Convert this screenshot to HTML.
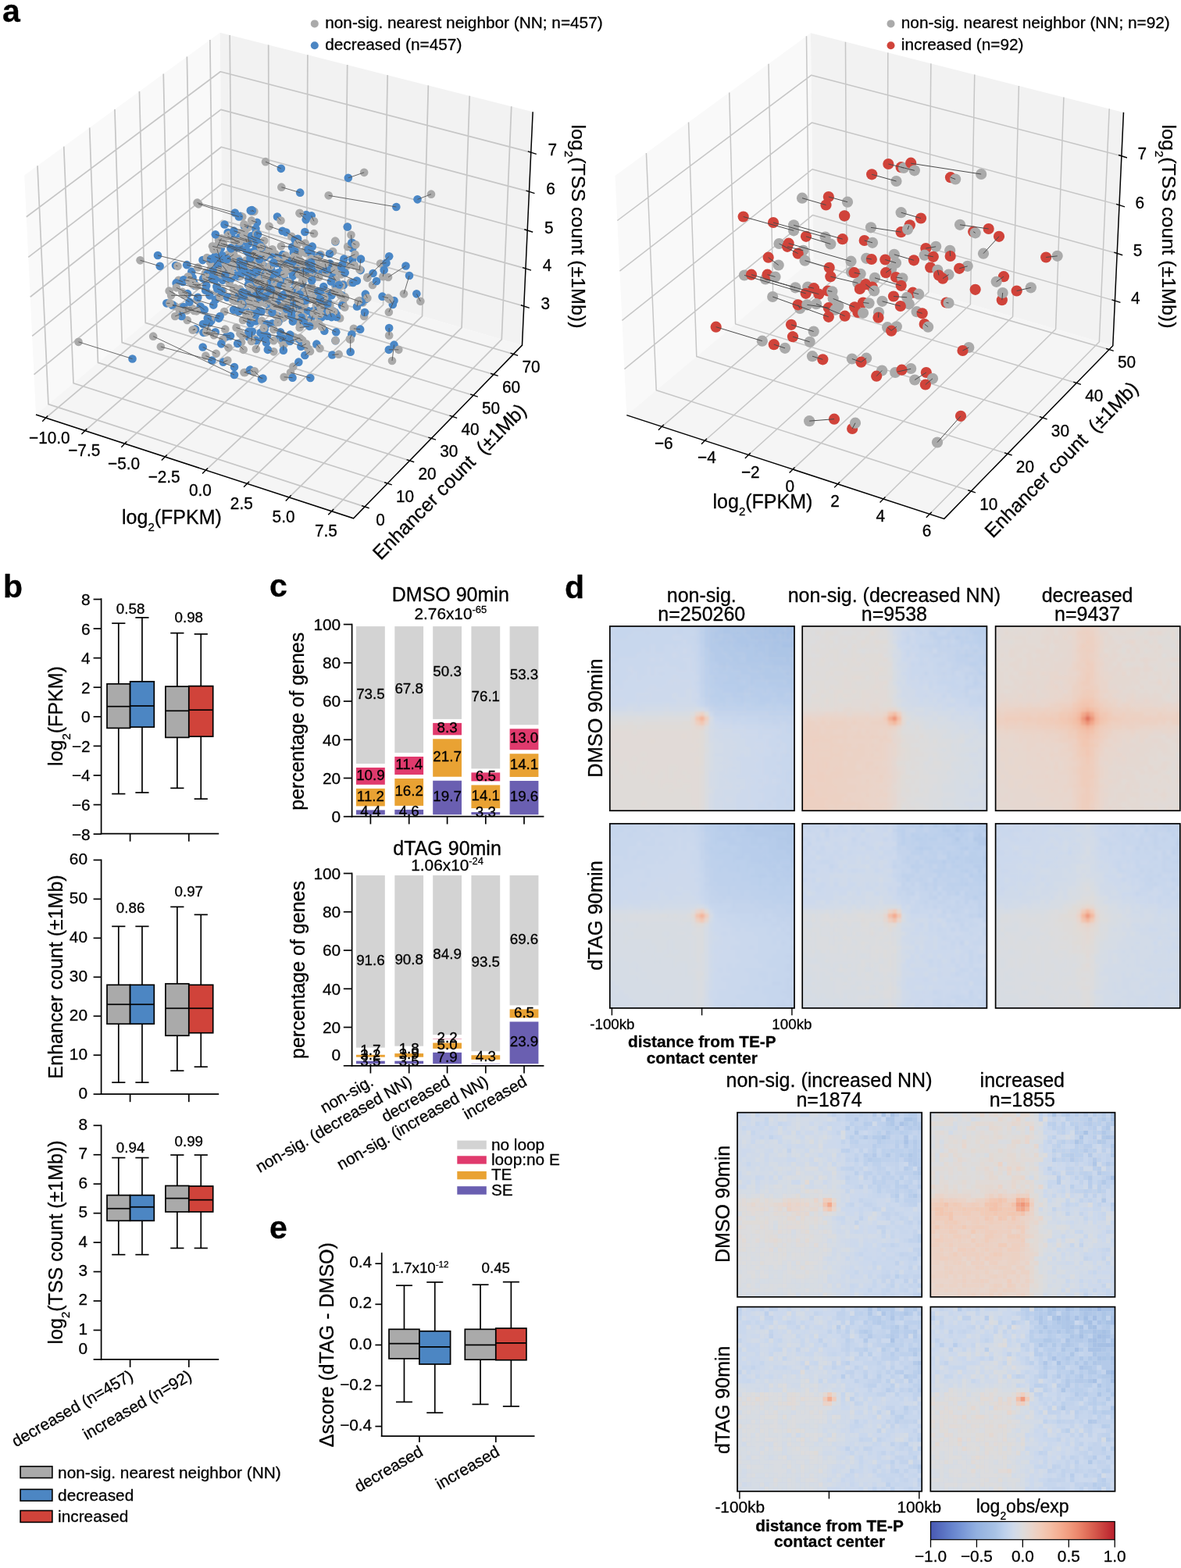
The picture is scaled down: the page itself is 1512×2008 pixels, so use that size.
<!DOCTYPE html>
<html lang="en"><head><meta charset="utf-8"><title>Figure</title><style>html,body{margin:0;padding:0;background:#fff;overflow:hidden}svg{display:block}</style></head><body>
<svg width="1512" height="2008" viewBox="0 0 1512 2008" font-family='"Liberation Sans", sans-serif' fill="#000"><style>text{stroke:#000;stroke-width:.3px;stroke-linejoin:round}</style><defs><clipPath id="hc1"><rect x="780.8" y="802" width="236.2" height="236.2"/></clipPath><filter id="hb16" x="-5%" y="-5%" width="110%" height="110%"><feGaussianBlur stdDeviation="0.28"/></filter><clipPath id="hc2"><rect x="1027.2" y="802" width="236.2" height="236.2"/></clipPath><filter id="hb15" x="-5%" y="-5%" width="110%" height="110%"><feGaussianBlur stdDeviation="0.26"/></filter><clipPath id="hc3"><rect x="1274.6" y="802" width="236.2" height="236.2"/></clipPath><clipPath id="hc4"><rect x="780.8" y="1054.8" width="236.2" height="236.2"/></clipPath><clipPath id="hc5"><rect x="1027.2" y="1054.8" width="236.2" height="236.2"/></clipPath><filter id="hb13" x="-5%" y="-5%" width="110%" height="110%"><feGaussianBlur stdDeviation="0.23"/></filter><clipPath id="hc6"><rect x="1274.6" y="1054.8" width="236.2" height="236.2"/></clipPath><filter id="hb14" x="-5%" y="-5%" width="110%" height="110%"><feGaussianBlur stdDeviation="0.24"/></filter><clipPath id="hc7"><rect x="944" y="1424.7" width="236.2" height="236.2"/></clipPath><filter id="hb5" x="-5%" y="-5%" width="110%" height="110%"><feGaussianBlur stdDeviation="0.09"/></filter><clipPath id="hc8"><rect x="1191.3" y="1424.7" width="236.2" height="236.2"/></clipPath><clipPath id="hc9"><rect x="944" y="1673.6" width="236.2" height="236.2"/></clipPath><clipPath id="hc10"><rect x="1191.3" y="1673.6" width="236.2" height="236.2"/></clipPath><linearGradient id="cb" x1="0" x2="1" y1="0" y2="0"><stop offset="0" stop-color="#4858b2"/><stop offset="0.05" stop-color="#556bbe"/><stop offset="0.1" stop-color="#627eca"/><stop offset="0.15" stop-color="#718fd3"/><stop offset="0.2" stop-color="#82a0da"/><stop offset="0.25" stop-color="#92b0e0"/><stop offset="0.3" stop-color="#9db9e2"/><stop offset="0.35" stop-color="#a8c2e5"/><stop offset="0.4" stop-color="#bcd0ec"/><stop offset="0.45" stop-color="#cfdaea"/><stop offset="0.5" stop-color="#dddcdc"/><stop offset="0.55" stop-color="#e9d5cb"/><stop offset="0.6" stop-color="#f1cbb8"/><stop offset="0.65" stop-color="#f4bea5"/><stop offset="0.7" stop-color="#f4ae92"/><stop offset="0.75" stop-color="#f19c7f"/><stop offset="0.8" stop-color="#eb876c"/><stop offset="0.85" stop-color="#e06e59"/><stop offset="0.9" stop-color="#d35449"/><stop offset="0.95" stop-color="#c6393a"/><stop offset="1" stop-color="#b81e2c"/></linearGradient></defs>
<rect x="0" y="0" width="1512" height="2008" fill="#fff"/>
<polygon points="45.98,531 284.97,330.67 281.65,41.76 31.22,224.51" fill="#f9f9f9"/>
<polygon points="284.97,330.67 668.48,442.14 682.16,143.28 281.65,41.76" fill="#f2f2f2"/>
<polygon points="45.98,531 452.51,663.78 668.48,442.14 284.97,330.67" fill="#f5f5f5"/>
<path d="M58.64 535.14L296.97 334.16L294.15 44.93M108.83 551.53L344.49 347.97L343.69 57.49M159.69 568.14L392.59 361.95L393.87 70.2M211.24 584.98L441.29 376.11L444.69 83.09M263.5 602.05L490.59 390.44L496.18 96.14M316.47 619.35L540.52 404.95L548.34 109.36M370.17 636.89L591.08 419.65L601.19 122.75M424.62 654.67L642.28 434.53L654.75 136.33M466.99 648.92L61.93 517.63L48 212.27M496.1 619.05L94.04 490.71L81.74 187.65M524.53 589.86L125.45 464.39L114.7 163.59M552.32 561.34L156.17 438.63L146.92 140.08M579.49 533.46L186.24 413.43L178.43 117.09M606.06 506.2L215.68 388.75L209.24 94.6M632.04 479.54L244.5 364.6L239.37 72.61M657.45 453.45L272.72 340.94L268.86 51.09M43.51 479.71L284.41 282.16L670.77 392.05M41.13 430.34L283.88 235.54L672.98 343.87M38.72 380.24L283.33 188.28L675.21 295M36.27 329.37L282.78 140.36L677.48 245.41M33.78 277.74L282.22 91.77L679.79 195.1" fill="none" stroke="#c6c6c6" stroke-width="1.7" stroke-linejoin="round"/>
<polygon points="802.28,531.6 1041.27,331.27 1037.95,42.36 787.52,225.11" fill="#f9f9f9"/>
<polygon points="1041.27,331.27 1424.78,442.74 1438.46,143.88 1037.95,42.36" fill="#f2f2f2"/>
<polygon points="802.28,531.6 1208.81,664.38 1424.78,442.74 1041.27,331.27" fill="#f5f5f5"/>
<path d="M847.35 546.33L1083.96 343.68L1082.45 53.64M902.42 564.31L1136.05 358.82L1136.78 67.41M958.29 582.56L1188.85 374.17L1191.87 81.37M1014.99 601.08L1242.36 389.72L1247.75 95.54M1072.54 619.87L1296.6 405.49L1304.41 109.9M1130.95 638.95L1351.59 421.47L1361.9 124.47M1190.24 658.31L1407.34 437.67L1420.21 139.25M1243.24 629.04L840.24 499.78L827.42 195.99M1289.94 581.12L891.81 456.56L881.56 156.49M1334.91 534.97L941.57 414.85L933.71 118.43M1378.25 490.48L989.61 374.58L983.98 81.75M1420.05 447.59L1036.03 335.67L1032.47 46.36M799.43 472.57L1040.63 275.45L1427.41 385.1M796.44 410.39L1039.95 216.75L1430.19 324.43M793.39 347.05L1039.27 157.04L1433.02 262.65M790.28 282.49L1038.57 96.28L1435.9 199.75" fill="none" stroke="#c6c6c6" stroke-width="1.5" stroke-linejoin="round"/>
<g fill="#4a87c6"><circle cx="339.19" cy="345.52" r="5.3"/></g><g fill="#aaaaaa"><circle cx="349.48" cy="349.12" r="5.3"/><circle cx="331.92" cy="368.88" r="5.3"/></g><g fill="#4a87c6"><circle cx="360.75" cy="379.65" r="5.3"/><circle cx="337.64" cy="340.57" r="5.3"/></g><g fill="#aaaaaa"><circle cx="304.84" cy="331.23" r="5.3"/></g><g fill="#4a87c6"><circle cx="316.97" cy="348.71" r="5.3"/></g><g fill="#aaaaaa"><circle cx="317.81" cy="349.09" r="5.3"/></g><g fill="#4a87c6"><circle cx="314.97" cy="344.61" r="5.3"/></g><g fill="#aaaaaa"><circle cx="316.35" cy="345.08" r="5.3"/></g><g fill="#4a87c6"><circle cx="375.92" cy="342.77" r="5.3"/></g><g fill="#aaaaaa"><circle cx="384.66" cy="343.34" r="5.3"/><circle cx="383.35" cy="411.53" r="5.3"/></g><g fill="#4a87c6"><circle cx="384.95" cy="415.29" r="5.3"/><circle cx="387.09" cy="362.68" r="5.3"/></g><g fill="#aaaaaa"><circle cx="398.69" cy="366.57" r="5.3"/><circle cx="295.28" cy="380.04" r="5.3"/></g><g fill="#4a87c6"><circle cx="307.39" cy="382.62" r="5.3"/><circle cx="451.18" cy="332.42" r="5.3"/></g><g fill="#aaaaaa"><circle cx="443.94" cy="340.42" r="5.3"/></g><g fill="#4a87c6"><circle cx="370.26" cy="346.42" r="5.3"/></g><g fill="#aaaaaa"><circle cx="386.78" cy="349.46" r="5.3"/><circle cx="403.04" cy="346.66" r="5.3"/></g><g fill="#4a87c6"><circle cx="386.98" cy="341.91" r="5.3"/><circle cx="430.43" cy="359.69" r="5.3"/></g><g fill="#aaaaaa"><circle cx="425.91" cy="353.27" r="5.3"/></g><g fill="#4a87c6"><circle cx="404.85" cy="341.55" r="5.3"/></g><g fill="#aaaaaa"><circle cx="416.29" cy="346.02" r="5.3"/><circle cx="325.74" cy="433.81" r="5.3"/></g><g fill="#4a87c6"><circle cx="340.96" cy="438.73" r="5.3"/><circle cx="382.18" cy="391.6" r="5.3"/></g><g fill="#aaaaaa"><circle cx="330.92" cy="375.23" r="5.3"/><circle cx="310.54" cy="316.21" r="5.3"/></g><g fill="#4a87c6"><circle cx="306.67" cy="316.62" r="5.3"/></g><g fill="#aaaaaa"><circle cx="431.34" cy="403.06" r="5.3"/></g><g fill="#4a87c6"><circle cx="430.29" cy="402.78" r="5.3"/><circle cx="388.71" cy="384.22" r="5.3"/></g><g fill="#aaaaaa"><circle cx="368.78" cy="378.04" r="5.3"/><circle cx="436.6" cy="351.42" r="5.3"/></g><g fill="#4a87c6"><circle cx="456.85" cy="359.62" r="5.3"/></g><g fill="#aaaaaa"><circle cx="327.91" cy="324.66" r="5.3"/></g><g fill="#4a87c6"><circle cx="322.45" cy="322.98" r="5.3"/><circle cx="332.51" cy="360.85" r="5.3"/></g><g fill="#aaaaaa"><circle cx="335.63" cy="362.32" r="5.3"/><circle cx="389.48" cy="383.29" r="5.3"/></g><g fill="#4a87c6"><circle cx="426.04" cy="398.31" r="5.3"/><circle cx="327.68" cy="297.45" r="5.3"/></g><g fill="#aaaaaa"><circle cx="391.11" cy="320.39" r="5.3"/><circle cx="337.95" cy="366" r="5.3"/></g><g fill="#4a87c6"><circle cx="325.5" cy="361.7" r="5.3"/><circle cx="275.8" cy="341.99" r="5.3"/></g><g fill="#aaaaaa"><circle cx="283.43" cy="344.43" r="5.3"/></g><g fill="#4a87c6"><circle cx="317.9" cy="364.53" r="5.3"/></g><g fill="#aaaaaa"><circle cx="334.46" cy="370.8" r="5.3"/></g><g fill="#4a87c6"><circle cx="315.19" cy="348.54" r="5.3"/></g><g fill="#aaaaaa"><circle cx="327.99" cy="353.21" r="5.3"/></g><g fill="#4a87c6"><circle cx="362.15" cy="342.89" r="5.3"/></g><g fill="#aaaaaa"><circle cx="326.42" cy="326.52" r="5.3"/></g><g fill="#4a87c6"><circle cx="424.24" cy="375.42" r="5.3"/></g><g fill="#aaaaaa"><circle cx="441.25" cy="380.02" r="5.3"/></g><g fill="#4a87c6"><circle cx="424.86" cy="350.02" r="5.3"/></g><g fill="#aaaaaa"><circle cx="392.59" cy="337.46" r="5.3"/><circle cx="283.38" cy="305.4" r="5.3"/></g><g fill="#4a87c6"><circle cx="277.7" cy="316.66" r="5.3"/></g><g fill="#aaaaaa"><circle cx="405.93" cy="352.58" r="5.3"/></g><g fill="#4a87c6"><circle cx="407.73" cy="353.21" r="5.3"/><circle cx="275.85" cy="383.66" r="5.3"/></g><g fill="#aaaaaa"><circle cx="308.03" cy="395.41" r="5.3"/><circle cx="316.18" cy="407.7" r="5.3"/></g><g fill="#4a87c6"><circle cx="327.55" cy="411.16" r="5.3"/></g><g fill="#aaaaaa"><circle cx="412.75" cy="401.95" r="5.3"/></g><g fill="#4a87c6"><circle cx="419.17" cy="404.64" r="5.3"/></g><g fill="#aaaaaa"><circle cx="358.95" cy="406.01" r="5.3"/></g><g fill="#4a87c6"><circle cx="355.48" cy="404.76" r="5.3"/><circle cx="418.51" cy="344.91" r="5.3"/></g><g fill="#aaaaaa"><circle cx="379.37" cy="328.8" r="5.3"/></g><g fill="#4a87c6"><circle cx="375.6" cy="339.63" r="5.3"/></g><g fill="#aaaaaa"><circle cx="358.53" cy="333.07" r="5.3"/></g><g fill="#4a87c6"><circle cx="270.35" cy="410.8" r="5.3"/></g><g fill="#aaaaaa"><circle cx="269.06" cy="409.22" r="5.3"/></g><g fill="#4a87c6"><circle cx="357.71" cy="432.96" r="5.3"/></g><g fill="#aaaaaa"><circle cx="394.18" cy="446.36" r="5.3"/><circle cx="335.72" cy="330.28" r="5.3"/></g><g fill="#4a87c6"><circle cx="282.75" cy="311.61" r="5.3"/><circle cx="366.37" cy="297.48" r="5.3"/></g><g fill="#aaaaaa"><circle cx="390.62" cy="311.47" r="5.3"/></g><g fill="#4a87c6"><circle cx="341.14" cy="388.69" r="5.3"/></g><g fill="#aaaaaa"><circle cx="340.43" cy="388.49" r="5.3"/><circle cx="349.48" cy="382.8" r="5.3"/></g><g fill="#4a87c6"><circle cx="350.52" cy="373.29" r="5.3"/><circle cx="421.78" cy="349.96" r="5.3"/></g><g fill="#aaaaaa"><circle cx="428.72" cy="345.53" r="5.3"/><circle cx="334.98" cy="367.54" r="5.3"/></g><g fill="#4a87c6"><circle cx="333.57" cy="368.48" r="5.3"/></g><g fill="#aaaaaa"><circle cx="322.41" cy="403.41" r="5.3"/></g><g fill="#4a87c6"><circle cx="321.68" cy="401.4" r="5.3"/><circle cx="422.28" cy="337.47" r="5.3"/></g><g fill="#aaaaaa"><circle cx="431.76" cy="340.94" r="5.3"/></g><g fill="#4a87c6"><circle cx="347.98" cy="326.14" r="5.3"/></g><g fill="#aaaaaa"><circle cx="332.35" cy="321.77" r="5.3"/></g><g fill="#4a87c6"><circle cx="451.3" cy="317.96" r="5.3"/></g><g fill="#aaaaaa"><circle cx="445.12" cy="315.92" r="5.3"/></g><g fill="#4a87c6"><circle cx="316.49" cy="374.83" r="5.3"/></g><g fill="#aaaaaa"><circle cx="332.12" cy="381.78" r="5.3"/><circle cx="420" cy="376.35" r="5.3"/></g><g fill="#4a87c6"><circle cx="424.5" cy="378.31" r="5.3"/></g><g fill="#aaaaaa"><circle cx="347.31" cy="366.51" r="5.3"/></g><g fill="#4a87c6"><circle cx="318.94" cy="355.72" r="5.3"/><circle cx="347.45" cy="359.09" r="5.3"/></g><g fill="#aaaaaa"><circle cx="345.26" cy="359.3" r="5.3"/></g><g fill="#4a87c6"><circle cx="382.28" cy="373.89" r="5.3"/></g><g fill="#aaaaaa"><circle cx="383.06" cy="374.12" r="5.3"/></g><g fill="#4a87c6"><circle cx="373.67" cy="371.8" r="5.3"/></g><g fill="#aaaaaa"><circle cx="379.14" cy="365.03" r="5.3"/><circle cx="401.23" cy="382.23" r="5.3"/></g><g fill="#4a87c6"><circle cx="406.16" cy="384.04" r="5.3"/></g><g fill="#aaaaaa"><circle cx="317.69" cy="304.26" r="5.3"/></g><g fill="#4a87c6"><circle cx="318.42" cy="309.11" r="5.3"/></g><g fill="#aaaaaa"><circle cx="357.51" cy="392.65" r="5.3"/></g><g fill="#4a87c6"><circle cx="371.97" cy="399.01" r="5.3"/></g><g fill="#aaaaaa"><circle cx="464.46" cy="387.52" r="5.3"/></g><g fill="#4a87c6"><circle cx="437.33" cy="378.06" r="5.3"/><circle cx="291.72" cy="297.87" r="5.3"/></g><g fill="#aaaaaa"><circle cx="292.79" cy="300.78" r="5.3"/><circle cx="365.3" cy="328.42" r="5.3"/></g><g fill="#4a87c6"><circle cx="351.89" cy="325.73" r="5.3"/><circle cx="348.59" cy="414.31" r="5.3"/></g><g fill="#aaaaaa"><circle cx="335.11" cy="410.76" r="5.3"/><circle cx="341.76" cy="364.54" r="5.3"/></g><g fill="#4a87c6"><circle cx="329.58" cy="374.98" r="5.3"/></g><g fill="#aaaaaa"><circle cx="279.07" cy="352.09" r="5.3"/></g><g fill="#4a87c6"><circle cx="268.95" cy="348.76" r="5.3"/></g><g fill="#aaaaaa"><circle cx="313.97" cy="345.15" r="5.3"/></g><g fill="#4a87c6"><circle cx="308.08" cy="341.83" r="5.3"/><circle cx="394.56" cy="410.29" r="5.3"/></g><g fill="#aaaaaa"><circle cx="382.54" cy="404.97" r="5.3"/></g><g fill="#4a87c6"><circle cx="401.25" cy="398" r="5.3"/></g><g fill="#aaaaaa"><circle cx="405.8" cy="395.68" r="5.3"/></g><g fill="#4a87c6"><circle cx="334.45" cy="337.57" r="5.3"/></g><g fill="#aaaaaa"><circle cx="335.45" cy="337.98" r="5.3"/><circle cx="282.41" cy="331.59" r="5.3"/></g><g fill="#4a87c6"><circle cx="275.26" cy="328.61" r="5.3"/><circle cx="346.43" cy="369.06" r="5.3"/></g><g fill="#aaaaaa"><circle cx="304.05" cy="352.72" r="5.3"/><circle cx="382.57" cy="325.42" r="5.3"/></g><g fill="#4a87c6"><circle cx="375.89" cy="323.43" r="5.3"/><circle cx="352.5" cy="366.4" r="5.3"/></g><g fill="#aaaaaa"><circle cx="409.3" cy="391.42" r="5.3"/><circle cx="319.82" cy="345.5" r="5.3"/></g><g fill="#4a87c6"><circle cx="324.4" cy="347.21" r="5.3"/></g><g fill="#aaaaaa"><circle cx="386.14" cy="400.66" r="5.3"/></g><g fill="#4a87c6"><circle cx="347.55" cy="390.05" r="5.3"/></g><g fill="#aaaaaa"><circle cx="324.92" cy="357.54" r="5.3"/></g><g fill="#4a87c6"><circle cx="338.19" cy="360.64" r="5.3"/></g><g fill="#aaaaaa"><circle cx="429.16" cy="365.73" r="5.3"/></g><g fill="#4a87c6"><circle cx="430.84" cy="366.54" r="5.3"/></g><g fill="#aaaaaa"><circle cx="326.41" cy="325" r="5.3"/></g><g fill="#4a87c6"><circle cx="323.9" cy="328.13" r="5.3"/><circle cx="289.69" cy="431.21" r="5.3"/></g><g fill="#aaaaaa"><circle cx="309.1" cy="438.29" r="5.3"/><circle cx="467.58" cy="382.57" r="5.3"/></g><g fill="#4a87c6"><circle cx="468.47" cy="382.9" r="5.3"/><circle cx="362.56" cy="406.66" r="5.3"/></g><g fill="#aaaaaa"><circle cx="352.75" cy="403.28" r="5.3"/></g><g fill="#4a87c6"><circle cx="327.54" cy="369.29" r="5.3"/></g><g fill="#aaaaaa"><circle cx="329.32" cy="378.44" r="5.3"/><circle cx="387.08" cy="411.87" r="5.3"/></g><g fill="#4a87c6"><circle cx="384.73" cy="410.89" r="5.3"/></g><g fill="#aaaaaa"><circle cx="262.53" cy="352.24" r="5.3"/></g><g fill="#4a87c6"><circle cx="245.31" cy="347.91" r="5.3"/><circle cx="330.3" cy="381.95" r="5.3"/></g><g fill="#aaaaaa"><circle cx="320.39" cy="378.27" r="5.3"/></g><g fill="#4a87c6"><circle cx="316.2" cy="375.74" r="5.3"/></g><g fill="#aaaaaa"><circle cx="333.34" cy="381.33" r="5.3"/><circle cx="438.47" cy="364.4" r="5.3"/></g><g fill="#4a87c6"><circle cx="439.83" cy="364.92" r="5.3"/></g><g fill="#aaaaaa"><circle cx="376.78" cy="396.07" r="5.3"/></g><g fill="#4a87c6"><circle cx="355.69" cy="389.48" r="5.3"/><circle cx="366.37" cy="363.76" r="5.3"/></g><g fill="#aaaaaa"><circle cx="335.39" cy="354.76" r="5.3"/><circle cx="332.54" cy="397.74" r="5.3"/></g><g fill="#4a87c6"><circle cx="327.69" cy="394.24" r="5.3"/></g><g fill="#aaaaaa"><circle cx="364.7" cy="389.01" r="5.3"/></g><g fill="#4a87c6"><circle cx="394.19" cy="398.1" r="5.3"/><circle cx="371.33" cy="360.59" r="5.3"/></g><g fill="#aaaaaa"><circle cx="435.97" cy="378.29" r="5.3"/><circle cx="438.99" cy="388.1" r="5.3"/></g><g fill="#4a87c6"><circle cx="438.04" cy="391.2" r="5.3"/></g><g fill="#aaaaaa"><circle cx="300.99" cy="385.5" r="5.3"/></g><g fill="#4a87c6"><circle cx="307.34" cy="386.82" r="5.3"/></g><g fill="#aaaaaa"><circle cx="401.35" cy="328.24" r="5.3"/></g><g fill="#4a87c6"><circle cx="438.24" cy="339.12" r="5.3"/><circle cx="275.7" cy="425.29" r="5.3"/></g><g fill="#aaaaaa"><circle cx="239.71" cy="410" r="5.3"/><circle cx="277.31" cy="366.91" r="5.3"/></g><g fill="#4a87c6"><circle cx="277.5" cy="366.98" r="5.3"/><circle cx="324.46" cy="374.98" r="5.3"/></g><g fill="#aaaaaa"><circle cx="323.51" cy="374.81" r="5.3"/><circle cx="331.07" cy="327.15" r="5.3"/></g><g fill="#4a87c6"><circle cx="317.61" cy="323.25" r="5.3"/></g><g fill="#aaaaaa"><circle cx="311.05" cy="410" r="5.3"/></g><g fill="#4a87c6"><circle cx="320.75" cy="414.16" r="5.3"/><circle cx="296.16" cy="302.82" r="5.3"/></g><g fill="#aaaaaa"><circle cx="321.61" cy="310.59" r="5.3"/><circle cx="273.97" cy="429.25" r="5.3"/></g><g fill="#4a87c6"><circle cx="261.5" cy="425.73" r="5.3"/></g><g fill="#aaaaaa"><circle cx="410.47" cy="325.71" r="5.3"/></g><g fill="#4a87c6"><circle cx="409.14" cy="327.37" r="5.3"/></g><g fill="#aaaaaa"><circle cx="404.86" cy="391.33" r="5.3"/></g><g fill="#4a87c6"><circle cx="407.53" cy="392.46" r="5.3"/></g><g fill="#aaaaaa"><circle cx="394.6" cy="372.26" r="5.3"/></g><g fill="#4a87c6"><circle cx="410.87" cy="376.81" r="5.3"/><circle cx="295.53" cy="317.38" r="5.3"/></g><g fill="#aaaaaa"><circle cx="279.02" cy="313.42" r="5.3"/></g><g fill="#4a87c6"><circle cx="348.35" cy="356.06" r="5.3"/></g><g fill="#aaaaaa"><circle cx="347.69" cy="355.82" r="5.3"/><circle cx="317.81" cy="291.19" r="5.3"/></g><g fill="#4a87c6"><circle cx="312.93" cy="289.61" r="5.3"/></g><g fill="#aaaaaa"><circle cx="287.14" cy="399" r="5.3"/></g><g fill="#4a87c6"><circle cx="321.99" cy="410.33" r="5.3"/></g><g fill="#aaaaaa"><circle cx="332.09" cy="361.67" r="5.3"/></g><g fill="#4a87c6"><circle cx="327.32" cy="360.26" r="5.3"/></g><g fill="#aaaaaa"><circle cx="382.18" cy="323.11" r="5.3"/></g><g fill="#4a87c6"><circle cx="377.2" cy="321.34" r="5.3"/><circle cx="282.71" cy="318.21" r="5.3"/></g><g fill="#aaaaaa"><circle cx="272.02" cy="315.29" r="5.3"/></g><g fill="#4a87c6"><circle cx="395.31" cy="342.83" r="5.3"/></g><g fill="#aaaaaa"><circle cx="404.09" cy="347.7" r="5.3"/><circle cx="228.67" cy="358.85" r="5.3"/></g><g fill="#4a87c6"><circle cx="234.17" cy="361.03" r="5.3"/><circle cx="375.85" cy="331.75" r="5.3"/></g><g fill="#aaaaaa"><circle cx="394.07" cy="337.3" r="5.3"/><circle cx="398.4" cy="411.08" r="5.3"/></g><g fill="#4a87c6"><circle cx="400.35" cy="404.36" r="5.3"/><circle cx="225.62" cy="362.41" r="5.3"/></g><g fill="#aaaaaa"><circle cx="263.41" cy="371.19" r="5.3"/></g><g fill="#4a87c6"><circle cx="279.71" cy="347.73" r="5.3"/></g><g fill="#aaaaaa"><circle cx="279.75" cy="347.87" r="5.3"/></g><g fill="#4a87c6"><circle cx="290.6" cy="347.21" r="5.3"/></g><g fill="#aaaaaa"><circle cx="284.59" cy="339.82" r="5.3"/><circle cx="334.67" cy="399.15" r="5.3"/></g><g fill="#4a87c6"><circle cx="334.33" cy="398.9" r="5.3"/></g><g fill="#aaaaaa"><circle cx="400.66" cy="342.33" r="5.3"/></g><g fill="#4a87c6"><circle cx="368.69" cy="333.57" r="5.3"/><circle cx="323.43" cy="342.56" r="5.3"/></g><g fill="#aaaaaa"><circle cx="341.83" cy="346.55" r="5.3"/></g><g fill="#4a87c6"><circle cx="240.11" cy="355.53" r="5.3"/></g><g fill="#aaaaaa"><circle cx="300.72" cy="368.9" r="5.3"/></g><g fill="#4a87c6"><circle cx="274.92" cy="319.89" r="5.3"/></g><g fill="#aaaaaa"><circle cx="273.44" cy="319.42" r="5.3"/></g><g fill="#4a87c6"><circle cx="315.58" cy="389.01" r="5.3"/></g><g fill="#aaaaaa"><circle cx="324.42" cy="391.02" r="5.3"/></g><g fill="#4a87c6"><circle cx="353.64" cy="367.27" r="5.3"/></g><g fill="#aaaaaa"><circle cx="352.23" cy="366.74" r="5.3"/></g><g fill="#4a87c6"><circle cx="371.6" cy="372.92" r="5.3"/></g><g fill="#aaaaaa"><circle cx="355.54" cy="368.13" r="5.3"/></g><g fill="#4a87c6"><circle cx="372.58" cy="383.31" r="5.3"/></g><g fill="#aaaaaa"><circle cx="390.11" cy="390.09" r="5.3"/></g><g fill="#4a87c6"><circle cx="344.98" cy="371.57" r="5.3"/></g><g fill="#aaaaaa"><circle cx="344.6" cy="372.6" r="5.3"/></g><g fill="#4a87c6"><circle cx="429.38" cy="309.42" r="5.3"/></g><g fill="#aaaaaa"><circle cx="429.19" cy="308.63" r="5.3"/></g><g fill="#4a87c6"><circle cx="405.12" cy="402.56" r="5.3"/></g><g fill="#aaaaaa"><circle cx="401.76" cy="401.35" r="5.3"/><circle cx="388.84" cy="406.04" r="5.3"/></g><g fill="#4a87c6"><circle cx="385.78" cy="406.52" r="5.3"/><circle cx="344.59" cy="347.94" r="5.3"/></g><g fill="#aaaaaa"><circle cx="348.22" cy="349.21" r="5.3"/><circle cx="307.42" cy="427.27" r="5.3"/></g><g fill="#4a87c6"><circle cx="318.04" cy="431.37" r="5.3"/><circle cx="260.16" cy="356.84" r="5.3"/></g><g fill="#aaaaaa"><circle cx="317.89" cy="382.05" r="5.3"/></g><g fill="#4a87c6"><circle cx="220.82" cy="390.93" r="5.3"/></g><g fill="#aaaaaa"><circle cx="223.83" cy="392.1" r="5.3"/><circle cx="433.34" cy="347.6" r="5.3"/></g><g fill="#4a87c6"><circle cx="441.69" cy="349.34" r="5.3"/><circle cx="354.59" cy="337.17" r="5.3"/></g><g fill="#aaaaaa"><circle cx="381.98" cy="342.98" r="5.3"/><circle cx="391.32" cy="324.09" r="5.3"/></g><g fill="#4a87c6"><circle cx="398.45" cy="324.73" r="5.3"/></g><g fill="#aaaaaa"><circle cx="304.26" cy="373.17" r="5.3"/></g><g fill="#4a87c6"><circle cx="311.71" cy="379.71" r="5.3"/></g><g fill="#aaaaaa"><circle cx="448.91" cy="361.66" r="5.3"/></g><g fill="#4a87c6"><circle cx="451.96" cy="362" r="5.3"/></g><g fill="#aaaaaa"><circle cx="363.94" cy="404.02" r="5.3"/></g><g fill="#4a87c6"><circle cx="386.56" cy="410.25" r="5.3"/></g><g fill="#aaaaaa"><circle cx="441.94" cy="381.22" r="5.3"/></g><g fill="#4a87c6"><circle cx="425.18" cy="376.22" r="5.3"/></g><g fill="#aaaaaa"><circle cx="310.6" cy="430.1" r="5.3"/></g><g fill="#4a87c6"><circle cx="327.8" cy="436.16" r="5.3"/></g><g fill="#aaaaaa"><circle cx="294.74" cy="334.1" r="5.3"/></g><g fill="#4a87c6"><circle cx="301.92" cy="336.06" r="5.3"/></g><g fill="#aaaaaa"><circle cx="425.53" cy="341.47" r="5.3"/></g><g fill="#4a87c6"><circle cx="420.15" cy="339.02" r="5.3"/><circle cx="339.03" cy="320.96" r="5.3"/></g><g fill="#aaaaaa"><circle cx="339.3" cy="321.04" r="5.3"/></g><g fill="#4a87c6"><circle cx="399.76" cy="315.64" r="5.3"/></g><g fill="#aaaaaa"><circle cx="381.59" cy="310.16" r="5.3"/><circle cx="342.3" cy="367.44" r="5.3"/></g><g fill="#4a87c6"><circle cx="342" cy="360.46" r="5.3"/></g><g fill="#aaaaaa"><circle cx="361.75" cy="337.58" r="5.3"/></g><g fill="#4a87c6"><circle cx="395.84" cy="350.6" r="5.3"/><circle cx="329.03" cy="284.84" r="5.3"/></g><g fill="#aaaaaa"><circle cx="322.06" cy="282.41" r="5.3"/><circle cx="359.89" cy="408.24" r="5.3"/></g><g fill="#4a87c6"><circle cx="314.94" cy="398.53" r="5.3"/><circle cx="285.1" cy="358.83" r="5.3"/></g><g fill="#aaaaaa"><circle cx="293.71" cy="362.15" r="5.3"/></g><g fill="#4a87c6"><circle cx="339.32" cy="329.37" r="5.3"/></g><g fill="#aaaaaa"><circle cx="335.84" cy="327.96" r="5.3"/><circle cx="322.22" cy="271.02" r="5.3"/></g><g fill="#4a87c6"><circle cx="320.8" cy="269.45" r="5.3"/></g><g fill="#aaaaaa"><circle cx="368.92" cy="383.07" r="5.3"/></g><g fill="#4a87c6"><circle cx="381.34" cy="386.91" r="5.3"/><circle cx="374.1" cy="316.4" r="5.3"/></g><g fill="#aaaaaa"><circle cx="359.91" cy="315.34" r="5.3"/><circle cx="338.45" cy="318.54" r="5.3"/></g><g fill="#4a87c6"><circle cx="317.85" cy="311.97" r="5.3"/></g><g fill="#aaaaaa"><circle cx="419.46" cy="395.44" r="5.3"/></g><g fill="#4a87c6"><circle cx="420.56" cy="395.83" r="5.3"/><circle cx="324.37" cy="344.24" r="5.3"/></g><g fill="#aaaaaa"><circle cx="290.99" cy="330.46" r="5.3"/><circle cx="334.22" cy="362.57" r="5.3"/></g><g fill="#4a87c6"><circle cx="420.2" cy="387.38" r="5.3"/></g><g fill="#aaaaaa"><circle cx="285.07" cy="352.36" r="5.3"/></g><g fill="#4a87c6"><circle cx="287.34" cy="352.97" r="5.3"/></g><g fill="#aaaaaa"><circle cx="300.37" cy="397.35" r="5.3"/></g><g fill="#4a87c6"><circle cx="299.13" cy="396.71" r="5.3"/><circle cx="361.63" cy="295.71" r="5.3"/></g><g fill="#aaaaaa"><circle cx="344.56" cy="289.73" r="5.3"/><circle cx="233.18" cy="373.86" r="5.3"/></g><g fill="#4a87c6"><circle cx="240.1" cy="376.16" r="5.3"/></g><g fill="#aaaaaa"><circle cx="426.1" cy="322.1" r="5.3"/></g><g fill="#4a87c6"><circle cx="421.99" cy="324.94" r="5.3"/></g><g fill="#aaaaaa"><circle cx="403.62" cy="373.84" r="5.3"/></g><g fill="#4a87c6"><circle cx="418.81" cy="380.33" r="5.3"/></g><g fill="#aaaaaa"><circle cx="307.72" cy="298.46" r="5.3"/></g><g fill="#4a87c6"><circle cx="299.33" cy="295.65" r="5.3"/><circle cx="389.07" cy="373.1" r="5.3"/></g><g fill="#aaaaaa"><circle cx="390.05" cy="373.38" r="5.3"/><circle cx="367.56" cy="378.7" r="5.3"/></g><g fill="#4a87c6"><circle cx="376.58" cy="382.49" r="5.3"/></g><g fill="#aaaaaa"><circle cx="352.13" cy="325.07" r="5.3"/></g><g fill="#4a87c6"><circle cx="377.99" cy="332.07" r="5.3"/><circle cx="412.63" cy="348.48" r="5.3"/></g><g fill="#aaaaaa"><circle cx="417.4" cy="349.66" r="5.3"/></g><g fill="#4a87c6"><circle cx="437.08" cy="341.85" r="5.3"/></g><g fill="#aaaaaa"><circle cx="407" cy="331.51" r="5.3"/><circle cx="378.38" cy="408.68" r="5.3"/></g><g fill="#4a87c6"><circle cx="385.65" cy="411.04" r="5.3"/></g><g fill="#aaaaaa"><circle cx="355.44" cy="376.25" r="5.3"/></g><g fill="#4a87c6"><circle cx="338.19" cy="369.75" r="5.3"/><circle cx="375.11" cy="396.14" r="5.3"/></g><g fill="#aaaaaa"><circle cx="375.34" cy="385.78" r="5.3"/><circle cx="330.34" cy="311.24" r="5.3"/></g><g fill="#4a87c6"><circle cx="306.89" cy="304.24" r="5.3"/><circle cx="320.86" cy="374.72" r="5.3"/></g><g fill="#aaaaaa"><circle cx="307.11" cy="370.25" r="5.3"/></g><g fill="#4a87c6"><circle cx="384.23" cy="414.99" r="5.3"/></g><g fill="#aaaaaa"><circle cx="383.89" cy="414.89" r="5.3"/></g><g fill="#4a87c6"><circle cx="318.41" cy="424.7" r="5.3"/></g><g fill="#aaaaaa"><circle cx="302.55" cy="419.54" r="5.3"/><circle cx="314.63" cy="390.45" r="5.3"/></g><g fill="#4a87c6"><circle cx="310.48" cy="389.5" r="5.3"/><circle cx="394.84" cy="383.14" r="5.3"/></g><g fill="#aaaaaa"><circle cx="387.28" cy="359.3" r="5.3"/><circle cx="344.71" cy="323.14" r="5.3"/></g><g fill="#4a87c6"><circle cx="345.11" cy="325.61" r="5.3"/><circle cx="388.58" cy="343.5" r="5.3"/></g><g fill="#aaaaaa"><circle cx="388.22" cy="354.95" r="5.3"/></g><g fill="#4a87c6"><circle cx="316.05" cy="310.32" r="5.3"/></g><g fill="#aaaaaa"><circle cx="314.7" cy="305.72" r="5.3"/><circle cx="371.81" cy="332.78" r="5.3"/></g><g fill="#4a87c6"><circle cx="397.21" cy="339.75" r="5.3"/></g><g fill="#aaaaaa"><circle cx="274.24" cy="351.54" r="5.3"/></g><g fill="#4a87c6"><circle cx="296.55" cy="356.26" r="5.3"/><circle cx="384.76" cy="342.04" r="5.3"/></g><g fill="#aaaaaa"><circle cx="429.79" cy="358.52" r="5.3"/><circle cx="341.46" cy="323.99" r="5.3"/></g><g fill="#4a87c6"><circle cx="353.28" cy="329.71" r="5.3"/></g><g fill="#aaaaaa"><circle cx="407.28" cy="404.74" r="5.3"/></g><g fill="#4a87c6"><circle cx="411.88" cy="406.14" r="5.3"/><circle cx="376.2" cy="333.77" r="5.3"/></g><g fill="#aaaaaa"><circle cx="388.31" cy="339.1" r="5.3"/><circle cx="279.97" cy="307.22" r="5.3"/></g><g fill="#4a87c6"><circle cx="305.19" cy="312.01" r="5.3"/><circle cx="327.45" cy="292.85" r="5.3"/></g><g fill="#aaaaaa"><circle cx="312.41" cy="287.37" r="5.3"/></g><g fill="#4a87c6"><circle cx="369.64" cy="394.99" r="5.3"/></g><g fill="#aaaaaa"><circle cx="373.06" cy="395.53" r="5.3"/></g><g fill="#4a87c6"><circle cx="377.1" cy="432.27" r="5.3"/></g><g fill="#aaaaaa"><circle cx="377.34" cy="432.32" r="5.3"/></g><g fill="#4a87c6"><circle cx="341.75" cy="414.98" r="5.3"/></g><g fill="#aaaaaa"><circle cx="373.34" cy="429.9" r="5.3"/></g><g fill="#4a87c6"><circle cx="246.57" cy="355.4" r="5.3"/></g><g fill="#aaaaaa"><circle cx="240.8" cy="354.25" r="5.3"/><circle cx="436.82" cy="365.81" r="5.3"/></g><g fill="#4a87c6"><circle cx="433.88" cy="365.01" r="5.3"/></g><g fill="#aaaaaa"><circle cx="323.15" cy="405.99" r="5.3"/></g><g fill="#4a87c6"><circle cx="327.3" cy="403.11" r="5.3"/><circle cx="366.38" cy="432.81" r="5.3"/></g><g fill="#aaaaaa"><circle cx="360.62" cy="436.53" r="5.3"/><circle cx="335.27" cy="369.57" r="5.3"/></g><g fill="#4a87c6"><circle cx="376.89" cy="381.78" r="5.3"/><circle cx="364.75" cy="357.82" r="5.3"/></g><g fill="#aaaaaa"><circle cx="433.31" cy="374.81" r="5.3"/></g><g fill="#4a87c6"><circle cx="370.23" cy="333.73" r="5.3"/></g><g fill="#aaaaaa"><circle cx="366.26" cy="332.33" r="5.3"/></g><g fill="#4a87c6"><circle cx="288.01" cy="327.87" r="5.3"/></g><g fill="#aaaaaa"><circle cx="292.73" cy="325.39" r="5.3"/><circle cx="422.39" cy="391.39" r="5.3"/></g><g fill="#4a87c6"><circle cx="406.96" cy="388.9" r="5.3"/><circle cx="334.44" cy="382.34" r="5.3"/></g><g fill="#aaaaaa"><circle cx="325.71" cy="371.6" r="5.3"/><circle cx="232.1" cy="393.17" r="5.3"/></g><g fill="#4a87c6"><circle cx="280.17" cy="407.61" r="5.3"/></g><g fill="#aaaaaa"><circle cx="322.31" cy="334.29" r="5.3"/></g><g fill="#4a87c6"><circle cx="358.62" cy="355.86" r="5.3"/></g><g fill="#aaaaaa"><circle cx="315.36" cy="402.42" r="5.3"/></g><g fill="#4a87c6"><circle cx="305.51" cy="398.94" r="5.3"/></g><g fill="#aaaaaa"><circle cx="373.21" cy="302.73" r="5.3"/></g><g fill="#4a87c6"><circle cx="381.17" cy="305.69" r="5.3"/></g><g fill="#aaaaaa"><circle cx="303.41" cy="377.92" r="5.3"/></g><g fill="#4a87c6"><circle cx="305.97" cy="378.9" r="5.3"/><circle cx="249.4" cy="365.69" r="5.3"/></g><g fill="#aaaaaa"><circle cx="302.01" cy="385.14" r="5.3"/><circle cx="403.11" cy="344.4" r="5.3"/></g><g fill="#4a87c6"><circle cx="402.37" cy="344.16" r="5.3"/><circle cx="361.96" cy="326" r="5.3"/></g><g fill="#aaaaaa"><circle cx="365.67" cy="327.22" r="5.3"/></g><g fill="#4a87c6"><circle cx="321.5" cy="302.28" r="5.3"/></g><g fill="#aaaaaa"><circle cx="338.23" cy="308.25" r="5.3"/><circle cx="369.43" cy="344.46" r="5.3"/></g><g fill="#4a87c6"><circle cx="423.87" cy="360.5" r="5.3"/></g><g fill="#aaaaaa"><circle cx="366.73" cy="391.53" r="5.3"/></g><g fill="#4a87c6"><circle cx="347.66" cy="383.99" r="5.3"/></g><g fill="#aaaaaa"><circle cx="277.85" cy="319" r="5.3"/></g><g fill="#4a87c6"><circle cx="282.69" cy="335.83" r="5.3"/></g><g fill="#aaaaaa"><circle cx="306.37" cy="333.72" r="5.3"/></g><g fill="#4a87c6"><circle cx="296.91" cy="330.96" r="5.3"/><circle cx="377.68" cy="307.05" r="5.3"/></g><g fill="#aaaaaa"><circle cx="380.99" cy="312.15" r="5.3"/></g><g fill="#4a87c6"><circle cx="383.66" cy="377.04" r="5.3"/></g><g fill="#aaaaaa"><circle cx="369.46" cy="372.5" r="5.3"/><circle cx="359.32" cy="378.88" r="5.3"/></g><g fill="#4a87c6"><circle cx="345.51" cy="372.75" r="5.3"/><circle cx="332.62" cy="331.54" r="5.3"/></g><g fill="#aaaaaa"><circle cx="338.21" cy="327.57" r="5.3"/><circle cx="453.85" cy="339.83" r="5.3"/></g><g fill="#4a87c6"><circle cx="394.49" cy="319.56" r="5.3"/><circle cx="358.95" cy="425.21" r="5.3"/></g><g fill="#aaaaaa"><circle cx="384.76" cy="433.9" r="5.3"/></g><g fill="#4a87c6"><circle cx="414.33" cy="366.95" r="5.3"/></g><g fill="#aaaaaa"><circle cx="428.58" cy="373.09" r="5.3"/></g><g fill="#4a87c6"><circle cx="374.83" cy="411.6" r="5.3"/></g><g fill="#aaaaaa"><circle cx="364.56" cy="405.34" r="5.3"/></g><g fill="#4a87c6"><circle cx="418.05" cy="345.32" r="5.3"/></g><g fill="#aaaaaa"><circle cx="416.2" cy="337.62" r="5.3"/></g><g fill="#4a87c6"><circle cx="294.07" cy="355.75" r="5.3"/></g><g fill="#aaaaaa"><circle cx="336.84" cy="375.94" r="5.3"/></g><g fill="#4a87c6"><circle cx="305.15" cy="353.98" r="5.3"/></g><g fill="#aaaaaa"><circle cx="307.93" cy="353.47" r="5.3"/><circle cx="269.21" cy="335.97" r="5.3"/></g><g fill="#4a87c6"><circle cx="259.47" cy="333.12" r="5.3"/></g><g fill="#aaaaaa"><circle cx="396.74" cy="383.61" r="5.3"/></g><g fill="#4a87c6"><circle cx="417.49" cy="390.81" r="5.3"/></g><g fill="#aaaaaa"><circle cx="441.3" cy="393.39" r="5.3"/></g><g fill="#4a87c6"><circle cx="414.46" cy="383.14" r="5.3"/></g><g fill="#aaaaaa"><circle cx="298.47" cy="340.99" r="5.3"/></g><g fill="#4a87c6"><circle cx="301.88" cy="342" r="5.3"/><circle cx="307.76" cy="276.86" r="5.3"/></g><g fill="#aaaaaa"><circle cx="310.22" cy="277.59" r="5.3"/></g><g fill="#4a87c6"><circle cx="363.69" cy="377.02" r="5.3"/></g><g fill="#aaaaaa"><circle cx="378.11" cy="380.27" r="5.3"/></g><g fill="#4a87c6"><circle cx="288.18" cy="346.56" r="5.3"/></g><g fill="#aaaaaa"><circle cx="289.15" cy="346.91" r="5.3"/><circle cx="348.7" cy="319.32" r="5.3"/></g><g fill="#4a87c6"><circle cx="332.68" cy="313.9" r="5.3"/></g><g fill="#aaaaaa"><circle cx="307.21" cy="345.24" r="5.3"/></g><g fill="#4a87c6"><circle cx="305.73" cy="338.18" r="5.3"/><circle cx="248.11" cy="361.85" r="5.3"/></g><g fill="#aaaaaa"><circle cx="246.02" cy="361.38" r="5.3"/><circle cx="314.98" cy="333.66" r="5.3"/></g><g fill="#4a87c6"><circle cx="318.54" cy="339.46" r="5.3"/></g><g fill="#aaaaaa"><circle cx="383.83" cy="334.55" r="5.3"/></g><g fill="#4a87c6"><circle cx="377.21" cy="332.31" r="5.3"/></g><g fill="#aaaaaa"><circle cx="269.96" cy="344.24" r="5.3"/></g><g fill="#4a87c6"><circle cx="284.39" cy="327.26" r="5.3"/></g><g fill="#aaaaaa"><circle cx="331.26" cy="343.2" r="5.3"/></g><g fill="#4a87c6"><circle cx="306.17" cy="334.96" r="5.3"/></g><g fill="#aaaaaa"><circle cx="291.86" cy="339.43" r="5.3"/></g><g fill="#4a87c6"><circle cx="316.92" cy="345.11" r="5.3"/></g><g fill="#aaaaaa"><circle cx="354.27" cy="333.35" r="5.3"/></g><g fill="#4a87c6"><circle cx="367.51" cy="337.94" r="5.3"/></g><g fill="#aaaaaa"><circle cx="332.66" cy="331.56" r="5.3"/></g><g fill="#4a87c6"><circle cx="321.19" cy="328.09" r="5.3"/></g><g fill="#aaaaaa"><circle cx="268.38" cy="408.79" r="5.3"/></g><g fill="#4a87c6"><circle cx="265.8" cy="407.52" r="5.3"/><circle cx="278.2" cy="369.72" r="5.3"/></g><g fill="#aaaaaa"><circle cx="285.51" cy="372.52" r="5.3"/></g><g fill="#4a87c6"><circle cx="330.09" cy="347.74" r="5.3"/></g><g fill="#aaaaaa"><circle cx="338.25" cy="350.92" r="5.3"/></g><g fill="#4a87c6"><circle cx="383.65" cy="434.93" r="5.3"/></g><g fill="#aaaaaa"><circle cx="387.25" cy="435.81" r="5.3"/></g><g fill="#4a87c6"><circle cx="305.89" cy="398.55" r="5.3"/></g><g fill="#aaaaaa"><circle cx="319.41" cy="402.56" r="5.3"/><circle cx="262.98" cy="349.41" r="5.3"/></g><g fill="#4a87c6"><circle cx="265.72" cy="350.55" r="5.3"/><circle cx="327.72" cy="378.92" r="5.3"/></g><g fill="#aaaaaa"><circle cx="345.14" cy="382.98" r="5.3"/><circle cx="281.82" cy="379.99" r="5.3"/></g><g fill="#4a87c6"><circle cx="263.15" cy="371.82" r="5.3"/><circle cx="356.36" cy="349.36" r="5.3"/></g><g fill="#aaaaaa"><circle cx="343.37" cy="345.54" r="5.3"/><circle cx="400.42" cy="380.97" r="5.3"/></g><g fill="#4a87c6"><circle cx="419.27" cy="389.51" r="5.3"/></g><g fill="#aaaaaa"><circle cx="308.01" cy="373.27" r="5.3"/></g><g fill="#4a87c6"><circle cx="310.44" cy="374.03" r="5.3"/></g><g fill="#aaaaaa"><circle cx="291.28" cy="302.91" r="5.3"/></g><g fill="#4a87c6"><circle cx="300.27" cy="306.74" r="5.3"/><circle cx="346.95" cy="352.21" r="5.3"/></g><g fill="#aaaaaa"><circle cx="341.16" cy="350.18" r="5.3"/><circle cx="401.35" cy="417.06" r="5.3"/></g><g fill="#4a87c6"><circle cx="389.13" cy="414.16" r="5.3"/></g><g fill="#aaaaaa"><circle cx="283.65" cy="342.17" r="5.3"/></g><g fill="#4a87c6"><circle cx="278.78" cy="340.45" r="5.3"/><circle cx="417.13" cy="395.82" r="5.3"/></g><g fill="#aaaaaa"><circle cx="410.42" cy="393.97" r="5.3"/><circle cx="311.74" cy="300.83" r="5.3"/></g><g fill="#4a87c6"><circle cx="328.44" cy="308.22" r="5.3"/><circle cx="291.04" cy="380.76" r="5.3"/></g><g fill="#aaaaaa"><circle cx="298.03" cy="384.12" r="5.3"/><circle cx="384.19" cy="334.02" r="5.3"/></g><g fill="#4a87c6"><circle cx="395.25" cy="337.19" r="5.3"/><circle cx="299.25" cy="319.88" r="5.3"/></g><g fill="#aaaaaa"><circle cx="330.06" cy="332.15" r="5.3"/><circle cx="332.25" cy="317.77" r="5.3"/></g><g fill="#4a87c6"><circle cx="328.03" cy="316.48" r="5.3"/><circle cx="315.93" cy="338.42" r="5.3"/></g><g fill="#aaaaaa"><circle cx="321.16" cy="339.84" r="5.3"/><circle cx="408.05" cy="414.37" r="5.3"/></g><g fill="#4a87c6"><circle cx="430.24" cy="425.23" r="5.3"/></g><g fill="#aaaaaa"><circle cx="372.41" cy="384.71" r="5.3"/></g><g fill="#4a87c6"><circle cx="357.17" cy="379.71" r="5.3"/><circle cx="324.95" cy="384.86" r="5.3"/></g><g fill="#aaaaaa"><circle cx="332.11" cy="387.7" r="5.3"/><circle cx="340.16" cy="345.97" r="5.3"/></g><g fill="#4a87c6"><circle cx="306.53" cy="334.83" r="5.3"/><circle cx="356.48" cy="353.17" r="5.3"/></g><g fill="#aaaaaa"><circle cx="364.15" cy="350.76" r="5.3"/></g><g fill="#4a87c6"><circle cx="340.75" cy="349.95" r="5.3"/></g><g fill="#aaaaaa"><circle cx="341.86" cy="350.2" r="5.3"/></g><g fill="#4a87c6"><circle cx="333.55" cy="426.13" r="5.3"/></g><g fill="#aaaaaa"><circle cx="363.58" cy="432.52" r="5.3"/><circle cx="435.2" cy="407.41" r="5.3"/></g><g fill="#4a87c6"><circle cx="430.92" cy="405.96" r="5.3"/><circle cx="235.2" cy="393.06" r="5.3"/></g><g fill="#aaaaaa"><circle cx="246.18" cy="394.92" r="5.3"/><circle cx="346.68" cy="386.13" r="5.3"/></g><g fill="#4a87c6"><circle cx="330.79" cy="380.85" r="5.3"/><circle cx="326.6" cy="349.6" r="5.3"/></g><g fill="#aaaaaa"><circle cx="356.78" cy="359.47" r="5.3"/></g><g fill="#4a87c6"><circle cx="369.62" cy="373.87" r="5.3"/></g><g fill="#aaaaaa"><circle cx="370.67" cy="372.8" r="5.3"/></g><g fill="#4a87c6"><circle cx="428.73" cy="399.77" r="5.3"/></g><g fill="#aaaaaa"><circle cx="427.19" cy="399.35" r="5.3"/></g><g fill="#4a87c6"><circle cx="359.31" cy="365.35" r="5.3"/></g><g fill="#aaaaaa"><circle cx="365.52" cy="367.36" r="5.3"/><circle cx="422.01" cy="398.75" r="5.3"/></g><g fill="#4a87c6"><circle cx="424.45" cy="406.1" r="5.3"/></g><g fill="#aaaaaa"><circle cx="405.63" cy="387.98" r="5.3"/></g><g fill="#4a87c6"><circle cx="391.28" cy="384.73" r="5.3"/><circle cx="376.56" cy="384.76" r="5.3"/></g><g fill="#aaaaaa"><circle cx="377.95" cy="385.28" r="5.3"/><circle cx="398.46" cy="331.42" r="5.3"/></g><g fill="#4a87c6"><circle cx="461.59" cy="346.08" r="5.3"/><circle cx="407.38" cy="354.47" r="5.3"/></g><g fill="#aaaaaa"><circle cx="408.3" cy="354.76" r="5.3"/><circle cx="281.34" cy="347.21" r="5.3"/></g><g fill="#4a87c6"><circle cx="301.73" cy="352.48" r="5.3"/><circle cx="273.29" cy="390.61" r="5.3"/></g><g fill="#aaaaaa"><circle cx="252" cy="384.2" r="5.3"/><circle cx="364.26" cy="434.05" r="5.3"/></g><g fill="#4a87c6"><circle cx="362" cy="433.57" r="5.3"/><circle cx="375.01" cy="353.13" r="5.3"/></g><g fill="#aaaaaa"><circle cx="380.93" cy="345.86" r="5.3"/><circle cx="323.29" cy="385.53" r="5.3"/></g><g fill="#4a87c6"><circle cx="283.61" cy="373.2" r="5.3"/><circle cx="349.92" cy="392.52" r="5.3"/></g><g fill="#aaaaaa"><circle cx="359.93" cy="394.22" r="5.3"/></g><g fill="#4a87c6"><circle cx="339.19" cy="353.64" r="5.3"/></g><g fill="#aaaaaa"><circle cx="340.06" cy="353.95" r="5.3"/><circle cx="327.58" cy="330.49" r="5.3"/></g><g fill="#4a87c6"><circle cx="332.28" cy="332.08" r="5.3"/><circle cx="364.26" cy="341.71" r="5.3"/></g><g fill="#aaaaaa"><circle cx="364.99" cy="342.09" r="5.3"/></g><g fill="#4a87c6"><circle cx="376.49" cy="390.51" r="5.3"/></g><g fill="#aaaaaa"><circle cx="409.69" cy="402.17" r="5.3"/><circle cx="324.16" cy="391.89" r="5.3"/></g><g fill="#4a87c6"><circle cx="345.01" cy="397.29" r="5.3"/><circle cx="373.06" cy="404.18" r="5.3"/></g><g fill="#aaaaaa"><circle cx="374.27" cy="397.24" r="5.3"/></g><g fill="#4a87c6"><circle cx="407.31" cy="373.04" r="5.3"/></g><g fill="#aaaaaa"><circle cx="368.97" cy="361" r="5.3"/><circle cx="298.35" cy="341.07" r="5.3"/></g><g fill="#4a87c6"><circle cx="277.94" cy="333.47" r="5.3"/><circle cx="356.26" cy="412.55" r="5.3"/></g><g fill="#aaaaaa"><circle cx="355.43" cy="412.96" r="5.3"/></g><g fill="#4a87c6"><circle cx="338.76" cy="421.63" r="5.3"/></g><g fill="#aaaaaa"><circle cx="337.66" cy="419.98" r="5.3"/><circle cx="285.31" cy="434.68" r="5.3"/></g><g fill="#4a87c6"><circle cx="260.52" cy="425.87" r="5.3"/></g><g fill="#aaaaaa"><circle cx="328.28" cy="299.59" r="5.3"/></g><g fill="#4a87c6"><circle cx="330.11" cy="300.3" r="5.3"/></g><g fill="#aaaaaa"><circle cx="320.76" cy="331.01" r="5.3"/></g><g fill="#4a87c6"><circle cx="320.41" cy="330.85" r="5.3"/></g><g fill="#aaaaaa"><circle cx="263.79" cy="354.79" r="5.3"/></g><g fill="#4a87c6"><circle cx="275.35" cy="357.81" r="5.3"/><circle cx="347.03" cy="344.32" r="5.3"/></g><g fill="#aaaaaa"><circle cx="346.15" cy="340.45" r="5.3"/></g><g fill="#4a87c6"><circle cx="339.97" cy="379.64" r="5.3"/></g><g fill="#aaaaaa"><circle cx="348.79" cy="382.03" r="5.3"/><circle cx="353.15" cy="376.92" r="5.3"/></g><g fill="#4a87c6"><circle cx="360.9" cy="379.28" r="5.3"/></g><g fill="#aaaaaa"><circle cx="287.65" cy="352.32" r="5.3"/></g><g fill="#4a87c6"><circle cx="272.56" cy="346.74" r="5.3"/></g><g fill="#aaaaaa"><circle cx="285.57" cy="332.81" r="5.3"/></g><g fill="#4a87c6"><circle cx="283.35" cy="332.02" r="5.3"/><circle cx="291.94" cy="342.46" r="5.3"/></g><g fill="#aaaaaa"><circle cx="291.64" cy="342.34" r="5.3"/></g><g fill="#4a87c6"><circle cx="308.74" cy="385.24" r="5.3"/></g><g fill="#aaaaaa"><circle cx="309.04" cy="389.21" r="5.3"/></g><g fill="#4a87c6"><circle cx="346.86" cy="371.4" r="5.3"/></g><g fill="#aaaaaa"><circle cx="334.3" cy="366.65" r="5.3"/></g><g fill="#4a87c6"><circle cx="379.93" cy="348.35" r="5.3"/></g><g fill="#aaaaaa"><circle cx="396.59" cy="354.5" r="5.3"/><circle cx="345.29" cy="398.82" r="5.3"/></g><g fill="#4a87c6"><circle cx="348.41" cy="399.88" r="5.3"/><circle cx="398.16" cy="335.9" r="5.3"/></g><g fill="#aaaaaa"><circle cx="408.31" cy="340.77" r="5.3"/><circle cx="300.23" cy="308.62" r="5.3"/></g><g fill="#4a87c6"><circle cx="307.01" cy="310.67" r="5.3"/><circle cx="367.12" cy="395.74" r="5.3"/></g><g fill="#aaaaaa"><circle cx="298.95" cy="370.21" r="5.3"/><circle cx="383.53" cy="386.82" r="5.3"/></g><g fill="#4a87c6"><circle cx="345.77" cy="369.88" r="5.3"/><circle cx="307.73" cy="342.31" r="5.3"/></g><g fill="#aaaaaa"><circle cx="297.79" cy="332.49" r="5.3"/><circle cx="415.35" cy="381.12" r="5.3"/></g><g fill="#4a87c6"><circle cx="409.79" cy="383.33" r="5.3"/></g><g fill="#aaaaaa"><circle cx="248.57" cy="398.01" r="5.3"/></g><g fill="#4a87c6"><circle cx="220.84" cy="390.26" r="5.3"/></g><g fill="#aaaaaa"><circle cx="350.76" cy="391.71" r="5.3"/></g><g fill="#4a87c6"><circle cx="373.19" cy="399.94" r="5.3"/></g><g fill="#aaaaaa"><circle cx="383" cy="351.48" r="5.3"/></g><g fill="#4a87c6"><circle cx="399.29" cy="359.24" r="5.3"/></g><g fill="#aaaaaa"><circle cx="299.14" cy="325.91" r="5.3"/></g><g fill="#4a87c6"><circle cx="290.7" cy="331.92" r="5.3"/></g><g fill="#aaaaaa"><circle cx="370.62" cy="343.04" r="5.3"/></g><g fill="#4a87c6"><circle cx="350.18" cy="336.25" r="5.3"/><circle cx="373.14" cy="334.16" r="5.3"/></g><g fill="#aaaaaa"><circle cx="376.84" cy="328.59" r="5.3"/></g><g fill="#4a87c6"><circle cx="309.35" cy="349.66" r="5.3"/></g><g fill="#aaaaaa"><circle cx="338.3" cy="363.23" r="5.3"/></g><g fill="#4a87c6"><circle cx="334.78" cy="316.89" r="5.3"/></g><g fill="#aaaaaa"><circle cx="333.83" cy="316.54" r="5.3"/><circle cx="329.56" cy="360.52" r="5.3"/></g><g fill="#4a87c6"><circle cx="318.44" cy="357.56" r="5.3"/></g><g fill="#aaaaaa"><circle cx="319.57" cy="367.2" r="5.3"/></g><g fill="#4a87c6"><circle cx="332.71" cy="370.96" r="5.3"/></g><g fill="#aaaaaa"><circle cx="252.5" cy="259.67" r="5.3"/></g><g fill="#4a87c6"><circle cx="300.83" cy="272.5" r="5.3"/></g><g fill="#aaaaaa"><circle cx="254.17" cy="261.33" r="5.3"/></g><g fill="#4a87c6"><circle cx="305.83" cy="277.5" r="5.3"/><circle cx="322.5" cy="269.17" r="5.3"/></g><g fill="#aaaaaa"><circle cx="324.17" cy="270.33" r="5.3"/></g><g fill="#4a87c6"><circle cx="287.5" cy="287.5" r="5.3"/></g><g fill="#aaaaaa"><circle cx="313.33" cy="296.67" r="5.3"/></g><g fill="#4a87c6"><circle cx="275.83" cy="300.33" r="5.3"/></g><g fill="#aaaaaa"><circle cx="306.67" cy="309.17" r="5.3"/><circle cx="285.83" cy="312.5" r="5.3"/></g><g fill="#4a87c6"><circle cx="315" cy="320" r="5.3"/><circle cx="295.83" cy="318.33" r="5.3"/></g><g fill="#aaaaaa"><circle cx="326.67" cy="325" r="5.3"/></g><g fill="#4a87c6"><circle cx="202" cy="327" r="5.3"/></g><g fill="#aaaaaa"><circle cx="295" cy="350" r="5.3"/><circle cx="179.5" cy="333.33" r="5.3"/></g><g fill="#4a87c6"><circle cx="204.67" cy="340.83" r="5.3"/><circle cx="225" cy="340" r="5.3"/></g><g fill="#aaaaaa"><circle cx="227.5" cy="340.83" r="5.3"/></g><g fill="#4a87c6"><circle cx="239.17" cy="339.17" r="5.3"/></g><g fill="#aaaaaa"><circle cx="285" cy="350.83" r="5.3"/><circle cx="253.33" cy="342.5" r="5.3"/></g><g fill="#4a87c6"><circle cx="288.33" cy="352.5" r="5.3"/></g><g fill="#aaaaaa"><circle cx="265" cy="330" r="5.3"/></g><g fill="#4a87c6"><circle cx="270" cy="331.67" r="5.3"/><circle cx="235" cy="358.33" r="5.3"/></g><g fill="#aaaaaa"><circle cx="242.5" cy="360" r="5.3"/><circle cx="246.67" cy="364.17" r="5.3"/></g><g fill="#4a87c6"><circle cx="264.17" cy="365.83" r="5.3"/></g><g fill="#aaaaaa"><circle cx="251.67" cy="366.33" r="5.3"/></g><g fill="#4a87c6"><circle cx="271.67" cy="356.67" r="5.3"/></g><g fill="#aaaaaa"><circle cx="225.83" cy="368.33" r="5.3"/></g><g fill="#4a87c6"><circle cx="253.33" cy="380.83" r="5.3"/></g><g fill="#aaaaaa"><circle cx="216.67" cy="372.5" r="5.3"/></g><g fill="#4a87c6"><circle cx="242.5" cy="386.67" r="5.3"/></g><g fill="#aaaaaa"><circle cx="219.17" cy="378.33" r="5.3"/></g><g fill="#4a87c6"><circle cx="268.33" cy="378.33" r="5.3"/><circle cx="213.33" cy="388.33" r="5.3"/></g><g fill="#aaaaaa"><circle cx="217.5" cy="388.33" r="5.3"/><circle cx="235.83" cy="377.5" r="5.3"/></g><g fill="#4a87c6"><circle cx="261.67" cy="396.67" r="5.3"/><circle cx="236.67" cy="396.67" r="5.3"/></g><g fill="#aaaaaa"><circle cx="239.17" cy="397.5" r="5.3"/><circle cx="230" cy="398.33" r="5.3"/></g><g fill="#4a87c6"><circle cx="232.5" cy="405" r="5.3"/></g><g fill="#aaaaaa"><circle cx="224.17" cy="405" r="5.3"/></g><g fill="#4a87c6"><circle cx="256.67" cy="392.5" r="5.3"/></g><g fill="#aaaaaa"><circle cx="251.67" cy="398.33" r="5.3"/></g><g fill="#4a87c6"><circle cx="281.67" cy="405" r="5.3"/><circle cx="250" cy="421.67" r="5.3"/></g><g fill="#aaaaaa"><circle cx="246.67" cy="422.5" r="5.3"/></g><g fill="#4a87c6"><circle cx="260" cy="415" r="5.3"/></g><g fill="#aaaaaa"><circle cx="288.33" cy="421.67" r="5.3"/></g><g fill="#4a87c6"><circle cx="268.33" cy="413.33" r="5.3"/></g><g fill="#aaaaaa"><circle cx="265" cy="423.33" r="5.3"/><circle cx="340" cy="207.17" r="5.3"/></g><g fill="#4a87c6"><circle cx="359.83" cy="215.83" r="5.3"/></g><g fill="#aaaaaa"><circle cx="360.33" cy="239.67" r="5.3"/></g><g fill="#4a87c6"><circle cx="384.17" cy="246.67" r="5.3"/></g><g fill="#aaaaaa"><circle cx="466.17" cy="220.83" r="5.3"/></g><g fill="#4a87c6"><circle cx="445.83" cy="227.83" r="5.3"/></g><g fill="#aaaaaa"><circle cx="420.67" cy="250.33" r="5.3"/></g><g fill="#4a87c6"><circle cx="507.33" cy="265" r="5.3"/></g><g fill="#aaaaaa"><circle cx="552" cy="248.67" r="5.3"/></g><g fill="#4a87c6"><circle cx="534.5" cy="255.33" r="5.3"/></g><g fill="#aaaaaa"><circle cx="325.33" cy="270.83" r="5.3"/></g><g fill="#4a87c6"><circle cx="322.83" cy="269.67" r="5.3"/><circle cx="355" cy="277.5" r="5.3"/></g><g fill="#aaaaaa"><circle cx="359.5" cy="282.5" r="5.3"/><circle cx="383.67" cy="272.83" r="5.3"/></g><g fill="#4a87c6"><circle cx="392" cy="275" r="5.3"/><circle cx="398.67" cy="276.33" r="5.3"/></g><g fill="#aaaaaa"><circle cx="402" cy="283.33" r="5.3"/></g><g fill="#4a87c6"><circle cx="391.67" cy="281.33" r="5.3"/></g><g fill="#aaaaaa"><circle cx="383.67" cy="273.33" r="5.3"/></g><g fill="#4a87c6"><circle cx="390.33" cy="297" r="5.3"/></g><g fill="#aaaaaa"><circle cx="402" cy="299.17" r="5.3"/><circle cx="444.83" cy="290.5" r="5.3"/></g><g fill="#4a87c6"><circle cx="444.83" cy="290.5" r="5.3"/></g><g fill="#aaaaaa"><circle cx="449.5" cy="300.83" r="5.3"/></g><g fill="#4a87c6"><circle cx="450.33" cy="310.83" r="5.3"/><circle cx="452" cy="311.67" r="5.3"/></g><g fill="#aaaaaa"><circle cx="455.33" cy="313.33" r="5.3"/><circle cx="454.5" cy="325.83" r="5.3"/></g><g fill="#4a87c6"><circle cx="440.33" cy="331.67" r="5.3"/><circle cx="462" cy="331.67" r="5.3"/></g><g fill="#aaaaaa"><circle cx="460.33" cy="345" r="5.3"/><circle cx="470.33" cy="355" r="5.3"/></g><g fill="#4a87c6"><circle cx="498.17" cy="328.33" r="5.3"/></g><g fill="#aaaaaa"><circle cx="487" cy="337.5" r="5.3"/></g><g fill="#4a87c6"><circle cx="494.5" cy="336.67" r="5.3"/></g><g fill="#aaaaaa"><circle cx="497" cy="355" r="5.3"/></g><g fill="#4a87c6"><circle cx="519.5" cy="340.5" r="5.3"/></g><g fill="#aaaaaa"><circle cx="490.33" cy="354.17" r="5.3"/></g><g fill="#4a87c6"><circle cx="491.67" cy="345.83" r="5.3"/><circle cx="477.5" cy="350" r="5.3"/></g><g fill="#aaaaaa"><circle cx="470.33" cy="355.83" r="5.3"/><circle cx="477" cy="365" r="5.3"/></g><g fill="#4a87c6"><circle cx="482" cy="360" r="5.3"/></g><g fill="#aaaaaa"><circle cx="517" cy="376.33" r="5.3"/></g><g fill="#4a87c6"><circle cx="524" cy="353" r="5.3"/><circle cx="533.33" cy="376.33" r="5.3"/></g><g fill="#aaaaaa"><circle cx="538.33" cy="385.83" r="5.3"/></g><g fill="#4a87c6"><circle cx="489.5" cy="379.67" r="5.3"/></g><g fill="#aaaaaa"><circle cx="497" cy="381.67" r="5.3"/><circle cx="497.83" cy="399.67" r="5.3"/></g><g fill="#4a87c6"><circle cx="504.5" cy="385" r="5.3"/><circle cx="502.83" cy="390" r="5.3"/></g><g fill="#aaaaaa"><circle cx="498.67" cy="383.33" r="5.3"/></g><g fill="#4a87c6"><circle cx="467.83" cy="376.67" r="5.3"/></g><g fill="#aaaaaa"><circle cx="470.33" cy="381.67" r="5.3"/><circle cx="460.33" cy="385" r="5.3"/></g><g fill="#4a87c6"><circle cx="462.83" cy="386.67" r="5.3"/><circle cx="457" cy="392.5" r="5.3"/></g><g fill="#aaaaaa"><circle cx="458.67" cy="385.83" r="5.3"/><circle cx="466.17" cy="405" r="5.3"/></g><g fill="#4a87c6"><circle cx="467" cy="400" r="5.3"/></g><g fill="#aaaaaa"><circle cx="498.17" cy="429.5" r="5.3"/></g><g fill="#4a87c6"><circle cx="498.17" cy="420" r="5.3"/></g><g fill="#aaaaaa"><circle cx="452.83" cy="420.83" r="5.3"/></g><g fill="#4a87c6"><circle cx="461.17" cy="421.67" r="5.3"/></g><g fill="#aaaaaa"><circle cx="447.83" cy="434.17" r="5.3"/></g><g fill="#4a87c6"><circle cx="450.33" cy="428.33" r="5.3"/><circle cx="429.5" cy="436.17" r="5.3"/></g><g fill="#aaaaaa"><circle cx="429.5" cy="436.17" r="5.3"/><circle cx="502" cy="462" r="5.3"/></g><g fill="#4a87c6"><circle cx="504.5" cy="441.67" r="5.3"/><circle cx="497.83" cy="447.83" r="5.3"/></g><g fill="#aaaaaa"><circle cx="510.33" cy="447.83" r="5.3"/><circle cx="448.67" cy="434.5" r="5.3"/></g><g fill="#4a87c6"><circle cx="448.67" cy="450.67" r="5.3"/><circle cx="425.33" cy="454.5" r="5.3"/></g><g fill="#aaaaaa"><circle cx="433.67" cy="453.67" r="5.3"/></g><g fill="#4a87c6"><circle cx="405.33" cy="440.67" r="5.3"/></g><g fill="#aaaaaa"><circle cx="409.5" cy="446.17" r="5.3"/></g><g fill="#4a87c6"><circle cx="390.33" cy="455" r="5.3"/></g><g fill="#aaaaaa"><circle cx="397" cy="450" r="5.3"/><circle cx="375.33" cy="469.5" r="5.3"/></g><g fill="#4a87c6"><circle cx="382.33" cy="463.67" r="5.3"/></g><g fill="#aaaaaa"><circle cx="372" cy="477" r="5.3"/></g><g fill="#4a87c6"><circle cx="397.33" cy="484" r="5.3"/></g><g fill="#aaaaaa"><circle cx="363.67" cy="482.83" r="5.3"/></g><g fill="#4a87c6"><circle cx="374.5" cy="483.67" r="5.3"/><circle cx="320.33" cy="473.67" r="5.3"/></g><g fill="#aaaaaa"><circle cx="324.5" cy="476.17" r="5.3"/><circle cx="313.67" cy="477" r="5.3"/></g><g fill="#4a87c6"><circle cx="336.5" cy="484.5" r="5.3"/></g><g fill="#aaaaaa"><circle cx="362.83" cy="442" r="5.3"/></g><g fill="#4a87c6"><circle cx="362.83" cy="448.67" r="5.3"/><circle cx="385.33" cy="443.67" r="5.3"/></g><g fill="#aaaaaa"><circle cx="392" cy="440.33" r="5.3"/><circle cx="383.67" cy="432.83" r="5.3"/></g><g fill="#4a87c6"><circle cx="371.17" cy="437" r="5.3"/><circle cx="371.17" cy="428.67" r="5.3"/></g><g fill="#aaaaaa"><circle cx="350.33" cy="422" r="5.3"/></g><g fill="#4a87c6"><circle cx="396.17" cy="417.83" r="5.3"/></g><g fill="#aaaaaa"><circle cx="383.67" cy="419.5" r="5.3"/></g><g fill="#4a87c6"><circle cx="415.33" cy="423.67" r="5.3"/></g><g fill="#aaaaaa"><circle cx="412" cy="418.67" r="5.3"/><circle cx="350.33" cy="450.33" r="5.3"/></g><g fill="#4a87c6"><circle cx="342.83" cy="447.83" r="5.3"/></g><g fill="#aaaaaa"><circle cx="327.83" cy="447" r="5.3"/></g><g fill="#4a87c6"><circle cx="337" cy="432" r="5.3"/></g><g fill="#aaaaaa"><circle cx="350.33" cy="436.17" r="5.3"/></g><g fill="#4a87c6"><circle cx="342" cy="430.33" r="5.3"/></g><g fill="#aaaaaa"><circle cx="322" cy="437" r="5.3"/></g><g fill="#4a87c6"><circle cx="322.83" cy="424.5" r="5.3"/></g><g fill="#aaaaaa"><circle cx="100.5" cy="437.83" r="5.3"/></g><g fill="#4a87c6"><circle cx="169.5" cy="459.5" r="5.3"/></g><g fill="#aaaaaa"><circle cx="196.17" cy="430.67" r="5.3"/></g><g fill="#4a87c6"><circle cx="300" cy="480" r="5.3"/></g><g fill="#aaaaaa"><circle cx="205.83" cy="444" r="5.3"/></g><g fill="#4a87c6"><circle cx="271.33" cy="461.5" r="5.3"/><circle cx="259.67" cy="444.5" r="5.3"/></g><g fill="#aaaaaa"><circle cx="276.67" cy="452.83" r="5.3"/><circle cx="263.33" cy="455.67" r="5.3"/></g><g fill="#4a87c6"><circle cx="300" cy="470" r="5.3"/><circle cx="285.83" cy="463.67" r="5.3"/></g><g fill="#aaaaaa"><circle cx="291.33" cy="461.5" r="5.3"/><circle cx="312.5" cy="477" r="5.3"/></g><g fill="#4a87c6"><circle cx="320" cy="474" r="5.3"/></g><g fill="#aaaaaa"><circle cx="325.83" cy="475.33" r="5.3"/></g><g fill="#4a87c6"><circle cx="335" cy="485.33" r="5.3"/><circle cx="283.33" cy="440.33" r="5.3"/></g><g fill="#aaaaaa"><circle cx="292.5" cy="445.33" r="5.3"/></g><g fill="#4a87c6"><circle cx="304.17" cy="440" r="5.3"/></g><g fill="#aaaaaa"><circle cx="311.67" cy="447.83" r="5.3"/></g><g fill="#4a87c6"><circle cx="250" cy="421.67" r="5.3"/></g><g fill="#aaaaaa"><circle cx="247.5" cy="422.33" r="5.3"/><circle cx="264.17" cy="425.33" r="5.3"/></g><g fill="#4a87c6"><circle cx="295" cy="430.33" r="5.3"/></g>
<path d="M349.48 349.12L339.19 345.52M331.92 368.88L360.75 379.65M304.84 331.23L337.64 340.57M317.81 349.09L316.97 348.71M316.35 345.08L314.97 344.61M384.66 343.34L375.92 342.77M383.35 411.53L384.95 415.29M398.69 366.57L387.09 362.68M295.28 380.04L307.39 382.62M443.94 340.42L451.18 332.42M386.78 349.46L370.26 346.42M403.04 346.66L386.98 341.91M425.91 353.27L430.43 359.69M416.29 346.02L404.85 341.55M325.74 433.81L340.96 438.73M330.92 375.23L382.18 391.6M310.54 316.21L306.67 316.62M431.34 403.06L430.29 402.78M368.78 378.04L388.71 384.22M436.6 351.42L456.85 359.62M327.91 324.66L322.45 322.98M335.63 362.32L332.51 360.85M389.48 383.29L426.04 398.31M391.11 320.39L327.68 297.45M337.95 366L325.5 361.7M283.43 344.43L275.8 341.99M334.46 370.8L317.9 364.53M327.99 353.21L315.19 348.54M326.42 326.52L362.15 342.89M441.25 380.02L424.24 375.42M392.59 337.46L424.86 350.02M283.38 305.4L277.7 316.66M405.93 352.58L407.73 353.21M308.03 395.41L275.85 383.66M316.18 407.7L327.55 411.16M412.75 401.95L419.17 404.64M358.95 406.01L355.48 404.76M379.37 328.8L418.51 344.91M358.53 333.07L375.6 339.63M269.06 409.22L270.35 410.8M394.18 446.36L357.71 432.96M335.72 330.28L282.75 311.61M390.62 311.47L366.37 297.48M340.43 388.49L341.14 388.69M349.48 382.8L350.52 373.29M428.72 345.53L421.78 349.96M334.98 367.54L333.57 368.48M322.41 403.41L321.68 401.4M431.76 340.94L422.28 337.47M332.35 321.77L347.98 326.14M445.12 315.92L451.3 317.96M332.12 381.78L316.49 374.83M420 376.35L424.5 378.31M347.31 366.51L318.94 355.72M345.26 359.3L347.45 359.09M383.06 374.12L382.28 373.89M379.14 365.03L373.67 371.8M401.23 382.23L406.16 384.04M317.69 304.26L318.42 309.11M357.51 392.65L371.97 399.01M464.46 387.52L437.33 378.06M292.79 300.78L291.72 297.87M365.3 328.42L351.89 325.73M335.11 410.76L348.59 414.31M341.76 364.54L329.58 374.98M279.07 352.09L268.95 348.76M313.97 345.15L308.08 341.83M382.54 404.97L394.56 410.29M405.8 395.68L401.25 398M335.45 337.98L334.45 337.57M282.41 331.59L275.26 328.61M304.05 352.72L346.43 369.06M382.57 325.42L375.89 323.43M409.3 391.42L352.5 366.4M319.82 345.5L324.4 347.21M386.14 400.66L347.55 390.05M324.92 357.54L338.19 360.64M429.16 365.73L430.84 366.54M326.41 325L323.9 328.13M309.1 438.29L289.69 431.21M467.58 382.57L468.47 382.9M352.75 403.28L362.56 406.66M329.32 378.44L327.54 369.29M387.08 411.87L384.73 410.89M262.53 352.24L245.31 347.91M320.39 378.27L330.3 381.95M333.34 381.33L316.2 375.74M438.47 364.4L439.83 364.92M376.78 396.07L355.69 389.48M335.39 354.76L366.37 363.76M332.54 397.74L327.69 394.24M364.7 389.01L394.19 398.1M435.97 378.29L371.33 360.59M438.99 388.1L438.04 391.2M300.99 385.5L307.34 386.82M401.35 328.24L438.24 339.12M239.71 410L275.7 425.29M277.31 366.91L277.5 366.98M323.51 374.81L324.46 374.98M331.07 327.15L317.61 323.25M311.05 410L320.75 414.16M321.61 310.59L296.16 302.82M273.97 429.25L261.5 425.73M410.47 325.71L409.14 327.37M404.86 391.33L407.53 392.46M394.6 372.26L410.87 376.81M279.02 313.42L295.53 317.38M347.69 355.82L348.35 356.06M317.81 291.19L312.93 289.61M287.14 399L321.99 410.33M332.09 361.67L327.32 360.26M382.18 323.11L377.2 321.34M272.02 315.29L282.71 318.21M404.09 347.7L395.31 342.83M228.67 358.85L234.17 361.03M394.07 337.3L375.85 331.75M398.4 411.08L400.35 404.36M263.41 371.19L225.62 362.41M279.75 347.87L279.71 347.73M284.59 339.82L290.6 347.21M334.67 399.15L334.33 398.9M400.66 342.33L368.69 333.57M341.83 346.55L323.43 342.56M300.72 368.9L240.11 355.53M273.44 319.42L274.92 319.89M324.42 391.02L315.58 389.01M352.23 366.74L353.64 367.27M355.54 368.13L371.6 372.92M390.11 390.09L372.58 383.31M344.6 372.6L344.98 371.57M429.19 308.63L429.38 309.42M401.76 401.35L405.12 402.56M388.84 406.04L385.78 406.52M348.22 349.21L344.59 347.94M307.42 427.27L318.04 431.37M317.89 382.05L260.16 356.84M223.83 392.1L220.82 390.93M433.34 347.6L441.69 349.34M381.98 342.98L354.59 337.17M391.32 324.09L398.45 324.73M304.26 373.17L311.71 379.71M448.91 361.66L451.96 362M363.94 404.02L386.56 410.25M441.94 381.22L425.18 376.22M310.6 430.1L327.8 436.16M294.74 334.1L301.92 336.06M425.53 341.47L420.15 339.02M339.3 321.04L339.03 320.96M381.59 310.16L399.76 315.64M342.3 367.44L342 360.46M361.75 337.58L395.84 350.6M322.06 282.41L329.03 284.84M359.89 408.24L314.94 398.53M293.71 362.15L285.1 358.83M335.84 327.96L339.32 329.37M322.22 271.02L320.8 269.45M368.92 383.07L381.34 386.91M359.91 315.34L374.1 316.4M338.45 318.54L317.85 311.97M419.46 395.44L420.56 395.83M290.99 330.46L324.37 344.24M334.22 362.57L420.2 387.38M285.07 352.36L287.34 352.97M300.37 397.35L299.13 396.71M344.56 289.73L361.63 295.71M233.18 373.86L240.1 376.16M426.1 322.1L421.99 324.94M403.62 373.84L418.81 380.33M307.72 298.46L299.33 295.65M390.05 373.38L389.07 373.1M367.56 378.7L376.58 382.49M352.13 325.07L377.99 332.07M417.4 349.66L412.63 348.48M407 331.51L437.08 341.85M378.38 408.68L385.65 411.04M355.44 376.25L338.19 369.75M375.34 385.78L375.11 396.14M330.34 311.24L306.89 304.24M307.11 370.25L320.86 374.72M383.89 414.89L384.23 414.99M302.55 419.54L318.41 424.7M314.63 390.45L310.48 389.5M387.28 359.3L394.84 383.14M344.71 323.14L345.11 325.61M388.22 354.95L388.58 343.5M314.7 305.72L316.05 310.32M371.81 332.78L397.21 339.75M274.24 351.54L296.55 356.26M429.79 358.52L384.76 342.04M341.46 323.99L353.28 329.71M407.28 404.74L411.88 406.14M388.31 339.1L376.2 333.77M279.97 307.22L305.19 312.01M312.41 287.37L327.45 292.85M373.06 395.53L369.64 394.99M377.34 432.32L377.1 432.27M373.34 429.9L341.75 414.98M240.8 354.25L246.57 355.4M436.82 365.81L433.88 365.01M323.15 405.99L327.3 403.11M360.62 436.53L366.38 432.81M335.27 369.57L376.89 381.78M433.31 374.81L364.75 357.82M366.26 332.33L370.23 333.73M292.73 325.39L288.01 327.87M422.39 391.39L406.96 388.9M325.71 371.6L334.44 382.34M232.1 393.17L280.17 407.61M322.31 334.29L358.62 355.86M315.36 402.42L305.51 398.94M373.21 302.73L381.17 305.69M303.41 377.92L305.97 378.9M302.01 385.14L249.4 365.69M403.11 344.4L402.37 344.16M365.67 327.22L361.96 326M338.23 308.25L321.5 302.28M369.43 344.46L423.87 360.5M366.73 391.53L347.66 383.99M277.85 319L282.69 335.83M306.37 333.72L296.91 330.96M380.99 312.15L377.68 307.05M369.46 372.5L383.66 377.04M359.32 378.88L345.51 372.75M338.21 327.57L332.62 331.54M453.85 339.83L394.49 319.56M384.76 433.9L358.95 425.21M428.58 373.09L414.33 366.95M364.56 405.34L374.83 411.6M416.2 337.62L418.05 345.32M336.84 375.94L294.07 355.75M307.93 353.47L305.15 353.98M269.21 335.97L259.47 333.12M396.74 383.61L417.49 390.81M441.3 393.39L414.46 383.14M298.47 340.99L301.88 342M310.22 277.59L307.76 276.86M378.11 380.27L363.69 377.02M289.15 346.91L288.18 346.56M348.7 319.32L332.68 313.9M307.21 345.24L305.73 338.18M246.02 361.38L248.11 361.85M314.98 333.66L318.54 339.46M383.83 334.55L377.21 332.31M269.96 344.24L284.39 327.26M331.26 343.2L306.17 334.96M291.86 339.43L316.92 345.11M354.27 333.35L367.51 337.94M332.66 331.56L321.19 328.09M268.38 408.79L265.8 407.52M285.51 372.52L278.2 369.72M338.25 350.92L330.09 347.74M387.25 435.81L383.65 434.93M319.41 402.56L305.89 398.55M262.98 349.41L265.72 350.55M345.14 382.98L327.72 378.92M281.82 379.99L263.15 371.82M343.37 345.54L356.36 349.36M400.42 380.97L419.27 389.51M308.01 373.27L310.44 374.03M291.28 302.91L300.27 306.74M341.16 350.18L346.95 352.21M401.35 417.06L389.13 414.16M283.65 342.17L278.78 340.45M410.42 393.97L417.13 395.82M311.74 300.83L328.44 308.22M298.03 384.12L291.04 380.76M384.19 334.02L395.25 337.19M330.06 332.15L299.25 319.88M332.25 317.77L328.03 316.48M321.16 339.84L315.93 338.42M408.05 414.37L430.24 425.23M372.41 384.71L357.17 379.71M332.11 387.7L324.95 384.86M340.16 345.97L306.53 334.83M364.15 350.76L356.48 353.17M341.86 350.2L340.75 349.95M363.58 432.52L333.55 426.13M435.2 407.41L430.92 405.96M246.18 394.92L235.2 393.06M346.68 386.13L330.79 380.85M356.78 359.47L326.6 349.6M370.67 372.8L369.62 373.87M427.19 399.35L428.73 399.77M365.52 367.36L359.31 365.35M422.01 398.75L424.45 406.1M405.63 387.98L391.28 384.73M377.95 385.28L376.56 384.76M398.46 331.42L461.59 346.08M408.3 354.76L407.38 354.47M281.34 347.21L301.73 352.48M252 384.2L273.29 390.61M364.26 434.05L362 433.57M380.93 345.86L375.01 353.13M323.29 385.53L283.61 373.2M359.93 394.22L349.92 392.52M340.06 353.95L339.19 353.64M327.58 330.49L332.28 332.08M364.99 342.09L364.26 341.71M409.69 402.17L376.49 390.51M324.16 391.89L345.01 397.29M374.27 397.24L373.06 404.18M368.97 361L407.31 373.04M298.35 341.07L277.94 333.47M355.43 412.96L356.26 412.55M337.66 419.98L338.76 421.63M285.31 434.68L260.52 425.87M328.28 299.59L330.11 300.3M320.76 331.01L320.41 330.85M263.79 354.79L275.35 357.81M346.15 340.45L347.03 344.32M348.79 382.03L339.97 379.64M353.15 376.92L360.9 379.28M287.65 352.32L272.56 346.74M285.57 332.81L283.35 332.02M291.64 342.34L291.94 342.46M309.04 389.21L308.74 385.24M334.3 366.65L346.86 371.4M396.59 354.5L379.93 348.35M345.29 398.82L348.41 399.88M408.31 340.77L398.16 335.9M300.23 308.62L307.01 310.67M298.95 370.21L367.12 395.74M383.53 386.82L345.77 369.88M297.79 332.49L307.73 342.31M415.35 381.12L409.79 383.33M248.57 398.01L220.84 390.26M350.76 391.71L373.19 399.94M383 351.48L399.29 359.24M299.14 325.91L290.7 331.92M370.62 343.04L350.18 336.25M376.84 328.59L373.14 334.16M338.3 363.23L309.35 349.66M333.83 316.54L334.78 316.89M329.56 360.52L318.44 357.56M319.57 367.2L332.71 370.96M252.5 259.67L300.83 272.5M254.17 261.33L305.83 277.5M322.5 269.17L324.17 270.33M287.5 287.5L313.33 296.67M275.83 300.33L306.67 309.17M285.83 312.5L315 320M295.83 318.33L326.67 325M202 327L295 350M179.5 333.33L204.67 340.83M225 340L227.5 340.83M239.17 339.17L285 350.83M253.33 342.5L288.33 352.5M265 330L270 331.67M235 358.33L242.5 360M246.67 364.17L264.17 365.83M251.67 366.33L271.67 356.67M225.83 368.33L253.33 380.83M216.67 372.5L242.5 386.67M219.17 378.33L268.33 378.33M213.33 388.33L217.5 388.33M235.83 377.5L261.67 396.67M236.67 396.67L239.17 397.5M230 398.33L232.5 405M224.17 405L256.67 392.5M251.67 398.33L281.67 405M250 421.67L246.67 422.5M260 415L288.33 421.67M268.33 413.33L265 423.33M340 207.17L359.83 215.83M360.33 239.67L384.17 246.67M466.17 220.83L445.83 227.83M420.67 250.33L507.33 265M552 248.67L534.5 255.33M325.33 270.83L322.83 269.67M355 277.5L359.5 282.5M383.67 272.83L392 275M398.67 276.33L402 283.33M391.67 281.33L383.67 273.33M390.33 297L402 299.17M444.83 290.5L444.83 290.5M449.5 300.83L450.33 310.83M452 311.67L455.33 313.33M454.5 325.83L440.33 331.67M462 331.67L460.33 345M470.33 355L498.17 328.33M487 337.5L494.5 336.67M497 355L519.5 340.5M490.33 354.17L491.67 345.83M477.5 350L470.33 355.83M477 365L482 360M517 376.33L524 353M533.33 376.33L538.33 385.83M489.5 379.67L497 381.67M497.83 399.67L504.5 385M502.83 390L498.67 383.33M467.83 376.67L470.33 381.67M460.33 385L462.83 386.67M457 392.5L458.67 385.83M466.17 405L467 400M498.17 429.5L498.17 420M452.83 420.83L461.17 421.67M447.83 434.17L450.33 428.33M429.5 436.17L429.5 436.17M502 462L504.5 441.67M497.83 447.83L510.33 447.83M448.67 434.5L448.67 450.67M425.33 454.5L433.67 453.67M405.33 440.67L409.5 446.17M390.33 455L397 450M375.33 469.5L382.33 463.67M372 477L397.33 484M363.67 482.83L374.5 483.67M320.33 473.67L324.5 476.17M313.67 477L336.5 484.5M362.83 442L362.83 448.67M385.33 443.67L392 440.33M383.67 432.83L371.17 437M371.17 428.67L350.33 422M396.17 417.83L383.67 419.5M415.33 423.67L412 418.67M350.33 450.33L342.83 447.83M327.83 447L337 432M350.33 436.17L342 430.33M322 437L322.83 424.5M100.5 437.83L169.5 459.5M196.17 430.67L300 480M205.83 444L271.33 461.5M259.67 444.5L276.67 452.83M263.33 455.67L300 470M285.83 463.67L291.33 461.5M312.5 477L320 474M325.83 475.33L335 485.33M283.33 440.33L292.5 445.33M304.17 440L311.67 447.83M250 421.67L247.5 422.33M264.17 425.33L295 430.33" fill="none" stroke="#505050" stroke-width="0.85"/>
<g fill="#d0433a"><circle cx="1116.17" cy="223.33" r="7.1"/></g><g fill="#aaaaaa"><circle cx="1027" cy="253.67" r="7.1"/></g><g fill="#d0433a"><circle cx="1057.5" cy="262.5" r="7.1"/><circle cx="1060.83" cy="252" r="7.1"/></g><g fill="#aaaaaa"><circle cx="1085" cy="258.67" r="7.1"/><circle cx="1081.17" cy="276.67" r="7.1"/></g><g fill="#d0433a"><circle cx="1081.17" cy="276.33" r="7.1"/><circle cx="951.67" cy="277.5" r="7.1"/><circle cx="990" cy="285" r="7.1"/></g><g fill="#aaaaaa"><circle cx="1016.17" cy="295.33" r="7.1"/><circle cx="1016.17" cy="288.33" r="7.1"/></g><g fill="#d0433a"><circle cx="1032" cy="302.83" r="7.1"/></g><g fill="#aaaaaa"><circle cx="1056.67" cy="303.67" r="7.1"/><circle cx="1063.33" cy="312.5" r="7.1"/></g><g fill="#d0433a"><circle cx="1078.67" cy="306.17" r="7.1"/></g><g fill="#aaaaaa"><circle cx="1115" cy="291.33" r="7.1"/></g><g fill="#d0433a"><circle cx="1106.67" cy="308" r="7.1"/></g><g fill="#aaaaaa"><circle cx="1117" cy="310.83" r="7.1"/><circle cx="997.5" cy="312" r="7.1"/></g><g fill="#d0433a"><circle cx="1008" cy="315.83" r="7.1"/><circle cx="1009.67" cy="311.67" r="7.1"/></g><g fill="#aaaaaa"><circle cx="1028.33" cy="320.83" r="7.1"/></g><g fill="#d0433a"><circle cx="1021.67" cy="324.67" r="7.1"/></g><g fill="#aaaaaa"><circle cx="1089.5" cy="334.67" r="7.1"/></g><g fill="#d0433a"><circle cx="983.67" cy="329.67" r="7.1"/></g><g fill="#aaaaaa"><circle cx="996.67" cy="339.5" r="7.1"/><circle cx="1030.5" cy="333.67" r="7.1"/></g><g fill="#d0433a"><circle cx="1063.33" cy="354.17" r="7.1"/><circle cx="1061.67" cy="342.83" r="7.1"/></g><g fill="#aaaaaa"><circle cx="1109.17" cy="330.83" r="7.1"/></g><g fill="#d0433a"><circle cx="1115.83" cy="332" r="7.1"/></g><g fill="#aaaaaa"><circle cx="953" cy="352.5" r="7.1"/></g><g fill="#d0433a"><circle cx="962" cy="351.67" r="7.1"/></g><g fill="#aaaaaa"><circle cx="980" cy="357.5" r="7.1"/></g><g fill="#d0433a"><circle cx="982.5" cy="351.67" r="7.1"/></g><g fill="#aaaaaa"><circle cx="992.5" cy="354.5" r="7.1"/><circle cx="1018.33" cy="368.33" r="7.1"/><circle cx="1034.17" cy="367.5" r="7.1"/></g><g fill="#d0433a"><circle cx="1031.67" cy="375.83" r="7.1"/><circle cx="1042" cy="369.17" r="7.1"/><circle cx="1048.33" cy="376.67" r="7.1"/><circle cx="1060" cy="372.5" r="7.1"/></g><g fill="#aaaaaa"><circle cx="1065.33" cy="373.33" r="7.1"/><circle cx="1066.67" cy="382.5" r="7.1"/><circle cx="1090" cy="348.33" r="7.1"/><circle cx="1101.67" cy="350.83" r="7.1"/></g><g fill="#d0433a"><circle cx="1093.67" cy="349.17" r="7.1"/></g><g fill="#aaaaaa"><circle cx="1120" cy="355.83" r="7.1"/><circle cx="1098.33" cy="362.5" r="7.1"/></g><g fill="#d0433a"><circle cx="1100.83" cy="370" r="7.1"/><circle cx="1108.33" cy="364.17" r="7.1"/><circle cx="1116.67" cy="367.5" r="7.1"/></g><g fill="#aaaaaa"><circle cx="1119.17" cy="372.5" r="7.1"/><circle cx="989.17" cy="380" r="7.1"/><circle cx="1024.17" cy="395" r="7.1"/></g><g fill="#d0433a"><circle cx="1021.67" cy="390.33" r="7.1"/></g><g fill="#aaaaaa"><circle cx="1033.33" cy="390.33" r="7.1"/><circle cx="1045" cy="389.17" r="7.1"/></g><g fill="#d0433a"><circle cx="1060.83" cy="394.17" r="7.1"/></g><g fill="#aaaaaa"><circle cx="1073.33" cy="391.67" r="7.1"/><circle cx="1069.17" cy="396.67" r="7.1"/></g><g fill="#d0433a"><circle cx="1060.83" cy="405.83" r="7.1"/><circle cx="1081.67" cy="404.67" r="7.1"/><circle cx="1094.17" cy="393.33" r="7.1"/><circle cx="1105" cy="387.5" r="7.1"/></g><g fill="#aaaaaa"><circle cx="1112.5" cy="388.33" r="7.1"/></g><g fill="#d0433a"><circle cx="1098.33" cy="400" r="7.1"/></g><g fill="#aaaaaa"><circle cx="1105" cy="400.83" r="7.1"/><circle cx="1129.5" cy="385.83" r="7.1"/><circle cx="1125" cy="400" r="7.1"/></g><g fill="#d0433a"><circle cx="1124.5" cy="406.67" r="7.1"/><circle cx="916.67" cy="418.67" r="7.1"/><circle cx="1013" cy="415.83" r="7.1"/><circle cx="1137.33" cy="210" r="7.1"/><circle cx="1153.67" cy="214.17" r="7.1"/></g><g fill="#aaaaaa"><circle cx="1157" cy="215" r="7.1"/></g><g fill="#d0433a"><circle cx="1166.17" cy="208.67" r="7.1"/></g><g fill="#aaaaaa"><circle cx="1170.83" cy="218.33" r="7.1"/><circle cx="1147.5" cy="232" r="7.1"/></g><g fill="#d0433a"><circle cx="1217" cy="227.17" r="7.1"/></g><g fill="#aaaaaa"><circle cx="1223.17" cy="229.5" r="7.1"/><circle cx="1256.17" cy="223" r="7.1"/><circle cx="1153.67" cy="272.17" r="7.1"/></g><g fill="#d0433a"><circle cx="1179" cy="279.5" r="7.1"/><circle cx="1164.83" cy="288.33" r="7.1"/><circle cx="1153.67" cy="297.17" r="7.1"/></g><g fill="#aaaaaa"><circle cx="1162" cy="293.83" r="7.1"/><circle cx="1229" cy="287.83" r="7.1"/></g><g fill="#d0433a"><circle cx="1265.67" cy="293" r="7.1"/><circle cx="1246.17" cy="296.67" r="7.1"/></g><g fill="#aaaaaa"><circle cx="1248.67" cy="298.33" r="7.1"/></g><g fill="#d0433a"><circle cx="1279" cy="302.83" r="7.1"/></g><g fill="#aaaaaa"><circle cx="1259" cy="324.67" r="7.1"/><circle cx="1353.67" cy="327.83" r="7.1"/></g><g fill="#d0433a"><circle cx="1339.17" cy="329.5" r="7.1"/></g><g fill="#aaaaaa"><circle cx="1198.17" cy="315.83" r="7.1"/></g><g fill="#d0433a"><circle cx="1185.33" cy="318" r="7.1"/></g><g fill="#aaaaaa"><circle cx="1183.67" cy="326.67" r="7.1"/></g><g fill="#d0433a"><circle cx="1194.83" cy="328.83" r="7.1"/></g><g fill="#aaaaaa"><circle cx="1216.17" cy="320.83" r="7.1"/></g><g fill="#d0433a"><circle cx="1216.67" cy="328" r="7.1"/></g><g fill="#aaaaaa"><circle cx="1144.83" cy="325.83" r="7.1"/></g><g fill="#d0433a"><circle cx="1170" cy="333.33" r="7.1"/><circle cx="1133.33" cy="332.5" r="7.1"/></g><g fill="#aaaaaa"><circle cx="1147" cy="336.67" r="7.1"/><circle cx="1141.17" cy="344.17" r="7.1"/></g><g fill="#d0433a"><circle cx="1134.17" cy="349.17" r="7.1"/><circle cx="1147" cy="355" r="7.1"/></g><g fill="#aaaaaa"><circle cx="1155.33" cy="356.33" r="7.1"/></g><g fill="#d0433a"><circle cx="1153.67" cy="365.83" r="7.1"/><circle cx="1191.17" cy="342.5" r="7.1"/></g><g fill="#aaaaaa"><circle cx="1200.33" cy="345.83" r="7.1"/><circle cx="1214.5" cy="351.67" r="7.1"/></g><g fill="#d0433a"><circle cx="1202" cy="352.5" r="7.1"/><circle cx="1207" cy="356.67" r="7.1"/></g><g fill="#aaaaaa"><circle cx="1238.67" cy="340.83" r="7.1"/></g><g fill="#d0433a"><circle cx="1228.17" cy="343.83" r="7.1"/><circle cx="1285" cy="354.17" r="7.1"/></g><g fill="#aaaaaa"><circle cx="1275.67" cy="360.83" r="7.1"/></g><g fill="#d0433a"><circle cx="1248.67" cy="370.83" r="7.1"/><circle cx="1282.83" cy="384.17" r="7.1"/></g><g fill="#aaaaaa"><circle cx="1283.67" cy="375" r="7.1"/><circle cx="1319.83" cy="368.33" r="7.1"/></g><g fill="#d0433a"><circle cx="1301.67" cy="372.5" r="7.1"/><circle cx="1168.67" cy="374.67" r="7.1"/></g><g fill="#aaaaaa"><circle cx="1176.17" cy="376.67" r="7.1"/><circle cx="1161.17" cy="380.83" r="7.1"/></g><g fill="#d0433a"><circle cx="1144" cy="379.5" r="7.1"/></g><g fill="#aaaaaa"><circle cx="1163.67" cy="389.17" r="7.1"/></g><g fill="#d0433a"><circle cx="1152.83" cy="392" r="7.1"/><circle cx="1211.5" cy="387.5" r="7.1"/></g><g fill="#aaaaaa"><circle cx="1214.5" cy="388" r="7.1"/><circle cx="1173.67" cy="399.17" r="7.1"/></g><g fill="#d0433a"><circle cx="1180.67" cy="401.33" r="7.1"/><circle cx="1183.67" cy="415" r="7.1"/></g><g fill="#aaaaaa"><circle cx="1188.17" cy="418.67" r="7.1"/><circle cx="1136.17" cy="419.17" r="7.1"/><circle cx="1147.83" cy="418.33" r="7.1"/><circle cx="975.83" cy="436.67" r="7.1"/><circle cx="1005" cy="445.83" r="7.1"/></g><g fill="#d0433a"><circle cx="990.83" cy="441.17" r="7.1"/></g><g fill="#aaaaaa"><circle cx="1041.67" cy="424.5" r="7.1"/></g><g fill="#d0433a"><circle cx="1015" cy="431.17" r="7.1"/></g><g fill="#aaaaaa"><circle cx="1036.67" cy="437.83" r="7.1"/><circle cx="1040" cy="456.17" r="7.1"/></g><g fill="#d0433a"><circle cx="1053.33" cy="460.33" r="7.1"/></g><g fill="#aaaaaa"><circle cx="1090.83" cy="459.5" r="7.1"/><circle cx="1109.17" cy="458.67" r="7.1"/></g><g fill="#d0433a"><circle cx="1102.5" cy="463.67" r="7.1"/></g><g fill="#aaaaaa"><circle cx="1129.17" cy="474.5" r="7.1"/></g><g fill="#d0433a"><circle cx="1122.17" cy="481.67" r="7.1"/></g><g fill="#aaaaaa"><circle cx="1036.17" cy="539.17" r="7.1"/></g><g fill="#d0433a"><circle cx="1068" cy="536.67" r="7.1"/><circle cx="1091.17" cy="549" r="7.1"/></g><g fill="#aaaaaa"><circle cx="1095" cy="541.67" r="7.1"/></g><g fill="#d0433a"><circle cx="1141.17" cy="423.67" r="7.1"/></g><g fill="#aaaaaa"><circle cx="1240.33" cy="445" r="7.1"/></g><g fill="#d0433a"><circle cx="1232.5" cy="449" r="7.1"/></g><g fill="#aaaaaa"><circle cx="1146.17" cy="477" r="7.1"/><circle cx="1166.17" cy="472" r="7.1"/></g><g fill="#d0433a"><circle cx="1154.5" cy="473.67" r="7.1"/></g><g fill="#aaaaaa"><circle cx="1171.17" cy="486.5" r="7.1"/></g><g fill="#d0433a"><circle cx="1185.83" cy="477" r="7.1"/></g><g fill="#aaaaaa"><circle cx="1194" cy="484.83" r="7.1"/></g><g fill="#d0433a"><circle cx="1184.83" cy="492.5" r="7.1"/><circle cx="1230" cy="532.83" r="7.1"/></g><g fill="#aaaaaa"><circle cx="1200" cy="566.5" r="7.1"/></g>
<path d="M1116.17 223.33L1147.5 232M1027 253.67L1057.5 262.5M1060.83 252L1085 258.67M951.67 277.5L1016.17 295.33M990 285L1056.67 303.67M1016.17 288.33L1078.67 306.17M1032 302.83L1063.33 312.5M1115 291.33L1153.67 297.17M1106.67 308L1117 310.83M997.5 312L1021.67 324.67M1009.67 311.67L1089.5 334.67M1008 315.83L1028.33 320.83M983.67 329.67L996.67 339.5M1030.5 333.67L1061.67 342.83M1109.17 330.83L1115.83 332M953 352.5L1031.67 375.83M962 351.67L1018.33 368.33M982.5 351.67L992.5 354.5M980 357.5L1048.33 376.67M1034.17 367.5L1042 369.17M1060 372.5L1065.33 373.33M1066.67 382.5L1094.17 393.33M1063.33 354.17L1098.33 362.5M1093.67 349.17L1101.67 350.83M1120 355.83L1153.67 365.83M1108.33 364.17L1119.17 372.5M989.17 380L1060.83 405.83M1021.67 390.33L1024.17 395M1033.33 390.33L1060.83 394.17M1045 389.17L1081.67 404.67M1105 387.5L1112.5 388.33M1125 400L1124.5 406.67M916.67 418.67L975.83 436.67M1013 415.83L1041.67 424.5M1137.33 210L1170.83 218.33M1166.17 209.17L1256.17 223M1153.67 214.17L1157 215M1217 227.17L1223.17 229.5M1153.67 272.17L1179 279.5M1163.67 289.17L1162 293.83M1229 287.83L1265.67 293M1246.17 296.67L1248.67 298.33M1279 302.83L1259 324.67M1339.17 329.5L1353.67 327.83M1185.33 318L1198.17 315.83M1183.67 326.67L1194.83 328.83M1216.17 320.83L1216.67 328M1144.83 325.83L1170 333.33M1133.33 332.5L1147 336.67M1134.17 349.17L1141.17 344.17M1147 355L1155.33 356.33M1200.33 345.83L1202 352.5M1207 356.67L1214.5 351.67M1228.17 343.83L1238.67 340.83M1285 354.17L1275.67 360.83M1283.67 375L1282.83 384.17M1301.67 372.5L1319.83 368.33M1168.67 374.67L1176.17 376.67M1144 379.5L1161.17 380.83M1129.5 385.83L1152.83 392M1211.5 387.5L1214.5 388M1173.67 399.17L1180.67 401.33M1183.67 415L1188.17 418.67M1136.17 419.17L1141.17 423.33M1147.83 418.33L1141.17 423.33M990.83 441.17L1005 445.83M1015 431.17L1036.67 437.83M1040 456.17L1053.33 460.33M1090.83 459.5L1102.5 463.67M1102.5 463.67L1109.17 458.67M1129.17 474.5L1122.17 481.67M1036.17 539.17L1068 536.67M1091.17 549L1095 541.67M1240.33 445L1232.5 449M1148.67 476.17L1166.17 472.33M1171.17 486.5L1185.83 477M1194 484.83L1184.83 492.5M1230 532.83L1200 566.5" fill="none" stroke="#4a4a4a" stroke-width="1"/>
<path d="M45.98 531L452.51 663.78L668.48 442.14L682.16 143.28" fill="none" stroke="#000" stroke-width="1.5" stroke-linejoin="miter"/>
<text font-size="20.8" transform="translate(37.04 567.69) scale(1 1.05)">−10.0</text>
<text font-size="20.8" transform="translate(87.23 584.08) scale(1 1.05)">−7.5</text>
<text font-size="20.8" transform="translate(138.09 600.69) scale(1 1.05)">−5.0</text>
<text font-size="20.8" transform="translate(189.64 617.53) scale(1 1.05)">−2.5</text>
<text font-size="20.8" transform="translate(241.9 634.59) scale(1 1.05)">0.0</text>
<text font-size="20.8" transform="translate(294.87 651.89) scale(1 1.05)">2.5</text>
<text font-size="20.8" transform="translate(348.57 669.43) scale(1 1.05)">5.0</text>
<text font-size="20.8" transform="translate(403.02 687.22) scale(1 1.05)">7.5</text>
<text font-size="20.8" text-anchor="middle" transform="translate(486.99 672.66) scale(1 1.05)">0</text>
<text font-size="20.8" text-anchor="middle" transform="translate(518.6 642.79) scale(1 1.05)">10</text>
<text font-size="20.8" text-anchor="middle" transform="translate(547.03 613.61) scale(1 1.05)">20</text>
<text font-size="20.8" text-anchor="middle" transform="translate(574.82 585.09) scale(1 1.05)">30</text>
<text font-size="20.8" text-anchor="middle" transform="translate(601.99 557.21) scale(1 1.05)">40</text>
<text font-size="20.8" text-anchor="middle" transform="translate(628.56 529.95) scale(1 1.05)">50</text>
<text font-size="20.8" text-anchor="middle" transform="translate(654.54 503.28) scale(1 1.05)">60</text>
<text font-size="20.8" text-anchor="middle" transform="translate(679.95 477.2) scale(1 1.05)">70</text>
<text font-size="20.8" text-anchor="middle" transform="translate(698.27 395.6) scale(1 1.05)">3</text>
<text font-size="20.8" text-anchor="middle" transform="translate(700.48 347.42) scale(1 1.05)">4</text>
<text font-size="20.8" text-anchor="middle" transform="translate(702.71 298.55) scale(1 1.05)">5</text>
<text font-size="20.8" text-anchor="middle" transform="translate(704.98 248.96) scale(1 1.05)">6</text>
<text font-size="20.8" text-anchor="middle" transform="translate(707.29 198.65) scale(1 1.05)">7</text>
<path d="M54.24 539.65L61.15 532.56M104.43 556.04L111.34 548.95M155.3 572.66L162.2 565.57M206.85 589.49L213.76 582.4M259.1 606.56L266.01 599.47M312.07 623.86L318.98 616.77M365.78 641.4L372.69 634.31M420.23 659.18L427.14 652.09M463.05 647.63L472.67 650.77M492.16 617.76L501.78 620.9M520.6 588.58L530.22 591.72M548.39 560.06L558.01 563.2M575.56 532.18L585.18 535.32M602.12 504.91L611.74 508.06M628.1 478.25L637.72 481.39M653.52 452.17L663.14 455.31M666.83 390.77L677.77 394.34M669.04 342.59L679.97 346.16M671.28 293.71L682.21 297.28M673.55 244.13L684.48 247.7M675.85 193.82L686.78 197.39" fill="none" stroke="#000" stroke-width="1.4"/>
<path d="M802.28 531.6L1208.81 664.38L1424.78 442.74L1438.46 143.88" fill="none" stroke="#000" stroke-width="1.5" stroke-linejoin="miter"/>
<text font-size="20.8" transform="translate(837.95 575.37) scale(1 1.05)">−6</text>
<text font-size="20.8" transform="translate(893.02 593.36) scale(1 1.05)">−4</text>
<text font-size="20.8" transform="translate(948.89 611.6) scale(1 1.05)">−2</text>
<text font-size="20.8" transform="translate(1005.59 630.12) scale(1 1.05)">0</text>
<text font-size="20.8" transform="translate(1063.14 648.92) scale(1 1.05)">2</text>
<text font-size="20.8" transform="translate(1121.55 667.99) scale(1 1.05)">4</text>
<text font-size="20.8" transform="translate(1180.84 687.36) scale(1 1.05)">6</text>
<text font-size="20.8" text-anchor="middle" transform="translate(1265.74 652.79) scale(1 1.05)">10</text>
<text font-size="20.8" text-anchor="middle" transform="translate(1312.44 604.87) scale(1 1.05)">20</text>
<text font-size="20.8" text-anchor="middle" transform="translate(1357.41 558.71) scale(1 1.05)">30</text>
<text font-size="20.8" text-anchor="middle" transform="translate(1400.75 514.23) scale(1 1.05)">40</text>
<text font-size="20.8" text-anchor="middle" transform="translate(1442.55 471.33) scale(1 1.05)">50</text>
<text font-size="20.8" text-anchor="middle" transform="translate(1453.71 389.14) scale(1 1.05)">4</text>
<text font-size="20.8" text-anchor="middle" transform="translate(1456.49 328.47) scale(1 1.05)">5</text>
<text font-size="20.8" text-anchor="middle" transform="translate(1459.32 266.7) scale(1 1.05)">6</text>
<text font-size="20.8" text-anchor="middle" transform="translate(1462.2 203.79) scale(1 1.05)">7</text>
<path d="M842.95 550.84L849.86 543.75M898.02 568.82L904.93 561.73M953.89 587.07L960.8 579.98M1010.6 605.59L1017.5 598.5M1068.14 624.38L1075.05 617.29M1126.55 643.46L1133.46 636.37M1185.85 662.83L1192.76 655.74M1239.3 627.76L1248.92 630.9M1286 579.83L1295.62 582.98M1330.97 533.68L1340.59 536.82M1374.32 489.2L1383.94 492.34M1416.12 446.3L1425.74 449.44M1423.48 383.81L1434.41 387.38M1426.26 323.14L1437.19 326.71M1429.09 261.37L1440.02 264.94M1431.97 198.46L1442.9 202.03" fill="none" stroke="#000" stroke-width="1.4"/>
<text x="156" y="670.5" font-size="25">log<tspan dy="9.5" font-size="15">2</tspan><tspan dy="-9.5">(FPKM)</tspan></text>
<text x="912.5" y="650.5" font-size="25">log<tspan dy="9.5" font-size="15">2</tspan><tspan dy="-9.5">(FPKM)</tspan></text>
<text x="581.4" y="622.6" font-size="25" text-anchor="middle" transform="rotate(-45.5 581.4 622.6)">Enhancer count  (±1Mb)</text>
<text x="1365" y="594.5" font-size="25" text-anchor="middle" transform="rotate(-45.5 1365 594.5)">Enhancer count  (±1Mb)</text>
<text font-size="25" text-anchor="middle" transform="translate(732.2 290) scale(0.94 1) rotate(90)">log<tspan dy="9.5" font-size="15">2</tspan><tspan dy="-9.5">(TSS count (±1Mb))</tspan></text>
<text font-size="25" text-anchor="middle" transform="translate(1488 290) scale(0.94 1) rotate(90)">log<tspan dy="9.5" font-size="15">2</tspan><tspan dy="-9.5">(TSS count (±1Mb))</tspan></text>
<circle cx="402.8" cy="30.4" r="5" fill="#aaaaaa"/>
<text x="416.2" y="35.7" font-size="20.8">non-sig. nearest neighbor (NN; n=457)</text>
<circle cx="402.8" cy="58.2" r="5" fill="#4c86c3"/>
<text x="416.2" y="63.5" font-size="20.8">decreased (n=457)</text>
<circle cx="1140.5" cy="30.4" r="5" fill="#aaaaaa"/>
<text x="1153.8" y="35.7" font-size="20.8">non-sig. nearest neighbor (NN; n=92)</text>
<circle cx="1140.5" cy="58.2" r="5" fill="#d0433a"/>
<text x="1153.8" y="63.5" font-size="20.8">increased (n=92)</text>
<line x1="129.6" y1="766.15" x2="129.6" y2="1068.45" stroke="#000" stroke-width="1.7"/>
<line x1="128.75" y1="1067.6" x2="280.2" y2="1067.6" stroke="#000" stroke-width="1.7"/>
<line x1="119.6" y1="767.48" x2="129.6" y2="767.48" stroke="#000" stroke-width="1.7"/>
<text x="115.6" y="774.93" font-size="20.8" text-anchor="end">8</text>
<line x1="119.6" y1="805.06" x2="129.6" y2="805.06" stroke="#000" stroke-width="1.7"/>
<text x="115.6" y="812.51" font-size="20.8" text-anchor="end">6</text>
<line x1="119.6" y1="842.64" x2="129.6" y2="842.64" stroke="#000" stroke-width="1.7"/>
<text x="115.6" y="850.09" font-size="20.8" text-anchor="end">4</text>
<line x1="119.6" y1="880.22" x2="129.6" y2="880.22" stroke="#000" stroke-width="1.7"/>
<text x="115.6" y="887.67" font-size="20.8" text-anchor="end">2</text>
<line x1="119.6" y1="917.8" x2="129.6" y2="917.8" stroke="#000" stroke-width="1.7"/>
<text x="115.6" y="925.25" font-size="20.8" text-anchor="end">0</text>
<line x1="119.6" y1="955.38" x2="129.6" y2="955.38" stroke="#000" stroke-width="1.7"/>
<text x="115.6" y="962.83" font-size="20.8" text-anchor="end">−2</text>
<line x1="119.6" y1="992.96" x2="129.6" y2="992.96" stroke="#000" stroke-width="1.7"/>
<text x="115.6" y="1000.41" font-size="20.8" text-anchor="end">−4</text>
<line x1="119.6" y1="1030.54" x2="129.6" y2="1030.54" stroke="#000" stroke-width="1.7"/>
<text x="115.6" y="1037.99" font-size="20.8" text-anchor="end">−6</text>
<line x1="119.6" y1="1068.12" x2="129.6" y2="1068.12" stroke="#000" stroke-width="1.7"/>
<text x="115.6" y="1075.57" font-size="20.8" text-anchor="end">−8</text>
<line x1="166.6" y1="1067.6" x2="166.6" y2="1077.6" stroke="#000" stroke-width="1.7"/>
<line x1="241.8" y1="1067.6" x2="241.8" y2="1077.6" stroke="#000" stroke-width="1.7"/>
<line x1="151.8" y1="798.2" x2="151.8" y2="875.8" stroke="#000" stroke-width="1.7"/>
<line x1="151.8" y1="932.4" x2="151.8" y2="1016.6" stroke="#000" stroke-width="1.7"/>
<line x1="143.2" y1="798.2" x2="160.4" y2="798.2" stroke="#000" stroke-width="1.7"/>
<line x1="143.2" y1="1016.6" x2="160.4" y2="1016.6" stroke="#000" stroke-width="1.7"/>
<line x1="181.95" y1="790.9" x2="181.95" y2="872.8" stroke="#000" stroke-width="1.7"/>
<line x1="181.95" y1="931.1" x2="181.95" y2="1015" stroke="#000" stroke-width="1.7"/>
<line x1="173.35" y1="790.9" x2="190.55" y2="790.9" stroke="#000" stroke-width="1.7"/>
<line x1="173.35" y1="1015" x2="190.55" y2="1015" stroke="#000" stroke-width="1.7"/>
<line x1="226.85" y1="810.7" x2="226.85" y2="879.1" stroke="#000" stroke-width="1.7"/>
<line x1="226.85" y1="944.4" x2="226.85" y2="1009.3" stroke="#000" stroke-width="1.7"/>
<line x1="218.25" y1="810.7" x2="235.45" y2="810.7" stroke="#000" stroke-width="1.7"/>
<line x1="218.25" y1="1009.3" x2="235.45" y2="1009.3" stroke="#000" stroke-width="1.7"/>
<line x1="257.25" y1="812" x2="257.25" y2="878.6" stroke="#000" stroke-width="1.7"/>
<line x1="257.25" y1="943.2" x2="257.25" y2="1023.1" stroke="#000" stroke-width="1.7"/>
<line x1="248.65" y1="812" x2="265.85" y2="812" stroke="#000" stroke-width="1.7"/>
<line x1="248.65" y1="1023.1" x2="265.85" y2="1023.1" stroke="#000" stroke-width="1.7"/>
<rect x="137" y="875.8" width="29.6" height="56.6" fill="#aaaaaa" stroke="#000" stroke-width="1.7"/>
<line x1="137" y1="904.7" x2="166.6" y2="904.7" stroke="#000" stroke-width="1.7"/>
<rect x="166.6" y="872.8" width="30.7" height="58.3" fill="#4c86c3" stroke="#000" stroke-width="1.7"/>
<line x1="166.6" y1="904" x2="197.3" y2="904" stroke="#000" stroke-width="1.7"/>
<rect x="211.9" y="879.1" width="29.9" height="65.3" fill="#aaaaaa" stroke="#000" stroke-width="1.7"/>
<line x1="211.9" y1="910.3" x2="241.8" y2="910.3" stroke="#000" stroke-width="1.7"/>
<rect x="241.8" y="878.6" width="30.9" height="64.6" fill="#d0433a" stroke="#000" stroke-width="1.7"/>
<line x1="241.8" y1="909.2" x2="272.7" y2="909.2" stroke="#000" stroke-width="1.7"/>
<text x="167.1" y="785.8" font-size="18.75" text-anchor="middle">0.58</text>
<text x="241.8" y="797.4" font-size="18.75" text-anchor="middle">0.98</text>
<text x="80" y="917" font-size="25" text-anchor="middle" transform="rotate(-90 80 917)">log<tspan dy="9.5" font-size="15">2</tspan><tspan dy="-9.5">(FPKM)</tspan></text>
<line x1="129.6" y1="1100.55" x2="129.6" y2="1402.05" stroke="#000" stroke-width="1.7"/>
<line x1="128.75" y1="1401.2" x2="280.2" y2="1401.2" stroke="#000" stroke-width="1.7"/>
<line x1="119.6" y1="1101.38" x2="129.6" y2="1101.38" stroke="#000" stroke-width="1.7"/>
<text x="112" y="1106.83" font-size="20.8" text-anchor="end">60</text>
<line x1="119.6" y1="1151.35" x2="129.6" y2="1151.35" stroke="#000" stroke-width="1.7"/>
<text x="112" y="1156.8" font-size="20.8" text-anchor="end">50</text>
<line x1="119.6" y1="1201.32" x2="129.6" y2="1201.32" stroke="#000" stroke-width="1.7"/>
<text x="112" y="1206.77" font-size="20.8" text-anchor="end">40</text>
<line x1="119.6" y1="1251.29" x2="129.6" y2="1251.29" stroke="#000" stroke-width="1.7"/>
<text x="112" y="1256.74" font-size="20.8" text-anchor="end">30</text>
<line x1="119.6" y1="1301.26" x2="129.6" y2="1301.26" stroke="#000" stroke-width="1.7"/>
<text x="112" y="1306.71" font-size="20.8" text-anchor="end">20</text>
<line x1="119.6" y1="1351.23" x2="129.6" y2="1351.23" stroke="#000" stroke-width="1.7"/>
<text x="112" y="1356.68" font-size="20.8" text-anchor="end">10</text>
<line x1="119.6" y1="1401.2" x2="129.6" y2="1401.2" stroke="#000" stroke-width="1.7"/>
<text x="112" y="1406.65" font-size="20.8" text-anchor="end">0</text>
<line x1="166.6" y1="1401.2" x2="166.6" y2="1411.2" stroke="#000" stroke-width="1.7"/>
<line x1="241.8" y1="1401.2" x2="241.8" y2="1411.2" stroke="#000" stroke-width="1.7"/>
<line x1="151.8" y1="1186.33" x2="151.8" y2="1261.28" stroke="#000" stroke-width="1.7"/>
<line x1="151.8" y1="1311.25" x2="151.8" y2="1386.21" stroke="#000" stroke-width="1.7"/>
<line x1="143.2" y1="1186.33" x2="160.4" y2="1186.33" stroke="#000" stroke-width="1.7"/>
<line x1="143.2" y1="1386.21" x2="160.4" y2="1386.21" stroke="#000" stroke-width="1.7"/>
<line x1="181.95" y1="1186.33" x2="181.95" y2="1261.28" stroke="#000" stroke-width="1.7"/>
<line x1="181.95" y1="1311.25" x2="181.95" y2="1386.21" stroke="#000" stroke-width="1.7"/>
<line x1="173.35" y1="1186.33" x2="190.55" y2="1186.33" stroke="#000" stroke-width="1.7"/>
<line x1="173.35" y1="1386.21" x2="190.55" y2="1386.21" stroke="#000" stroke-width="1.7"/>
<line x1="226.85" y1="1161.34" x2="226.85" y2="1259.78" stroke="#000" stroke-width="1.7"/>
<line x1="226.85" y1="1326.25" x2="226.85" y2="1371.22" stroke="#000" stroke-width="1.7"/>
<line x1="218.25" y1="1161.34" x2="235.45" y2="1161.34" stroke="#000" stroke-width="1.7"/>
<line x1="218.25" y1="1371.22" x2="235.45" y2="1371.22" stroke="#000" stroke-width="1.7"/>
<line x1="257.25" y1="1171.34" x2="257.25" y2="1261.28" stroke="#000" stroke-width="1.7"/>
<line x1="257.25" y1="1322.75" x2="257.25" y2="1366.22" stroke="#000" stroke-width="1.7"/>
<line x1="248.65" y1="1171.34" x2="265.85" y2="1171.34" stroke="#000" stroke-width="1.7"/>
<line x1="248.65" y1="1366.22" x2="265.85" y2="1366.22" stroke="#000" stroke-width="1.7"/>
<rect x="137" y="1261.28" width="29.6" height="49.97" fill="#aaaaaa" stroke="#000" stroke-width="1.7"/>
<line x1="137" y1="1286.27" x2="166.6" y2="1286.27" stroke="#000" stroke-width="1.7"/>
<rect x="166.6" y="1261.28" width="30.7" height="49.97" fill="#4c86c3" stroke="#000" stroke-width="1.7"/>
<line x1="166.6" y1="1286.27" x2="197.3" y2="1286.27" stroke="#000" stroke-width="1.7"/>
<rect x="211.9" y="1259.78" width="29.9" height="66.46" fill="#aaaaaa" stroke="#000" stroke-width="1.7"/>
<line x1="211.9" y1="1291.27" x2="241.8" y2="1291.27" stroke="#000" stroke-width="1.7"/>
<rect x="241.8" y="1261.28" width="30.9" height="61.46" fill="#d0433a" stroke="#000" stroke-width="1.7"/>
<line x1="241.8" y1="1291.27" x2="272.7" y2="1291.27" stroke="#000" stroke-width="1.7"/>
<text x="167.1" y="1168.5" font-size="18.75" text-anchor="middle">0.86</text>
<text x="241.8" y="1148.4" font-size="18.75" text-anchor="middle">0.97</text>
<text x="80" y="1250.9" font-size="25" text-anchor="middle" transform="rotate(-90 80 1250.9)">Enhancer count (±1Mb)</text>
<line x1="129.6" y1="1440.55" x2="129.6" y2="1741.75" stroke="#000" stroke-width="1.7"/>
<line x1="128.75" y1="1740.9" x2="280.2" y2="1740.9" stroke="#000" stroke-width="1.7"/>
<line x1="119.6" y1="1441.3" x2="129.6" y2="1441.3" stroke="#000" stroke-width="1.7"/>
<text x="112" y="1446.75" font-size="20.8" text-anchor="end">8</text>
<line x1="119.6" y1="1478.75" x2="129.6" y2="1478.75" stroke="#000" stroke-width="1.7"/>
<text x="112" y="1484.2" font-size="20.8" text-anchor="end">7</text>
<line x1="119.6" y1="1516.2" x2="129.6" y2="1516.2" stroke="#000" stroke-width="1.7"/>
<text x="112" y="1521.65" font-size="20.8" text-anchor="end">6</text>
<line x1="119.6" y1="1553.65" x2="129.6" y2="1553.65" stroke="#000" stroke-width="1.7"/>
<text x="112" y="1559.1" font-size="20.8" text-anchor="end">5</text>
<line x1="119.6" y1="1591.1" x2="129.6" y2="1591.1" stroke="#000" stroke-width="1.7"/>
<text x="112" y="1596.55" font-size="20.8" text-anchor="end">4</text>
<line x1="119.6" y1="1628.55" x2="129.6" y2="1628.55" stroke="#000" stroke-width="1.7"/>
<text x="112" y="1634" font-size="20.8" text-anchor="end">3</text>
<line x1="119.6" y1="1666" x2="129.6" y2="1666" stroke="#000" stroke-width="1.7"/>
<text x="112" y="1671.45" font-size="20.8" text-anchor="end">2</text>
<line x1="119.6" y1="1703.45" x2="129.6" y2="1703.45" stroke="#000" stroke-width="1.7"/>
<text x="112" y="1708.9" font-size="20.8" text-anchor="end">1</text>
<line x1="166.6" y1="1740.9" x2="166.6" y2="1750.9" stroke="#000" stroke-width="1.7"/>
<line x1="241.8" y1="1740.9" x2="241.8" y2="1750.9" stroke="#000" stroke-width="1.7"/>
<line x1="151.8" y1="1482.6" x2="151.8" y2="1530.6" stroke="#000" stroke-width="1.7"/>
<line x1="151.8" y1="1563.3" x2="151.8" y2="1606.7" stroke="#000" stroke-width="1.7"/>
<line x1="143.2" y1="1482.6" x2="160.4" y2="1482.6" stroke="#000" stroke-width="1.7"/>
<line x1="143.2" y1="1606.7" x2="160.4" y2="1606.7" stroke="#000" stroke-width="1.7"/>
<line x1="181.95" y1="1482.6" x2="181.95" y2="1530.6" stroke="#000" stroke-width="1.7"/>
<line x1="181.95" y1="1563.3" x2="181.95" y2="1606.7" stroke="#000" stroke-width="1.7"/>
<line x1="173.35" y1="1482.6" x2="190.55" y2="1482.6" stroke="#000" stroke-width="1.7"/>
<line x1="173.35" y1="1606.7" x2="190.55" y2="1606.7" stroke="#000" stroke-width="1.7"/>
<line x1="226.85" y1="1479.1" x2="226.85" y2="1518.5" stroke="#000" stroke-width="1.7"/>
<line x1="226.85" y1="1551.9" x2="226.85" y2="1598.4" stroke="#000" stroke-width="1.7"/>
<line x1="218.25" y1="1479.1" x2="235.45" y2="1479.1" stroke="#000" stroke-width="1.7"/>
<line x1="218.25" y1="1598.4" x2="235.45" y2="1598.4" stroke="#000" stroke-width="1.7"/>
<line x1="257.25" y1="1479.1" x2="257.25" y2="1519" stroke="#000" stroke-width="1.7"/>
<line x1="257.25" y1="1551.9" x2="257.25" y2="1598.4" stroke="#000" stroke-width="1.7"/>
<line x1="248.65" y1="1479.1" x2="265.85" y2="1479.1" stroke="#000" stroke-width="1.7"/>
<line x1="248.65" y1="1598.4" x2="265.85" y2="1598.4" stroke="#000" stroke-width="1.7"/>
<rect x="137" y="1530.6" width="29.6" height="32.7" fill="#aaaaaa" stroke="#000" stroke-width="1.7"/>
<line x1="137" y1="1547.7" x2="166.6" y2="1547.7" stroke="#000" stroke-width="1.7"/>
<rect x="166.6" y="1530.6" width="30.7" height="32.7" fill="#4c86c3" stroke="#000" stroke-width="1.7"/>
<line x1="166.6" y1="1545.7" x2="197.3" y2="1545.7" stroke="#000" stroke-width="1.7"/>
<rect x="211.9" y="1518.5" width="29.9" height="33.4" fill="#aaaaaa" stroke="#000" stroke-width="1.7"/>
<line x1="211.9" y1="1534.6" x2="241.8" y2="1534.6" stroke="#000" stroke-width="1.7"/>
<rect x="241.8" y="1519" width="30.9" height="32.9" fill="#d0433a" stroke="#000" stroke-width="1.7"/>
<line x1="241.8" y1="1536.6" x2="272.7" y2="1536.6" stroke="#000" stroke-width="1.7"/>
<line x1="119.6" y1="1740.9" x2="129.6" y2="1740.9" stroke="#000" stroke-width="1.7"/>
<text x="112" y="1734.05" font-size="20.8" text-anchor="end">0</text>
<text x="167.1" y="1475.8" font-size="18.75" text-anchor="middle">0.94</text>
<text x="241.8" y="1468.3" font-size="18.75" text-anchor="middle">0.99</text>
<text x="80" y="1590.9" font-size="25" text-anchor="middle" transform="rotate(-90 80 1590.9)">log<tspan dy="9.5" font-size="15">2</tspan><tspan dy="-9.5">(TSS count (±1Mb))</tspan></text>
<text x="172" y="1766" font-size="20.8" text-anchor="end" transform="rotate(-30 172 1766)">decreased (n=457)</text>
<text x="247" y="1766" font-size="20.8" text-anchor="end" transform="rotate(-30 247 1766)">increased (n=92)</text>
<rect x="26.1" y="1877.9" width="40.8" height="14.7" fill="#aaaaaa" stroke="#000" stroke-width="1.6"/>
<text x="74.1" y="1892.9" font-size="20.8">non-sig. nearest neighbor (NN)</text>
<rect x="26.1" y="1907.3" width="40.8" height="14.7" fill="#4c86c3" stroke="#000" stroke-width="1.6"/>
<text x="74.1" y="1921.8" font-size="20.8">decreased</text>
<rect x="26.1" y="1934.5" width="40.8" height="14.9" fill="#d0433a" stroke="#000" stroke-width="1.6"/>
<text x="74.1" y="1948.7" font-size="20.8">increased</text>
<rect x="456" y="1037.37" width="36.8" height="5.83" fill="#6a5fb1"/>
<rect x="456" y="1009.81" width="36.8" height="22.56" fill="#e9a233"/>
<rect x="456" y="982.98" width="36.8" height="21.82" fill="#e03a6d"/>
<rect x="456" y="802.1" width="36.8" height="175.88" fill="#d3d3d3"/>
<rect x="505.3" y="1036.88" width="36.8" height="6.32" fill="#6a5fb1"/>
<rect x="505.3" y="997.01" width="36.8" height="34.87" fill="#e9a233"/>
<rect x="505.3" y="968.96" width="36.8" height="23.06" fill="#e03a6d"/>
<rect x="505.3" y="802.1" width="36.8" height="161.86" fill="#d3d3d3"/>
<rect x="554.2" y="999.72" width="36.8" height="43.48" fill="#6a5fb1"/>
<rect x="554.2" y="946.31" width="36.8" height="48.4" fill="#e9a233"/>
<rect x="554.2" y="925.89" width="36.8" height="15.43" fill="#e03a6d"/>
<rect x="554.2" y="802.1" width="36.8" height="118.79" fill="#d3d3d3"/>
<rect x="603.4" y="1040.08" width="36.8" height="3.12" fill="#6a5fb1"/>
<rect x="603.4" y="1005.38" width="36.8" height="29.7" fill="#e9a233"/>
<rect x="603.4" y="989.38" width="36.8" height="11" fill="#e03a6d"/>
<rect x="603.4" y="802.1" width="36.8" height="182.28" fill="#d3d3d3"/>
<rect x="652.6" y="999.96" width="36.8" height="43.24" fill="#6a5fb1"/>
<rect x="652.6" y="965.26" width="36.8" height="29.7" fill="#e9a233"/>
<rect x="652.6" y="933.27" width="36.8" height="26.99" fill="#e03a6d"/>
<rect x="652.6" y="802.1" width="36.8" height="126.17" fill="#d3d3d3"/>
<line x1="450.6" y1="798.75" x2="450.6" y2="1046.55" stroke="#000" stroke-width="1.7"/>
<line x1="449.75" y1="1045.7" x2="696.4" y2="1045.7" stroke="#000" stroke-width="1.7"/>
<line x1="439.8" y1="1045.7" x2="450.6" y2="1045.7" stroke="#000" stroke-width="1.7"/>
<text x="436.1" y="1053.15" font-size="20.8" text-anchor="end">0</text>
<line x1="439.8" y1="996.48" x2="450.6" y2="996.48" stroke="#000" stroke-width="1.7"/>
<text x="436.1" y="1003.93" font-size="20.8" text-anchor="end">20</text>
<line x1="439.8" y1="947.26" x2="450.6" y2="947.26" stroke="#000" stroke-width="1.7"/>
<text x="436.1" y="954.71" font-size="20.8" text-anchor="end">40</text>
<line x1="439.8" y1="898.04" x2="450.6" y2="898.04" stroke="#000" stroke-width="1.7"/>
<text x="436.1" y="905.49" font-size="20.8" text-anchor="end">60</text>
<line x1="439.8" y1="848.82" x2="450.6" y2="848.82" stroke="#000" stroke-width="1.7"/>
<text x="436.1" y="856.27" font-size="20.8" text-anchor="end">80</text>
<line x1="439.8" y1="799.6" x2="450.6" y2="799.6" stroke="#000" stroke-width="1.7"/>
<text x="436.1" y="807.05" font-size="20.8" text-anchor="end">100</text>
<line x1="474.4" y1="1045.7" x2="474.4" y2="1055.4" stroke="#000" stroke-width="1.7"/>
<line x1="523.7" y1="1045.7" x2="523.7" y2="1055.4" stroke="#000" stroke-width="1.7"/>
<line x1="572.6" y1="1045.7" x2="572.6" y2="1055.4" stroke="#000" stroke-width="1.7"/>
<line x1="621.8" y1="1045.7" x2="621.8" y2="1055.4" stroke="#000" stroke-width="1.7"/>
<line x1="671" y1="1045.7" x2="671" y2="1055.4" stroke="#000" stroke-width="1.7"/>
<text x="474.4" y="1045" font-size="18.75" text-anchor="middle">4.4</text>
<text x="474.4" y="1025.8" font-size="18.75" text-anchor="middle">11.2</text>
<text x="474.4" y="998.61" font-size="18.75" text-anchor="middle">10.9</text>
<text x="474.4" y="894.75" font-size="18.75" text-anchor="middle">73.5</text>
<text x="523.7" y="1044.75" font-size="18.75" text-anchor="middle">4.6</text>
<text x="523.7" y="1019.16" font-size="18.75" text-anchor="middle">16.2</text>
<text x="523.7" y="985.2" font-size="18.75" text-anchor="middle">11.4</text>
<text x="523.7" y="887.74" font-size="18.75" text-anchor="middle">67.8</text>
<text x="572.6" y="1026.17" font-size="18.75" text-anchor="middle">19.7</text>
<text x="572.6" y="975.23" font-size="18.75" text-anchor="middle">21.7</text>
<text x="572.6" y="938.31" font-size="18.75" text-anchor="middle">8.3</text>
<text x="572.6" y="866.21" font-size="18.75" text-anchor="middle">50.3</text>
<text x="621.8" y="1046.35" font-size="18.75" text-anchor="middle">3.3</text>
<text x="621.8" y="1024.94" font-size="18.75" text-anchor="middle">14.1</text>
<text x="621.8" y="999.59" font-size="18.75" text-anchor="middle">6.5</text>
<text x="621.8" y="897.95" font-size="18.75" text-anchor="middle">76.1</text>
<text x="671" y="1026.29" font-size="18.75" text-anchor="middle">19.6</text>
<text x="671" y="984.83" font-size="18.75" text-anchor="middle">14.1</text>
<text x="671" y="951.48" font-size="18.75" text-anchor="middle">13.0</text>
<text x="671" y="869.9" font-size="18.75" text-anchor="middle">53.3</text>
<text x="576.8" y="770.3" font-size="25" text-anchor="middle">DMSO 90min</text>
<text x="576.8" y="792.6" font-size="20.8" text-anchor="middle">2.76x10<tspan dy="-7.49" font-size="12.9">-65</tspan></text>
<rect x="456" y="1358.68" width="36.8" height="3.62" fill="#6a5fb1"/>
<rect x="456" y="1350.8" width="36.8" height="2.88" fill="#e9a233"/>
<rect x="456" y="1121" width="36.8" height="220.61" fill="#d3d3d3"/>
<rect x="505.3" y="1358.68" width="36.8" height="3.62" fill="#6a5fb1"/>
<rect x="505.3" y="1349.07" width="36.8" height="4.61" fill="#e9a233"/>
<rect x="505.3" y="1121" width="36.8" height="218.64" fill="#d3d3d3"/>
<rect x="554.2" y="1347.84" width="36.8" height="14.46" fill="#6a5fb1"/>
<rect x="554.2" y="1335.53" width="36.8" height="7.32" fill="#e9a233"/>
<rect x="554.2" y="1330.11" width="36.8" height="0.42" fill="#e03a6d"/>
<rect x="554.2" y="1121" width="36.8" height="204.11" fill="#d3d3d3"/>
<rect x="603.4" y="1361.88" width="36.8" height="0.42" fill="#6a5fb1"/>
<rect x="603.4" y="1351.29" width="36.8" height="5.59" fill="#e9a233"/>
<rect x="603.4" y="1121" width="36.8" height="225.29" fill="#d3d3d3"/>
<rect x="652.6" y="1308.43" width="36.8" height="53.87" fill="#6a5fb1"/>
<rect x="652.6" y="1292.42" width="36.8" height="11.01" fill="#e9a233"/>
<rect x="652.6" y="1121" width="36.8" height="166.42" fill="#d3d3d3"/>
<line x1="450.6" y1="1117.65" x2="450.6" y2="1365.65" stroke="#000" stroke-width="1.7"/>
<line x1="449.75" y1="1364.8" x2="696.4" y2="1364.8" stroke="#000" stroke-width="1.7"/>
<line x1="439.8" y1="1364.8" x2="450.6" y2="1364.8" stroke="#000" stroke-width="1.7"/>
<text x="436.1" y="1358.45" font-size="20.8" text-anchor="end">0</text>
<line x1="439.8" y1="1315.54" x2="450.6" y2="1315.54" stroke="#000" stroke-width="1.7"/>
<text x="436.1" y="1322.99" font-size="20.8" text-anchor="end">20</text>
<line x1="439.8" y1="1266.28" x2="450.6" y2="1266.28" stroke="#000" stroke-width="1.7"/>
<text x="436.1" y="1273.73" font-size="20.8" text-anchor="end">40</text>
<line x1="439.8" y1="1217.02" x2="450.6" y2="1217.02" stroke="#000" stroke-width="1.7"/>
<text x="436.1" y="1224.47" font-size="20.8" text-anchor="end">60</text>
<line x1="439.8" y1="1167.76" x2="450.6" y2="1167.76" stroke="#000" stroke-width="1.7"/>
<text x="436.1" y="1175.21" font-size="20.8" text-anchor="end">80</text>
<line x1="439.8" y1="1118.5" x2="450.6" y2="1118.5" stroke="#000" stroke-width="1.7"/>
<text x="436.1" y="1125.95" font-size="20.8" text-anchor="end">100</text>
<line x1="474.4" y1="1364.8" x2="474.4" y2="1374.5" stroke="#000" stroke-width="1.7"/>
<line x1="523.7" y1="1364.8" x2="523.7" y2="1374.5" stroke="#000" stroke-width="1.7"/>
<line x1="572.6" y1="1364.8" x2="572.6" y2="1374.5" stroke="#000" stroke-width="1.7"/>
<line x1="621.8" y1="1364.8" x2="621.8" y2="1374.5" stroke="#000" stroke-width="1.7"/>
<line x1="671" y1="1364.8" x2="671" y2="1374.5" stroke="#000" stroke-width="1.7"/>
<text x="474.4" y="1365.2" font-size="18.75" text-anchor="middle">3.5</text>
<text x="474.4" y="1356.95" font-size="18.75" text-anchor="middle">3.2</text>
<text x="474.4" y="1350.92" font-size="18.75" text-anchor="middle">1.7</text>
<text x="474.4" y="1236.02" font-size="18.75" text-anchor="middle">91.6</text>
<text x="523.7" y="1365.2" font-size="18.75" text-anchor="middle">3.5</text>
<text x="523.7" y="1356.09" font-size="18.75" text-anchor="middle">3.9</text>
<text x="523.7" y="1349.07" font-size="18.75" text-anchor="middle">1.8</text>
<text x="523.7" y="1235.03" font-size="18.75" text-anchor="middle">90.8</text>
<text x="572.6" y="1359.78" font-size="18.75" text-anchor="middle">7.9</text>
<text x="572.6" y="1343.9" font-size="18.75" text-anchor="middle">5.0</text>
<text x="572.6" y="1335.03" font-size="18.75" text-anchor="middle">2.2</text>
<text x="572.6" y="1227.77" font-size="18.75" text-anchor="middle">84.9</text>
<text x="621.8" y="1358.8" font-size="18.75" text-anchor="middle">4.3</text>
<text x="621.8" y="1238.36" font-size="18.75" text-anchor="middle">93.5</text>
<text x="671" y="1340.08" font-size="18.75" text-anchor="middle">23.9</text>
<text x="671" y="1302.64" font-size="18.75" text-anchor="middle">6.5</text>
<text x="671" y="1208.92" font-size="18.75" text-anchor="middle">69.6</text>
<text x="572.6" y="1095.2" font-size="25" text-anchor="middle">dTAG 90min</text>
<text x="572.6" y="1114.6" font-size="20.8" text-anchor="middle">1.06x10<tspan dy="-7.49" font-size="12.9">-24</tspan></text>
<text x="389.5" y="923.7" font-size="25" text-anchor="middle" transform="rotate(-90 389.5 923.7)">percentage of genes</text>
<text x="389.5" y="1242" font-size="25" text-anchor="middle" transform="rotate(-90 389.5 1242)">percentage of genes</text>
<text x="479.4" y="1389" font-size="20.8" text-anchor="end" transform="rotate(-30 479.4 1389)">non-sig.</text>
<text x="528.7" y="1389" font-size="20.8" text-anchor="end" transform="rotate(-30 528.7 1389)">non-sig. (decreased NN)</text>
<text x="577.6" y="1389" font-size="20.8" text-anchor="end" transform="rotate(-30 577.6 1389)">decreased</text>
<text x="626.8" y="1389" font-size="20.8" text-anchor="end" transform="rotate(-30 626.8 1389)">non-sig. (increased NN)</text>
<text x="676" y="1389" font-size="20.8" text-anchor="end" transform="rotate(-30 676 1389)">increased</text>
<rect x="585.3" y="1460.6" width="37.5" height="11.1" fill="#d3d3d3"/>
<text x="628.9" y="1472.5" font-size="20.8">no loop</text>
<rect x="585.3" y="1480.3" width="37.5" height="10.3" fill="#e03a6d"/>
<text x="628.9" y="1492.2" font-size="20.8">loop:no E</text>
<rect x="585.3" y="1500" width="37.5" height="10.3" fill="#e9a233"/>
<text x="628.9" y="1511.1" font-size="20.8">TE</text>
<rect x="585.3" y="1519.2" width="37.5" height="10.5" fill="#6a5fb1"/>
<text x="628.9" y="1530.6" font-size="20.8">SE</text>
<line x1="488.7" y1="1604.15" x2="488.7" y2="1839.95" stroke="#000" stroke-width="1.7"/>
<line x1="487.85" y1="1839.1" x2="684.5" y2="1839.1" stroke="#000" stroke-width="1.7"/>
<line x1="480.4" y1="1618.2" x2="488.7" y2="1618.2" stroke="#000" stroke-width="1.7"/>
<text x="476.2" y="1623.35" font-size="20.8" text-anchor="end">0.4</text>
<line x1="480.4" y1="1670.3" x2="488.7" y2="1670.3" stroke="#000" stroke-width="1.7"/>
<text x="476.2" y="1675.45" font-size="20.8" text-anchor="end">0.2</text>
<line x1="480.4" y1="1722.4" x2="488.7" y2="1722.4" stroke="#000" stroke-width="1.7"/>
<text x="476.2" y="1727.55" font-size="20.8" text-anchor="end">0.0</text>
<line x1="480.4" y1="1774.5" x2="488.7" y2="1774.5" stroke="#000" stroke-width="1.7"/>
<text x="476.2" y="1779.65" font-size="20.8" text-anchor="end">−0.2</text>
<line x1="480.4" y1="1826.6" x2="488.7" y2="1826.6" stroke="#000" stroke-width="1.7"/>
<text x="476.2" y="1831.75" font-size="20.8" text-anchor="end">−0.4</text>
<line x1="536.9" y1="1839.1" x2="536.9" y2="1847.1" stroke="#000" stroke-width="1.7"/>
<line x1="634.8" y1="1839.1" x2="634.8" y2="1847.1" stroke="#000" stroke-width="1.7"/>
<line x1="517.45" y1="1646.2" x2="517.45" y2="1702.3" stroke="#000" stroke-width="1.7"/>
<line x1="517.45" y1="1739.9" x2="517.45" y2="1795.4" stroke="#000" stroke-width="1.7"/>
<line x1="506.95" y1="1646.2" x2="527.95" y2="1646.2" stroke="#000" stroke-width="1.7"/>
<line x1="506.95" y1="1795.4" x2="527.95" y2="1795.4" stroke="#000" stroke-width="1.7"/>
<line x1="556.75" y1="1642" x2="556.75" y2="1704.7" stroke="#000" stroke-width="1.7"/>
<line x1="556.75" y1="1747" x2="556.75" y2="1809.2" stroke="#000" stroke-width="1.7"/>
<line x1="546.25" y1="1642" x2="567.25" y2="1642" stroke="#000" stroke-width="1.7"/>
<line x1="546.25" y1="1809.2" x2="567.25" y2="1809.2" stroke="#000" stroke-width="1.7"/>
<line x1="615.05" y1="1645.2" x2="615.05" y2="1702.3" stroke="#000" stroke-width="1.7"/>
<line x1="615.05" y1="1741.2" x2="615.05" y2="1798.4" stroke="#000" stroke-width="1.7"/>
<line x1="604.55" y1="1645.2" x2="625.55" y2="1645.2" stroke="#000" stroke-width="1.7"/>
<line x1="604.55" y1="1798.4" x2="625.55" y2="1798.4" stroke="#000" stroke-width="1.7"/>
<line x1="654.35" y1="1641.7" x2="654.35" y2="1701" stroke="#000" stroke-width="1.7"/>
<line x1="654.35" y1="1741.7" x2="654.35" y2="1801" stroke="#000" stroke-width="1.7"/>
<line x1="643.85" y1="1641.7" x2="664.85" y2="1641.7" stroke="#000" stroke-width="1.7"/>
<line x1="643.85" y1="1801" x2="664.85" y2="1801" stroke="#000" stroke-width="1.7"/>
<rect x="498" y="1702.3" width="38.9" height="37.6" fill="#aaaaaa" stroke="#000" stroke-width="1.7"/>
<line x1="498" y1="1720.6" x2="536.9" y2="1720.6" stroke="#000" stroke-width="1.7"/>
<rect x="536.9" y="1704.7" width="39.7" height="42.3" fill="#4c86c3" stroke="#000" stroke-width="1.7"/>
<line x1="536.9" y1="1724.8" x2="576.6" y2="1724.8" stroke="#000" stroke-width="1.7"/>
<rect x="595.3" y="1702.3" width="39.5" height="38.9" fill="#aaaaaa" stroke="#000" stroke-width="1.7"/>
<line x1="595.3" y1="1722.4" x2="634.8" y2="1722.4" stroke="#000" stroke-width="1.7"/>
<rect x="634.8" y="1701" width="39.1" height="40.7" fill="#d0433a" stroke="#000" stroke-width="1.7"/>
<line x1="634.8" y1="1719.8" x2="673.9" y2="1719.8" stroke="#000" stroke-width="1.7"/>
<text x="538" y="1630.1" font-size="18.75" text-anchor="middle">1.7x10<tspan dy="-6.75" font-size="11.62">-12</tspan></text>
<text x="634.8" y="1630.1" font-size="18.75" text-anchor="middle">0.45</text>
<text x="426.8" y="1722.2" font-size="25" text-anchor="middle" transform="rotate(-90 426.8 1722.2)">Δscore (dTAG - DMSO)</text>
<text x="543" y="1863" font-size="20.8" text-anchor="end" transform="rotate(-30 543 1863)">decreased</text>
<text x="641" y="1863" font-size="20.8" text-anchor="end" transform="rotate(-30 641 1863)">increased</text>
<g clip-path="url(#hc1)"><g transform="translate(775.04 796.24) scale(5.76098)" filter="url(#hb16)"><rect width="43" height="43" fill="#e1dad7"/><path d="M40 0h1v1h-1zM40 1h1v1h-1zM39 2h1v1h-1z" fill="#a6c0e4"/><path d="M35 0h1v1h-1zM37 0h1v1h-1zM41 0h2v1h-2zM35 1h1v1h-1zM37 1h1v1h-1zM41 1h2v1h-2zM40 2h3v1h-3zM40 3h1v1h-1zM41 4h2v1h-2z" fill="#a7c1e5"/><path d="M33 0h1v1h-1zM36 0h1v1h-1zM38 0h2v1h-2zM33 1h1v1h-1zM36 1h1v1h-1zM38 1h2v1h-2zM36 2h3v1h-3zM37 3h1v1h-1zM39 3h1v1h-1zM41 3h2v1h-2zM38 4h1v1h-1zM39 5h4v1h-4z" fill="#a8c2e5"/><path d="M31 0h1v1h-1zM34 0h1v1h-1zM31 1h1v1h-1zM34 1h1v1h-1zM35 2h1v1h-1zM33 3h1v1h-1zM35 3h2v1h-2zM38 3h1v1h-1zM34 4h1v1h-1zM37 4h1v1h-1zM39 4h2v1h-2zM37 5h1v1h-1zM37 6h1v1h-1zM41 6h2v1h-2z" fill="#aac3e6"/><path d="M28 0h1v1h-1zM30 0h1v1h-1zM32 0h1v1h-1zM28 1h1v1h-1zM30 1h1v1h-1zM32 1h1v1h-1zM29 2h1v1h-1zM31 2h4v1h-4zM32 3h1v1h-1zM34 3h1v1h-1zM35 4h2v1h-2zM31 5h1v1h-1zM33 5h1v1h-1zM36 5h1v1h-1zM38 5h1v1h-1zM36 6h1v1h-1zM38 6h3v1h-3zM36 7h7v1h-7zM40 8h1v1h-1z" fill="#acc5e6"/><path d="M26 0h2v1h-2zM29 0h1v1h-1zM26 1h2v1h-2zM29 1h1v1h-1zM26 2h3v1h-3zM30 2h1v1h-1zM28 3h4v1h-4zM27 4h1v1h-1zM29 4h5v1h-5zM30 5h1v1h-1zM34 5h2v1h-2zM33 6h3v1h-3zM33 7h1v1h-1zM35 7h1v1h-1zM36 8h4v1h-4zM41 8h2v1h-2zM37 9h6v1h-6zM41 10h2v1h-2zM40 11h1v1h-1z" fill="#aec6e7"/><path d="M25 0h1v1h-1zM25 1h1v1h-1zM24 2h2v1h-2zM24 3h1v1h-1zM26 3h2v1h-2zM25 4h2v1h-2zM28 4h1v1h-1zM28 5h2v1h-2zM32 5h1v1h-1zM29 6h4v1h-4zM31 7h2v1h-2zM34 7h1v1h-1zM31 8h5v1h-5zM35 9h2v1h-2zM34 10h1v1h-1zM37 10h1v1h-1zM39 10h2v1h-2zM41 11h2v1h-2z" fill="#b0c8e8"/><path d="M23 0h2v1h-2zM23 1h2v1h-2zM25 3h1v1h-1zM24 4h1v1h-1zM25 5h3v1h-3zM26 6h3v1h-3zM27 7h4v1h-4zM28 8h2v1h-2zM26 9h1v1h-1zM29 9h6v1h-6zM32 10h2v1h-2zM35 10h2v1h-2zM38 10h1v1h-1zM34 11h6v1h-6zM35 12h8v1h-8zM40 13h3v1h-3z" fill="#b2c9e8"/><path d="M23 2h1v1h-1zM23 3h1v1h-1zM23 4h1v1h-1zM23 5h2v1h-2zM23 6h3v1h-3zM24 7h3v1h-3zM24 8h4v1h-4zM30 8h1v1h-1zM25 9h1v1h-1zM27 9h2v1h-2zM26 10h1v1h-1zM28 10h4v1h-4zM30 11h4v1h-4zM29 12h1v1h-1zM32 12h3v1h-3zM32 13h1v1h-1zM36 13h4v1h-4zM38 14h5v1h-5zM41 15h2v1h-2z" fill="#b4cae9"/><path d="M22 0h1v1h-1zM22 1h1v1h-1zM22 2h1v1h-1zM22 3h1v1h-1zM22 4h1v1h-1zM22 5h1v1h-1zM23 7h1v1h-1zM23 8h1v1h-1zM24 10h2v1h-2zM27 10h1v1h-1zM25 11h5v1h-5zM24 12h1v1h-1zM27 12h2v1h-2zM30 12h2v1h-2zM26 13h4v1h-4zM31 13h1v1h-1zM33 13h3v1h-3zM29 14h3v1h-3zM33 14h5v1h-5zM29 15h2v1h-2zM32 15h1v1h-1zM35 15h1v1h-1zM37 15h4v1h-4zM38 16h2v1h-2zM41 16h2v1h-2z" fill="#b6ccea"/><path d="M23 9h2v1h-2zM23 10h1v1h-1zM23 11h2v1h-2zM25 12h2v1h-2zM24 13h2v1h-2zM30 13h1v1h-1zM25 14h4v1h-4zM32 14h1v1h-1zM26 15h3v1h-3zM31 15h1v1h-1zM33 15h2v1h-2zM36 15h1v1h-1zM28 16h3v1h-3zM32 16h6v1h-6zM40 16h1v1h-1zM30 17h1v1h-1zM34 17h3v1h-3zM38 17h5v1h-5z" fill="#b8cdeb"/><path d="M22 6h1v1h-1zM22 7h1v1h-1zM22 8h1v1h-1zM22 9h1v1h-1zM23 12h1v1h-1zM23 13h1v1h-1zM23 14h2v1h-2zM24 15h2v1h-2zM23 16h5v1h-5zM31 16h1v1h-1zM25 17h2v1h-2zM28 17h2v1h-2zM31 17h3v1h-3zM37 17h1v1h-1zM33 18h3v1h-3zM37 18h1v1h-1zM39 18h4v1h-4z" fill="#bacfeb"/><path d="M21 2h1v1h-1zM22 10h1v1h-1zM22 11h1v1h-1zM22 12h1v1h-1zM22 13h1v1h-1zM23 15h1v1h-1zM23 17h2v1h-2zM27 17h1v1h-1zM24 18h1v1h-1zM26 18h1v1h-1zM29 18h2v1h-2zM32 18h1v1h-1zM36 18h1v1h-1zM38 18h1v1h-1zM37 19h1v1h-1zM40 19h3v1h-3z" fill="#bcd0ec"/><path d="M21 0h1v1h-1zM21 1h1v1h-1zM21 3h1v1h-1zM21 4h1v1h-1zM22 14h1v1h-1zM22 15h1v1h-1zM22 16h1v1h-1zM25 18h1v1h-1zM27 18h2v1h-2zM31 18h1v1h-1zM31 19h6v1h-6zM38 19h2v1h-2z" fill="#bed1ec"/><path d="M21 5h1v1h-1zM21 6h1v1h-1zM21 7h1v1h-1zM22 17h1v1h-1zM23 18h1v1h-1zM25 19h6v1h-6zM36 20h7v1h-7z" fill="#c0d2ec"/><path d="M20 0h1v1h-1zM20 1h1v1h-1zM21 8h1v1h-1zM21 9h1v1h-1zM21 10h1v1h-1zM21 11h1v1h-1zM21 12h1v1h-1zM21 13h1v1h-1zM22 18h1v1h-1zM24 19h1v1h-1zM29 20h7v1h-7zM37 21h1v1h-1zM39 21h2v1h-2z" fill="#c2d3ec"/><path d="M20 2h1v1h-1zM20 3h1v1h-1zM20 4h1v1h-1zM21 14h1v1h-1zM21 15h1v1h-1zM21 16h1v1h-1zM23 19h1v1h-1zM24 20h5v1h-5zM34 21h3v1h-3zM38 21h1v1h-1zM41 21h2v1h-2zM37 22h2v1h-2zM40 22h3v1h-3z" fill="#c4d4ec"/><path d="M2 0h7v1h-7zM11 0h1v1h-1zM16 0h1v1h-1zM19 0h1v1h-1zM2 1h7v1h-7zM11 1h1v1h-1zM16 1h1v1h-1zM19 1h1v1h-1zM0 2h6v1h-6zM9 2h1v1h-1zM16 2h1v1h-1zM2 3h3v1h-3zM19 3h1v1h-1zM20 5h1v1h-1zM20 6h1v1h-1zM20 7h1v1h-1zM20 8h1v1h-1zM21 17h1v1h-1zM28 21h2v1h-2zM31 21h3v1h-3zM34 22h3v1h-3zM39 22h1v1h-1zM38 23h1v1h-1zM40 23h3v1h-3zM40 24h3v1h-3zM41 28h2v1h-2zM40 29h1v1h-1zM41 31h2v1h-2zM40 33h3v1h-3zM40 34h1v1h-1zM40 35h3v1h-3zM41 36h2v1h-2zM39 37h1v1h-1zM41 37h2v1h-2zM39 38h1v1h-1zM41 38h2v1h-2zM40 39h3v1h-3zM40 40h1v1h-1zM41 41h2v1h-2zM41 42h2v1h-2z" fill="#c6d6ed"/><path d="M0 0h2v1h-2zM9 0h2v1h-2zM12 0h4v1h-4zM17 0h2v1h-2zM0 1h2v1h-2zM9 1h2v1h-2zM12 1h4v1h-4zM17 1h2v1h-2zM6 2h3v1h-3zM10 2h6v1h-6zM17 2h3v1h-3zM0 3h2v1h-2zM5 3h10v1h-10zM17 3h2v1h-2zM0 4h17v1h-17zM18 4h2v1h-2zM0 5h10v1h-10zM11 5h2v1h-2zM15 5h1v1h-1zM19 5h1v1h-1zM0 6h8v1h-8zM9 6h1v1h-1zM11 6h2v1h-2zM19 6h1v1h-1zM2 7h5v1h-5zM0 8h3v1h-3zM20 9h1v1h-1zM0 10h2v1h-2zM20 10h1v1h-1zM20 11h1v1h-1zM20 13h1v1h-1zM21 18h1v1h-1zM25 21h3v1h-3zM30 21h1v1h-1zM28 22h1v1h-1zM30 22h4v1h-4zM35 23h3v1h-3zM39 23h1v1h-1zM39 24h1v1h-1zM38 25h5v1h-5zM39 26h4v1h-4zM38 27h1v1h-1zM40 27h3v1h-3zM40 28h1v1h-1zM37 29h1v1h-1zM39 29h1v1h-1zM41 29h2v1h-2zM39 30h4v1h-4zM38 31h3v1h-3zM39 32h4v1h-4zM37 33h1v1h-1zM39 33h1v1h-1zM38 34h2v1h-2zM41 34h2v1h-2zM39 35h1v1h-1zM38 36h3v1h-3zM38 37h1v1h-1zM40 37h1v1h-1zM38 38h1v1h-1zM40 38h1v1h-1zM37 39h3v1h-3zM36 40h1v1h-1zM38 40h2v1h-2zM41 40h2v1h-2zM38 41h3v1h-3zM38 42h3v1h-3z" fill="#c8d7ed"/><path d="M15 3h2v1h-2zM17 4h1v1h-1zM10 5h1v1h-1zM13 5h2v1h-2zM16 5h3v1h-3zM8 6h1v1h-1zM10 6h1v1h-1zM13 6h4v1h-4zM18 6h1v1h-1zM0 7h2v1h-2zM7 7h8v1h-8zM16 7h4v1h-4zM3 8h7v1h-7zM11 8h1v1h-1zM13 8h4v1h-4zM19 8h1v1h-1zM0 9h13v1h-13zM14 9h4v1h-4zM19 9h1v1h-1zM2 10h3v1h-3zM6 10h3v1h-3zM10 10h1v1h-1zM16 10h2v1h-2zM19 10h1v1h-1zM0 11h6v1h-6zM7 11h2v1h-2zM10 11h1v1h-1zM12 11h1v1h-1zM0 12h5v1h-5zM7 12h1v1h-1zM20 12h1v1h-1zM2 13h2v1h-2zM0 14h2v1h-2zM3 14h1v1h-1zM20 14h1v1h-1zM20 15h1v1h-1zM20 17h1v1h-1zM24 21h1v1h-1zM26 22h2v1h-2zM29 22h1v1h-1zM31 23h4v1h-4zM34 24h5v1h-5zM34 25h1v1h-1zM37 25h1v1h-1zM36 26h3v1h-3zM36 27h2v1h-2zM39 27h1v1h-1zM37 28h3v1h-3zM38 29h1v1h-1zM35 30h4v1h-4zM35 31h3v1h-3zM35 32h4v1h-4zM35 33h2v1h-2zM38 33h1v1h-1zM36 34h2v1h-2zM34 35h1v1h-1zM36 35h1v1h-1zM38 35h1v1h-1zM35 36h3v1h-3zM34 37h4v1h-4zM35 38h3v1h-3zM35 39h2v1h-2zM34 40h2v1h-2zM37 40h1v1h-1zM34 41h4v1h-4zM34 42h4v1h-4z" fill="#cad8ed"/><path d="M17 6h1v1h-1zM15 7h1v1h-1zM10 8h1v1h-1zM12 8h1v1h-1zM17 8h2v1h-2zM13 9h1v1h-1zM18 9h1v1h-1zM5 10h1v1h-1zM9 10h1v1h-1zM11 10h5v1h-5zM18 10h1v1h-1zM6 11h1v1h-1zM9 11h1v1h-1zM11 11h1v1h-1zM13 11h7v1h-7zM5 12h2v1h-2zM8 12h7v1h-7zM16 12h4v1h-4zM0 13h2v1h-2zM4 13h10v1h-10zM15 13h1v1h-1zM19 13h1v1h-1zM2 14h1v1h-1zM4 14h6v1h-6zM11 14h2v1h-2zM19 14h1v1h-1zM0 15h9v1h-9zM0 16h7v1h-7zM9 16h1v1h-1zM20 16h1v1h-1zM2 17h1v1h-1zM4 17h3v1h-3zM23 20h1v1h-1zM25 22h1v1h-1zM28 23h3v1h-3zM31 24h3v1h-3zM35 25h2v1h-2zM33 26h3v1h-3zM35 27h1v1h-1zM33 28h1v1h-1zM35 28h2v1h-2zM33 29h4v1h-4zM34 30h1v1h-1zM33 31h2v1h-2zM33 32h2v1h-2zM34 33h1v1h-1zM32 34h4v1h-4zM33 35h1v1h-1zM35 35h1v1h-1zM37 35h1v1h-1zM32 36h3v1h-3zM32 37h2v1h-2zM32 38h3v1h-3zM32 39h3v1h-3zM33 40h1v1h-1zM32 41h2v1h-2zM32 42h2v1h-2z" fill="#ccd9ed"/><path d="M15 12h1v1h-1zM14 13h1v1h-1zM16 13h3v1h-3zM10 14h1v1h-1zM13 14h6v1h-6zM9 15h9v1h-9zM19 15h1v1h-1zM7 16h2v1h-2zM10 16h5v1h-5zM16 16h2v1h-2zM19 16h1v1h-1zM0 17h2v1h-2zM3 17h1v1h-1zM7 17h9v1h-9zM19 17h1v1h-1zM0 18h5v1h-5zM7 18h1v1h-1zM20 18h1v1h-1zM22 19h1v1h-1zM24 22h1v1h-1zM25 23h3v1h-3zM28 24h3v1h-3zM30 25h4v1h-4zM31 26h2v1h-2zM31 27h4v1h-4zM32 28h1v1h-1zM34 28h1v1h-1zM30 29h1v1h-1zM32 29h1v1h-1zM29 30h5v1h-5zM30 31h3v1h-3zM28 32h1v1h-1zM30 32h3v1h-3zM30 33h4v1h-4zM29 34h3v1h-3zM31 35h2v1h-2zM29 36h1v1h-1zM31 36h1v1h-1zM30 37h2v1h-2zM29 38h3v1h-3zM29 39h3v1h-3zM29 40h4v1h-4zM29 41h3v1h-3zM29 42h3v1h-3z" fill="#cdd9ec"/><path d="M18 15h1v1h-1zM15 16h1v1h-1zM18 16h1v1h-1zM16 17h3v1h-3zM5 18h2v1h-2zM8 18h5v1h-5zM14 18h2v1h-2zM24 23h1v1h-1zM25 24h3v1h-3zM26 25h4v1h-4zM28 26h3v1h-3zM29 27h2v1h-2zM28 28h4v1h-4zM28 29h2v1h-2zM31 29h1v1h-1zM27 30h2v1h-2zM26 31h1v1h-1zM28 31h2v1h-2zM27 32h1v1h-1zM29 32h1v1h-1zM27 33h3v1h-3zM26 34h3v1h-3zM27 35h4v1h-4zM28 36h1v1h-1zM30 36h1v1h-1zM26 37h4v1h-4zM26 38h3v1h-3zM25 39h2v1h-2zM28 39h1v1h-1zM26 40h3v1h-3zM26 41h3v1h-3zM26 42h3v1h-3z" fill="#cfdaea"/><path d="M13 18h1v1h-1zM16 18h4v1h-4zM0 19h5v1h-5zM6 19h3v1h-3zM24 24h1v1h-1zM24 25h2v1h-2zM25 26h3v1h-3zM26 27h3v1h-3zM26 28h2v1h-2zM24 29h4v1h-4zM26 30h1v1h-1zM25 31h1v1h-1zM27 31h1v1h-1zM26 32h1v1h-1zM25 33h2v1h-2zM25 34h1v1h-1zM25 35h2v1h-2zM25 36h3v1h-3zM24 37h2v1h-2zM24 38h2v1h-2zM24 39h1v1h-1zM27 39h1v1h-1zM24 40h2v1h-2zM24 41h2v1h-2zM24 42h2v1h-2z" fill="#d0dae9"/><path d="M5 19h1v1h-1zM9 19h4v1h-4zM14 19h4v1h-4zM23 23h1v1h-1zM24 26h1v1h-1zM24 27h2v1h-2zM24 28h2v1h-2zM24 30h2v1h-2zM24 31h1v1h-1zM24 32h2v1h-2zM24 33h1v1h-1zM24 34h1v1h-1zM24 35h1v1h-1zM24 36h1v1h-1z" fill="#d2dbe8"/><path d="M13 19h1v1h-1zM18 19h2v1h-2zM21 19h1v1h-1zM23 22h1v1h-1zM23 24h1v1h-1zM23 25h1v1h-1zM23 26h1v1h-1zM23 33h1v1h-1zM23 34h1v1h-1zM23 35h1v1h-1zM23 36h1v1h-1zM23 38h1v1h-1zM23 39h1v1h-1zM23 40h1v1h-1zM23 41h1v1h-1zM23 42h1v1h-1z" fill="#d3dbe7"/><path d="M20 19h1v1h-1zM2 20h2v1h-2zM7 20h1v1h-1zM23 21h1v1h-1zM23 27h1v1h-1zM23 28h1v1h-1zM23 29h1v1h-1zM23 30h1v1h-1zM23 31h1v1h-1zM23 32h1v1h-1zM23 37h1v1h-1z" fill="#d5dce5"/><path d="M0 20h2v1h-2zM4 20h3v1h-3zM8 20h5v1h-5zM15 20h1v1h-1z" fill="#d6dce4"/><path d="M13 20h2v1h-2zM16 20h3v1h-3z" fill="#d7dce2"/><path d="M22 24h1v1h-1zM22 27h1v1h-1zM22 29h1v1h-1zM22 30h1v1h-1zM22 31h1v1h-1zM22 32h1v1h-1zM22 33h1v1h-1zM22 34h1v1h-1zM22 35h1v1h-1zM22 36h1v1h-1zM22 37h1v1h-1zM22 38h1v1h-1zM22 39h1v1h-1zM22 40h1v1h-1zM22 41h1v1h-1zM22 42h1v1h-1z" fill="#d9dce1"/><path d="M0 21h7v1h-7zM8 21h4v1h-4zM22 25h1v1h-1zM22 26h1v1h-1zM22 28h1v1h-1z" fill="#dadcdf"/><path d="M19 20h1v1h-1zM7 21h1v1h-1zM12 21h7v1h-7zM22 23h1v1h-1z" fill="#dcdcde"/><path d="M0 22h5v1h-5zM6 22h3v1h-3z" fill="#dddcdc"/><path d="M5 22h1v1h-1zM9 22h8v1h-8zM0 23h2v1h-2zM7 23h1v1h-1zM21 32h1v1h-1zM21 34h1v1h-1zM21 35h1v1h-1zM21 36h1v1h-1zM21 37h1v1h-1zM21 38h1v1h-1zM21 39h1v1h-1zM21 40h1v1h-1zM21 41h1v1h-1zM21 42h1v1h-1z" fill="#dedbda"/><path d="M22 20h1v1h-1zM17 22h2v1h-2zM2 23h5v1h-5zM8 23h11v1h-11zM6 24h1v1h-1zM21 24h1v1h-1zM21 25h1v1h-1zM21 26h1v1h-1zM2 27h1v1h-1zM21 27h1v1h-1zM21 28h1v1h-1zM8 29h1v1h-1zM21 29h1v1h-1zM0 30h2v1h-2zM6 30h1v1h-1zM21 30h1v1h-1zM2 31h1v1h-1zM4 31h1v1h-1zM8 31h1v1h-1zM21 31h1v1h-1zM0 32h2v1h-2zM3 32h2v1h-2zM7 32h1v1h-1zM14 32h2v1h-2zM0 33h2v1h-2zM3 33h3v1h-3zM7 33h1v1h-1zM9 33h1v1h-1zM12 33h1v1h-1zM14 33h1v1h-1zM17 33h1v1h-1zM21 33h1v1h-1zM0 34h3v1h-3zM4 34h5v1h-5zM11 34h2v1h-2zM14 34h1v1h-1zM18 34h1v1h-1zM0 35h10v1h-10zM11 35h1v1h-1zM16 35h1v1h-1zM2 36h10v1h-10zM13 36h2v1h-2zM17 36h2v1h-2zM0 37h14v1h-14zM15 37h3v1h-3zM0 38h19v1h-19zM0 39h19v1h-19zM0 40h8v1h-8zM9 40h10v1h-10zM0 41h20v1h-20zM0 42h20v1h-20z" fill="#dfdbd8"/><path d="M19 23h1v1h-1zM19 24h2v1h-2zM17 25h1v1h-1zM19 25h2v1h-2zM10 26h1v1h-1zM19 26h1v1h-1zM20 27h1v1h-1zM19 28h1v1h-1zM20 30h1v1h-1zM20 31h1v1h-1z" fill="#e2dad5"/><path d="M19 21h1v1h-1zM19 22h1v1h-1z" fill="#e3d9d3"/><path d="M20 23h2v1h-2z" fill="#e4d8d1"/><path d="M20 20h1v1h-1z" fill="#e7d7ce"/><path d="M22 22h1v1h-1z" fill="#e8d6cd"/><path d="M21 20h1v1h-1z" fill="#ecd1c3"/><path d="M22 21h1v1h-1zM20 22h1v1h-1z" fill="#eecfc0"/><path d="M21 22h1v1h-1z" fill="#f2c7b2"/><path d="M20 21h1v1h-1z" fill="#f2c6b0"/><path d="M21 21h1v1h-1z" fill="#f4b49a"/></g></g>
<rect x="780.8" y="802" width="236.2" height="236.2" fill="none" stroke="#000" stroke-width="1.7"/>
<g clip-path="url(#hc2)"><g transform="translate(1021.44 796.24) scale(5.76098)" filter="url(#hb15)"><rect width="43" height="43" fill="#dedbda"/><path d="M38 0h1v1h-1zM38 1h1v1h-1zM39 2h1v1h-1zM35 3h1v1h-1z" fill="#b8cdeb"/><path d="M39 0h4v1h-4zM39 1h4v1h-4zM40 2h3v1h-3zM40 3h1v1h-1zM40 4h1v1h-1zM39 6h1v1h-1zM37 7h1v1h-1z" fill="#bacfeb"/><path d="M37 0h1v1h-1zM37 1h1v1h-1zM38 2h1v1h-1zM37 3h1v1h-1zM39 3h1v1h-1zM41 3h2v1h-2zM36 4h1v1h-1zM39 4h1v1h-1zM41 4h2v1h-2zM40 5h1v1h-1zM38 7h1v1h-1zM41 7h2v1h-2zM41 8h2v1h-2zM38 9h2v1h-2zM41 9h2v1h-2z" fill="#bcd0ec"/><path d="M34 0h3v1h-3zM34 1h3v1h-3zM34 2h1v1h-1zM37 2h1v1h-1zM36 3h1v1h-1zM37 4h2v1h-2zM38 5h1v1h-1zM41 5h2v1h-2zM37 6h1v1h-1zM41 6h2v1h-2zM36 7h1v1h-1zM40 7h1v1h-1zM40 8h1v1h-1zM40 10h1v1h-1zM40 11h3v1h-3zM39 13h1v1h-1z" fill="#bed1ec"/><path d="M31 0h2v1h-2zM31 1h2v1h-2zM29 2h2v1h-2zM33 2h1v1h-1zM35 2h2v1h-2zM30 3h4v1h-4zM38 3h1v1h-1zM31 4h1v1h-1zM33 5h1v1h-1zM36 5h1v1h-1zM35 6h1v1h-1zM38 6h1v1h-1zM40 6h1v1h-1zM35 7h1v1h-1zM39 7h1v1h-1zM35 8h3v1h-3zM39 8h1v1h-1zM37 9h1v1h-1zM40 9h1v1h-1zM39 10h1v1h-1zM38 11h1v1h-1zM37 12h1v1h-1zM39 12h1v1h-1zM41 12h2v1h-2z" fill="#c0d2ec"/><path d="M30 0h1v1h-1zM30 1h1v1h-1zM34 3h1v1h-1zM33 4h1v1h-1zM35 4h1v1h-1zM27 5h1v1h-1zM30 5h2v1h-2zM34 5h2v1h-2zM39 5h1v1h-1zM31 6h1v1h-1zM36 6h1v1h-1zM30 7h1v1h-1zM34 7h1v1h-1zM38 8h1v1h-1zM35 9h2v1h-2zM34 10h2v1h-2zM37 11h1v1h-1zM39 11h1v1h-1zM40 13h1v1h-1zM37 14h3v1h-3zM37 15h1v1h-1z" fill="#c2d3ec"/><path d="M26 0h1v1h-1zM29 0h1v1h-1zM33 0h1v1h-1zM26 1h1v1h-1zM29 1h1v1h-1zM33 1h1v1h-1zM27 2h1v1h-1zM29 3h1v1h-1zM30 4h1v1h-1zM28 5h2v1h-2zM32 5h1v1h-1zM37 5h1v1h-1zM29 6h1v1h-1zM32 6h3v1h-3zM31 7h1v1h-1zM33 7h1v1h-1zM33 8h2v1h-2zM31 9h2v1h-2zM34 9h1v1h-1zM36 10h1v1h-1zM38 10h1v1h-1zM41 10h2v1h-2zM28 11h1v1h-1zM32 11h1v1h-1zM34 11h1v1h-1zM40 12h1v1h-1zM40 14h3v1h-3zM37 16h1v1h-1zM40 16h1v1h-1zM40 17h1v1h-1z" fill="#c4d4ec"/><path d="M25 0h1v1h-1zM28 0h1v1h-1zM25 1h1v1h-1zM28 1h1v1h-1zM26 2h1v1h-1zM31 2h2v1h-2zM24 3h1v1h-1zM28 3h1v1h-1zM24 4h1v1h-1zM28 4h2v1h-2zM32 4h1v1h-1zM34 4h1v1h-1zM28 6h1v1h-1zM32 7h1v1h-1zM32 8h1v1h-1zM27 9h1v1h-1zM31 10h1v1h-1zM33 10h1v1h-1zM37 10h1v1h-1zM31 11h1v1h-1zM33 11h1v1h-1zM36 11h1v1h-1zM32 12h1v1h-1zM34 12h2v1h-2zM38 12h1v1h-1zM31 13h4v1h-4zM37 13h2v1h-2zM41 13h2v1h-2zM34 14h2v1h-2zM33 15h1v1h-1zM36 15h1v1h-1zM41 15h2v1h-2zM32 16h1v1h-1zM38 16h2v1h-2zM41 16h2v1h-2zM38 17h2v1h-2zM41 17h2v1h-2zM38 18h1v1h-1zM41 18h2v1h-2z" fill="#c6d6ed"/><path d="M27 0h1v1h-1zM27 1h1v1h-1zM24 2h1v1h-1zM28 2h1v1h-1zM26 3h2v1h-2zM26 4h2v1h-2zM25 5h1v1h-1zM24 6h1v1h-1zM27 6h1v1h-1zM24 7h1v1h-1zM26 7h4v1h-4zM27 8h1v1h-1zM29 8h3v1h-3zM25 9h1v1h-1zM28 9h1v1h-1zM30 9h1v1h-1zM33 9h1v1h-1zM30 10h1v1h-1zM32 10h1v1h-1zM30 11h1v1h-1zM27 12h1v1h-1zM31 12h1v1h-1zM33 12h1v1h-1zM36 12h1v1h-1zM29 13h1v1h-1zM35 13h2v1h-2zM29 14h1v1h-1zM33 14h1v1h-1zM36 14h1v1h-1zM34 15h2v1h-2zM39 15h2v1h-2zM34 16h3v1h-3zM39 18h2v1h-2z" fill="#c8d7ed"/><path d="M23 2h1v1h-1zM25 3h1v1h-1zM23 4h1v1h-1zM26 5h1v1h-1zM25 6h2v1h-2zM28 8h1v1h-1zM26 9h1v1h-1zM29 9h1v1h-1zM25 10h5v1h-5zM25 11h3v1h-3zM29 11h1v1h-1zM35 11h1v1h-1zM25 12h1v1h-1zM28 12h3v1h-3zM27 13h1v1h-1zM30 13h1v1h-1zM31 14h2v1h-2zM30 15h3v1h-3zM38 15h1v1h-1zM28 16h1v1h-1zM31 17h1v1h-1zM35 17h3v1h-3zM33 18h2v1h-2zM37 18h1v1h-1zM39 19h1v1h-1zM41 19h2v1h-2z" fill="#cad8ed"/><path d="M24 0h1v1h-1zM24 1h1v1h-1zM25 2h1v1h-1zM23 3h1v1h-1zM25 4h1v1h-1zM23 5h2v1h-2zM23 6h1v1h-1zM30 6h1v1h-1zM25 8h2v1h-2zM24 10h1v1h-1zM24 11h1v1h-1zM24 12h1v1h-1zM26 12h1v1h-1zM24 13h1v1h-1zM28 13h1v1h-1zM26 14h1v1h-1zM30 14h1v1h-1zM29 15h1v1h-1zM30 16h1v1h-1zM33 16h1v1h-1zM27 17h1v1h-1zM29 17h1v1h-1zM32 17h1v1h-1zM35 19h1v1h-1zM37 19h1v1h-1zM38 20h1v1h-1zM41 20h2v1h-2zM41 21h2v1h-2z" fill="#ccd9ed"/><path d="M23 0h1v1h-1zM23 1h1v1h-1zM22 4h1v1h-1zM22 5h1v1h-1zM23 7h1v1h-1zM25 7h1v1h-1zM23 8h2v1h-2zM24 9h1v1h-1zM23 11h1v1h-1zM25 13h2v1h-2zM25 14h1v1h-1zM27 14h1v1h-1zM26 15h3v1h-3zM26 16h2v1h-2zM29 16h1v1h-1zM31 16h1v1h-1zM33 17h1v1h-1zM30 18h1v1h-1zM32 18h1v1h-1zM35 18h2v1h-2zM32 19h1v1h-1zM36 19h1v1h-1zM38 19h1v1h-1zM40 19h1v1h-1zM36 20h1v1h-1zM40 20h1v1h-1zM40 21h1v1h-1z" fill="#cdd9ec"/><path d="M23 10h1v1h-1zM24 14h1v1h-1zM28 14h1v1h-1zM25 16h1v1h-1zM28 17h1v1h-1zM30 17h1v1h-1zM34 17h1v1h-1zM26 18h4v1h-4zM31 18h1v1h-1zM33 19h1v1h-1zM34 20h1v1h-1zM37 20h1v1h-1zM39 20h1v1h-1zM39 21h1v1h-1zM40 23h1v1h-1z" fill="#cfdaea"/><path d="M22 0h1v1h-1zM22 1h1v1h-1zM22 2h1v1h-1zM22 3h1v1h-1zM22 9h2v1h-2zM23 12h1v1h-1zM22 13h1v1h-1zM23 14h1v1h-1zM23 15h3v1h-3zM23 16h2v1h-2zM24 17h3v1h-3zM25 18h1v1h-1zM30 19h2v1h-2zM35 20h1v1h-1zM34 21h1v1h-1zM37 21h1v1h-1zM39 22h4v1h-4zM41 23h2v1h-2z" fill="#d0dae9"/><path d="M21 2h1v1h-1zM22 6h1v1h-1zM22 8h1v1h-1zM22 10h1v1h-1zM23 13h1v1h-1zM23 18h2v1h-2zM28 19h2v1h-2zM34 19h1v1h-1zM28 20h1v1h-1zM31 20h3v1h-3zM35 21h2v1h-2zM38 21h1v1h-1zM36 23h1v1h-1zM38 23h1v1h-1zM40 24h3v1h-3zM40 28h1v1h-1zM41 29h2v1h-2zM41 30h2v1h-2zM41 31h2v1h-2zM41 32h2v1h-2zM41 33h2v1h-2zM40 34h3v1h-3zM41 36h2v1h-2zM39 37h1v1h-1zM41 38h2v1h-2zM40 40h1v1h-1zM41 41h2v1h-2zM41 42h2v1h-2z" fill="#d2dbe8"/><path d="M21 0h1v1h-1zM21 1h1v1h-1zM21 4h1v1h-1zM21 7h2v1h-2zM22 11h1v1h-1zM22 12h1v1h-1zM22 14h1v1h-1zM22 16h1v1h-1zM23 17h1v1h-1zM24 19h2v1h-2zM26 20h2v1h-2zM29 20h1v1h-1zM30 21h1v1h-1zM33 21h1v1h-1zM35 22h4v1h-4zM37 23h1v1h-1zM39 23h1v1h-1zM37 24h1v1h-1zM39 25h1v1h-1zM38 26h1v1h-1zM41 28h2v1h-2zM38 29h2v1h-2zM39 31h1v1h-1zM40 33h1v1h-1zM37 36h1v1h-1zM40 36h1v1h-1zM38 37h1v1h-1zM40 37h3v1h-3zM38 38h2v1h-2zM41 39h2v1h-2zM37 40h3v1h-3zM41 40h2v1h-2zM38 41h1v1h-1zM38 42h1v1h-1z" fill="#d3dbe7"/><path d="M21 3h1v1h-1zM21 6h1v1h-1zM22 15h1v1h-1zM26 19h2v1h-2zM30 20h1v1h-1zM28 21h1v1h-1zM32 21h1v1h-1zM31 22h2v1h-2zM34 22h1v1h-1zM33 23h1v1h-1zM35 23h1v1h-1zM34 24h2v1h-2zM38 24h1v1h-1zM40 25h3v1h-3zM37 26h1v1h-1zM40 26h3v1h-3zM37 27h3v1h-3zM41 27h2v1h-2zM37 29h1v1h-1zM40 29h1v1h-1zM38 30h3v1h-3zM40 31h1v1h-1zM37 32h1v1h-1zM39 32h2v1h-2zM38 33h1v1h-1zM39 34h1v1h-1zM37 35h1v1h-1zM39 35h1v1h-1zM41 35h2v1h-2zM36 36h1v1h-1zM39 36h1v1h-1zM37 37h1v1h-1zM37 38h1v1h-1zM40 38h1v1h-1zM39 39h2v1h-2zM35 40h2v1h-2zM36 41h1v1h-1zM39 41h2v1h-2zM36 42h1v1h-1zM39 42h2v1h-2z" fill="#d5dce5"/><path d="M20 0h1v1h-1zM20 1h1v1h-1zM21 8h1v1h-1zM21 9h1v1h-1zM21 10h1v1h-1zM21 13h1v1h-1zM22 18h1v1h-1zM25 20h1v1h-1zM29 21h1v1h-1zM29 22h2v1h-2zM33 22h1v1h-1zM29 23h1v1h-1zM31 23h1v1h-1zM34 23h1v1h-1zM36 24h1v1h-1zM39 24h1v1h-1zM34 25h1v1h-1zM38 25h1v1h-1zM39 26h1v1h-1zM36 27h1v1h-1zM40 27h1v1h-1zM38 28h1v1h-1zM36 29h1v1h-1zM37 31h2v1h-2zM35 32h1v1h-1zM36 33h1v1h-1zM39 33h1v1h-1zM36 34h3v1h-3zM35 35h1v1h-1zM38 35h1v1h-1zM40 35h1v1h-1zM35 36h1v1h-1zM38 36h1v1h-1zM35 37h2v1h-2zM35 38h2v1h-2zM35 39h4v1h-4zM33 41h1v1h-1zM37 41h1v1h-1zM33 42h1v1h-1zM37 42h1v1h-1z" fill="#d6dce4"/><path d="M21 5h1v1h-1zM21 11h1v1h-1zM21 12h1v1h-1zM22 17h1v1h-1zM23 19h1v1h-1zM24 20h1v1h-1zM25 21h1v1h-1zM27 21h1v1h-1zM31 21h1v1h-1zM24 22h1v1h-1zM28 22h1v1h-1zM28 23h1v1h-1zM32 23h1v1h-1zM33 24h1v1h-1zM32 25h2v1h-2zM35 25h1v1h-1zM37 25h1v1h-1zM34 27h1v1h-1zM32 28h1v1h-1zM34 28h1v1h-1zM36 28h2v1h-2zM39 28h1v1h-1zM35 29h1v1h-1zM36 30h2v1h-2zM34 31h3v1h-3zM34 32h1v1h-1zM36 32h1v1h-1zM38 32h1v1h-1zM33 33h1v1h-1zM35 33h1v1h-1zM37 33h1v1h-1zM35 34h1v1h-1zM34 35h1v1h-1zM36 35h1v1h-1zM32 36h3v1h-3zM32 37h3v1h-3zM32 39h3v1h-3zM32 40h1v1h-1zM34 40h1v1h-1zM32 41h1v1h-1zM34 41h2v1h-2zM32 42h1v1h-1zM34 42h2v1h-2z" fill="#d7dce2"/><path d="M20 2h1v1h-1zM20 3h1v1h-1zM20 4h1v1h-1zM20 6h1v1h-1zM21 14h1v1h-1zM21 16h1v1h-1zM21 17h1v1h-1zM26 21h1v1h-1zM27 22h1v1h-1zM30 23h1v1h-1zM31 24h2v1h-2zM36 25h1v1h-1zM31 26h1v1h-1zM34 26h2v1h-2zM35 27h1v1h-1zM31 28h1v1h-1zM35 28h1v1h-1zM33 29h2v1h-2zM29 30h1v1h-1zM32 30h2v1h-2zM35 30h1v1h-1zM28 31h1v1h-1zM31 33h1v1h-1zM34 33h1v1h-1zM33 34h2v1h-2zM32 35h2v1h-2zM30 36h1v1h-1zM30 37h1v1h-1zM32 38h3v1h-3zM31 39h1v1h-1zM30 40h1v1h-1zM33 40h1v1h-1zM30 41h2v1h-2zM30 42h2v1h-2z" fill="#d9dce1"/><path d="M20 5h1v1h-1zM10 6h1v1h-1zM14 6h1v1h-1zM20 7h1v1h-1zM21 15h1v1h-1zM26 22h1v1h-1zM25 23h1v1h-1zM27 23h1v1h-1zM28 24h3v1h-3zM29 25h3v1h-3zM29 26h1v1h-1zM32 26h2v1h-2zM36 26h1v1h-1zM31 27h1v1h-1zM33 27h1v1h-1zM30 28h1v1h-1zM33 28h1v1h-1zM31 29h2v1h-2zM31 30h1v1h-1zM34 30h1v1h-1zM29 31h1v1h-1zM32 31h2v1h-2zM28 32h1v1h-1zM32 32h1v1h-1zM29 33h2v1h-2zM32 33h1v1h-1zM31 34h2v1h-2zM31 35h1v1h-1zM31 36h1v1h-1zM27 37h1v1h-1zM29 37h1v1h-1zM31 37h1v1h-1zM29 38h3v1h-3zM26 39h2v1h-2zM29 39h2v1h-2zM28 40h2v1h-2zM31 40h1v1h-1zM29 41h1v1h-1zM29 42h1v1h-1z" fill="#dadcdf"/><path d="M5 0h1v1h-1zM7 0h1v1h-1zM19 0h1v1h-1zM5 1h1v1h-1zM7 1h1v1h-1zM19 1h1v1h-1zM3 2h1v1h-1zM10 2h2v1h-2zM4 3h1v1h-1zM8 3h1v1h-1zM18 3h1v1h-1zM2 4h2v1h-2zM8 4h1v1h-1zM11 5h1v1h-1zM3 7h1v1h-1zM19 7h1v1h-1zM20 8h1v1h-1zM20 13h1v1h-1zM20 14h1v1h-1zM21 18h1v1h-1zM24 21h1v1h-1zM25 22h1v1h-1zM24 23h1v1h-1zM25 24h1v1h-1zM27 24h1v1h-1zM26 25h1v1h-1zM28 25h1v1h-1zM27 26h1v1h-1zM26 27h1v1h-1zM29 27h2v1h-2zM32 27h1v1h-1zM28 28h2v1h-2zM29 29h1v1h-1zM30 30h1v1h-1zM29 32h3v1h-3zM33 32h1v1h-1zM25 33h1v1h-1zM28 33h1v1h-1zM29 34h2v1h-2zM27 35h1v1h-1zM29 35h2v1h-2zM27 36h3v1h-3zM28 38h1v1h-1zM28 39h1v1h-1zM25 40h1v1h-1zM27 40h1v1h-1zM28 41h1v1h-1zM28 42h1v1h-1z" fill="#dcdcde"/><path d="M2 0h3v1h-3zM6 0h1v1h-1zM9 0h1v1h-1zM11 0h1v1h-1zM13 0h1v1h-1zM2 1h3v1h-3zM6 1h1v1h-1zM9 1h1v1h-1zM11 1h1v1h-1zM13 1h1v1h-1zM0 2h3v1h-3zM5 2h1v1h-1zM9 2h1v1h-1zM12 2h1v1h-1zM14 2h2v1h-2zM18 2h2v1h-2zM0 3h4v1h-4zM7 3h1v1h-1zM13 3h2v1h-2zM19 3h1v1h-1zM10 4h1v1h-1zM12 4h1v1h-1zM0 5h3v1h-3zM5 5h1v1h-1zM7 5h1v1h-1zM19 5h1v1h-1zM2 6h1v1h-1zM13 6h1v1h-1zM15 6h1v1h-1zM17 6h1v1h-1zM2 7h1v1h-1zM4 7h1v1h-1zM3 9h1v1h-1zM7 9h1v1h-1zM10 9h1v1h-1zM20 10h1v1h-1zM20 11h1v1h-1zM2 12h1v1h-1zM15 12h1v1h-1zM3 15h1v1h-1zM20 15h1v1h-1zM2 16h1v1h-1zM20 16h1v1h-1zM23 24h2v1h-2zM26 24h1v1h-1zM28 26h1v1h-1zM30 26h1v1h-1zM25 27h1v1h-1zM27 27h2v1h-2zM27 28h1v1h-1zM28 29h1v1h-1zM30 29h1v1h-1zM26 30h3v1h-3zM24 31h1v1h-1zM27 31h1v1h-1zM30 31h2v1h-2zM24 32h1v1h-1zM26 32h2v1h-2zM24 33h1v1h-1zM27 33h1v1h-1zM27 34h2v1h-2zM24 35h1v1h-1zM26 35h1v1h-1zM28 35h1v1h-1zM25 36h2v1h-2zM25 37h1v1h-1zM28 37h1v1h-1zM25 38h3v1h-3zM24 39h2v1h-2zM26 40h1v1h-1zM23 41h1v1h-1zM26 41h2v1h-2zM23 42h1v1h-1zM26 42h2v1h-2z" fill="#dddcdc"/><path d="M17 0h1v1h-1zM17 1h1v1h-1zM4 2h1v1h-1zM6 2h2v1h-2zM6 3h1v1h-1zM12 3h1v1h-1zM15 3h1v1h-1zM7 4h1v1h-1zM15 4h1v1h-1zM18 4h2v1h-2zM10 5h1v1h-1zM14 5h1v1h-1zM17 5h1v1h-1zM4 6h1v1h-1zM7 6h2v1h-2zM12 6h1v1h-1zM6 7h1v1h-1zM8 7h1v1h-1zM12 7h2v1h-2zM15 7h3v1h-3zM2 8h1v1h-1zM8 8h1v1h-1zM10 8h2v1h-2zM16 8h3v1h-3zM4 9h2v1h-2zM9 9h1v1h-1zM11 9h2v1h-2zM15 9h2v1h-2zM2 10h1v1h-1zM7 10h3v1h-3zM11 10h1v1h-1zM17 10h1v1h-1zM19 10h1v1h-1zM4 11h1v1h-1zM6 11h1v1h-1zM10 11h7v1h-7zM18 11h2v1h-2zM6 12h1v1h-1zM8 12h2v1h-2zM11 12h1v1h-1zM16 12h1v1h-1zM3 13h3v1h-3zM9 13h1v1h-1zM12 13h1v1h-1zM14 13h3v1h-3zM0 14h3v1h-3zM4 14h2v1h-2zM8 14h2v1h-2zM12 14h4v1h-4zM19 14h1v1h-1zM4 15h1v1h-1zM6 15h1v1h-1zM10 15h2v1h-2zM13 15h1v1h-1zM17 15h1v1h-1zM0 16h2v1h-2zM6 16h2v1h-2zM9 16h1v1h-1zM12 16h2v1h-2zM0 17h2v1h-2zM3 17h3v1h-3zM7 17h1v1h-1zM10 17h2v1h-2zM20 17h1v1h-1zM2 18h1v1h-1zM5 18h1v1h-1zM7 18h1v1h-1zM19 18h2v1h-2zM23 25h1v1h-1zM27 25h1v1h-1zM23 27h2v1h-2zM24 28h1v1h-1zM26 28h1v1h-1zM24 29h1v1h-1zM24 30h1v1h-1zM22 31h2v1h-2zM25 32h1v1h-1zM23 34h2v1h-2zM23 35h1v1h-1zM23 36h1v1h-1zM24 37h1v1h-1z" fill="#dfdbd8"/><path d="M14 4h1v1h-1zM17 4h1v1h-1zM12 5h1v1h-1zM18 7h1v1h-1zM5 8h1v1h-1zM12 8h1v1h-1zM14 8h1v1h-1zM19 8h1v1h-1zM13 9h1v1h-1zM17 9h1v1h-1zM10 10h1v1h-1zM16 10h1v1h-1zM7 11h1v1h-1zM10 12h1v1h-1zM14 12h1v1h-1zM17 12h1v1h-1zM10 13h2v1h-2zM17 13h2v1h-2zM7 14h1v1h-1zM10 14h2v1h-2zM16 14h1v1h-1zM18 14h1v1h-1zM5 15h1v1h-1zM8 15h1v1h-1zM15 15h2v1h-2zM18 15h2v1h-2zM3 16h2v1h-2zM11 16h1v1h-1zM16 16h4v1h-4zM8 17h1v1h-1zM12 17h2v1h-2zM15 17h2v1h-2zM18 17h2v1h-2zM0 18h2v1h-2zM3 18h2v1h-2zM6 18h1v1h-1zM8 18h1v1h-1zM10 18h1v1h-1zM12 18h2v1h-2zM15 18h1v1h-1zM18 18h1v1h-1zM9 19h1v1h-1zM23 26h1v1h-1zM23 29h1v1h-1zM23 30h1v1h-1zM23 32h1v1h-1zM23 33h1v1h-1zM22 38h1v1h-1zM22 39h2v1h-2z" fill="#e1dad7"/><path d="M16 2h1v1h-1zM18 10h1v1h-1zM17 11h1v1h-1zM12 12h2v1h-2zM19 13h1v1h-1zM17 14h1v1h-1zM9 15h1v1h-1zM12 15h1v1h-1zM14 15h1v1h-1zM8 16h1v1h-1zM10 16h1v1h-1zM14 16h2v1h-2zM6 17h1v1h-1zM14 17h1v1h-1zM17 17h1v1h-1zM9 18h1v1h-1zM11 18h1v1h-1zM14 18h1v1h-1zM0 19h4v1h-4zM5 19h3v1h-3zM15 19h1v1h-1zM23 21h1v1h-1zM22 24h1v1h-1zM23 28h1v1h-1zM22 30h1v1h-1zM22 32h1v1h-1zM22 35h1v1h-1zM22 36h1v1h-1zM22 37h1v1h-1zM22 40h1v1h-1zM22 41h1v1h-1zM22 42h1v1h-1z" fill="#e2dad5"/><path d="M16 18h2v1h-2zM4 19h1v1h-1zM8 19h1v1h-1zM12 19h3v1h-3zM16 19h1v1h-1zM18 19h2v1h-2zM23 22h1v1h-1zM22 25h1v1h-1zM22 27h1v1h-1zM22 28h1v1h-1zM22 29h1v1h-1zM22 33h1v1h-1zM22 34h1v1h-1zM21 36h1v1h-1zM21 41h1v1h-1zM21 42h1v1h-1z" fill="#e3d9d3"/><path d="M10 19h2v1h-2zM17 19h1v1h-1zM21 19h1v1h-1zM11 20h1v1h-1zM22 26h1v1h-1zM21 31h1v1h-1zM21 37h1v1h-1z" fill="#e4d8d1"/><path d="M20 19h1v1h-1zM0 20h6v1h-6zM16 20h1v1h-1zM22 23h1v1h-1zM21 25h1v1h-1zM21 26h1v1h-1zM21 30h1v1h-1zM21 32h1v1h-1zM21 33h1v1h-1zM21 34h1v1h-1zM21 35h1v1h-1zM21 38h1v1h-1zM21 39h1v1h-1zM21 40h1v1h-1z" fill="#e5d7d0"/><path d="M7 20h1v1h-1zM9 20h2v1h-2zM12 20h3v1h-3zM17 20h2v1h-2zM21 24h1v1h-1zM21 28h1v1h-1zM21 29h1v1h-1zM20 37h1v1h-1zM20 38h1v1h-1zM20 39h1v1h-1z" fill="#e7d7ce"/><path d="M6 20h1v1h-1zM8 20h1v1h-1zM15 20h1v1h-1zM20 27h2v1h-2zM20 28h1v1h-1zM20 29h1v1h-1zM20 30h1v1h-1zM20 31h1v1h-1zM20 32h1v1h-1zM20 33h1v1h-1zM20 35h1v1h-1zM20 36h1v1h-1zM20 40h1v1h-1zM20 41h1v1h-1zM20 42h1v1h-1z" fill="#e8d6cd"/><path d="M3 21h1v1h-1zM20 24h1v1h-1zM20 25h1v1h-1zM19 31h1v1h-1zM19 34h2v1h-2zM19 35h1v1h-1zM18 36h1v1h-1zM19 37h1v1h-1zM18 39h2v1h-2zM19 41h1v1h-1zM19 42h1v1h-1z" fill="#e9d5cb"/><path d="M19 20h1v1h-1zM0 21h2v1h-2zM4 21h1v1h-1zM6 21h1v1h-1zM8 21h2v1h-2zM11 21h1v1h-1zM13 21h2v1h-2zM16 21h2v1h-2zM15 22h1v1h-1zM12 23h1v1h-1zM14 24h1v1h-1zM18 24h1v1h-1zM17 26h1v1h-1zM19 27h1v1h-1zM19 28h1v1h-1zM17 29h1v1h-1zM19 29h1v1h-1zM19 30h1v1h-1zM17 31h2v1h-2zM13 32h1v1h-1zM18 32h2v1h-2zM18 33h2v1h-2zM14 34h2v1h-2zM17 34h1v1h-1zM14 35h1v1h-1zM16 35h1v1h-1zM17 36h1v1h-1zM19 36h1v1h-1zM16 37h2v1h-2zM14 38h1v1h-1zM16 38h1v1h-1zM18 38h1v1h-1zM15 39h3v1h-3zM16 40h1v1h-1zM18 40h2v1h-2zM17 41h2v1h-2zM17 42h2v1h-2z" fill="#ead4c9"/><path d="M2 21h1v1h-1zM5 21h1v1h-1zM7 21h1v1h-1zM10 21h1v1h-1zM12 21h1v1h-1zM15 21h1v1h-1zM18 21h1v1h-1zM0 22h2v1h-2zM4 22h1v1h-1zM6 22h1v1h-1zM11 22h1v1h-1zM13 22h2v1h-2zM5 23h1v1h-1zM13 23h7v1h-7zM21 23h1v1h-1zM5 24h1v1h-1zM8 24h2v1h-2zM11 24h2v1h-2zM16 24h2v1h-2zM19 24h1v1h-1zM11 25h1v1h-1zM15 25h1v1h-1zM18 25h1v1h-1zM9 26h1v1h-1zM11 26h6v1h-6zM19 26h2v1h-2zM12 27h1v1h-1zM15 27h1v1h-1zM17 27h2v1h-2zM15 28h2v1h-2zM18 28h1v1h-1zM11 29h1v1h-1zM15 29h1v1h-1zM18 29h1v1h-1zM14 30h5v1h-5zM10 31h1v1h-1zM13 31h2v1h-2zM14 32h1v1h-1zM16 32h1v1h-1zM14 33h4v1h-4zM13 34h1v1h-1zM16 34h1v1h-1zM11 35h3v1h-3zM17 35h2v1h-2zM13 36h4v1h-4zM13 37h3v1h-3zM18 37h1v1h-1zM11 38h3v1h-3zM17 38h1v1h-1zM19 38h1v1h-1zM10 39h1v1h-1zM12 39h3v1h-3zM14 40h2v1h-2zM17 40h1v1h-1zM12 41h1v1h-1zM14 41h3v1h-3zM12 42h1v1h-1zM14 42h3v1h-3z" fill="#ebd3c7"/><path d="M3 22h1v1h-1zM7 22h2v1h-2zM10 22h1v1h-1zM16 22h3v1h-3zM0 23h2v1h-2zM3 23h1v1h-1zM9 23h3v1h-3zM0 24h2v1h-2zM6 24h2v1h-2zM10 24h1v1h-1zM13 24h1v1h-1zM15 24h1v1h-1zM6 25h1v1h-1zM12 25h3v1h-3zM17 25h1v1h-1zM19 25h1v1h-1zM8 26h1v1h-1zM10 26h1v1h-1zM18 26h1v1h-1zM5 27h2v1h-2zM10 27h1v1h-1zM13 27h2v1h-2zM16 27h1v1h-1zM8 28h1v1h-1zM11 28h2v1h-2zM14 28h1v1h-1zM17 28h1v1h-1zM5 29h2v1h-2zM10 29h1v1h-1zM12 29h3v1h-3zM16 29h1v1h-1zM8 30h1v1h-1zM10 30h4v1h-4zM7 31h2v1h-2zM11 31h2v1h-2zM15 31h2v1h-2zM7 32h1v1h-1zM10 32h3v1h-3zM15 32h1v1h-1zM17 32h1v1h-1zM6 33h1v1h-1zM10 33h4v1h-4zM10 34h3v1h-3zM18 34h1v1h-1zM8 35h2v1h-2zM15 35h1v1h-1zM9 36h4v1h-4zM9 37h4v1h-4zM15 38h1v1h-1zM11 39h1v1h-1zM13 40h1v1h-1zM7 41h1v1h-1zM9 41h3v1h-3zM13 41h1v1h-1zM7 42h1v1h-1zM9 42h3v1h-3zM13 42h1v1h-1z" fill="#ebd2c5"/><path d="M2 22h1v1h-1zM5 22h1v1h-1zM9 22h1v1h-1zM12 22h1v1h-1zM2 23h1v1h-1zM4 23h1v1h-1zM6 23h3v1h-3zM20 23h1v1h-1zM2 24h1v1h-1zM4 24h1v1h-1zM0 25h6v1h-6zM7 25h4v1h-4zM16 25h1v1h-1zM2 26h1v1h-1zM5 26h3v1h-3zM2 27h1v1h-1zM4 27h1v1h-1zM7 27h3v1h-3zM11 27h1v1h-1zM0 28h2v1h-2zM3 28h5v1h-5zM9 28h2v1h-2zM13 28h1v1h-1zM2 29h1v1h-1zM4 29h1v1h-1zM7 29h3v1h-3zM0 30h3v1h-3zM4 30h4v1h-4zM9 30h1v1h-1zM2 31h2v1h-2zM5 31h1v1h-1zM9 31h1v1h-1zM3 32h1v1h-1zM5 32h1v1h-1zM9 32h1v1h-1zM3 33h1v1h-1zM7 33h3v1h-3zM6 34h2v1h-2zM9 34h1v1h-1zM3 35h1v1h-1zM6 35h2v1h-2zM10 35h1v1h-1zM4 36h5v1h-5zM4 37h3v1h-3zM8 37h1v1h-1zM5 38h6v1h-6zM7 39h3v1h-3zM6 40h7v1h-7zM8 41h1v1h-1zM8 42h1v1h-1z" fill="#ecd1c3"/><path d="M19 22h1v1h-1zM3 24h1v1h-1zM0 26h2v1h-2zM3 26h2v1h-2zM0 27h2v1h-2zM3 27h1v1h-1zM2 28h1v1h-1zM0 29h2v1h-2zM3 29h1v1h-1zM3 30h1v1h-1zM4 31h1v1h-1zM6 31h1v1h-1zM2 32h1v1h-1zM4 32h1v1h-1zM6 32h1v1h-1zM8 32h1v1h-1zM0 33h3v1h-3zM4 33h2v1h-2zM2 34h4v1h-4zM8 34h1v1h-1zM0 35h3v1h-3zM4 35h2v1h-2zM2 36h2v1h-2zM0 37h2v1h-2zM7 37h1v1h-1zM4 38h1v1h-1zM2 39h5v1h-5zM2 40h4v1h-4zM2 41h5v1h-5zM2 42h5v1h-5z" fill="#edd0c2"/><path d="M0 31h2v1h-2zM0 32h2v1h-2zM0 34h2v1h-2zM0 36h2v1h-2zM2 37h2v1h-2zM0 38h4v1h-4zM0 39h2v1h-2zM0 40h2v1h-2zM0 41h2v1h-2zM0 42h2v1h-2z" fill="#eecfc0"/><path d="M22 20h1v1h-1z" fill="#efcebe"/><path d="M19 21h1v1h-1z" fill="#efcdbc"/><path d="M22 22h1v1h-1z" fill="#f1cab6"/><path d="M20 20h1v1h-1z" fill="#f2c6b0"/><path d="M20 22h1v1h-1z" fill="#f3c2ab"/><path d="M22 21h1v1h-1z" fill="#f4bfa7"/><path d="M21 20h1v1h-1z" fill="#f4bca3"/><path d="M21 22h1v1h-1z" fill="#f4b89d"/><path d="M20 21h1v1h-1z" fill="#f4ae92"/><path d="M21 21h1v1h-1z" fill="#ef9477"/></g></g>
<rect x="1027.2" y="802" width="236.2" height="236.2" fill="none" stroke="#000" stroke-width="1.7"/>
<g clip-path="url(#hc3)"><g transform="translate(1268.84 796.24) scale(5.76098)" filter="url(#hb15)"><rect width="43" height="43" fill="#e3d9d3"/><path d="M41 3h2v1h-2zM38 7h1v1h-1z" fill="#dddcdc"/><path d="M34 0h1v1h-1zM34 1h1v1h-1zM41 2h2v1h-2zM0 3h2v1h-2zM39 3h1v1h-1zM37 4h1v1h-1zM40 5h1v1h-1zM40 9h1v1h-1z" fill="#dedbda"/><path d="M4 0h1v1h-1zM6 0h1v1h-1zM33 0h1v1h-1zM40 0h3v1h-3zM4 1h1v1h-1zM6 1h1v1h-1zM33 1h1v1h-1zM40 1h3v1h-3zM32 2h2v1h-2zM39 2h1v1h-1zM34 3h1v1h-1zM37 3h2v1h-2zM4 4h1v1h-1zM35 4h1v1h-1zM38 4h3v1h-3zM38 5h2v1h-2zM29 6h1v1h-1zM34 6h1v1h-1zM41 6h2v1h-2zM40 7h1v1h-1zM30 9h1v1h-1zM39 9h1v1h-1zM41 9h2v1h-2zM36 10h1v1h-1zM40 13h1v1h-1zM40 15h1v1h-1zM39 16h1v1h-1zM41 29h2v1h-2zM40 32h1v1h-1zM39 33h1v1h-1zM40 34h1v1h-1zM41 40h2v1h-2z" fill="#dfdbd8"/><path d="M0 0h3v1h-3zM29 0h1v1h-1zM35 0h1v1h-1zM37 0h1v1h-1zM39 0h1v1h-1zM0 1h3v1h-3zM29 1h1v1h-1zM35 1h1v1h-1zM37 1h1v1h-1zM39 1h1v1h-1zM0 2h3v1h-3zM5 2h1v1h-1zM7 2h1v1h-1zM9 2h1v1h-1zM38 2h1v1h-1zM8 3h1v1h-1zM27 3h3v1h-3zM31 3h2v1h-2zM35 3h2v1h-2zM2 4h2v1h-2zM28 4h1v1h-1zM0 5h2v1h-2zM29 5h2v1h-2zM41 5h2v1h-2zM3 6h1v1h-1zM31 6h1v1h-1zM35 6h1v1h-1zM38 6h3v1h-3zM33 7h1v1h-1zM39 7h1v1h-1zM41 7h2v1h-2zM2 8h1v1h-1zM37 8h1v1h-1zM31 9h1v1h-1zM33 9h1v1h-1zM35 9h2v1h-2zM39 10h1v1h-1zM40 11h1v1h-1zM35 12h1v1h-1zM38 12h1v1h-1zM40 12h3v1h-3zM41 14h2v1h-2zM38 30h1v1h-1zM41 30h2v1h-2zM40 31h1v1h-1zM41 33h2v1h-2zM40 35h1v1h-1zM39 36h1v1h-1zM41 36h2v1h-2zM34 37h2v1h-2zM39 37h1v1h-1zM41 37h2v1h-2zM40 38h1v1h-1zM39 39h2v1h-2zM34 40h7v1h-7zM37 41h2v1h-2zM40 41h1v1h-1zM37 42h2v1h-2zM40 42h1v1h-1z" fill="#e1dad7"/><path d="M3 0h1v1h-1zM5 0h1v1h-1zM7 0h2v1h-2zM10 0h2v1h-2zM14 0h1v1h-1zM25 0h1v1h-1zM36 0h1v1h-1zM38 0h1v1h-1zM3 1h1v1h-1zM5 1h1v1h-1zM7 1h2v1h-2zM10 1h2v1h-2zM14 1h1v1h-1zM25 1h1v1h-1zM36 1h1v1h-1zM38 1h1v1h-1zM4 2h1v1h-1zM6 2h1v1h-1zM10 2h1v1h-1zM14 2h1v1h-1zM26 2h2v1h-2zM30 2h2v1h-2zM34 2h1v1h-1zM40 2h1v1h-1zM2 3h3v1h-3zM9 3h2v1h-2zM30 3h1v1h-1zM33 3h1v1h-1zM40 3h1v1h-1zM0 4h2v1h-2zM5 4h2v1h-2zM8 4h3v1h-3zM32 4h2v1h-2zM41 4h2v1h-2zM2 5h3v1h-3zM10 5h2v1h-2zM13 5h1v1h-1zM33 5h2v1h-2zM36 5h1v1h-1zM0 6h3v1h-3zM7 6h1v1h-1zM13 6h1v1h-1zM25 6h1v1h-1zM28 6h1v1h-1zM33 6h1v1h-1zM37 6h1v1h-1zM0 7h2v1h-2zM3 7h1v1h-1zM6 7h1v1h-1zM9 7h1v1h-1zM29 7h2v1h-2zM32 7h1v1h-1zM34 7h3v1h-3zM3 8h2v1h-2zM7 8h1v1h-1zM28 8h1v1h-1zM32 8h1v1h-1zM38 8h2v1h-2zM0 9h2v1h-2zM3 9h1v1h-1zM7 9h1v1h-1zM27 9h1v1h-1zM29 9h1v1h-1zM32 9h1v1h-1zM37 9h2v1h-2zM2 10h1v1h-1zM4 10h1v1h-1zM37 10h2v1h-2zM41 10h2v1h-2zM3 11h1v1h-1zM5 11h1v1h-1zM30 11h1v1h-1zM33 11h1v1h-1zM35 11h1v1h-1zM38 11h2v1h-2zM41 11h2v1h-2zM3 12h1v1h-1zM36 12h1v1h-1zM3 13h2v1h-2zM33 13h2v1h-2zM38 13h1v1h-1zM32 14h1v1h-1zM34 14h4v1h-4zM40 14h1v1h-1zM3 15h1v1h-1zM33 15h1v1h-1zM35 15h1v1h-1zM37 15h1v1h-1zM41 15h2v1h-2zM38 16h1v1h-1zM41 16h2v1h-2zM39 17h2v1h-2zM38 25h1v1h-1zM39 26h1v1h-1zM40 27h1v1h-1zM40 28h1v1h-1zM37 29h1v1h-1zM35 30h1v1h-1zM37 30h1v1h-1zM39 30h2v1h-2zM35 31h3v1h-3zM41 31h2v1h-2zM34 32h1v1h-1zM36 32h1v1h-1zM39 32h1v1h-1zM32 33h1v1h-1zM38 33h1v1h-1zM40 33h1v1h-1zM32 34h3v1h-3zM36 34h2v1h-2zM41 34h2v1h-2zM29 35h1v1h-1zM33 35h4v1h-4zM38 35h1v1h-1zM33 36h1v1h-1zM35 36h4v1h-4zM40 36h1v1h-1zM33 37h1v1h-1zM37 37h1v1h-1zM40 37h1v1h-1zM33 38h1v1h-1zM35 38h2v1h-2zM39 38h1v1h-1zM41 38h2v1h-2zM31 39h1v1h-1zM33 39h3v1h-3zM37 39h1v1h-1zM41 39h2v1h-2zM29 40h1v1h-1zM33 40h1v1h-1zM30 41h1v1h-1zM34 41h2v1h-2zM30 42h1v1h-1zM34 42h2v1h-2z" fill="#e2dad5"/><path d="M12 0h2v1h-2zM15 0h1v1h-1zM12 1h2v1h-2zM15 1h1v1h-1zM13 2h1v1h-1zM15 2h2v1h-2zM35 2h1v1h-1zM37 2h1v1h-1zM14 3h1v1h-1zM26 3h1v1h-1zM11 4h2v1h-2zM15 4h2v1h-2zM26 4h1v1h-1zM30 4h1v1h-1zM34 4h1v1h-1zM12 5h1v1h-1zM15 5h3v1h-3zM25 5h1v1h-1zM28 5h1v1h-1zM37 5h1v1h-1zM4 6h1v1h-1zM11 6h2v1h-2zM14 6h3v1h-3zM27 6h1v1h-1zM30 6h1v1h-1zM32 6h1v1h-1zM4 7h1v1h-1zM8 7h1v1h-1zM11 7h1v1h-1zM13 7h2v1h-2zM16 7h1v1h-1zM6 8h1v1h-1zM8 8h1v1h-1zM10 8h4v1h-4zM15 8h1v1h-1zM25 8h1v1h-1zM27 8h1v1h-1zM29 8h1v1h-1zM31 8h1v1h-1zM33 8h1v1h-1zM40 8h1v1h-1zM4 9h2v1h-2zM8 9h1v1h-1zM11 9h1v1h-1zM13 9h1v1h-1zM26 9h1v1h-1zM34 9h1v1h-1zM5 10h1v1h-1zM8 10h3v1h-3zM12 10h2v1h-2zM31 10h1v1h-1zM35 10h1v1h-1zM6 11h2v1h-2zM9 11h1v1h-1zM15 11h1v1h-1zM31 11h2v1h-2zM4 12h1v1h-1zM8 12h2v1h-2zM11 12h2v1h-2zM27 12h5v1h-5zM5 13h1v1h-1zM7 13h1v1h-1zM9 13h3v1h-3zM15 13h1v1h-1zM26 13h5v1h-5zM32 13h1v1h-1zM39 13h1v1h-1zM0 14h2v1h-2zM3 14h1v1h-1zM6 14h1v1h-1zM10 14h2v1h-2zM26 14h1v1h-1zM29 14h1v1h-1zM33 14h1v1h-1zM38 14h1v1h-1zM5 15h1v1h-1zM7 15h1v1h-1zM31 15h1v1h-1zM0 16h2v1h-2zM3 16h3v1h-3zM7 16h1v1h-1zM10 16h2v1h-2zM28 16h2v1h-2zM33 16h2v1h-2zM36 16h2v1h-2zM0 17h2v1h-2zM29 17h1v1h-1zM37 17h1v1h-1zM32 25h1v1h-1zM32 26h1v1h-1zM35 26h1v1h-1zM37 26h1v1h-1zM41 26h2v1h-2zM32 27h4v1h-4zM37 27h2v1h-2zM28 28h1v1h-1zM33 28h2v1h-2zM38 28h1v1h-1zM30 29h1v1h-1zM32 29h2v1h-2zM30 30h3v1h-3zM34 30h1v1h-1zM27 31h1v1h-1zM30 31h5v1h-5zM38 31h1v1h-1zM26 32h2v1h-2zM29 32h1v1h-1zM32 32h1v1h-1zM38 32h1v1h-1zM27 33h1v1h-1zM30 33h1v1h-1zM33 33h1v1h-1zM36 33h1v1h-1zM0 34h2v1h-2zM26 34h2v1h-2zM29 34h3v1h-3zM28 35h1v1h-1zM31 35h1v1h-1zM2 36h1v1h-1zM26 36h2v1h-2zM32 36h1v1h-1zM0 37h4v1h-4zM26 37h1v1h-1zM30 37h1v1h-1zM36 37h1v1h-1zM2 38h1v1h-1zM4 38h1v1h-1zM26 38h1v1h-1zM28 38h2v1h-2zM31 38h2v1h-2zM38 38h1v1h-1zM0 39h2v1h-2zM4 39h1v1h-1zM9 39h1v1h-1zM28 39h2v1h-2zM0 40h4v1h-4zM27 40h1v1h-1zM0 41h5v1h-5zM25 41h1v1h-1zM28 41h1v1h-1zM0 42h5v1h-5zM25 42h1v1h-1zM28 42h1v1h-1z" fill="#e4d8d1"/><path d="M17 0h1v1h-1zM17 1h1v1h-1zM24 2h2v1h-2zM12 3h1v1h-1zM14 4h1v1h-1zM17 4h1v1h-1zM10 6h1v1h-1zM17 6h1v1h-1zM17 7h1v1h-1zM24 7h1v1h-1zM27 7h1v1h-1zM16 8h2v1h-2zM26 8h1v1h-1zM34 8h1v1h-1zM14 9h4v1h-4zM25 9h1v1h-1zM28 9h1v1h-1zM14 10h3v1h-3zM25 10h1v1h-1zM27 10h2v1h-2zM32 10h1v1h-1zM34 10h1v1h-1zM12 11h1v1h-1zM16 11h1v1h-1zM26 11h2v1h-2zM8 13h1v1h-1zM12 13h1v1h-1zM14 13h1v1h-1zM7 14h1v1h-1zM9 14h1v1h-1zM15 14h1v1h-1zM27 14h1v1h-1zM8 15h2v1h-2zM11 15h2v1h-2zM16 15h1v1h-1zM28 15h1v1h-1zM2 16h1v1h-1zM8 16h1v1h-1zM12 16h1v1h-1zM27 16h1v1h-1zM30 16h1v1h-1zM2 17h1v1h-1zM4 17h1v1h-1zM6 17h5v1h-5zM32 17h2v1h-2zM35 17h2v1h-2zM36 18h2v1h-2zM40 18h1v1h-1zM36 24h2v1h-2zM41 24h2v1h-2zM39 25h1v1h-1zM0 26h2v1h-2zM29 26h1v1h-1zM36 26h1v1h-1zM0 27h2v1h-2zM29 27h3v1h-3zM4 28h1v1h-1zM29 28h2v1h-2zM32 28h1v1h-1zM0 29h2v1h-2zM5 29h1v1h-1zM29 29h1v1h-1zM31 29h1v1h-1zM0 30h2v1h-2zM4 30h1v1h-1zM27 30h2v1h-2zM0 31h3v1h-3zM4 31h1v1h-1zM25 31h1v1h-1zM28 31h2v1h-2zM0 32h3v1h-3zM6 32h1v1h-1zM35 32h1v1h-1zM2 33h2v1h-2zM8 33h1v1h-1zM26 33h1v1h-1zM28 33h1v1h-1zM3 34h2v1h-2zM7 34h1v1h-1zM28 34h1v1h-1zM0 35h4v1h-4zM5 35h2v1h-2zM25 35h1v1h-1zM27 35h1v1h-1zM0 36h2v1h-2zM3 36h1v1h-1zM5 36h1v1h-1zM8 36h1v1h-1zM30 36h1v1h-1zM4 37h5v1h-5zM25 37h1v1h-1zM0 38h2v1h-2zM3 38h1v1h-1zM5 38h5v1h-5zM2 39h2v1h-2zM5 39h4v1h-4zM10 39h2v1h-2zM25 39h1v1h-1zM4 40h6v1h-6zM25 40h1v1h-1zM5 41h9v1h-9zM26 41h1v1h-1zM5 42h9v1h-9zM26 42h1v1h-1z" fill="#e5d7d0"/><path d="M18 0h1v1h-1zM18 1h1v1h-1zM17 2h2v1h-2zM16 3h1v1h-1zM18 3h1v1h-1zM24 3h1v1h-1zM18 4h1v1h-1zM31 4h1v1h-1zM18 5h1v1h-1zM24 5h1v1h-1zM24 6h1v1h-1zM25 7h1v1h-1zM8 11h1v1h-1zM11 11h1v1h-1zM13 11h2v1h-2zM25 11h1v1h-1zM29 11h1v1h-1zM13 12h1v1h-1zM25 12h2v1h-2zM16 13h1v1h-1zM37 13h1v1h-1zM12 14h2v1h-2zM13 15h2v1h-2zM26 15h2v1h-2zM6 16h1v1h-1zM9 16h1v1h-1zM13 16h1v1h-1zM15 16h1v1h-1zM31 16h1v1h-1zM3 17h1v1h-1zM5 17h1v1h-1zM28 17h1v1h-1zM30 17h1v1h-1zM31 18h1v1h-1zM34 18h2v1h-2zM38 18h1v1h-1zM41 18h2v1h-2zM41 23h2v1h-2zM32 24h4v1h-4zM38 24h3v1h-3zM0 25h2v1h-2zM4 25h1v1h-1zM29 25h3v1h-3zM33 25h2v1h-2zM2 26h3v1h-3zM30 26h1v1h-1zM33 26h1v1h-1zM2 27h5v1h-5zM27 27h2v1h-2zM0 28h2v1h-2zM3 28h1v1h-1zM6 28h1v1h-1zM25 28h1v1h-1zM2 29h3v1h-3zM6 29h2v1h-2zM26 29h2v1h-2zM2 30h2v1h-2zM5 30h3v1h-3zM9 30h1v1h-1zM12 30h1v1h-1zM26 30h1v1h-1zM29 30h1v1h-1zM3 31h1v1h-1zM5 31h3v1h-3zM13 31h1v1h-1zM15 31h1v1h-1zM26 31h1v1h-1zM3 32h3v1h-3zM7 32h2v1h-2zM13 32h1v1h-1zM15 32h1v1h-1zM25 32h1v1h-1zM0 33h2v1h-2zM4 33h4v1h-4zM9 33h2v1h-2zM12 33h2v1h-2zM25 33h1v1h-1zM2 34h1v1h-1zM5 34h2v1h-2zM9 34h1v1h-1zM13 34h1v1h-1zM25 34h1v1h-1zM4 35h1v1h-1zM7 35h5v1h-5zM24 35h1v1h-1zM26 35h1v1h-1zM4 36h1v1h-1zM6 36h2v1h-2zM9 36h1v1h-1zM25 36h1v1h-1zM9 37h4v1h-4zM15 37h1v1h-1zM10 38h4v1h-4zM25 38h1v1h-1zM12 39h1v1h-1zM14 39h1v1h-1zM16 39h1v1h-1zM10 40h6v1h-6zM14 41h2v1h-2zM14 42h2v1h-2z" fill="#e7d7ce"/><path d="M19 0h1v1h-1zM19 1h1v1h-1zM24 4h1v1h-1zM18 6h1v1h-1zM18 7h1v1h-1zM18 8h1v1h-1zM24 8h1v1h-1zM17 10h1v1h-1zM24 10h1v1h-1zM17 11h2v1h-2zM24 11h1v1h-1zM14 12h3v1h-3zM13 13h1v1h-1zM16 14h2v1h-2zM15 15h1v1h-1zM14 16h1v1h-1zM25 16h1v1h-1zM11 17h3v1h-3zM31 17h1v1h-1zM34 17h1v1h-1zM0 18h2v1h-2zM4 18h2v1h-2zM7 18h1v1h-1zM9 18h1v1h-1zM11 18h1v1h-1zM28 18h1v1h-1zM32 18h2v1h-2zM39 18h1v1h-1zM39 19h1v1h-1zM41 19h2v1h-2zM38 23h1v1h-1zM40 23h1v1h-1zM30 24h1v1h-1zM2 25h2v1h-2zM5 25h1v1h-1zM28 25h1v1h-1zM5 26h1v1h-1zM7 26h1v1h-1zM26 26h1v1h-1zM28 26h1v1h-1zM7 27h1v1h-1zM10 27h2v1h-2zM2 28h1v1h-1zM5 28h1v1h-1zM7 28h1v1h-1zM9 28h2v1h-2zM12 28h1v1h-1zM14 28h1v1h-1zM26 28h2v1h-2zM8 29h2v1h-2zM11 29h2v1h-2zM25 29h1v1h-1zM28 29h1v1h-1zM8 30h1v1h-1zM10 30h1v1h-1zM14 30h1v1h-1zM24 30h2v1h-2zM8 31h5v1h-5zM24 31h1v1h-1zM9 32h3v1h-3zM11 33h1v1h-1zM14 33h1v1h-1zM8 34h1v1h-1zM10 34h2v1h-2zM14 34h3v1h-3zM12 35h2v1h-2zM15 35h2v1h-2zM10 36h6v1h-6zM14 37h1v1h-1zM17 37h1v1h-1zM24 37h1v1h-1zM14 38h4v1h-4zM24 38h1v1h-1zM13 39h1v1h-1zM15 39h1v1h-1zM17 39h1v1h-1zM24 39h1v1h-1zM16 40h1v1h-1zM24 40h1v1h-1zM16 41h2v1h-2zM24 41h1v1h-1zM16 42h2v1h-2zM24 42h1v1h-1z" fill="#e8d6cd"/><path d="M23 0h1v1h-1zM23 1h1v1h-1zM23 2h1v1h-1zM24 9h1v1h-1zM17 12h2v1h-2zM24 12h1v1h-1zM17 13h1v1h-1zM24 13h2v1h-2zM14 14h1v1h-1zM24 14h2v1h-2zM17 15h1v1h-1zM26 16h1v1h-1zM14 17h1v1h-1zM26 17h1v1h-1zM2 18h2v1h-2zM6 18h1v1h-1zM10 18h1v1h-1zM12 18h1v1h-1zM32 19h1v1h-1zM37 19h1v1h-1zM40 19h1v1h-1zM39 22h1v1h-1zM34 23h1v1h-1zM36 23h2v1h-2zM39 23h1v1h-1zM0 24h3v1h-3zM4 24h1v1h-1zM27 24h3v1h-3zM6 25h3v1h-3zM10 25h1v1h-1zM27 25h1v1h-1zM6 26h1v1h-1zM8 26h3v1h-3zM12 26h1v1h-1zM27 26h1v1h-1zM8 27h2v1h-2zM12 27h4v1h-4zM26 27h1v1h-1zM8 28h1v1h-1zM11 28h1v1h-1zM13 28h1v1h-1zM10 29h1v1h-1zM14 29h1v1h-1zM11 30h1v1h-1zM13 30h1v1h-1zM15 30h2v1h-2zM14 31h1v1h-1zM16 31h1v1h-1zM12 32h1v1h-1zM16 32h1v1h-1zM24 32h1v1h-1zM15 33h2v1h-2zM24 33h1v1h-1zM12 34h1v1h-1zM24 34h1v1h-1zM14 35h1v1h-1zM16 36h1v1h-1zM24 36h1v1h-1zM13 37h1v1h-1zM16 37h1v1h-1zM17 40h1v1h-1z" fill="#e9d5cb"/><path d="M23 3h1v1h-1zM19 4h1v1h-1zM23 4h1v1h-1zM23 6h1v1h-1zM23 8h1v1h-1zM18 9h1v1h-1zM23 9h1v1h-1zM18 10h1v1h-1zM23 10h1v1h-1zM19 11h1v1h-1zM18 13h1v1h-1zM24 15h2v1h-2zM16 16h2v1h-2zM15 17h2v1h-2zM27 17h1v1h-1zM8 18h1v1h-1zM29 18h2v1h-2zM2 19h1v1h-1zM33 19h4v1h-4zM38 19h1v1h-1zM34 20h1v1h-1zM36 20h1v1h-1zM33 23h1v1h-1zM35 23h1v1h-1zM3 24h1v1h-1zM5 24h2v1h-2zM31 24h1v1h-1zM9 25h1v1h-1zM11 25h1v1h-1zM13 25h2v1h-2zM26 25h1v1h-1zM11 26h1v1h-1zM13 26h1v1h-1zM25 26h1v1h-1zM16 27h1v1h-1zM25 27h1v1h-1zM15 28h1v1h-1zM13 29h1v1h-1zM15 29h3v1h-3zM24 29h1v1h-1zM17 31h1v1h-1zM14 32h1v1h-1zM17 33h1v1h-1zM17 34h1v1h-1zM17 35h1v1h-1zM17 36h1v1h-1zM18 39h1v1h-1zM18 40h1v1h-1zM23 41h1v1h-1zM23 42h1v1h-1z" fill="#ead4c9"/><path d="M22 0h1v1h-1zM22 1h1v1h-1zM19 3h1v1h-1zM19 5h1v1h-1zM23 5h1v1h-1zM19 7h1v1h-1zM23 7h1v1h-1zM19 8h1v1h-1zM23 11h1v1h-1zM23 12h1v1h-1zM23 13h1v1h-1zM24 16h1v1h-1zM17 17h1v1h-1zM13 18h1v1h-1zM27 18h1v1h-1zM0 19h2v1h-2zM3 19h2v1h-2zM29 19h1v1h-1zM31 19h1v1h-1zM35 20h1v1h-1zM38 20h3v1h-3zM37 22h1v1h-1zM2 23h1v1h-1zM29 23h1v1h-1zM32 23h1v1h-1zM7 24h5v1h-5zM12 25h1v1h-1zM14 26h1v1h-1zM24 27h1v1h-1zM16 28h1v1h-1zM24 28h1v1h-1zM17 30h1v1h-1zM18 31h1v1h-1zM17 32h1v1h-1zM18 34h1v1h-1zM18 35h1v1h-1zM18 37h1v1h-1zM18 38h1v1h-1zM23 38h1v1h-1zM23 39h1v1h-1zM23 40h1v1h-1zM18 41h1v1h-1zM18 42h1v1h-1z" fill="#ebd3c7"/><path d="M20 0h2v1h-2zM20 1h2v1h-2zM19 2h1v1h-1zM22 2h1v1h-1zM20 3h1v1h-1zM20 4h1v1h-1zM19 6h1v1h-1zM22 7h1v1h-1zM19 9h2v1h-2zM19 10h1v1h-1zM19 12h1v1h-1zM18 14h1v1h-1zM18 15h1v1h-1zM24 17h2v1h-2zM14 18h1v1h-1zM26 18h1v1h-1zM5 19h4v1h-4zM10 19h2v1h-2zM28 19h1v1h-1zM30 19h1v1h-1zM2 20h1v1h-1zM41 20h2v1h-2zM39 21h1v1h-1zM41 21h2v1h-2zM32 22h1v1h-1zM35 22h1v1h-1zM38 22h1v1h-1zM40 22h3v1h-3zM0 23h2v1h-2zM4 23h3v1h-3zM30 23h2v1h-2zM12 24h2v1h-2zM26 24h1v1h-1zM15 25h1v1h-1zM15 26h1v1h-1zM17 27h1v1h-1zM17 28h1v1h-1zM23 31h1v1h-1zM18 32h1v1h-1zM23 32h1v1h-1zM18 33h1v1h-1zM23 33h1v1h-1zM23 35h1v1h-1zM18 36h1v1h-1zM23 36h1v1h-1zM23 37h1v1h-1z" fill="#ebd2c5"/><path d="M20 2h1v1h-1zM21 3h2v1h-2zM22 4h1v1h-1zM21 5h2v1h-2zM20 6h1v1h-1zM20 7h1v1h-1zM22 8h1v1h-1zM19 13h1v1h-1zM19 14h1v1h-1zM23 14h1v1h-1zM19 15h1v1h-1zM18 16h1v1h-1zM15 18h1v1h-1zM25 18h1v1h-1zM9 19h1v1h-1zM13 19h2v1h-2zM27 19h1v1h-1zM0 20h2v1h-2zM30 20h4v1h-4zM37 20h1v1h-1zM33 21h1v1h-1zM36 21h2v1h-2zM40 21h1v1h-1zM6 22h1v1h-1zM31 22h1v1h-1zM33 22h2v1h-2zM36 22h1v1h-1zM3 23h1v1h-1zM7 23h3v1h-3zM27 23h2v1h-2zM14 24h1v1h-1zM16 25h1v1h-1zM25 25h1v1h-1zM16 26h1v1h-1zM18 29h1v1h-1zM23 29h1v1h-1zM18 30h1v1h-1zM23 30h1v1h-1zM23 34h1v1h-1zM19 37h1v1h-1zM19 38h1v1h-1zM19 40h1v1h-1zM22 40h1v1h-1zM19 41h1v1h-1zM19 42h1v1h-1z" fill="#ecd1c3"/><path d="M21 2h1v1h-1zM22 6h1v1h-1zM21 7h1v1h-1zM20 8h1v1h-1zM20 10h1v1h-1zM20 11h1v1h-1zM20 12h1v1h-1zM22 13h1v1h-1zM23 16h1v1h-1zM18 17h1v1h-1zM16 18h2v1h-2zM12 19h1v1h-1zM3 20h3v1h-3zM9 20h1v1h-1zM27 20h2v1h-2zM2 21h1v1h-1zM30 21h1v1h-1zM32 21h1v1h-1zM34 21h2v1h-2zM38 21h1v1h-1zM2 22h1v1h-1zM4 22h1v1h-1zM29 22h2v1h-2zM10 23h1v1h-1zM15 24h1v1h-1zM25 24h1v1h-1zM17 26h2v1h-2zM24 26h1v1h-1zM18 28h1v1h-1zM23 28h1v1h-1zM19 31h1v1h-1zM19 34h1v1h-1zM19 35h1v1h-1zM19 36h1v1h-1zM22 37h1v1h-1zM19 39h1v1h-1zM22 41h1v1h-1zM22 42h1v1h-1z" fill="#edd0c2"/><path d="M21 4h1v1h-1zM20 5h1v1h-1zM21 6h1v1h-1zM21 8h1v1h-1zM22 9h1v1h-1zM21 10h2v1h-2zM22 11h1v1h-1zM22 12h1v1h-1zM20 14h3v1h-3zM23 15h1v1h-1zM19 16h1v1h-1zM15 19h1v1h-1zM26 19h1v1h-1zM6 20h3v1h-3zM10 20h1v1h-1zM12 20h1v1h-1zM29 20h1v1h-1zM0 21h2v1h-2zM29 21h1v1h-1zM31 21h1v1h-1zM0 22h2v1h-2zM3 22h1v1h-1zM5 22h1v1h-1zM7 22h3v1h-3zM27 22h2v1h-2zM11 23h3v1h-3zM26 23h1v1h-1zM16 24h1v1h-1zM24 25h1v1h-1zM18 27h1v1h-1zM19 30h1v1h-1zM19 32h1v1h-1zM19 33h1v1h-1zM22 35h1v1h-1zM22 36h1v1h-1zM20 37h1v1h-1zM22 38h1v1h-1zM22 39h1v1h-1z" fill="#eecfc0"/><path d="M21 9h1v1h-1zM21 11h1v1h-1zM20 13h1v1h-1zM24 18h1v1h-1zM11 20h1v1h-1zM13 20h1v1h-1zM3 21h5v1h-5zM9 21h1v1h-1zM28 21h1v1h-1zM11 22h1v1h-1zM26 22h1v1h-1zM14 23h1v1h-1zM25 23h1v1h-1zM24 24h1v1h-1zM17 25h1v1h-1zM23 26h1v1h-1zM22 31h1v1h-1zM22 33h1v1h-1zM20 38h1v1h-1zM20 39h1v1h-1zM20 40h1v1h-1zM20 41h2v1h-2zM20 42h2v1h-2z" fill="#efcebe"/><path d="M21 12h1v1h-1zM21 13h1v1h-1zM20 15h1v1h-1zM22 15h1v1h-1zM23 17h1v1h-1zM16 19h1v1h-1zM25 19h1v1h-1zM14 20h1v1h-1zM10 21h2v1h-2zM10 22h1v1h-1zM12 22h1v1h-1zM18 25h1v1h-1zM23 27h1v1h-1zM19 28h1v1h-1zM19 29h1v1h-1zM20 30h1v1h-1zM22 30h1v1h-1zM20 31h1v1h-1zM22 32h1v1h-1zM20 33h2v1h-2zM20 34h3v1h-3zM20 35h2v1h-2zM20 36h1v1h-1zM21 37h1v1h-1zM21 38h1v1h-1zM21 39h1v1h-1zM21 40h1v1h-1z" fill="#efcdbc"/><path d="M21 15h1v1h-1zM20 16h1v1h-1zM22 16h1v1h-1zM19 17h1v1h-1zM17 19h1v1h-1zM26 20h1v1h-1zM8 21h1v1h-1zM12 21h1v1h-1zM14 21h1v1h-1zM27 21h1v1h-1zM13 22h1v1h-1zM15 23h2v1h-2zM24 23h1v1h-1zM17 24h2v1h-2zM19 27h1v1h-1zM22 28h1v1h-1zM22 29h1v1h-1zM20 32h2v1h-2zM21 36h1v1h-1z" fill="#f0ccba"/><path d="M21 16h1v1h-1zM18 18h1v1h-1zM23 18h1v1h-1zM24 19h1v1h-1zM13 21h1v1h-1zM26 21h1v1h-1zM14 22h1v1h-1zM23 25h1v1h-1zM19 26h1v1h-1zM22 26h1v1h-1zM20 29h1v1h-1zM21 30h1v1h-1zM21 31h1v1h-1z" fill="#f1cbb8"/><path d="M15 20h2v1h-2zM15 22h1v1h-1zM25 22h1v1h-1zM17 23h1v1h-1zM23 24h1v1h-1zM22 27h1v1h-1zM20 28h1v1h-1z" fill="#f1cab6"/><path d="M20 17h3v1h-3zM19 18h1v1h-1zM18 19h1v1h-1zM25 20h1v1h-1zM15 21h2v1h-2zM16 22h1v1h-1zM19 25h1v1h-1zM22 25h1v1h-1zM21 28h1v1h-1zM21 29h1v1h-1z" fill="#f2c8b4"/><path d="M22 18h1v1h-1zM17 20h1v1h-1zM24 20h1v1h-1zM25 21h1v1h-1zM20 26h2v1h-2zM20 27h2v1h-2z" fill="#f2c7b2"/><path d="M17 22h1v1h-1zM24 22h1v1h-1zM18 23h1v1h-1zM23 23h1v1h-1zM19 24h1v1h-1zM20 25h1v1h-1z" fill="#f2c6b0"/><path d="M20 18h1v1h-1zM23 19h1v1h-1zM17 21h1v1h-1z" fill="#f2c4ae"/><path d="M21 18h1v1h-1zM19 19h1v1h-1zM18 20h1v1h-1zM24 21h1v1h-1zM21 25h1v1h-1z" fill="#f3c3ad"/><path d="M20 24h1v1h-1zM22 24h1v1h-1z" fill="#f3c2ab"/><path d="M18 21h1v1h-1zM18 22h1v1h-1zM19 23h1v1h-1z" fill="#f3c1a9"/><path d="M21 24h1v1h-1z" fill="#f4bfa7"/><path d="M20 19h1v1h-1zM22 19h1v1h-1zM23 20h1v1h-1z" fill="#f4bea5"/><path d="M19 20h1v1h-1zM23 22h1v1h-1z" fill="#f4bca3"/><path d="M19 22h1v1h-1zM20 23h1v1h-1zM22 23h1v1h-1z" fill="#f4bba1"/><path d="M23 21h1v1h-1z" fill="#f4b99f"/><path d="M21 19h1v1h-1z" fill="#f4b89d"/><path d="M19 21h1v1h-1z" fill="#f4b69c"/><path d="M21 23h1v1h-1z" fill="#f4b49a"/><path d="M22 20h1v1h-1z" fill="#f3a98c"/><path d="M20 20h1v1h-1zM22 22h1v1h-1z" fill="#f3a78a"/><path d="M20 22h1v1h-1z" fill="#f2a588"/><path d="M21 20h1v1h-1zM20 21h1v1h-1zM22 21h1v1h-1z" fill="#ef9679"/><path d="M21 22h1v1h-1z" fill="#ee9275"/><path d="M21 21h1v1h-1z" fill="#e06e59"/></g></g>
<rect x="1274.6" y="802" width="236.2" height="236.2" fill="none" stroke="#000" stroke-width="1.7"/>
<g clip-path="url(#hc4)"><g transform="translate(775.04 1049.04) scale(5.76098)" filter="url(#hb16)"><rect width="43" height="43" fill="#cad8ed"/><path d="M41 0h2v1h-2zM41 1h2v1h-2zM41 2h2v1h-2z" fill="#b0c8e8"/><path d="M35 0h1v1h-1zM37 0h4v1h-4zM35 1h1v1h-1zM37 1h4v1h-4zM37 2h4v1h-4zM40 3h3v1h-3zM38 4h5v1h-5zM40 5h3v1h-3z" fill="#b2c9e8"/><path d="M31 0h2v1h-2zM36 0h1v1h-1zM31 1h2v1h-2zM36 1h1v1h-1zM31 2h6v1h-6zM33 3h7v1h-7zM36 4h1v1h-1zM38 5h2v1h-2zM38 6h5v1h-5zM40 7h3v1h-3zM41 8h2v1h-2zM41 9h2v1h-2z" fill="#b4cae9"/><path d="M27 0h1v1h-1zM29 0h2v1h-2zM33 0h2v1h-2zM27 1h1v1h-1zM29 1h2v1h-2zM33 1h2v1h-2zM29 2h1v1h-1zM30 3h3v1h-3zM32 4h2v1h-2zM35 4h1v1h-1zM37 4h1v1h-1zM32 5h6v1h-6zM34 6h1v1h-1zM36 6h2v1h-2zM36 7h4v1h-4zM35 8h1v1h-1zM37 8h4v1h-4zM34 9h1v1h-1zM36 9h1v1h-1zM38 9h1v1h-1zM37 10h1v1h-1zM39 10h4v1h-4zM40 11h1v1h-1z" fill="#b6ccea"/><path d="M25 0h2v1h-2zM28 0h1v1h-1zM25 1h2v1h-2zM28 1h1v1h-1zM25 2h4v1h-4zM30 2h1v1h-1zM26 3h2v1h-2zM29 3h1v1h-1zM25 4h4v1h-4zM30 4h2v1h-2zM34 4h1v1h-1zM27 5h5v1h-5zM30 6h4v1h-4zM35 6h1v1h-1zM30 7h6v1h-6zM29 8h2v1h-2zM32 8h3v1h-3zM36 8h1v1h-1zM32 9h2v1h-2zM35 9h1v1h-1zM37 9h1v1h-1zM39 9h2v1h-2zM35 10h2v1h-2zM36 11h4v1h-4zM41 11h2v1h-2zM34 12h2v1h-2zM37 12h1v1h-1zM39 12h4v1h-4zM38 13h1v1h-1zM40 13h1v1h-1z" fill="#b8cdeb"/><path d="M23 0h2v1h-2zM23 1h2v1h-2zM24 2h1v1h-1zM24 3h2v1h-2zM28 3h1v1h-1zM24 4h1v1h-1zM29 4h1v1h-1zM24 5h1v1h-1zM23 6h1v1h-1zM26 6h2v1h-2zM29 6h1v1h-1zM25 7h5v1h-5zM28 8h1v1h-1zM31 8h1v1h-1zM28 9h1v1h-1zM31 9h1v1h-1zM29 10h1v1h-1zM31 10h4v1h-4zM38 10h1v1h-1zM29 11h1v1h-1zM31 11h1v1h-1zM33 11h3v1h-3zM32 12h2v1h-2zM36 12h1v1h-1zM38 12h1v1h-1zM34 13h1v1h-1zM37 13h1v1h-1zM39 13h1v1h-1zM41 13h2v1h-2zM34 14h1v1h-1zM36 14h7v1h-7zM35 15h1v1h-1zM37 15h1v1h-1zM39 15h1v1h-1zM41 15h2v1h-2zM41 16h2v1h-2z" fill="#bacfeb"/><path d="M22 0h1v1h-1zM22 1h1v1h-1zM22 2h2v1h-2zM23 3h1v1h-1zM23 4h1v1h-1zM23 5h1v1h-1zM25 5h2v1h-2zM24 6h2v1h-2zM28 6h1v1h-1zM23 7h2v1h-2zM24 8h4v1h-4zM26 9h2v1h-2zM29 9h2v1h-2zM25 10h4v1h-4zM30 10h1v1h-1zM25 11h1v1h-1zM27 11h2v1h-2zM30 11h1v1h-1zM32 11h1v1h-1zM30 12h2v1h-2zM28 13h1v1h-1zM30 13h4v1h-4zM35 13h2v1h-2zM32 14h2v1h-2zM35 14h1v1h-1zM34 15h1v1h-1zM36 15h1v1h-1zM38 15h1v1h-1zM40 15h1v1h-1zM36 16h5v1h-5zM38 17h2v1h-2zM41 17h2v1h-2zM40 18h3v1h-3z" fill="#bcd0ec"/><path d="M22 3h1v1h-1zM22 5h1v1h-1zM22 6h1v1h-1zM23 8h1v1h-1zM23 9h3v1h-3zM23 10h2v1h-2zM24 11h1v1h-1zM26 11h1v1h-1zM24 12h6v1h-6zM24 13h4v1h-4zM29 13h1v1h-1zM25 14h7v1h-7zM27 15h1v1h-1zM29 15h5v1h-5zM27 16h1v1h-1zM30 16h1v1h-1zM32 16h4v1h-4zM33 17h5v1h-5zM40 17h1v1h-1zM37 18h3v1h-3z" fill="#bed1ec"/><path d="M22 4h1v1h-1zM22 7h1v1h-1zM22 9h1v1h-1zM22 10h1v1h-1zM23 11h1v1h-1zM23 12h1v1h-1zM23 13h1v1h-1zM23 14h2v1h-2zM24 15h3v1h-3zM28 15h1v1h-1zM25 16h2v1h-2zM28 16h2v1h-2zM31 16h1v1h-1zM26 17h1v1h-1zM28 17h5v1h-5zM32 18h1v1h-1zM34 18h3v1h-3zM35 19h3v1h-3zM39 19h4v1h-4zM40 20h3v1h-3z" fill="#c0d2ec"/><path d="M21 0h1v1h-1zM21 1h1v1h-1zM21 2h1v1h-1zM21 5h1v1h-1zM22 8h1v1h-1zM22 11h1v1h-1zM22 12h1v1h-1zM22 14h1v1h-1zM23 15h1v1h-1zM23 16h2v1h-2zM24 17h2v1h-2zM27 17h1v1h-1zM25 18h1v1h-1zM28 18h4v1h-4zM33 18h1v1h-1zM28 19h1v1h-1zM33 19h2v1h-2zM38 19h1v1h-1zM34 20h1v1h-1zM37 20h3v1h-3zM38 21h5v1h-5zM39 22h1v1h-1zM41 22h2v1h-2z" fill="#c2d3ec"/><path d="M21 3h1v1h-1zM21 4h1v1h-1zM21 6h1v1h-1zM21 7h1v1h-1zM21 8h1v1h-1zM22 13h1v1h-1zM22 15h1v1h-1zM23 17h1v1h-1zM23 18h2v1h-2zM26 18h2v1h-2zM29 19h4v1h-4zM27 20h7v1h-7zM35 20h2v1h-2zM33 21h1v1h-1zM35 21h1v1h-1zM37 21h1v1h-1zM35 22h2v1h-2zM38 22h1v1h-1zM40 22h1v1h-1zM37 23h2v1h-2zM40 23h3v1h-3zM39 24h1v1h-1zM41 24h2v1h-2zM40 25h3v1h-3zM41 26h2v1h-2zM39 27h1v1h-1zM41 28h2v1h-2zM40 30h3v1h-3zM41 31h2v1h-2zM40 32h3v1h-3zM40 33h3v1h-3zM41 34h2v1h-2zM40 35h3v1h-3zM37 36h2v1h-2zM40 36h1v1h-1zM40 37h3v1h-3zM39 38h4v1h-4zM40 39h3v1h-3zM39 40h1v1h-1zM41 40h2v1h-2zM38 41h5v1h-5zM38 42h5v1h-5z" fill="#c4d4ec"/><path d="M0 0h2v1h-2zM3 0h3v1h-3zM12 0h1v1h-1zM20 0h1v1h-1zM0 1h2v1h-2zM3 1h3v1h-3zM12 1h1v1h-1zM20 1h1v1h-1zM0 2h4v1h-4zM6 2h1v1h-1zM20 2h1v1h-1zM0 3h3v1h-3zM5 3h1v1h-1zM20 3h1v1h-1zM0 5h2v1h-2zM21 9h1v1h-1zM21 10h1v1h-1zM21 11h1v1h-1zM22 16h1v1h-1zM22 17h1v1h-1zM24 19h4v1h-4zM25 20h2v1h-2zM29 21h4v1h-4zM34 21h1v1h-1zM36 21h1v1h-1zM30 22h5v1h-5zM37 22h1v1h-1zM32 23h5v1h-5zM39 23h1v1h-1zM36 24h2v1h-2zM40 24h1v1h-1zM36 25h1v1h-1zM38 25h2v1h-2zM37 26h4v1h-4zM37 27h1v1h-1zM40 27h3v1h-3zM39 28h2v1h-2zM38 29h5v1h-5zM37 30h3v1h-3zM36 31h5v1h-5zM36 32h4v1h-4zM38 33h2v1h-2zM34 34h2v1h-2zM37 34h4v1h-4zM35 35h1v1h-1zM37 35h3v1h-3zM39 36h1v1h-1zM41 36h2v1h-2zM33 37h1v1h-1zM35 37h5v1h-5zM35 38h4v1h-4zM36 39h4v1h-4zM36 40h3v1h-3zM40 40h1v1h-1zM33 41h1v1h-1zM36 41h2v1h-2zM33 42h1v1h-1zM36 42h2v1h-2z" fill="#c6d6ed"/><path d="M2 0h1v1h-1zM6 0h6v1h-6zM13 0h2v1h-2zM17 0h1v1h-1zM19 0h1v1h-1zM2 1h1v1h-1zM6 1h6v1h-6zM13 1h2v1h-2zM17 1h1v1h-1zM19 1h1v1h-1zM4 2h2v1h-2zM7 2h2v1h-2zM10 2h2v1h-2zM15 2h1v1h-1zM17 2h1v1h-1zM19 2h1v1h-1zM3 3h2v1h-2zM6 3h4v1h-4zM11 3h2v1h-2zM0 4h9v1h-9zM10 4h1v1h-1zM20 4h1v1h-1zM2 5h5v1h-5zM8 5h3v1h-3zM12 5h1v1h-1zM20 5h1v1h-1zM0 6h5v1h-5zM20 6h1v1h-1zM0 7h5v1h-5zM7 7h2v1h-2zM4 8h1v1h-1zM6 8h1v1h-1zM2 10h1v1h-1zM21 12h1v1h-1zM21 13h1v1h-1zM21 14h1v1h-1zM21 15h1v1h-1zM21 16h1v1h-1zM22 18h1v1h-1zM23 19h1v1h-1zM24 20h1v1h-1zM25 21h4v1h-4zM27 22h3v1h-3zM28 23h4v1h-4zM29 24h1v1h-1zM31 24h5v1h-5zM38 24h1v1h-1zM33 25h3v1h-3zM37 25h1v1h-1zM34 26h3v1h-3zM34 27h3v1h-3zM38 27h1v1h-1zM32 28h1v1h-1zM34 28h5v1h-5zM34 29h4v1h-4zM33 30h4v1h-4zM34 31h2v1h-2zM35 32h1v1h-1zM31 33h7v1h-7zM32 34h2v1h-2zM36 34h1v1h-1zM32 35h3v1h-3zM36 35h1v1h-1zM32 36h5v1h-5zM30 37h3v1h-3zM34 37h1v1h-1zM31 38h4v1h-4zM29 39h7v1h-7zM30 40h6v1h-6zM28 41h1v1h-1zM30 41h3v1h-3zM34 41h2v1h-2zM28 42h1v1h-1zM30 42h3v1h-3zM34 42h2v1h-2z" fill="#c8d7ed"/><path d="M16 4h1v1h-1zM7 5h1v1h-1zM16 5h1v1h-1zM18 5h1v1h-1zM14 6h1v1h-1zM16 6h1v1h-1zM18 6h2v1h-2zM15 7h4v1h-4zM12 8h1v1h-1zM14 8h5v1h-5zM7 9h1v1h-1zM11 9h1v1h-1zM13 9h4v1h-4zM18 9h1v1h-1zM9 10h11v1h-11zM6 11h3v1h-3zM10 11h6v1h-6zM18 11h1v1h-1zM4 12h5v1h-5zM10 12h4v1h-4zM19 12h2v1h-2zM2 13h5v1h-5zM8 13h3v1h-3zM13 13h1v1h-1zM2 14h6v1h-6zM9 14h1v1h-1zM20 14h1v1h-1zM0 15h4v1h-4zM5 15h2v1h-2zM8 15h1v1h-1zM11 15h1v1h-1zM0 16h5v1h-5zM6 16h1v1h-1zM20 16h1v1h-1zM2 17h3v1h-3zM21 18h1v1h-1zM24 22h1v1h-1zM24 23h2v1h-2zM24 24h4v1h-4zM25 25h1v1h-1zM27 25h1v1h-1zM26 26h3v1h-3zM26 27h4v1h-4zM25 28h2v1h-2zM24 29h1v1h-1zM26 29h3v1h-3zM25 30h4v1h-4zM25 31h5v1h-5zM24 32h3v1h-3zM28 32h1v1h-1zM26 33h1v1h-1zM24 34h4v1h-4zM24 35h2v1h-2zM24 36h3v1h-3zM24 37h3v1h-3zM24 38h1v1h-1zM24 39h1v1h-1zM24 41h1v1h-1zM24 42h1v1h-1z" fill="#ccd9ed"/><path d="M17 9h1v1h-1zM16 11h2v1h-2zM19 11h1v1h-1zM14 12h5v1h-5zM7 13h1v1h-1zM11 13h2v1h-2zM14 13h6v1h-6zM10 14h10v1h-10zM4 15h1v1h-1zM7 15h1v1h-1zM9 15h2v1h-2zM12 15h4v1h-4zM17 15h4v1h-4zM5 16h1v1h-1zM7 16h5v1h-5zM13 16h4v1h-4zM19 16h1v1h-1zM0 17h2v1h-2zM5 17h7v1h-7zM14 17h1v1h-1zM20 17h1v1h-1zM0 18h4v1h-4zM5 18h3v1h-3zM24 25h1v1h-1zM25 26h1v1h-1zM24 27h2v1h-2zM24 28h1v1h-1zM27 28h1v1h-1zM25 29h1v1h-1zM24 30h1v1h-1zM24 31h1v1h-1zM24 33h1v1h-1zM23 38h1v1h-1zM23 39h1v1h-1z" fill="#cdd9ec"/><path d="M16 15h1v1h-1zM12 16h1v1h-1zM17 16h2v1h-2zM12 17h2v1h-2zM15 17h5v1h-5zM4 18h1v1h-1zM8 18h6v1h-6zM15 18h1v1h-1zM19 18h2v1h-2zM22 19h1v1h-1zM23 20h1v1h-1zM23 23h1v1h-1zM23 24h1v1h-1zM24 26h1v1h-1zM23 28h1v1h-1zM23 29h1v1h-1zM23 31h1v1h-1zM23 32h1v1h-1zM23 34h1v1h-1zM23 35h1v1h-1zM23 36h1v1h-1zM23 37h1v1h-1zM23 40h1v1h-1zM23 41h1v1h-1zM23 42h1v1h-1z" fill="#cfdaea"/><path d="M14 18h1v1h-1zM16 18h3v1h-3zM0 19h5v1h-5zM6 19h4v1h-4zM12 19h1v1h-1zM23 25h1v1h-1zM23 26h1v1h-1zM23 27h1v1h-1zM23 30h1v1h-1zM23 33h1v1h-1z" fill="#d0dae9"/><path d="M5 19h1v1h-1zM10 19h2v1h-2zM13 19h5v1h-5zM23 22h1v1h-1z" fill="#d2dbe8"/><path d="M18 19h2v1h-2zM0 36h2v1h-2zM22 36h1v1h-1zM0 37h3v1h-3zM22 37h1v1h-1zM0 38h2v1h-2zM3 38h1v1h-1zM22 38h1v1h-1zM0 39h5v1h-5zM22 39h1v1h-1zM0 40h6v1h-6zM22 40h1v1h-1zM0 41h5v1h-5zM6 41h1v1h-1zM22 41h1v1h-1zM0 42h5v1h-5zM6 42h1v1h-1zM22 42h1v1h-1z" fill="#d3dbe7"/><path d="M21 19h1v1h-1zM0 20h6v1h-6zM7 20h1v1h-1zM10 20h1v1h-1zM12 20h1v1h-1zM23 21h1v1h-1zM22 24h1v1h-1zM22 25h1v1h-1zM22 26h1v1h-1zM22 27h1v1h-1zM22 28h1v1h-1zM22 29h1v1h-1zM22 30h1v1h-1zM3 31h1v1h-1zM22 31h1v1h-1zM0 32h2v1h-2zM3 32h2v1h-2zM6 32h1v1h-1zM22 32h1v1h-1zM0 33h5v1h-5zM7 33h1v1h-1zM22 33h1v1h-1zM0 34h5v1h-5zM8 34h1v1h-1zM22 34h1v1h-1zM0 35h7v1h-7zM22 35h1v1h-1zM2 36h8v1h-8zM3 37h9v1h-9zM2 38h1v1h-1zM4 38h7v1h-7zM13 38h2v1h-2zM5 39h9v1h-9zM6 40h6v1h-6zM13 40h1v1h-1zM5 41h1v1h-1zM7 41h10v1h-10zM5 42h1v1h-1zM7 42h10v1h-10z" fill="#d5dce5"/><path d="M20 19h1v1h-1zM6 20h1v1h-1zM8 20h2v1h-2zM11 20h1v1h-1zM13 20h6v1h-6zM0 23h4v1h-4zM5 23h2v1h-2zM0 24h5v1h-5zM0 25h2v1h-2zM3 25h1v1h-1zM5 25h1v1h-1zM13 25h1v1h-1zM0 26h4v1h-4zM0 27h4v1h-4zM5 27h5v1h-5zM14 27h1v1h-1zM0 28h9v1h-9zM10 28h1v1h-1zM14 28h1v1h-1zM0 29h8v1h-8zM9 29h2v1h-2zM13 29h1v1h-1zM15 29h1v1h-1zM0 30h10v1h-10zM11 30h2v1h-2zM0 31h3v1h-3zM4 31h7v1h-7zM12 31h3v1h-3zM2 32h1v1h-1zM5 32h1v1h-1zM7 32h8v1h-8zM16 32h2v1h-2zM5 33h2v1h-2zM8 33h10v1h-10zM5 34h3v1h-3zM9 34h7v1h-7zM17 34h1v1h-1zM7 35h12v1h-12zM10 36h9v1h-9zM12 37h7v1h-7zM11 38h2v1h-2zM15 38h4v1h-4zM14 39h5v1h-5zM12 40h1v1h-1zM14 40h5v1h-5zM17 41h3v1h-3zM17 42h3v1h-3z" fill="#d6dce4"/><path d="M0 21h5v1h-5zM0 22h2v1h-2zM4 22h1v1h-1zM4 23h1v1h-1zM7 23h2v1h-2zM10 23h6v1h-6zM18 23h1v1h-1zM5 24h14v1h-14zM2 25h1v1h-1zM4 25h1v1h-1zM6 25h7v1h-7zM14 25h2v1h-2zM18 25h1v1h-1zM4 26h14v1h-14zM4 27h1v1h-1zM10 27h4v1h-4zM15 27h4v1h-4zM9 28h1v1h-1zM11 28h3v1h-3zM15 28h4v1h-4zM8 29h1v1h-1zM11 29h2v1h-2zM14 29h1v1h-1zM16 29h3v1h-3zM10 30h1v1h-1zM13 30h6v1h-6zM11 31h1v1h-1zM15 31h5v1h-5zM15 32h1v1h-1zM18 32h2v1h-2zM18 33h1v1h-1zM16 34h1v1h-1zM18 34h2v1h-2zM19 35h1v1h-1zM19 36h1v1h-1zM19 37h1v1h-1zM19 38h1v1h-1zM19 39h1v1h-1zM19 40h1v1h-1zM21 40h1v1h-1zM21 41h1v1h-1zM21 42h1v1h-1z" fill="#d7dce2"/><path d="M5 21h7v1h-7zM14 21h1v1h-1zM16 21h2v1h-2zM2 22h2v1h-2zM5 22h12v1h-12zM9 23h1v1h-1zM16 23h2v1h-2zM22 23h1v1h-1zM19 24h1v1h-1zM16 25h2v1h-2zM18 26h2v1h-2zM19 27h1v1h-1zM19 28h1v1h-1zM19 29h1v1h-1zM19 30h1v1h-1zM21 30h1v1h-1zM21 31h1v1h-1zM20 32h2v1h-2zM19 33h3v1h-3zM21 35h1v1h-1zM20 36h2v1h-2zM20 37h2v1h-2zM20 38h2v1h-2zM20 39h2v1h-2zM20 40h1v1h-1zM20 41h1v1h-1zM20 42h1v1h-1z" fill="#d9dce1"/><path d="M12 21h2v1h-2zM15 21h1v1h-1zM17 22h2v1h-2zM21 24h1v1h-1zM19 25h3v1h-3zM20 26h2v1h-2zM20 27h2v1h-2zM20 28h2v1h-2zM20 29h2v1h-2zM20 30h1v1h-1zM20 31h1v1h-1zM20 34h2v1h-2zM20 35h1v1h-1z" fill="#dadcdf"/><path d="M19 20h1v1h-1zM18 21h1v1h-1zM19 23h1v1h-1zM20 24h1v1h-1z" fill="#dcdcde"/><path d="M19 22h1v1h-1z" fill="#dedbda"/><path d="M22 20h1v1h-1zM20 23h2v1h-2z" fill="#dfdbd8"/><path d="M19 21h1v1h-1z" fill="#e2dad5"/><path d="M22 22h1v1h-1z" fill="#e7d7ce"/><path d="M20 20h1v1h-1z" fill="#e8d6cd"/><path d="M21 20h1v1h-1zM20 22h1v1h-1z" fill="#edd0c2"/><path d="M22 21h1v1h-1z" fill="#efcebe"/><path d="M21 22h1v1h-1z" fill="#f2c8b4"/><path d="M20 21h1v1h-1z" fill="#f2c4ae"/><path d="M21 21h1v1h-1z" fill="#f4b398"/></g></g>
<rect x="780.8" y="1054.8" width="236.2" height="236.2" fill="none" stroke="#000" stroke-width="1.7"/>
<g clip-path="url(#hc5)"><g transform="translate(1021.44 1049.04) scale(5.76098)" filter="url(#hb13)"><rect width="43" height="43" fill="#ccd9ed"/><path d="M35 2h1v1h-1zM35 4h1v1h-1zM39 4h1v1h-1z" fill="#b2c9e8"/><path d="M35 0h1v1h-1zM35 1h1v1h-1zM40 3h1v1h-1zM40 4h3v1h-3zM40 5h3v1h-3z" fill="#b4cae9"/><path d="M30 0h1v1h-1zM36 0h1v1h-1zM40 0h1v1h-1zM30 1h1v1h-1zM36 1h1v1h-1zM40 1h1v1h-1zM32 2h2v1h-2zM41 2h2v1h-2zM37 6h1v1h-1zM41 8h2v1h-2zM40 11h1v1h-1z" fill="#b6ccea"/><path d="M27 0h1v1h-1zM32 0h1v1h-1zM27 1h1v1h-1zM32 1h1v1h-1zM36 2h2v1h-2zM39 2h2v1h-2zM33 3h2v1h-2zM36 3h1v1h-1zM39 3h1v1h-1zM27 6h1v1h-1zM36 6h1v1h-1zM39 6h2v1h-2zM35 8h1v1h-1zM32 9h1v1h-1zM38 9h1v1h-1zM41 9h2v1h-2zM39 10h2v1h-2zM37 11h1v1h-1zM38 12h1v1h-1zM41 12h2v1h-2z" fill="#b8cdeb"/><path d="M31 0h1v1h-1zM34 0h1v1h-1zM37 0h1v1h-1zM39 0h1v1h-1zM41 0h2v1h-2zM31 1h1v1h-1zM34 1h1v1h-1zM37 1h1v1h-1zM39 1h1v1h-1zM41 1h2v1h-2zM34 2h1v1h-1zM38 2h1v1h-1zM25 3h1v1h-1zM28 3h1v1h-1zM32 3h1v1h-1zM26 4h2v1h-2zM29 4h2v1h-2zM34 4h1v1h-1zM37 4h1v1h-1zM34 5h3v1h-3zM39 5h1v1h-1zM26 6h1v1h-1zM28 6h2v1h-2zM33 7h1v1h-1zM36 7h1v1h-1zM38 7h2v1h-2zM41 7h2v1h-2zM33 8h1v1h-1zM37 8h4v1h-4zM34 9h1v1h-1zM37 9h1v1h-1zM39 9h2v1h-2zM35 10h1v1h-1zM41 10h2v1h-2zM36 11h1v1h-1zM40 12h1v1h-1zM41 13h2v1h-2zM37 14h1v1h-1zM39 17h1v1h-1z" fill="#bacfeb"/><path d="M25 0h1v1h-1zM29 0h1v1h-1zM33 0h1v1h-1zM38 0h1v1h-1zM25 1h1v1h-1zM29 1h1v1h-1zM33 1h1v1h-1zM38 1h1v1h-1zM23 2h1v1h-1zM31 2h1v1h-1zM23 3h1v1h-1zM26 3h1v1h-1zM30 3h2v1h-2zM35 3h1v1h-1zM37 3h1v1h-1zM41 3h2v1h-2zM23 4h1v1h-1zM28 4h1v1h-1zM32 4h1v1h-1zM36 4h1v1h-1zM23 5h1v1h-1zM27 5h2v1h-2zM33 5h1v1h-1zM37 5h2v1h-2zM31 6h2v1h-2zM35 6h1v1h-1zM38 6h1v1h-1zM41 6h2v1h-2zM27 7h1v1h-1zM40 7h1v1h-1zM34 8h1v1h-1zM36 8h1v1h-1zM29 9h2v1h-2zM36 9h1v1h-1zM25 10h1v1h-1zM32 10h1v1h-1zM34 10h1v1h-1zM36 10h1v1h-1zM30 11h3v1h-3zM38 11h1v1h-1zM31 12h1v1h-1zM39 12h1v1h-1zM30 13h1v1h-1zM36 13h1v1h-1zM39 13h2v1h-2zM36 14h1v1h-1zM40 14h1v1h-1zM35 16h1v1h-1zM41 16h2v1h-2z" fill="#bcd0ec"/><path d="M23 0h2v1h-2zM26 0h1v1h-1zM28 0h1v1h-1zM23 1h2v1h-2zM26 1h1v1h-1zM28 1h1v1h-1zM22 2h1v1h-1zM26 2h2v1h-2zM29 2h2v1h-2zM27 3h1v1h-1zM29 3h1v1h-1zM25 4h1v1h-1zM33 4h1v1h-1zM38 4h1v1h-1zM25 5h1v1h-1zM29 5h4v1h-4zM25 7h2v1h-2zM29 7h2v1h-2zM32 7h1v1h-1zM34 7h2v1h-2zM24 8h1v1h-1zM28 8h1v1h-1zM30 8h1v1h-1zM26 9h1v1h-1zM28 9h1v1h-1zM31 9h1v1h-1zM33 9h1v1h-1zM35 9h1v1h-1zM26 10h2v1h-2zM29 10h1v1h-1zM31 10h1v1h-1zM37 10h2v1h-2zM26 11h1v1h-1zM33 11h2v1h-2zM41 11h2v1h-2zM33 12h4v1h-4zM24 13h1v1h-1zM37 13h1v1h-1zM28 14h1v1h-1zM30 14h1v1h-1zM33 14h3v1h-3zM38 14h2v1h-2zM41 14h2v1h-2zM30 15h1v1h-1zM34 15h1v1h-1zM38 15h1v1h-1zM40 15h1v1h-1zM37 16h1v1h-1zM40 16h1v1h-1zM40 21h1v1h-1z" fill="#bed1ec"/><path d="M22 0h1v1h-1zM22 1h1v1h-1zM22 3h1v1h-1zM38 3h1v1h-1zM24 4h1v1h-1zM31 4h1v1h-1zM22 5h1v1h-1zM24 5h1v1h-1zM26 5h1v1h-1zM24 6h2v1h-2zM30 6h1v1h-1zM33 6h2v1h-2zM27 8h1v1h-1zM29 8h1v1h-1zM24 9h1v1h-1zM29 11h1v1h-1zM35 11h1v1h-1zM39 11h1v1h-1zM23 12h3v1h-3zM27 13h1v1h-1zM32 13h2v1h-2zM35 13h1v1h-1zM28 15h1v1h-1zM32 15h2v1h-2zM35 15h2v1h-2zM39 15h1v1h-1zM41 15h2v1h-2zM31 16h1v1h-1zM33 16h1v1h-1zM38 16h2v1h-2zM30 17h1v1h-1zM37 17h2v1h-2zM40 17h3v1h-3zM37 18h1v1h-1zM40 18h1v1h-1zM40 19h1v1h-1zM41 20h2v1h-2z" fill="#c0d2ec"/><path d="M24 2h1v1h-1zM28 2h1v1h-1zM24 3h1v1h-1zM22 4h1v1h-1zM22 6h1v1h-1zM28 7h1v1h-1zM31 7h1v1h-1zM37 7h1v1h-1zM25 8h1v1h-1zM23 9h1v1h-1zM25 9h1v1h-1zM28 10h1v1h-1zM33 10h1v1h-1zM25 11h1v1h-1zM28 11h1v1h-1zM27 12h3v1h-3zM32 12h1v1h-1zM37 12h1v1h-1zM26 13h1v1h-1zM28 13h1v1h-1zM31 13h1v1h-1zM34 13h1v1h-1zM38 13h1v1h-1zM23 14h1v1h-1zM25 14h1v1h-1zM27 14h1v1h-1zM29 14h1v1h-1zM31 14h2v1h-2zM24 15h1v1h-1zM37 15h1v1h-1zM25 16h1v1h-1zM29 16h1v1h-1zM34 16h1v1h-1zM29 17h1v1h-1zM35 18h1v1h-1zM41 19h2v1h-2zM34 20h1v1h-1zM40 20h1v1h-1zM38 21h1v1h-1zM41 21h2v1h-2z" fill="#c2d3ec"/><path d="M6 2h1v1h-1zM21 2h1v1h-1zM25 2h1v1h-1zM23 6h1v1h-1zM22 7h3v1h-3zM23 8h1v1h-1zM26 8h1v1h-1zM31 8h2v1h-2zM27 9h1v1h-1zM21 10h1v1h-1zM24 10h1v1h-1zM30 10h1v1h-1zM23 11h1v1h-1zM27 11h1v1h-1zM26 12h1v1h-1zM30 12h1v1h-1zM23 13h1v1h-1zM25 13h1v1h-1zM23 15h1v1h-1zM27 15h1v1h-1zM29 15h1v1h-1zM24 16h1v1h-1zM32 17h2v1h-2zM36 17h1v1h-1zM28 18h1v1h-1zM31 18h2v1h-2zM39 18h1v1h-1zM41 18h2v1h-2zM30 19h1v1h-1zM33 19h1v1h-1zM35 19h2v1h-2zM38 19h1v1h-1zM32 20h1v1h-1zM35 20h1v1h-1zM39 21h1v1h-1zM35 22h1v1h-1zM41 22h2v1h-2zM36 23h1v1h-1zM36 27h1v1h-1zM38 38h1v1h-1zM41 40h2v1h-2z" fill="#c4d4ec"/><path d="M0 0h2v1h-2zM0 1h2v1h-2zM14 2h1v1h-1zM6 3h1v1h-1zM12 4h1v1h-1zM2 5h1v1h-1zM22 8h1v1h-1zM21 9h1v1h-1zM7 10h1v1h-1zM22 10h2v1h-2zM24 11h1v1h-1zM22 12h1v1h-1zM22 13h1v1h-1zM29 13h1v1h-1zM24 14h1v1h-1zM22 15h1v1h-1zM25 15h2v1h-2zM22 16h1v1h-1zM27 16h2v1h-2zM30 16h1v1h-1zM32 16h1v1h-1zM36 16h1v1h-1zM24 17h1v1h-1zM27 17h2v1h-2zM34 17h2v1h-2zM27 18h1v1h-1zM30 18h1v1h-1zM33 18h1v1h-1zM36 18h1v1h-1zM38 18h1v1h-1zM28 19h1v1h-1zM32 19h1v1h-1zM34 19h1v1h-1zM37 19h1v1h-1zM39 19h1v1h-1zM36 20h1v1h-1zM38 20h2v1h-2zM32 21h1v1h-1zM35 21h1v1h-1zM37 21h1v1h-1zM33 22h1v1h-1zM36 22h1v1h-1zM38 23h1v1h-1zM34 24h1v1h-1zM36 24h2v1h-2zM41 24h2v1h-2zM41 25h2v1h-2zM38 29h1v1h-1zM38 30h1v1h-1zM40 30h1v1h-1zM38 31h1v1h-1zM36 33h1v1h-1zM39 33h1v1h-1zM35 34h1v1h-1zM41 36h2v1h-2zM41 38h2v1h-2zM35 39h1v1h-1zM38 39h1v1h-1zM41 39h2v1h-2zM36 40h2v1h-2zM40 40h1v1h-1zM33 41h1v1h-1zM40 41h3v1h-3zM33 42h1v1h-1zM40 42h3v1h-3z" fill="#c6d6ed"/><path d="M3 0h3v1h-3zM9 0h1v1h-1zM12 0h1v1h-1zM21 0h1v1h-1zM3 1h3v1h-3zM9 1h1v1h-1zM12 1h1v1h-1zM21 1h1v1h-1zM2 2h1v1h-1zM8 2h1v1h-1zM10 2h1v1h-1zM21 3h1v1h-1zM0 4h2v1h-2zM4 4h1v1h-1zM19 4h1v1h-1zM21 4h1v1h-1zM14 5h1v1h-1zM0 6h2v1h-2zM5 6h1v1h-1zM21 6h1v1h-1zM4 7h1v1h-1zM5 9h2v1h-2zM22 9h1v1h-1zM3 11h1v1h-1zM22 11h1v1h-1zM21 12h1v1h-1zM0 13h2v1h-2zM26 14h1v1h-1zM31 15h1v1h-1zM23 16h1v1h-1zM23 17h1v1h-1zM31 17h1v1h-1zM24 18h1v1h-1zM26 18h1v1h-1zM29 18h1v1h-1zM34 18h1v1h-1zM26 19h1v1h-1zM29 19h1v1h-1zM31 19h1v1h-1zM25 20h2v1h-2zM33 20h1v1h-1zM29 21h1v1h-1zM31 21h1v1h-1zM34 21h1v1h-1zM36 21h1v1h-1zM34 22h1v1h-1zM37 22h2v1h-2zM39 23h1v1h-1zM31 24h1v1h-1zM38 25h1v1h-1zM32 26h1v1h-1zM35 26h1v1h-1zM40 26h1v1h-1zM34 27h1v1h-1zM39 27h2v1h-2zM41 30h2v1h-2zM29 31h1v1h-1zM34 31h1v1h-1zM40 31h1v1h-1zM35 32h1v1h-1zM38 32h1v1h-1zM37 33h1v1h-1zM40 33h1v1h-1zM38 34h1v1h-1zM40 34h1v1h-1zM38 35h5v1h-5zM37 36h1v1h-1zM39 36h2v1h-2zM41 37h2v1h-2zM30 38h1v1h-1zM40 38h1v1h-1zM34 39h1v1h-1zM36 39h1v1h-1zM39 39h1v1h-1zM30 40h2v1h-2zM35 40h1v1h-1zM38 40h2v1h-2zM31 41h1v1h-1zM34 41h1v1h-1zM38 41h1v1h-1zM31 42h1v1h-1zM34 42h1v1h-1zM38 42h1v1h-1z" fill="#c8d7ed"/><path d="M2 0h1v1h-1zM13 0h1v1h-1zM17 0h1v1h-1zM19 0h1v1h-1zM2 1h1v1h-1zM13 1h1v1h-1zM17 1h1v1h-1zM19 1h1v1h-1zM3 2h1v1h-1zM5 2h1v1h-1zM9 2h1v1h-1zM12 2h1v1h-1zM19 2h1v1h-1zM4 3h1v1h-1zM8 3h1v1h-1zM13 3h1v1h-1zM15 3h1v1h-1zM2 4h1v1h-1zM6 4h1v1h-1zM8 5h1v1h-1zM12 5h1v1h-1zM3 6h1v1h-1zM9 6h1v1h-1zM15 6h2v1h-2zM18 6h1v1h-1zM0 7h2v1h-2zM5 7h1v1h-1zM8 7h1v1h-1zM11 7h1v1h-1zM19 7h2v1h-2zM3 8h1v1h-1zM7 8h1v1h-1zM9 8h1v1h-1zM18 8h1v1h-1zM2 9h1v1h-1zM4 9h1v1h-1zM7 9h1v1h-1zM0 10h2v1h-2zM8 10h1v1h-1zM0 11h3v1h-3zM7 11h1v1h-1zM9 11h1v1h-1zM12 11h1v1h-1zM17 11h1v1h-1zM21 11h1v1h-1zM3 13h1v1h-1zM5 14h1v1h-1zM8 14h1v1h-1zM4 15h1v1h-1zM20 15h1v1h-1zM26 16h1v1h-1zM22 17h1v1h-1zM25 17h1v1h-1zM23 18h1v1h-1zM25 19h1v1h-1zM27 19h1v1h-1zM27 20h2v1h-2zM30 20h1v1h-1zM37 20h1v1h-1zM39 22h2v1h-2zM27 23h1v1h-1zM29 23h1v1h-1zM31 23h1v1h-1zM33 23h1v1h-1zM35 23h1v1h-1zM37 23h1v1h-1zM40 23h1v1h-1zM29 24h1v1h-1zM32 24h1v1h-1zM38 24h3v1h-3zM31 25h2v1h-2zM37 25h1v1h-1zM39 25h1v1h-1zM33 26h1v1h-1zM36 26h3v1h-3zM41 26h2v1h-2zM38 27h1v1h-1zM41 27h2v1h-2zM32 28h1v1h-1zM34 28h1v1h-1zM36 28h2v1h-2zM39 28h1v1h-1zM37 29h1v1h-1zM39 29h1v1h-1zM36 30h1v1h-1zM39 30h1v1h-1zM31 31h1v1h-1zM36 31h1v1h-1zM39 31h1v1h-1zM29 32h1v1h-1zM31 32h1v1h-1zM37 32h1v1h-1zM35 33h1v1h-1zM41 33h2v1h-2zM31 34h1v1h-1zM34 34h1v1h-1zM36 34h1v1h-1zM39 34h1v1h-1zM28 35h1v1h-1zM37 35h1v1h-1zM33 36h4v1h-4zM35 37h1v1h-1zM37 37h4v1h-4zM31 38h1v1h-1zM34 38h2v1h-2zM39 38h1v1h-1zM31 39h1v1h-1zM33 39h1v1h-1zM37 39h1v1h-1zM27 40h1v1h-1zM32 40h2v1h-2zM26 41h1v1h-1zM30 41h1v1h-1zM32 41h1v1h-1zM35 41h1v1h-1zM37 41h1v1h-1zM26 42h1v1h-1zM30 42h1v1h-1zM32 42h1v1h-1zM35 42h1v1h-1zM37 42h1v1h-1z" fill="#cad8ed"/><path d="M7 0h2v1h-2zM7 1h2v1h-2zM7 2h1v1h-1zM11 2h1v1h-1zM0 3h2v1h-2zM7 3h1v1h-1zM11 3h2v1h-2zM16 3h2v1h-2zM3 4h1v1h-1zM7 4h3v1h-3zM11 4h1v1h-1zM14 4h1v1h-1zM16 4h3v1h-3zM3 5h1v1h-1zM7 5h1v1h-1zM9 5h2v1h-2zM16 5h1v1h-1zM19 5h3v1h-3zM2 6h1v1h-1zM6 6h2v1h-2zM13 6h1v1h-1zM3 7h1v1h-1zM10 7h1v1h-1zM15 7h2v1h-2zM8 8h1v1h-1zM11 8h2v1h-2zM14 8h1v1h-1zM16 8h2v1h-2zM19 8h1v1h-1zM21 8h1v1h-1zM11 9h2v1h-2zM14 9h2v1h-2zM17 9h1v1h-1zM6 10h1v1h-1zM16 10h2v1h-2zM19 10h1v1h-1zM5 11h1v1h-1zM8 11h1v1h-1zM18 11h1v1h-1zM0 12h7v1h-7zM20 12h1v1h-1zM2 13h1v1h-1zM5 13h2v1h-2zM8 13h1v1h-1zM11 13h1v1h-1zM0 14h3v1h-3zM6 14h1v1h-1zM15 14h1v1h-1zM17 14h1v1h-1zM19 14h3v1h-3zM2 15h1v1h-1zM6 15h3v1h-3zM10 15h2v1h-2zM13 15h1v1h-1zM15 15h2v1h-2zM21 15h1v1h-1zM6 16h2v1h-2zM9 16h2v1h-2zM20 16h2v1h-2zM2 17h6v1h-6zM0 18h4v1h-4zM6 18h1v1h-1zM22 18h1v1h-1zM24 20h1v1h-1zM31 20h1v1h-1zM27 21h2v1h-2zM30 21h1v1h-1zM33 21h1v1h-1zM25 22h1v1h-1zM30 22h1v1h-1zM26 23h1v1h-1zM27 24h1v1h-1zM25 25h2v1h-2zM28 25h1v1h-1zM35 25h1v1h-1zM25 27h1v1h-1zM28 27h2v1h-2zM32 27h1v1h-1zM28 28h2v1h-2zM35 28h1v1h-1zM26 29h1v1h-1zM29 29h1v1h-1zM40 29h3v1h-3zM25 30h1v1h-1zM28 30h1v1h-1zM33 30h1v1h-1zM35 30h1v1h-1zM37 30h1v1h-1zM25 31h1v1h-1zM33 31h1v1h-1zM35 31h1v1h-1zM41 31h2v1h-2zM24 32h1v1h-1zM32 32h1v1h-1zM36 32h1v1h-1zM25 33h1v1h-1zM27 33h2v1h-2zM32 33h2v1h-2zM26 34h2v1h-2zM29 34h2v1h-2zM32 34h2v1h-2zM41 34h2v1h-2zM24 35h2v1h-2zM29 35h1v1h-1zM35 35h1v1h-1zM25 36h3v1h-3zM30 36h1v1h-1zM24 37h2v1h-2zM30 37h2v1h-2zM33 37h2v1h-2zM28 38h1v1h-1zM37 38h1v1h-1zM25 39h1v1h-1zM27 39h1v1h-1zM24 40h1v1h-1zM26 40h1v1h-1zM28 40h2v1h-2zM34 40h1v1h-1zM24 41h1v1h-1zM27 41h1v1h-1zM24 42h1v1h-1zM27 42h1v1h-1z" fill="#cdd9ec"/><path d="M15 2h2v1h-2zM20 2h1v1h-1zM5 3h1v1h-1zM14 3h1v1h-1zM19 3h1v1h-1zM10 4h1v1h-1zM6 5h1v1h-1zM17 5h1v1h-1zM14 6h1v1h-1zM17 6h1v1h-1zM18 7h1v1h-1zM13 8h1v1h-1zM9 9h2v1h-2zM16 9h1v1h-1zM19 9h1v1h-1zM11 10h3v1h-3zM10 11h1v1h-1zM15 11h2v1h-2zM19 11h1v1h-1zM7 12h1v1h-1zM11 12h2v1h-2zM14 12h2v1h-2zM17 12h1v1h-1zM19 12h1v1h-1zM7 13h1v1h-1zM9 13h1v1h-1zM12 13h2v1h-2zM15 13h3v1h-3zM19 13h2v1h-2zM7 14h1v1h-1zM14 14h1v1h-1zM16 14h1v1h-1zM0 15h2v1h-2zM12 15h1v1h-1zM14 15h1v1h-1zM19 15h1v1h-1zM3 16h1v1h-1zM8 16h1v1h-1zM18 16h1v1h-1zM19 17h1v1h-1zM9 18h2v1h-2zM12 18h1v1h-1zM14 18h1v1h-1zM24 19h1v1h-1zM24 22h1v1h-1zM26 22h1v1h-1zM28 22h1v1h-1zM32 23h1v1h-1zM24 24h2v1h-2zM28 24h1v1h-1zM27 25h1v1h-1zM24 26h3v1h-3zM28 26h1v1h-1zM30 26h1v1h-1zM30 27h1v1h-1zM37 27h1v1h-1zM30 28h1v1h-1zM24 29h1v1h-1zM27 29h1v1h-1zM35 29h1v1h-1zM29 30h1v1h-1zM31 30h1v1h-1zM26 31h2v1h-2zM32 31h1v1h-1zM26 32h3v1h-3zM24 33h1v1h-1zM29 33h2v1h-2zM34 33h1v1h-1zM38 36h1v1h-1zM23 37h1v1h-1zM26 37h2v1h-2zM29 37h1v1h-1zM24 38h1v1h-1zM24 39h1v1h-1zM23 41h1v1h-1zM23 42h1v1h-1z" fill="#cfdaea"/><path d="M18 5h1v1h-1zM10 6h1v1h-1zM4 8h1v1h-1zM15 8h1v1h-1zM13 9h1v1h-1zM18 9h1v1h-1zM9 10h1v1h-1zM14 10h1v1h-1zM18 10h1v1h-1zM20 11h1v1h-1zM8 12h3v1h-3zM13 12h1v1h-1zM16 12h1v1h-1zM18 12h1v1h-1zM4 13h1v1h-1zM10 13h1v1h-1zM14 13h1v1h-1zM9 14h2v1h-2zM13 14h1v1h-1zM18 14h1v1h-1zM17 15h2v1h-2zM12 16h1v1h-1zM14 16h1v1h-1zM19 16h1v1h-1zM8 17h2v1h-2zM11 17h4v1h-4zM20 17h1v1h-1zM4 18h1v1h-1zM7 18h1v1h-1zM19 18h3v1h-3zM0 19h6v1h-6zM23 20h1v1h-1zM24 21h1v1h-1zM27 22h1v1h-1zM31 22h1v1h-1zM25 23h1v1h-1zM28 23h1v1h-1zM23 24h1v1h-1zM24 25h1v1h-1zM23 26h1v1h-1zM27 26h1v1h-1zM24 27h1v1h-1zM26 27h2v1h-2zM25 29h1v1h-1zM26 30h1v1h-1zM23 32h1v1h-1zM25 32h1v1h-1zM23 33h1v1h-1zM23 34h3v1h-3zM28 34h1v1h-1zM23 35h1v1h-1zM30 35h1v1h-1zM23 36h1v1h-1zM23 38h1v1h-1zM23 39h1v1h-1zM23 40h1v1h-1zM25 41h1v1h-1zM25 42h1v1h-1z" fill="#d0dae9"/><path d="M15 10h1v1h-1zM2 16h1v1h-1zM11 16h1v1h-1zM15 16h2v1h-2zM10 17h1v1h-1zM16 17h2v1h-2zM5 18h1v1h-1zM8 18h1v1h-1zM11 18h1v1h-1zM13 18h1v1h-1zM15 18h3v1h-3zM6 19h2v1h-2zM13 19h1v1h-1zM23 23h2v1h-2zM23 27h1v1h-1zM25 28h1v1h-1zM27 28h1v1h-1zM23 29h1v1h-1zM24 30h1v1h-1z" fill="#d2dbe8"/><path d="M18 13h1v1h-1zM15 17h1v1h-1zM18 17h1v1h-1zM8 19h2v1h-2zM11 19h1v1h-1zM16 19h1v1h-1zM23 28h2v1h-2zM23 30h1v1h-1zM23 31h1v1h-1zM22 36h1v1h-1zM22 41h1v1h-1zM22 42h1v1h-1z" fill="#d3dbe7"/><path d="M18 18h1v1h-1zM10 19h1v1h-1zM14 19h2v1h-2zM18 19h1v1h-1zM11 20h1v1h-1zM23 25h1v1h-1zM22 35h1v1h-1zM22 37h1v1h-1zM0 38h2v1h-2zM22 40h1v1h-1zM2 41h2v1h-2zM2 42h2v1h-2z" fill="#d5dce5"/><path d="M12 19h1v1h-1zM17 19h1v1h-1zM22 19h1v1h-1zM3 20h1v1h-1zM5 20h1v1h-1zM7 20h1v1h-1zM10 20h1v1h-1zM23 21h1v1h-1zM22 27h1v1h-1zM22 29h1v1h-1zM22 30h1v1h-1zM3 31h1v1h-1zM22 32h1v1h-1zM22 33h1v1h-1zM2 35h1v1h-1zM0 36h3v1h-3zM2 38h1v1h-1zM3 39h1v1h-1zM5 39h1v1h-1zM10 39h1v1h-1zM22 39h1v1h-1zM0 40h5v1h-5zM6 40h1v1h-1zM8 40h1v1h-1zM0 41h2v1h-2zM4 41h2v1h-2zM7 41h1v1h-1zM9 41h1v1h-1zM0 42h2v1h-2zM4 42h2v1h-2zM7 42h1v1h-1zM9 42h1v1h-1z" fill="#d6dce4"/><path d="M19 19h3v1h-3zM0 20h3v1h-3zM4 20h1v1h-1zM6 20h1v1h-1zM8 20h1v1h-1zM15 20h1v1h-1zM23 22h1v1h-1zM2 23h1v1h-1zM22 23h1v1h-1zM22 24h1v1h-1zM22 25h1v1h-1zM22 26h1v1h-1zM4 29h1v1h-1zM0 30h2v1h-2zM4 30h2v1h-2zM14 30h1v1h-1zM2 31h1v1h-1zM4 31h2v1h-2zM22 31h1v1h-1zM5 32h2v1h-2zM8 32h1v1h-1zM10 32h1v1h-1zM2 33h1v1h-1zM7 33h1v1h-1zM15 33h1v1h-1zM0 34h4v1h-4zM5 34h1v1h-1zM8 34h2v1h-2zM12 34h1v1h-1zM17 34h1v1h-1zM22 34h1v1h-1zM3 35h1v1h-1zM5 35h2v1h-2zM10 35h1v1h-1zM4 36h4v1h-4zM13 36h1v1h-1zM2 37h2v1h-2zM5 37h3v1h-3zM12 37h1v1h-1zM16 37h1v1h-1zM18 37h1v1h-1zM3 38h5v1h-5zM10 38h5v1h-5zM16 38h1v1h-1zM22 38h1v1h-1zM0 39h3v1h-3zM4 39h1v1h-1zM6 39h3v1h-3zM12 39h1v1h-1zM5 40h1v1h-1zM7 40h1v1h-1zM9 40h4v1h-4zM16 40h1v1h-1zM18 40h1v1h-1zM21 40h1v1h-1zM6 41h1v1h-1zM8 41h1v1h-1zM11 41h5v1h-5zM17 41h2v1h-2zM6 42h1v1h-1zM8 42h1v1h-1zM11 42h5v1h-5zM17 42h2v1h-2z" fill="#d7dce2"/><path d="M9 20h1v1h-1zM12 20h3v1h-3zM17 20h1v1h-1zM2 21h1v1h-1zM4 21h1v1h-1zM7 21h1v1h-1zM9 21h1v1h-1zM2 22h1v1h-1zM4 22h1v1h-1zM0 23h2v1h-2zM3 23h2v1h-2zM6 23h1v1h-1zM8 23h1v1h-1zM10 23h1v1h-1zM12 23h2v1h-2zM16 23h1v1h-1zM2 24h1v1h-1zM5 24h3v1h-3zM11 24h1v1h-1zM18 24h1v1h-1zM0 25h2v1h-2zM3 25h1v1h-1zM5 25h2v1h-2zM8 25h1v1h-1zM11 25h1v1h-1zM13 25h1v1h-1zM21 25h1v1h-1zM3 26h1v1h-1zM7 26h1v1h-1zM9 26h1v1h-1zM0 27h4v1h-4zM7 27h1v1h-1zM12 27h1v1h-1zM0 28h2v1h-2zM3 28h1v1h-1zM9 28h1v1h-1zM15 28h1v1h-1zM22 28h1v1h-1zM0 29h3v1h-3zM6 29h1v1h-1zM9 29h1v1h-1zM11 29h1v1h-1zM13 29h1v1h-1zM2 30h2v1h-2zM6 30h5v1h-5zM13 30h1v1h-1zM15 30h1v1h-1zM0 31h2v1h-2zM7 31h7v1h-7zM18 31h1v1h-1zM0 32h5v1h-5zM7 32h1v1h-1zM12 32h1v1h-1zM15 32h1v1h-1zM17 32h1v1h-1zM0 33h2v1h-2zM3 33h4v1h-4zM8 33h1v1h-1zM11 33h2v1h-2zM16 33h2v1h-2zM4 34h1v1h-1zM6 34h2v1h-2zM10 34h2v1h-2zM14 34h1v1h-1zM18 34h1v1h-1zM20 34h1v1h-1zM0 35h2v1h-2zM4 35h1v1h-1zM8 35h2v1h-2zM12 35h3v1h-3zM17 35h2v1h-2zM21 35h1v1h-1zM3 36h1v1h-1zM8 36h2v1h-2zM11 36h2v1h-2zM14 36h4v1h-4zM21 36h1v1h-1zM0 37h2v1h-2zM4 37h1v1h-1zM8 37h4v1h-4zM14 37h1v1h-1zM8 38h2v1h-2zM15 38h1v1h-1zM17 38h1v1h-1zM9 39h1v1h-1zM11 39h1v1h-1zM13 39h2v1h-2zM18 39h1v1h-1zM21 39h1v1h-1zM13 40h3v1h-3zM17 40h1v1h-1zM19 40h1v1h-1zM10 41h1v1h-1zM16 41h1v1h-1zM10 42h1v1h-1zM16 42h1v1h-1z" fill="#d9dce1"/><path d="M16 20h1v1h-1zM18 20h1v1h-1zM0 21h2v1h-2zM3 21h1v1h-1zM5 21h1v1h-1zM8 21h1v1h-1zM11 21h2v1h-2zM0 22h2v1h-2zM9 22h1v1h-1zM5 23h1v1h-1zM0 24h2v1h-2zM3 24h2v1h-2zM9 24h2v1h-2zM12 24h2v1h-2zM17 24h1v1h-1zM21 24h1v1h-1zM2 25h1v1h-1zM4 25h1v1h-1zM7 25h1v1h-1zM9 25h2v1h-2zM14 25h1v1h-1zM17 25h1v1h-1zM0 26h2v1h-2zM4 26h3v1h-3zM12 26h5v1h-5zM19 26h1v1h-1zM21 26h1v1h-1zM4 27h3v1h-3zM8 27h3v1h-3zM13 27h1v1h-1zM16 27h1v1h-1zM18 27h1v1h-1zM21 27h1v1h-1zM2 28h1v1h-1zM4 28h3v1h-3zM8 28h1v1h-1zM11 28h3v1h-3zM19 28h1v1h-1zM3 29h1v1h-1zM5 29h1v1h-1zM7 29h2v1h-2zM12 29h1v1h-1zM14 29h2v1h-2zM11 30h2v1h-2zM18 30h1v1h-1zM21 30h1v1h-1zM6 31h1v1h-1zM15 31h2v1h-2zM19 31h1v1h-1zM21 31h1v1h-1zM9 32h1v1h-1zM11 32h1v1h-1zM13 32h1v1h-1zM19 32h1v1h-1zM21 32h1v1h-1zM10 33h1v1h-1zM13 33h2v1h-2zM21 33h1v1h-1zM13 34h1v1h-1zM16 34h1v1h-1zM21 34h1v1h-1zM7 35h1v1h-1zM11 35h1v1h-1zM15 35h2v1h-2zM19 35h2v1h-2zM10 36h1v1h-1zM18 36h2v1h-2zM13 37h1v1h-1zM17 37h1v1h-1zM19 37h1v1h-1zM21 37h1v1h-1zM18 38h1v1h-1zM21 38h1v1h-1zM15 39h3v1h-3zM20 40h1v1h-1zM19 41h1v1h-1zM21 41h1v1h-1zM19 42h1v1h-1zM21 42h1v1h-1z" fill="#dadcdf"/><path d="M6 21h1v1h-1zM10 21h1v1h-1zM15 21h2v1h-2zM3 22h1v1h-1zM5 22h4v1h-4zM10 22h4v1h-4zM7 23h1v1h-1zM9 23h1v1h-1zM11 23h1v1h-1zM17 23h2v1h-2zM8 24h1v1h-1zM14 24h2v1h-2zM19 24h1v1h-1zM12 25h1v1h-1zM15 25h1v1h-1zM18 25h1v1h-1zM20 25h1v1h-1zM2 26h1v1h-1zM8 26h1v1h-1zM11 26h1v1h-1zM17 26h1v1h-1zM20 26h1v1h-1zM11 27h1v1h-1zM15 27h1v1h-1zM17 27h1v1h-1zM19 27h1v1h-1zM7 28h1v1h-1zM10 28h1v1h-1zM14 28h1v1h-1zM16 28h3v1h-3zM20 28h2v1h-2zM10 29h1v1h-1zM16 29h1v1h-1zM18 29h1v1h-1zM20 29h1v1h-1zM16 30h2v1h-2zM20 30h1v1h-1zM14 31h1v1h-1zM17 31h1v1h-1zM14 32h1v1h-1zM16 32h1v1h-1zM18 32h1v1h-1zM9 33h1v1h-1zM18 33h3v1h-3zM15 34h1v1h-1zM19 34h1v1h-1zM20 36h1v1h-1zM15 37h1v1h-1zM19 38h2v1h-2zM19 39h2v1h-2z" fill="#dcdcde"/><path d="M13 21h2v1h-2zM17 21h1v1h-1zM15 22h4v1h-4zM14 23h2v1h-2zM16 24h1v1h-1zM19 25h1v1h-1zM10 26h1v1h-1zM18 26h1v1h-1zM14 27h1v1h-1zM20 27h1v1h-1zM17 29h1v1h-1zM19 29h1v1h-1zM21 29h1v1h-1zM19 30h1v1h-1zM20 31h1v1h-1zM20 32h1v1h-1zM20 37h1v1h-1zM20 41h1v1h-1zM20 42h1v1h-1z" fill="#dddcdc"/><path d="M19 20h1v1h-1zM18 21h1v1h-1zM14 22h1v1h-1zM16 25h1v1h-1z" fill="#dedbda"/><path d="M19 23h1v1h-1zM20 24h1v1h-1z" fill="#dfdbd8"/><path d="M20 23h2v1h-2z" fill="#e2dad5"/><path d="M22 20h1v1h-1zM19 22h1v1h-1z" fill="#e4d8d1"/><path d="M19 21h1v1h-1z" fill="#e5d7d0"/><path d="M22 22h1v1h-1z" fill="#e9d5cb"/><path d="M20 20h1v1h-1z" fill="#ebd3c7"/><path d="M20 22h1v1h-1z" fill="#efcebe"/><path d="M21 20h1v1h-1z" fill="#f0ccba"/><path d="M22 21h1v1h-1z" fill="#f2c8b4"/><path d="M21 22h1v1h-1z" fill="#f2c4ae"/><path d="M20 21h1v1h-1z" fill="#f4bfa7"/><path d="M21 21h1v1h-1z" fill="#f4ac90"/></g></g>
<rect x="1027.2" y="1054.8" width="236.2" height="236.2" fill="none" stroke="#000" stroke-width="1.7"/>
<g clip-path="url(#hc6)"><g transform="translate(1268.84 1049.04) scale(5.76098)" filter="url(#hb14)"><rect width="43" height="43" fill="#d9dce1"/><path d="M38 0h1v1h-1zM38 1h1v1h-1zM34 2h1v1h-1zM39 2h1v1h-1z" fill="#bed1ec"/><path d="M39 0h1v1h-1zM39 1h1v1h-1zM40 3h1v1h-1zM41 5h2v1h-2zM40 7h1v1h-1z" fill="#c0d2ec"/><path d="M34 0h1v1h-1zM36 0h1v1h-1zM34 1h1v1h-1zM36 1h1v1h-1zM40 2h1v1h-1zM36 3h1v1h-1zM36 4h1v1h-1zM38 4h1v1h-1zM41 4h2v1h-2zM36 5h1v1h-1zM32 6h1v1h-1zM40 6h3v1h-3zM38 7h1v1h-1zM39 8h1v1h-1zM40 13h1v1h-1z" fill="#c2d3ec"/><path d="M31 0h1v1h-1zM37 0h1v1h-1zM40 0h3v1h-3zM31 1h1v1h-1zM37 1h1v1h-1zM40 1h3v1h-3zM36 2h3v1h-3zM41 2h2v1h-2zM29 3h1v1h-1zM35 3h1v1h-1zM33 4h1v1h-1zM33 5h1v1h-1zM34 6h1v1h-1zM36 6h2v1h-2zM41 7h2v1h-2zM36 8h1v1h-1zM38 8h1v1h-1zM38 9h1v1h-1zM40 9h3v1h-3zM38 10h1v1h-1zM33 11h1v1h-1zM35 11h1v1h-1zM38 11h3v1h-3zM37 12h1v1h-1zM35 13h1v1h-1zM36 14h1v1h-1zM40 15h1v1h-1z" fill="#c4d4ec"/><path d="M27 0h1v1h-1zM29 0h2v1h-2zM33 0h1v1h-1zM35 0h1v1h-1zM27 1h1v1h-1zM29 1h2v1h-2zM33 1h1v1h-1zM35 1h1v1h-1zM29 2h1v1h-1zM32 2h1v1h-1zM35 2h1v1h-1zM31 3h1v1h-1zM33 3h2v1h-2zM38 3h2v1h-2zM41 3h2v1h-2zM30 4h1v1h-1zM35 4h1v1h-1zM37 4h1v1h-1zM39 4h2v1h-2zM26 5h1v1h-1zM30 5h1v1h-1zM34 5h2v1h-2zM37 5h4v1h-4zM38 6h2v1h-2zM29 7h1v1h-1zM32 7h1v1h-1zM34 7h2v1h-2zM41 8h2v1h-2zM32 9h1v1h-1zM35 9h1v1h-1zM39 9h1v1h-1zM32 10h1v1h-1zM36 10h1v1h-1zM39 10h4v1h-4zM41 11h2v1h-2zM32 12h1v1h-1zM34 12h3v1h-3zM40 12h1v1h-1zM34 13h1v1h-1zM38 13h1v1h-1zM41 13h2v1h-2zM34 14h2v1h-2zM41 14h2v1h-2zM35 15h1v1h-1zM32 16h1v1h-1zM39 16h1v1h-1z" fill="#c6d6ed"/><path d="M24 0h3v1h-3zM28 0h1v1h-1zM24 1h3v1h-3zM28 1h1v1h-1zM4 2h1v1h-1zM26 2h1v1h-1zM28 2h1v1h-1zM30 2h1v1h-1zM27 3h2v1h-2zM30 3h1v1h-1zM37 3h1v1h-1zM0 4h2v1h-2zM24 4h2v1h-2zM28 4h2v1h-2zM31 4h2v1h-2zM25 5h1v1h-1zM27 5h1v1h-1zM29 5h1v1h-1zM31 5h2v1h-2zM26 6h1v1h-1zM29 6h1v1h-1zM33 6h1v1h-1zM35 6h1v1h-1zM26 7h1v1h-1zM31 7h1v1h-1zM33 7h1v1h-1zM36 7h1v1h-1zM31 8h5v1h-5zM40 8h1v1h-1zM28 9h1v1h-1zM30 9h1v1h-1zM36 9h2v1h-2zM28 10h1v1h-1zM33 10h3v1h-3zM37 10h1v1h-1zM28 11h2v1h-2zM34 11h1v1h-1zM36 11h2v1h-2zM31 12h1v1h-1zM39 12h1v1h-1zM41 12h2v1h-2zM29 13h1v1h-1zM33 13h1v1h-1zM36 13h2v1h-2zM39 13h1v1h-1zM37 14h2v1h-2zM40 14h1v1h-1zM33 15h2v1h-2zM38 15h2v1h-2zM38 16h1v1h-1zM41 16h2v1h-2zM37 17h1v1h-1zM40 17h3v1h-3zM37 18h1v1h-1z" fill="#c8d7ed"/><path d="M0 0h3v1h-3zM5 0h1v1h-1zM14 0h2v1h-2zM32 0h1v1h-1zM0 1h3v1h-3zM5 1h1v1h-1zM14 1h2v1h-2zM32 1h1v1h-1zM0 2h4v1h-4zM5 2h2v1h-2zM9 2h1v1h-1zM27 2h1v1h-1zM31 2h1v1h-1zM33 2h1v1h-1zM2 3h3v1h-3zM26 3h1v1h-1zM4 4h2v1h-2zM8 4h1v1h-1zM26 4h2v1h-2zM34 4h1v1h-1zM28 5h1v1h-1zM0 6h2v1h-2zM24 6h1v1h-1zM27 6h2v1h-2zM31 6h1v1h-1zM0 7h3v1h-3zM5 7h1v1h-1zM17 7h1v1h-1zM28 7h1v1h-1zM30 7h1v1h-1zM37 7h1v1h-1zM39 7h1v1h-1zM29 8h2v1h-2zM37 8h1v1h-1zM27 9h1v1h-1zM29 9h1v1h-1zM31 9h1v1h-1zM33 9h2v1h-2zM0 10h2v1h-2zM27 10h1v1h-1zM30 10h1v1h-1zM2 11h2v1h-2zM30 11h3v1h-3zM30 12h1v1h-1zM33 12h1v1h-1zM38 12h1v1h-1zM31 13h1v1h-1zM31 14h1v1h-1zM33 14h1v1h-1zM39 14h1v1h-1zM2 15h1v1h-1zM37 15h1v1h-1zM33 16h2v1h-2zM35 17h1v1h-1zM38 17h2v1h-2zM35 18h1v1h-1zM39 18h2v1h-2zM38 19h2v1h-2z" fill="#cad8ed"/><path d="M3 0h1v1h-1zM6 0h1v1h-1zM9 0h1v1h-1zM11 0h2v1h-2zM17 0h1v1h-1zM3 1h1v1h-1zM6 1h1v1h-1zM9 1h1v1h-1zM11 1h2v1h-2zM17 1h1v1h-1zM8 2h1v1h-1zM11 2h2v1h-2zM23 2h3v1h-3zM0 3h2v1h-2zM6 3h2v1h-2zM11 3h1v1h-1zM14 3h1v1h-1zM24 3h1v1h-1zM32 3h1v1h-1zM2 4h1v1h-1zM6 4h2v1h-2zM10 4h1v1h-1zM12 4h1v1h-1zM0 5h4v1h-4zM5 5h4v1h-4zM24 5h1v1h-1zM2 6h3v1h-3zM17 6h1v1h-1zM25 6h1v1h-1zM30 6h1v1h-1zM4 7h1v1h-1zM9 7h1v1h-1zM27 7h1v1h-1zM0 8h7v1h-7zM9 8h1v1h-1zM24 8h1v1h-1zM26 8h3v1h-3zM0 9h5v1h-5zM6 9h1v1h-1zM26 9h1v1h-1zM2 10h1v1h-1zM7 10h1v1h-1zM24 10h1v1h-1zM31 10h1v1h-1zM6 11h1v1h-1zM26 11h1v1h-1zM2 12h1v1h-1zM4 12h2v1h-2zM7 12h1v1h-1zM0 13h3v1h-3zM5 13h1v1h-1zM8 13h1v1h-1zM26 13h1v1h-1zM30 13h1v1h-1zM32 13h1v1h-1zM0 14h3v1h-3zM4 14h1v1h-1zM32 14h1v1h-1zM5 15h1v1h-1zM28 15h1v1h-1zM31 15h1v1h-1zM36 15h1v1h-1zM41 15h2v1h-2zM29 16h3v1h-3zM35 16h1v1h-1zM37 16h1v1h-1zM40 16h1v1h-1zM32 17h1v1h-1zM34 17h1v1h-1zM36 17h1v1h-1zM33 18h2v1h-2zM36 18h1v1h-1zM38 18h1v1h-1zM41 18h2v1h-2zM40 19h3v1h-3zM37 20h1v1h-1zM35 24h1v1h-1zM37 26h1v1h-1zM36 27h1v1h-1z" fill="#ccd9ed"/><path d="M4 0h1v1h-1zM7 0h2v1h-2zM10 0h1v1h-1zM13 0h1v1h-1zM16 0h1v1h-1zM23 0h1v1h-1zM4 1h1v1h-1zM7 1h2v1h-2zM10 1h1v1h-1zM13 1h1v1h-1zM16 1h1v1h-1zM23 1h1v1h-1zM7 2h1v1h-1zM10 2h1v1h-1zM16 2h2v1h-2zM5 3h1v1h-1zM8 3h3v1h-3zM12 3h2v1h-2zM19 3h1v1h-1zM23 3h1v1h-1zM25 3h1v1h-1zM3 4h1v1h-1zM9 4h1v1h-1zM11 4h1v1h-1zM14 4h2v1h-2zM17 4h1v1h-1zM4 5h1v1h-1zM9 5h3v1h-3zM13 5h1v1h-1zM15 5h1v1h-1zM18 5h1v1h-1zM6 6h5v1h-5zM12 6h3v1h-3zM23 6h1v1h-1zM3 7h1v1h-1zM6 7h1v1h-1zM10 7h1v1h-1zM12 7h1v1h-1zM15 7h1v1h-1zM24 7h2v1h-2zM7 8h2v1h-2zM14 8h1v1h-1zM25 8h1v1h-1zM5 9h1v1h-1zM8 9h3v1h-3zM12 9h2v1h-2zM25 9h1v1h-1zM3 10h3v1h-3zM9 10h1v1h-1zM11 10h2v1h-2zM14 10h1v1h-1zM26 10h1v1h-1zM29 10h1v1h-1zM0 11h2v1h-2zM4 11h2v1h-2zM8 11h1v1h-1zM0 12h2v1h-2zM3 12h1v1h-1zM6 12h1v1h-1zM8 12h2v1h-2zM25 12h3v1h-3zM29 12h1v1h-1zM4 13h1v1h-1zM6 13h2v1h-2zM11 13h1v1h-1zM27 13h2v1h-2zM3 14h1v1h-1zM5 14h1v1h-1zM7 14h1v1h-1zM9 14h1v1h-1zM12 14h1v1h-1zM27 14h2v1h-2zM30 14h1v1h-1zM0 15h2v1h-2zM3 15h1v1h-1zM32 15h1v1h-1zM0 16h3v1h-3zM6 16h1v1h-1zM36 16h1v1h-1zM29 17h1v1h-1zM31 17h1v1h-1zM33 17h1v1h-1zM32 18h1v1h-1zM34 19h1v1h-1zM37 19h1v1h-1zM40 20h1v1h-1zM39 23h1v1h-1zM36 24h1v1h-1zM40 24h3v1h-3zM39 26h1v1h-1zM41 26h2v1h-2zM40 27h1v1h-1zM40 28h3v1h-3zM36 29h1v1h-1zM39 29h1v1h-1zM35 33h1v1h-1zM37 33h1v1h-1zM39 33h2v1h-2zM40 36h1v1h-1zM38 37h1v1h-1zM41 38h2v1h-2zM34 39h1v1h-1zM37 39h1v1h-1zM41 40h2v1h-2z" fill="#cdd9ec"/><path d="M18 0h3v1h-3zM18 1h3v1h-3zM13 2h3v1h-3zM18 2h1v1h-1zM22 2h1v1h-1zM15 3h4v1h-4zM16 4h1v1h-1zM18 4h1v1h-1zM23 4h1v1h-1zM12 5h1v1h-1zM17 5h1v1h-1zM19 5h1v1h-1zM23 5h1v1h-1zM11 6h1v1h-1zM15 6h1v1h-1zM19 6h1v1h-1zM7 7h2v1h-2zM11 7h1v1h-1zM13 7h2v1h-2zM16 7h1v1h-1zM18 7h1v1h-1zM23 7h1v1h-1zM10 8h4v1h-4zM15 8h1v1h-1zM23 8h1v1h-1zM7 9h1v1h-1zM11 9h1v1h-1zM14 9h1v1h-1zM16 9h2v1h-2zM24 9h1v1h-1zM6 10h1v1h-1zM8 10h1v1h-1zM13 10h1v1h-1zM15 10h2v1h-2zM25 10h1v1h-1zM7 11h1v1h-1zM9 11h2v1h-2zM13 11h1v1h-1zM17 11h1v1h-1zM24 11h2v1h-2zM27 11h1v1h-1zM11 12h2v1h-2zM3 13h1v1h-1zM9 13h1v1h-1zM13 13h1v1h-1zM25 13h1v1h-1zM6 14h1v1h-1zM8 14h1v1h-1zM13 14h1v1h-1zM25 14h2v1h-2zM29 14h1v1h-1zM4 15h1v1h-1zM6 15h3v1h-3zM29 15h2v1h-2zM3 16h3v1h-3zM7 16h1v1h-1zM28 16h1v1h-1zM0 17h7v1h-7zM8 17h1v1h-1zM30 17h1v1h-1zM0 18h2v1h-2zM29 18h3v1h-3zM31 19h1v1h-1zM33 19h1v1h-1zM35 19h2v1h-2zM38 20h2v1h-2zM41 20h2v1h-2zM37 21h1v1h-1zM39 21h1v1h-1zM41 21h2v1h-2zM39 22h1v1h-1zM41 22h2v1h-2zM32 23h1v1h-1zM35 23h1v1h-1zM38 23h1v1h-1zM41 23h2v1h-2zM33 24h1v1h-1zM39 24h1v1h-1zM38 25h2v1h-2zM40 26h1v1h-1zM32 27h1v1h-1zM38 27h1v1h-1zM38 28h2v1h-2zM37 29h1v1h-1zM40 29h1v1h-1zM39 30h1v1h-1zM34 31h1v1h-1zM36 31h1v1h-1zM38 31h2v1h-2zM35 32h1v1h-1zM40 32h1v1h-1zM34 33h1v1h-1zM38 33h1v1h-1zM37 34h1v1h-1zM39 34h1v1h-1zM41 34h2v1h-2zM32 35h1v1h-1zM34 35h1v1h-1zM36 35h1v1h-1zM40 35h3v1h-3zM34 36h1v1h-1zM37 36h3v1h-3zM35 37h3v1h-3zM39 37h2v1h-2zM36 38h3v1h-3zM33 39h1v1h-1zM38 39h1v1h-1zM41 39h2v1h-2zM33 40h2v1h-2zM36 40h3v1h-3zM34 41h1v1h-1zM36 41h1v1h-1zM40 41h3v1h-3zM34 42h1v1h-1zM36 42h1v1h-1zM40 42h3v1h-3z" fill="#cfdaea"/><path d="M22 0h1v1h-1zM22 1h1v1h-1zM22 3h1v1h-1zM13 4h1v1h-1zM20 4h1v1h-1zM14 5h1v1h-1zM5 6h1v1h-1zM18 6h1v1h-1zM19 7h1v1h-1zM22 7h1v1h-1zM16 8h3v1h-3zM15 9h1v1h-1zM18 9h2v1h-2zM23 9h1v1h-1zM10 10h1v1h-1zM17 10h1v1h-1zM23 10h1v1h-1zM14 11h2v1h-2zM23 11h1v1h-1zM10 12h1v1h-1zM13 12h3v1h-3zM28 12h1v1h-1zM10 13h1v1h-1zM12 13h1v1h-1zM14 13h3v1h-3zM10 14h1v1h-1zM24 14h1v1h-1zM9 15h1v1h-1zM11 15h4v1h-4zM24 15h4v1h-4zM9 16h1v1h-1zM11 16h2v1h-2zM25 16h2v1h-2zM7 17h1v1h-1zM9 17h2v1h-2zM13 17h1v1h-1zM26 17h3v1h-3zM2 18h3v1h-3zM6 18h3v1h-3zM3 19h1v1h-1zM31 20h3v1h-3zM35 20h2v1h-2zM33 21h1v1h-1zM36 21h1v1h-1zM38 21h1v1h-1zM40 21h1v1h-1zM36 22h2v1h-2zM40 22h1v1h-1zM31 23h1v1h-1zM34 23h1v1h-1zM36 23h2v1h-2zM40 23h1v1h-1zM32 24h1v1h-1zM34 24h1v1h-1zM37 24h2v1h-2zM33 25h5v1h-5zM41 25h2v1h-2zM35 26h2v1h-2zM38 26h1v1h-1zM39 27h1v1h-1zM41 27h2v1h-2zM31 28h1v1h-1zM34 28h1v1h-1zM36 28h2v1h-2zM29 29h1v1h-1zM31 29h2v1h-2zM38 29h1v1h-1zM41 29h2v1h-2zM30 30h1v1h-1zM32 30h1v1h-1zM35 30h4v1h-4zM40 30h1v1h-1zM29 31h1v1h-1zM32 31h1v1h-1zM35 31h1v1h-1zM37 31h1v1h-1zM40 31h3v1h-3zM30 32h1v1h-1zM32 32h3v1h-3zM36 32h4v1h-4zM41 32h2v1h-2zM36 33h1v1h-1zM41 33h2v1h-2zM29 34h1v1h-1zM31 34h1v1h-1zM33 34h1v1h-1zM36 34h1v1h-1zM38 34h1v1h-1zM29 35h3v1h-3zM35 35h1v1h-1zM37 35h3v1h-3zM27 36h1v1h-1zM29 36h2v1h-2zM33 36h1v1h-1zM35 36h1v1h-1zM41 36h2v1h-2zM27 37h1v1h-1zM29 37h2v1h-2zM33 37h1v1h-1zM41 37h2v1h-2zM27 38h2v1h-2zM30 38h2v1h-2zM34 38h2v1h-2zM39 38h2v1h-2zM29 39h4v1h-4zM35 39h2v1h-2zM39 39h1v1h-1zM28 40h1v1h-1zM30 40h1v1h-1zM32 40h1v1h-1zM35 40h1v1h-1zM39 40h1v1h-1zM27 41h2v1h-2zM30 41h4v1h-4zM37 41h3v1h-3zM27 42h2v1h-2zM30 42h4v1h-4zM37 42h3v1h-3z" fill="#d0dae9"/><path d="M19 2h3v1h-3zM20 3h2v1h-2zM19 4h1v1h-1zM22 4h1v1h-1zM16 5h1v1h-1zM22 5h1v1h-1zM16 6h1v1h-1zM20 6h1v1h-1zM22 6h1v1h-1zM20 7h1v1h-1zM19 8h1v1h-1zM20 9h1v1h-1zM18 10h1v1h-1zM22 10h1v1h-1zM11 11h2v1h-2zM16 11h1v1h-1zM18 11h1v1h-1zM22 11h1v1h-1zM16 12h3v1h-3zM24 12h1v1h-1zM17 13h2v1h-2zM23 13h2v1h-2zM11 14h1v1h-1zM14 14h2v1h-2zM17 14h1v1h-1zM10 15h1v1h-1zM16 15h1v1h-1zM8 16h1v1h-1zM10 16h1v1h-1zM13 16h1v1h-1zM16 16h1v1h-1zM24 16h1v1h-1zM27 16h1v1h-1zM11 17h1v1h-1zM5 18h1v1h-1zM10 18h1v1h-1zM12 18h1v1h-1zM26 18h1v1h-1zM28 18h1v1h-1zM4 19h2v1h-2zM28 19h2v1h-2zM32 19h1v1h-1zM34 20h1v1h-1zM31 21h2v1h-2zM35 22h1v1h-1zM38 22h1v1h-1zM33 23h1v1h-1zM31 24h1v1h-1zM30 25h1v1h-1zM32 25h1v1h-1zM40 25h1v1h-1zM30 26h5v1h-5zM30 27h2v1h-2zM33 27h3v1h-3zM32 28h2v1h-2zM35 28h1v1h-1zM27 29h2v1h-2zM30 29h1v1h-1zM33 29h3v1h-3zM28 30h2v1h-2zM33 30h2v1h-2zM41 30h2v1h-2zM26 31h1v1h-1zM30 31h2v1h-2zM33 31h1v1h-1zM27 32h3v1h-3zM31 32h1v1h-1zM25 33h9v1h-9zM26 34h1v1h-1zM28 34h1v1h-1zM32 34h1v1h-1zM34 34h2v1h-2zM40 34h1v1h-1zM26 35h2v1h-2zM26 36h1v1h-1zM28 36h1v1h-1zM31 36h2v1h-2zM36 36h1v1h-1zM26 37h1v1h-1zM28 37h1v1h-1zM31 37h2v1h-2zM34 37h1v1h-1zM29 38h1v1h-1zM32 38h2v1h-2zM25 39h4v1h-4zM40 39h1v1h-1zM25 40h1v1h-1zM27 40h1v1h-1zM29 40h1v1h-1zM31 40h1v1h-1zM40 40h1v1h-1zM26 41h1v1h-1zM29 41h1v1h-1zM35 41h1v1h-1zM26 42h1v1h-1zM29 42h1v1h-1zM35 42h1v1h-1z" fill="#d2dbe8"/><path d="M21 4h1v1h-1zM20 5h2v1h-2zM21 8h2v1h-2zM21 9h2v1h-2zM20 11h1v1h-1zM19 12h1v1h-1zM21 12h3v1h-3zM16 14h1v1h-1zM18 14h1v1h-1zM23 14h1v1h-1zM15 15h1v1h-1zM14 16h1v1h-1zM12 17h1v1h-1zM16 17h1v1h-1zM9 18h1v1h-1zM25 18h1v1h-1zM27 18h1v1h-1zM0 19h3v1h-3zM6 19h1v1h-1zM8 19h1v1h-1zM30 19h1v1h-1zM29 20h1v1h-1zM30 21h1v1h-1zM34 21h2v1h-2zM31 22h4v1h-4zM29 23h1v1h-1zM27 24h1v1h-1zM29 24h2v1h-2zM29 26h1v1h-1zM28 27h2v1h-2zM37 27h1v1h-1zM28 28h3v1h-3zM26 29h1v1h-1zM26 30h1v1h-1zM31 30h1v1h-1zM28 31h1v1h-1zM25 32h2v1h-2zM24 34h2v1h-2zM27 34h1v1h-1zM30 34h1v1h-1zM28 35h1v1h-1zM33 35h1v1h-1zM25 36h1v1h-1zM25 37h1v1h-1zM23 38h4v1h-4zM26 40h1v1h-1zM24 41h2v1h-2zM24 42h2v1h-2z" fill="#d3dbe7"/><path d="M21 0h1v1h-1zM21 1h1v1h-1zM21 6h1v1h-1zM20 8h1v1h-1zM19 10h1v1h-1zM21 10h1v1h-1zM19 11h1v1h-1zM21 11h1v1h-1zM19 13h1v1h-1zM22 13h1v1h-1zM19 14h1v1h-1zM17 15h2v1h-2zM23 15h1v1h-1zM15 16h1v1h-1zM14 17h1v1h-1zM25 17h1v1h-1zM11 18h1v1h-1zM7 19h1v1h-1zM9 19h4v1h-4zM26 19h1v1h-1zM3 20h1v1h-1zM28 20h1v1h-1zM30 20h1v1h-1zM29 21h1v1h-1zM30 22h1v1h-1zM28 23h1v1h-1zM28 24h1v1h-1zM28 25h1v1h-1zM31 25h1v1h-1zM26 26h3v1h-3zM26 27h2v1h-2zM27 28h1v1h-1zM25 29h1v1h-1zM24 30h2v1h-2zM27 30h1v1h-1zM25 31h1v1h-1zM27 31h1v1h-1zM24 32h1v1h-1zM24 33h1v1h-1zM24 35h2v1h-2zM24 36h1v1h-1zM24 37h1v1h-1zM24 39h1v1h-1zM23 40h2v1h-2zM23 41h1v1h-1zM23 42h1v1h-1z" fill="#d5dce5"/><path d="M21 7h1v1h-1zM20 10h1v1h-1zM20 12h1v1h-1zM20 13h1v1h-1zM18 16h1v1h-1zM23 16h1v1h-1zM15 17h1v1h-1zM17 17h1v1h-1zM24 17h1v1h-1zM13 18h3v1h-3zM13 19h2v1h-2zM27 19h1v1h-1zM0 20h3v1h-3zM4 20h1v1h-1zM27 20h1v1h-1zM28 22h2v1h-2zM30 23h1v1h-1zM26 24h1v1h-1zM26 25h2v1h-2zM29 25h1v1h-1zM25 27h1v1h-1zM25 28h2v1h-2zM24 29h1v1h-1zM23 31h2v1h-2zM23 39h1v1h-1z" fill="#d6dce4"/><path d="M21 13h1v1h-1zM22 14h1v1h-1zM19 15h1v1h-1zM22 15h1v1h-1zM17 16h1v1h-1zM19 16h1v1h-1zM18 17h2v1h-2zM16 18h1v1h-1zM24 18h1v1h-1zM15 19h1v1h-1zM5 20h7v1h-7zM26 20h1v1h-1zM0 21h2v1h-2zM27 21h1v1h-1zM0 22h2v1h-2zM27 22h1v1h-1zM5 23h1v1h-1zM26 23h2v1h-2zM0 24h2v1h-2zM3 24h3v1h-3zM2 25h1v1h-1zM8 25h1v1h-1zM7 26h1v1h-1zM24 27h1v1h-1zM24 28h1v1h-1zM4 29h1v1h-1zM23 30h1v1h-1zM2 31h1v1h-1zM2 32h1v1h-1zM4 33h1v1h-1zM23 33h1v1h-1zM3 34h1v1h-1zM6 34h1v1h-1zM23 34h1v1h-1zM0 35h2v1h-2zM3 35h2v1h-2zM23 35h1v1h-1zM2 36h1v1h-1zM9 36h1v1h-1zM23 36h1v1h-1zM0 37h2v1h-2zM3 37h2v1h-2zM12 37h1v1h-1zM23 37h1v1h-1zM2 38h1v1h-1zM7 38h1v1h-1zM2 39h4v1h-4zM11 39h1v1h-1zM0 40h3v1h-3zM4 40h4v1h-4zM13 40h1v1h-1zM0 41h2v1h-2zM3 41h3v1h-3zM0 42h2v1h-2zM3 42h3v1h-3z" fill="#d7dce2"/><path d="M22 16h1v1h-1zM17 19h1v1h-1zM25 19h1v1h-1zM13 20h1v1h-1zM15 20h1v1h-1zM3 21h1v1h-1zM6 21h2v1h-2zM10 21h1v1h-1zM12 21h1v1h-1zM25 21h1v1h-1zM2 22h2v1h-2zM7 22h2v1h-2zM10 22h3v1h-3zM8 23h1v1h-1zM10 23h2v1h-2zM24 23h1v1h-1zM2 24h1v1h-1zM12 24h1v1h-1zM25 24h1v1h-1zM3 25h1v1h-1zM12 25h1v1h-1zM24 25h1v1h-1zM4 26h1v1h-1zM8 26h2v1h-2zM13 26h1v1h-1zM23 26h2v1h-2zM2 27h1v1h-1zM4 27h1v1h-1zM6 27h2v1h-2zM9 27h2v1h-2zM12 27h1v1h-1zM23 27h1v1h-1zM3 28h1v1h-1zM5 28h5v1h-5zM11 28h2v1h-2zM23 28h1v1h-1zM0 29h2v1h-2zM7 29h2v1h-2zM11 29h2v1h-2zM15 29h2v1h-2zM23 29h1v1h-1zM7 30h1v1h-1zM9 30h6v1h-6zM16 30h1v1h-1zM18 30h1v1h-1zM4 31h1v1h-1zM6 31h2v1h-2zM9 31h2v1h-2zM12 31h1v1h-1zM15 31h1v1h-1zM17 31h2v1h-2zM4 32h1v1h-1zM6 32h1v1h-1zM10 32h1v1h-1zM12 32h2v1h-2zM17 32h1v1h-1zM19 32h1v1h-1zM10 33h1v1h-1zM12 33h2v1h-2zM16 33h1v1h-1zM18 33h1v1h-1zM9 34h1v1h-1zM12 34h1v1h-1zM14 34h1v1h-1zM18 34h1v1h-1zM9 35h3v1h-3zM14 35h1v1h-1zM16 35h3v1h-3zM13 36h4v1h-4zM18 36h1v1h-1zM7 37h1v1h-1zM10 37h1v1h-1zM14 37h1v1h-1zM18 37h1v1h-1zM10 38h2v1h-2zM16 38h1v1h-1zM13 39h1v1h-1zM15 39h1v1h-1zM17 39h2v1h-2zM22 39h1v1h-1zM9 40h1v1h-1zM14 40h1v1h-1zM18 40h2v1h-2zM22 40h1v1h-1zM10 41h1v1h-1zM15 41h1v1h-1zM18 41h2v1h-2zM22 41h1v1h-1zM10 42h1v1h-1zM15 42h1v1h-1zM18 42h2v1h-2zM22 42h1v1h-1z" fill="#dadcdf"/><path d="M21 15h1v1h-1zM20 17h2v1h-2zM16 19h1v1h-1zM23 19h1v1h-1zM14 20h1v1h-1zM16 20h1v1h-1zM24 20h1v1h-1zM13 21h2v1h-2zM9 22h1v1h-1zM13 22h1v1h-1zM12 23h2v1h-2zM11 24h1v1h-1zM13 24h2v1h-2zM14 25h2v1h-2zM11 26h1v1h-1zM14 26h1v1h-1zM13 27h4v1h-4zM10 28h1v1h-1zM13 28h2v1h-2zM17 28h1v1h-1zM10 29h1v1h-1zM15 30h1v1h-1zM17 30h1v1h-1zM19 30h1v1h-1zM22 30h1v1h-1zM19 31h1v1h-1zM22 32h1v1h-1zM20 34h2v1h-2zM19 35h1v1h-1zM22 35h1v1h-1zM17 36h1v1h-1zM21 36h2v1h-2zM16 37h1v1h-1zM19 37h1v1h-1zM22 37h1v1h-1zM17 40h1v1h-1zM20 40h1v1h-1z" fill="#dcdcde"/><path d="M22 17h1v1h-1zM19 18h1v1h-1zM22 18h1v1h-1zM24 21h1v1h-1zM14 22h1v1h-1zM24 22h2v1h-2zM14 23h2v1h-2zM15 24h1v1h-1zM13 25h1v1h-1zM16 25h1v1h-1zM15 26h1v1h-1zM17 26h1v1h-1zM17 27h1v1h-1zM15 28h2v1h-2zM19 28h1v1h-1zM14 29h1v1h-1zM17 29h1v1h-1zM20 30h1v1h-1zM20 31h1v1h-1zM22 31h1v1h-1zM19 33h1v1h-1zM22 33h1v1h-1zM19 34h1v1h-1zM22 34h1v1h-1zM21 35h1v1h-1zM19 36h2v1h-2zM20 38h2v1h-2zM20 39h2v1h-2zM20 41h1v1h-1zM20 42h1v1h-1z" fill="#dddcdc"/><path d="M20 18h1v1h-1zM15 21h1v1h-1zM16 22h1v1h-1zM16 23h2v1h-2zM16 24h2v1h-2zM17 25h1v1h-1zM23 25h1v1h-1zM16 26h1v1h-1zM18 26h1v1h-1zM18 28h1v1h-1zM22 28h1v1h-1zM18 29h2v1h-2zM22 29h1v1h-1zM21 31h1v1h-1zM20 32h1v1h-1zM20 33h2v1h-2zM20 35h1v1h-1zM20 37h2v1h-2zM21 40h1v1h-1zM21 41h1v1h-1zM21 42h1v1h-1z" fill="#dedbda"/><path d="M21 18h1v1h-1zM18 19h2v1h-2zM17 20h2v1h-2zM16 21h1v1h-1zM15 22h1v1h-1zM17 22h1v1h-1zM18 23h1v1h-1zM18 24h1v1h-1zM23 24h1v1h-1zM18 25h2v1h-2zM19 26h1v1h-1zM18 27h2v1h-2zM22 27h1v1h-1zM21 28h1v1h-1zM20 29h1v1h-1z" fill="#dfdbd8"/><path d="M17 21h2v1h-2zM18 22h1v1h-1zM23 23h1v1h-1zM22 25h1v1h-1zM20 26h1v1h-1zM22 26h1v1h-1zM20 27h1v1h-1zM20 28h1v1h-1zM21 29h1v1h-1zM21 30h1v1h-1zM21 32h1v1h-1z" fill="#e1dad7"/><path d="M23 20h1v1h-1zM19 24h1v1h-1zM22 24h1v1h-1zM20 25h1v1h-1zM21 27h1v1h-1z" fill="#e2dad5"/><path d="M19 23h1v1h-1zM20 24h1v1h-1zM21 25h1v1h-1zM21 26h1v1h-1z" fill="#e3d9d3"/><path d="M20 19h1v1h-1zM22 19h1v1h-1zM23 22h1v1h-1zM21 24h1v1h-1z" fill="#e4d8d1"/><path d="M19 20h1v1h-1zM23 21h1v1h-1zM22 23h1v1h-1z" fill="#e5d7d0"/><path d="M21 19h1v1h-1zM20 23h1v1h-1z" fill="#e7d7ce"/><path d="M19 22h1v1h-1z" fill="#e8d6cd"/><path d="M19 21h1v1h-1zM21 23h1v1h-1z" fill="#ebd3c7"/><path d="M22 20h1v1h-1z" fill="#f1cbb8"/><path d="M20 20h1v1h-1zM22 22h1v1h-1z" fill="#f1cab6"/><path d="M20 22h1v1h-1z" fill="#f2c4ae"/><path d="M21 20h1v1h-1z" fill="#f4bba1"/><path d="M22 21h1v1h-1z" fill="#f4b99f"/><path d="M20 21h1v1h-1zM21 22h1v1h-1z" fill="#f4b89d"/><path d="M21 21h1v1h-1z" fill="#f0987b"/></g></g>
<rect x="1274.6" y="1054.8" width="236.2" height="236.2" fill="none" stroke="#000" stroke-width="1.7"/>
<text x="898.3" y="770.8" font-size="25" text-anchor="middle">non-sig.</text>
<text x="898.3" y="794.9" font-size="25" text-anchor="middle">n=250260</text>
<text x="1144.9" y="770.8" font-size="25" text-anchor="middle">non-sig. (decreased NN)</text>
<text x="1144.9" y="794.9" font-size="25" text-anchor="middle">n=9538</text>
<text x="1392.1" y="770.8" font-size="25" text-anchor="middle">decreased</text>
<text x="1392.1" y="794.9" font-size="25" text-anchor="middle">n=9437</text>
<text x="771" y="919.5" font-size="25.4" text-anchor="middle" transform="rotate(-90 771 919.5)">DMSO 90min</text>
<text x="771" y="1172.5" font-size="25.4" text-anchor="middle" transform="rotate(-90 771 1172.5)">dTAG 90min</text>
<line x1="783.4" y1="1290.4" x2="783.4" y2="1300.3" stroke="#000" stroke-width="1.4"/>
<line x1="898.6" y1="1290.4" x2="898.6" y2="1300.3" stroke="#000" stroke-width="1.4"/>
<line x1="1013.9" y1="1290.4" x2="1013.9" y2="1300.3" stroke="#000" stroke-width="1.4"/>
<text x="783.9" y="1317.6" font-size="18.75" text-anchor="middle">-100kb</text>
<text x="1013.9" y="1317.6" font-size="18.75" text-anchor="middle">100kb</text>
<text x="898.8" y="1340.9" font-size="20.8" text-anchor="middle" font-weight="bold">distance from TE-P</text>
<text x="898.8" y="1361.9" font-size="20.8" text-anchor="middle" font-weight="bold">contact center</text>
<g clip-path="url(#hc7)"><g transform="translate(938.24 1418.94) scale(5.76098)" filter="url(#hb5)"><rect width="43" height="43" fill="#cdd9ec"/><path d="M35 0h1v1h-1zM35 1h1v1h-1z" fill="#a8c2e5"/><path d="M37 3h1v1h-1zM38 7h1v1h-1z" fill="#aac3e6"/><path d="M33 0h1v1h-1zM33 1h1v1h-1zM38 2h2v1h-2zM33 6h1v1h-1z" fill="#acc5e6"/><path d="M34 2h1v1h-1zM38 6h1v1h-1z" fill="#aec6e7"/><path d="M35 2h1v1h-1zM35 3h1v1h-1zM36 4h1v1h-1zM39 10h1v1h-1z" fill="#b0c8e8"/><path d="M40 2h1v1h-1zM38 3h1v1h-1zM40 3h1v1h-1zM27 5h1v1h-1zM34 10h1v1h-1zM41 14h2v1h-2zM40 19h1v1h-1z" fill="#b2c9e8"/><path d="M31 0h1v1h-1zM31 1h1v1h-1zM27 2h1v1h-1zM34 3h1v1h-1zM39 4h1v1h-1zM41 4h2v1h-2zM34 5h1v1h-1zM29 6h1v1h-1zM40 7h1v1h-1zM38 8h1v1h-1zM31 10h1v1h-1zM39 11h1v1h-1zM40 12h1v1h-1zM41 13h2v1h-2z" fill="#b4cae9"/><path d="M36 0h1v1h-1zM39 0h2v1h-2zM36 1h1v1h-1zM39 1h2v1h-2zM29 3h1v1h-1zM41 3h2v1h-2zM25 4h1v1h-1zM31 6h2v1h-2zM34 6h1v1h-1zM32 7h1v1h-1zM40 8h1v1h-1zM40 9h1v1h-1zM37 10h1v1h-1zM40 10h1v1h-1zM30 11h1v1h-1zM40 11h1v1h-1zM38 13h1v1h-1zM40 14h1v1h-1zM36 19h1v1h-1z" fill="#b6ccea"/><path d="M30 3h1v1h-1zM38 4h1v1h-1zM40 4h1v1h-1zM37 5h1v1h-1zM31 8h1v1h-1zM36 8h1v1h-1zM41 9h2v1h-2zM29 10h1v1h-1zM38 11h1v1h-1zM41 11h2v1h-2zM39 12h1v1h-1zM41 12h2v1h-2zM38 17h1v1h-1zM41 17h2v1h-2zM39 19h1v1h-1z" fill="#b8cdeb"/><path d="M38 0h1v1h-1zM38 1h1v1h-1zM39 3h1v1h-1zM34 4h2v1h-2zM32 5h1v1h-1zM38 5h1v1h-1zM26 6h1v1h-1zM36 7h1v1h-1zM31 9h1v1h-1zM35 9h1v1h-1zM39 9h1v1h-1zM38 10h1v1h-1zM41 10h2v1h-2zM31 11h2v1h-2zM34 14h1v1h-1zM37 15h1v1h-1zM41 15h2v1h-2zM36 16h1v1h-1zM36 17h1v1h-1zM39 18h1v1h-1zM41 28h2v1h-2zM41 29h2v1h-2zM36 37h1v1h-1z" fill="#bacfeb"/><path d="M28 0h1v1h-1zM28 1h1v1h-1zM32 2h1v1h-1zM26 3h1v1h-1zM27 4h1v1h-1zM29 4h1v1h-1zM33 4h1v1h-1zM35 5h1v1h-1zM40 6h1v1h-1zM27 7h1v1h-1zM33 7h1v1h-1zM39 7h1v1h-1zM41 7h2v1h-2zM41 8h2v1h-2zM25 9h1v1h-1zM33 9h1v1h-1zM36 9h2v1h-2zM33 10h1v1h-1zM36 10h1v1h-1zM27 11h1v1h-1zM36 11h1v1h-1zM39 13h1v1h-1zM27 14h1v1h-1zM33 15h1v1h-1zM31 16h1v1h-1zM33 16h1v1h-1zM32 17h1v1h-1zM37 17h1v1h-1zM32 18h1v1h-1zM36 18h1v1h-1zM40 33h1v1h-1z" fill="#bcd0ec"/><path d="M29 2h1v1h-1zM31 2h1v1h-1zM37 2h1v1h-1zM32 3h2v1h-2zM36 3h1v1h-1zM28 4h1v1h-1zM36 5h1v1h-1zM39 5h1v1h-1zM41 5h2v1h-2zM28 6h1v1h-1zM26 7h1v1h-1zM34 7h1v1h-1zM37 7h1v1h-1zM32 8h1v1h-1zM39 8h1v1h-1zM24 9h1v1h-1zM34 9h1v1h-1zM30 10h1v1h-1zM29 11h1v1h-1zM33 11h2v1h-2zM29 12h1v1h-1zM31 12h2v1h-2zM32 13h1v1h-1zM30 14h1v1h-1zM38 14h2v1h-2zM31 15h1v1h-1zM35 15h1v1h-1zM40 15h1v1h-1zM39 16h1v1h-1zM35 19h1v1h-1zM36 20h1v1h-1zM38 20h3v1h-3zM40 21h1v1h-1zM41 32h2v1h-2zM38 38h1v1h-1zM40 38h1v1h-1zM41 39h2v1h-2zM41 41h2v1h-2zM41 42h2v1h-2z" fill="#bed1ec"/><path d="M22 0h1v1h-1zM25 0h2v1h-2zM29 0h1v1h-1zM22 1h1v1h-1zM25 1h2v1h-2zM29 1h1v1h-1zM25 2h2v1h-2zM36 2h1v1h-1zM41 2h2v1h-2zM31 4h1v1h-1zM30 6h1v1h-1zM36 6h1v1h-1zM41 6h2v1h-2zM35 7h1v1h-1zM33 8h1v1h-1zM28 9h1v1h-1zM38 9h1v1h-1zM35 11h1v1h-1zM26 13h1v1h-1zM33 13h1v1h-1zM29 14h1v1h-1zM32 14h1v1h-1zM36 14h2v1h-2zM29 15h1v1h-1zM34 15h1v1h-1zM39 15h1v1h-1zM32 16h1v1h-1zM41 16h2v1h-2zM28 17h1v1h-1zM34 17h1v1h-1zM35 18h1v1h-1zM38 18h1v1h-1zM40 18h1v1h-1zM41 19h2v1h-2zM39 21h1v1h-1zM41 25h2v1h-2zM39 29h1v1h-1zM41 31h2v1h-2zM36 34h1v1h-1zM35 39h1v1h-1z" fill="#c0d2ec"/><path d="M27 0h1v1h-1zM37 0h1v1h-1zM41 0h2v1h-2zM27 1h1v1h-1zM37 1h1v1h-1zM41 1h2v1h-2zM27 3h1v1h-1zM32 4h1v1h-1zM31 5h1v1h-1zM8 6h1v1h-1zM37 6h1v1h-1zM24 7h1v1h-1zM31 7h1v1h-1zM27 8h1v1h-1zM34 8h1v1h-1zM30 9h1v1h-1zM27 10h1v1h-1zM35 10h1v1h-1zM36 12h1v1h-1zM25 13h1v1h-1zM36 13h1v1h-1zM33 14h1v1h-1zM25 15h1v1h-1zM38 16h1v1h-1zM30 17h1v1h-1zM33 17h1v1h-1zM34 18h1v1h-1zM38 19h1v1h-1zM41 20h2v1h-2zM31 22h1v1h-1zM28 24h1v1h-1zM27 25h1v1h-1zM39 25h1v1h-1zM33 27h1v1h-1zM40 28h1v1h-1zM40 29h1v1h-1zM35 30h1v1h-1zM40 31h1v1h-1zM37 32h1v1h-1zM39 35h1v1h-1zM41 35h2v1h-2zM34 37h1v1h-1zM40 37h3v1h-3zM35 38h1v1h-1zM40 41h1v1h-1zM40 42h1v1h-1z" fill="#c2d3ec"/><path d="M30 0h1v1h-1zM34 0h1v1h-1zM30 1h1v1h-1zM34 1h1v1h-1zM23 2h1v1h-1zM28 2h1v1h-1zM30 2h1v1h-1zM28 3h1v1h-1zM30 4h1v1h-1zM37 4h1v1h-1zM23 5h1v1h-1zM33 5h1v1h-1zM40 5h1v1h-1zM25 6h1v1h-1zM27 6h1v1h-1zM35 6h1v1h-1zM30 7h1v1h-1zM26 8h1v1h-1zM28 8h3v1h-3zM35 8h1v1h-1zM37 8h1v1h-1zM12 9h1v1h-1zM25 11h1v1h-1zM37 11h1v1h-1zM34 12h2v1h-2zM24 13h1v1h-1zM28 13h1v1h-1zM31 13h1v1h-1zM34 16h2v1h-2zM39 17h2v1h-2zM37 18h1v1h-1zM28 20h1v1h-1zM26 21h1v1h-1zM29 21h2v1h-2zM38 21h1v1h-1zM33 23h2v1h-2zM36 23h1v1h-1zM34 24h1v1h-1zM37 24h1v1h-1zM32 26h2v1h-2zM40 27h1v1h-1zM38 32h1v1h-1zM39 33h1v1h-1zM33 37h1v1h-1zM38 37h1v1h-1zM33 38h1v1h-1zM39 39h1v1h-1zM30 40h1v1h-1zM34 40h1v1h-1zM38 40h1v1h-1z" fill="#c4d4ec"/><path d="M5 0h1v1h-1zM5 1h1v1h-1zM7 2h1v1h-1zM5 3h1v1h-1zM7 3h1v1h-1zM10 3h1v1h-1zM4 5h1v1h-1zM25 5h2v1h-2zM30 5h1v1h-1zM39 6h1v1h-1zM28 7h2v1h-2zM26 9h1v1h-1zM32 10h1v1h-1zM26 11h1v1h-1zM27 12h1v1h-1zM30 12h1v1h-1zM33 12h1v1h-1zM35 13h1v1h-1zM31 14h1v1h-1zM36 15h1v1h-1zM25 16h1v1h-1zM27 17h1v1h-1zM31 17h1v1h-1zM35 17h1v1h-1zM25 18h1v1h-1zM31 18h1v1h-1zM33 18h1v1h-1zM41 18h2v1h-2zM32 19h1v1h-1zM37 21h1v1h-1zM32 22h1v1h-1zM34 22h2v1h-2zM38 24h1v1h-1zM40 24h3v1h-3zM35 25h1v1h-1zM38 25h1v1h-1zM41 26h2v1h-2zM33 28h1v1h-1zM35 28h1v1h-1zM38 29h1v1h-1zM33 30h1v1h-1zM36 30h1v1h-1zM28 32h1v1h-1zM39 32h1v1h-1zM31 34h1v1h-1zM39 34h1v1h-1zM27 36h1v1h-1zM34 36h1v1h-1zM36 36h1v1h-1zM39 36h1v1h-1zM41 36h2v1h-2zM37 37h1v1h-1zM39 37h1v1h-1zM31 38h1v1h-1zM31 39h1v1h-1zM34 39h1v1h-1zM37 39h1v1h-1zM40 39h1v1h-1zM33 40h1v1h-1zM37 40h1v1h-1zM40 40h1v1h-1zM33 41h1v1h-1zM35 41h1v1h-1zM33 42h1v1h-1zM35 42h1v1h-1z" fill="#c6d6ed"/><path d="M0 0h2v1h-2zM21 0h1v1h-1zM23 0h1v1h-1zM32 0h1v1h-1zM0 1h2v1h-2zM21 1h1v1h-1zM23 1h1v1h-1zM32 1h1v1h-1zM24 2h1v1h-1zM21 3h1v1h-1zM25 3h1v1h-1zM2 4h1v1h-1zM19 4h1v1h-1zM26 4h1v1h-1zM28 5h1v1h-1zM6 6h1v1h-1zM32 9h1v1h-1zM25 10h2v1h-2zM28 10h1v1h-1zM28 11h1v1h-1zM3 12h1v1h-1zM37 12h1v1h-1zM27 13h1v1h-1zM30 13h1v1h-1zM37 13h1v1h-1zM35 14h1v1h-1zM26 15h2v1h-2zM30 15h1v1h-1zM32 15h1v1h-1zM38 15h1v1h-1zM26 16h2v1h-2zM37 16h1v1h-1zM31 19h1v1h-1zM33 19h1v1h-1zM29 20h2v1h-2zM35 20h1v1h-1zM37 20h1v1h-1zM25 21h1v1h-1zM31 21h1v1h-1zM34 21h1v1h-1zM28 22h1v1h-1zM28 23h1v1h-1zM35 23h1v1h-1zM37 23h1v1h-1zM41 23h2v1h-2zM24 24h1v1h-1zM36 26h2v1h-2zM39 26h1v1h-1zM35 27h1v1h-1zM37 27h2v1h-2zM34 30h1v1h-1zM41 30h2v1h-2zM33 32h1v1h-1zM36 32h1v1h-1zM40 32h1v1h-1zM34 33h2v1h-2zM37 33h2v1h-2zM41 33h2v1h-2zM40 34h1v1h-1zM31 35h1v1h-1zM33 35h1v1h-1zM33 36h1v1h-1zM38 36h1v1h-1zM40 36h1v1h-1zM30 37h1v1h-1zM32 37h1v1h-1zM26 39h1v1h-1zM39 41h1v1h-1zM39 42h1v1h-1z" fill="#c8d7ed"/><path d="M2 0h1v1h-1zM15 0h2v1h-2zM24 0h1v1h-1zM2 1h1v1h-1zM15 1h2v1h-2zM24 1h1v1h-1zM11 3h1v1h-1zM22 3h2v1h-2zM6 4h1v1h-1zM8 4h1v1h-1zM22 4h1v1h-1zM24 4h1v1h-1zM14 5h1v1h-1zM22 5h1v1h-1zM9 6h1v1h-1zM4 7h1v1h-1zM10 7h1v1h-1zM25 7h1v1h-1zM24 8h1v1h-1zM23 10h1v1h-1zM22 12h1v1h-1zM25 12h1v1h-1zM34 13h1v1h-1zM25 14h2v1h-2zM28 14h1v1h-1zM5 15h1v1h-1zM29 16h2v1h-2zM40 16h1v1h-1zM26 17h1v1h-1zM30 19h1v1h-1zM31 20h1v1h-1zM30 22h1v1h-1zM38 22h2v1h-2zM40 23h1v1h-1zM23 24h1v1h-1zM33 24h1v1h-1zM36 24h1v1h-1zM24 25h1v1h-1zM40 25h1v1h-1zM34 26h1v1h-1zM38 26h1v1h-1zM27 27h1v1h-1zM39 27h1v1h-1zM37 28h3v1h-3zM37 29h1v1h-1zM39 30h2v1h-2zM29 31h1v1h-1zM32 31h1v1h-1zM34 31h2v1h-2zM27 32h1v1h-1zM25 33h1v1h-1zM29 33h2v1h-2zM32 33h1v1h-1zM32 34h4v1h-4zM38 34h1v1h-1zM34 35h2v1h-2zM37 35h2v1h-2zM30 36h1v1h-1zM26 37h1v1h-1zM35 37h1v1h-1zM27 39h1v1h-1zM38 39h1v1h-1zM26 40h1v1h-1zM35 40h1v1h-1zM29 41h1v1h-1zM31 41h2v1h-2zM34 41h1v1h-1zM36 41h1v1h-1zM38 41h1v1h-1zM29 42h1v1h-1zM31 42h2v1h-2zM34 42h1v1h-1zM36 42h1v1h-1zM38 42h1v1h-1z" fill="#cad8ed"/><path d="M3 2h1v1h-1zM33 2h1v1h-1zM6 3h1v1h-1zM17 3h1v1h-1zM20 3h1v1h-1zM3 4h1v1h-1zM9 4h1v1h-1zM11 4h1v1h-1zM23 4h1v1h-1zM8 5h1v1h-1zM29 5h1v1h-1zM10 6h1v1h-1zM15 6h1v1h-1zM23 7h1v1h-1zM12 8h1v1h-1zM23 8h1v1h-1zM25 8h1v1h-1zM16 9h1v1h-1zM27 9h1v1h-1zM29 9h1v1h-1zM19 10h1v1h-1zM12 11h2v1h-2zM28 12h1v1h-1zM0 14h2v1h-2zM6 15h1v1h-1zM14 16h1v1h-1zM24 17h1v1h-1zM30 18h1v1h-1zM28 19h1v1h-1zM34 19h1v1h-1zM37 19h1v1h-1zM26 20h1v1h-1zM28 21h1v1h-1zM35 21h2v1h-2zM41 21h2v1h-2zM24 22h4v1h-4zM29 22h1v1h-1zM36 22h1v1h-1zM41 22h2v1h-2zM26 23h1v1h-1zM38 23h2v1h-2zM29 24h1v1h-1zM32 24h1v1h-1zM35 24h1v1h-1zM28 26h1v1h-1zM30 26h1v1h-1zM35 26h1v1h-1zM28 27h1v1h-1zM30 27h2v1h-2zM36 27h1v1h-1zM36 28h1v1h-1zM35 29h1v1h-1zM27 30h1v1h-1zM29 30h2v1h-2zM32 30h1v1h-1zM38 30h1v1h-1zM36 31h3v1h-3zM29 32h2v1h-2zM32 32h1v1h-1zM27 33h1v1h-1zM31 33h1v1h-1zM29 34h1v1h-1zM41 34h2v1h-2zM26 35h1v1h-1zM25 36h2v1h-2zM29 36h1v1h-1zM36 38h2v1h-2zM32 39h1v1h-1zM28 40h2v1h-2zM31 40h1v1h-1zM39 40h1v1h-1zM30 41h1v1h-1zM37 41h1v1h-1zM30 42h1v1h-1zM37 42h1v1h-1z" fill="#ccd9ed"/><path d="M6 0h1v1h-1zM8 0h2v1h-2zM6 1h1v1h-1zM8 1h2v1h-2zM9 2h1v1h-1zM18 2h1v1h-1zM0 3h2v1h-2zM0 4h2v1h-2zM15 4h1v1h-1zM2 5h1v1h-1zM6 5h1v1h-1zM9 5h1v1h-1zM19 5h1v1h-1zM7 6h1v1h-1zM12 7h1v1h-1zM18 7h1v1h-1zM3 8h1v1h-1zM6 8h1v1h-1zM11 8h1v1h-1zM0 9h2v1h-2zM4 9h1v1h-1zM7 9h1v1h-1zM20 9h1v1h-1zM0 10h2v1h-2zM12 10h1v1h-1zM15 10h1v1h-1zM21 10h1v1h-1zM24 10h1v1h-1zM0 11h2v1h-2zM3 11h1v1h-1zM9 11h1v1h-1zM24 11h1v1h-1zM2 12h1v1h-1zM5 12h1v1h-1zM7 12h1v1h-1zM17 12h1v1h-1zM20 12h1v1h-1zM24 12h1v1h-1zM3 13h1v1h-1zM19 13h1v1h-1zM29 13h1v1h-1zM9 14h1v1h-1zM12 14h1v1h-1zM24 14h1v1h-1zM17 16h1v1h-1zM5 17h1v1h-1zM17 17h1v1h-1zM29 17h1v1h-1zM24 20h1v1h-1zM27 21h1v1h-1zM29 23h1v1h-1zM32 23h1v1h-1zM22 24h1v1h-1zM27 24h1v1h-1zM39 24h1v1h-1zM23 25h1v1h-1zM28 25h2v1h-2zM37 25h1v1h-1zM29 26h1v1h-1zM23 27h1v1h-1zM34 27h1v1h-1zM32 28h1v1h-1zM25 29h1v1h-1zM30 29h1v1h-1zM32 29h1v1h-1zM34 29h1v1h-1zM25 30h1v1h-1zM27 31h1v1h-1zM26 32h1v1h-1zM27 34h1v1h-1zM24 35h1v1h-1zM28 35h1v1h-1zM28 36h1v1h-1zM21 37h1v1h-1zM31 37h1v1h-1zM24 38h1v1h-1zM28 38h1v1h-1zM30 38h1v1h-1zM32 38h1v1h-1zM39 38h1v1h-1zM33 39h1v1h-1zM36 39h1v1h-1zM27 40h1v1h-1zM41 40h2v1h-2zM24 41h2v1h-2zM28 41h1v1h-1zM24 42h2v1h-2zM28 42h1v1h-1z" fill="#cfdaea"/><path d="M3 0h1v1h-1zM7 0h1v1h-1zM19 0h1v1h-1zM3 1h1v1h-1zM7 1h1v1h-1zM19 1h1v1h-1zM0 2h2v1h-2zM5 2h2v1h-2zM12 2h1v1h-1zM19 2h2v1h-2zM22 2h1v1h-1zM9 3h1v1h-1zM19 3h1v1h-1zM31 3h1v1h-1zM7 4h1v1h-1zM11 5h1v1h-1zM14 6h1v1h-1zM18 6h1v1h-1zM0 7h2v1h-2zM7 7h1v1h-1zM15 7h1v1h-1zM20 7h1v1h-1zM0 8h2v1h-2zM5 8h1v1h-1zM13 8h1v1h-1zM17 8h2v1h-2zM10 9h1v1h-1zM23 9h1v1h-1zM4 10h2v1h-2zM20 10h1v1h-1zM4 11h1v1h-1zM10 11h2v1h-2zM4 12h1v1h-1zM10 12h1v1h-1zM12 12h1v1h-1zM14 12h2v1h-2zM4 13h1v1h-1zM6 13h1v1h-1zM8 13h1v1h-1zM20 14h2v1h-2zM23 14h1v1h-1zM2 15h2v1h-2zM18 15h1v1h-1zM21 15h1v1h-1zM23 15h1v1h-1zM2 16h1v1h-1zM8 16h2v1h-2zM0 17h2v1h-2zM5 18h1v1h-1zM29 18h1v1h-1zM24 19h1v1h-1zM34 20h1v1h-1zM27 23h1v1h-1zM30 23h1v1h-1zM26 24h1v1h-1zM25 25h2v1h-2zM34 25h1v1h-1zM23 26h1v1h-1zM26 26h1v1h-1zM24 27h1v1h-1zM29 27h1v1h-1zM29 28h1v1h-1zM24 29h1v1h-1zM36 29h1v1h-1zM22 31h1v1h-1zM39 31h1v1h-1zM22 32h1v1h-1zM24 32h1v1h-1zM21 33h1v1h-1zM26 33h1v1h-1zM28 33h1v1h-1zM26 34h1v1h-1zM37 34h1v1h-1zM25 35h1v1h-1zM30 35h1v1h-1zM40 35h1v1h-1zM24 36h1v1h-1zM21 38h1v1h-1zM23 38h1v1h-1zM26 38h2v1h-2zM29 38h1v1h-1zM34 38h1v1h-1zM22 39h1v1h-1zM25 39h1v1h-1zM23 40h1v1h-1zM25 40h1v1h-1z" fill="#d0dae9"/><path d="M14 0h1v1h-1zM20 0h1v1h-1zM14 1h1v1h-1zM20 1h1v1h-1zM4 2h1v1h-1zM13 2h1v1h-1zM17 2h1v1h-1zM2 3h1v1h-1zM4 3h1v1h-1zM8 3h1v1h-1zM15 3h2v1h-2zM18 3h1v1h-1zM12 4h2v1h-2zM16 4h1v1h-1zM0 5h2v1h-2zM15 5h1v1h-1zM0 6h2v1h-2zM21 6h1v1h-1zM3 7h1v1h-1zM11 7h1v1h-1zM8 8h1v1h-1zM16 8h1v1h-1zM6 9h1v1h-1zM14 9h2v1h-2zM21 9h1v1h-1zM3 10h1v1h-1zM8 10h2v1h-2zM18 10h1v1h-1zM2 11h1v1h-1zM8 11h1v1h-1zM14 11h1v1h-1zM16 11h1v1h-1zM20 11h1v1h-1zM0 12h2v1h-2zM6 12h1v1h-1zM11 12h1v1h-1zM23 12h1v1h-1zM0 13h2v1h-2zM7 13h1v1h-1zM4 14h1v1h-1zM6 14h2v1h-2zM13 14h1v1h-1zM4 15h1v1h-1zM6 16h1v1h-1zM21 16h1v1h-1zM16 17h1v1h-1zM21 17h1v1h-1zM23 17h1v1h-1zM24 21h1v1h-1zM40 22h1v1h-1zM25 24h1v1h-1zM30 25h1v1h-1zM32 25h2v1h-2zM22 26h1v1h-1zM25 26h1v1h-1zM32 27h1v1h-1zM24 28h1v1h-1zM26 28h3v1h-3zM31 28h1v1h-1zM34 28h1v1h-1zM21 29h1v1h-1zM33 29h1v1h-1zM24 30h1v1h-1zM28 30h1v1h-1zM31 30h1v1h-1zM26 31h1v1h-1zM33 31h1v1h-1zM25 32h1v1h-1zM22 33h1v1h-1zM25 34h1v1h-1zM20 35h1v1h-1zM22 35h1v1h-1zM27 35h1v1h-1zM23 36h1v1h-1zM37 36h1v1h-1zM22 37h1v1h-1zM25 37h1v1h-1zM29 37h1v1h-1zM22 38h1v1h-1zM25 38h1v1h-1zM22 40h1v1h-1zM24 40h1v1h-1zM14 41h1v1h-1zM23 41h1v1h-1zM14 42h1v1h-1zM23 42h1v1h-1z" fill="#d2dbe8"/><path d="M15 2h2v1h-2zM13 3h1v1h-1zM18 4h1v1h-1zM18 5h1v1h-1zM20 5h1v1h-1zM2 6h2v1h-2zM17 6h1v1h-1zM19 6h1v1h-1zM5 7h1v1h-1zM8 7h1v1h-1zM16 7h1v1h-1zM2 8h1v1h-1zM4 8h1v1h-1zM7 8h1v1h-1zM9 8h2v1h-2zM5 9h1v1h-1zM18 9h1v1h-1zM22 9h1v1h-1zM17 10h1v1h-1zM6 11h1v1h-1zM15 11h1v1h-1zM22 11h1v1h-1zM2 13h1v1h-1zM13 13h1v1h-1zM15 13h1v1h-1zM20 13h1v1h-1zM2 14h1v1h-1zM5 14h1v1h-1zM11 14h1v1h-1zM16 14h2v1h-2zM7 15h1v1h-1zM28 15h1v1h-1zM7 16h1v1h-1zM6 17h1v1h-1zM11 17h1v1h-1zM18 17h2v1h-2zM8 18h1v1h-1zM14 18h1v1h-1zM24 18h1v1h-1zM26 18h1v1h-1zM25 19h1v1h-1zM25 20h1v1h-1zM23 21h1v1h-1zM23 23h2v1h-2zM31 24h1v1h-1zM22 25h1v1h-1zM22 27h1v1h-1zM23 28h1v1h-1zM30 28h1v1h-1zM23 29h1v1h-1zM28 29h1v1h-1zM23 30h1v1h-1zM23 31h1v1h-1zM20 33h1v1h-1zM24 33h1v1h-1zM21 34h1v1h-1zM23 34h2v1h-2zM23 35h1v1h-1zM23 37h1v1h-1zM20 39h1v1h-1zM28 39h1v1h-1zM19 41h1v1h-1zM19 42h1v1h-1z" fill="#d3dbe7"/><path d="M4 0h1v1h-1zM11 0h1v1h-1zM17 0h2v1h-2zM4 1h1v1h-1zM11 1h1v1h-1zM17 1h2v1h-2zM10 2h1v1h-1zM14 2h1v1h-1zM21 2h1v1h-1zM17 4h1v1h-1zM11 6h3v1h-3zM6 7h1v1h-1zM9 7h1v1h-1zM13 7h1v1h-1zM9 9h1v1h-1zM11 9h1v1h-1zM13 9h1v1h-1zM6 10h1v1h-1zM11 10h1v1h-1zM13 10h1v1h-1zM5 11h1v1h-1zM19 11h1v1h-1zM8 12h2v1h-2zM19 12h1v1h-1zM5 13h1v1h-1zM9 13h1v1h-1zM11 13h1v1h-1zM8 14h1v1h-1zM10 14h1v1h-1zM18 14h2v1h-2zM14 15h1v1h-1zM4 16h1v1h-1zM10 16h2v1h-2zM15 16h1v1h-1zM24 16h1v1h-1zM8 17h1v1h-1zM2 18h2v1h-2zM11 18h1v1h-1zM20 18h1v1h-1zM23 18h1v1h-1zM9 19h1v1h-1zM15 19h1v1h-1zM22 19h2v1h-2zM0 23h2v1h-2zM20 24h1v1h-1zM9 26h1v1h-1zM24 26h1v1h-1zM13 27h1v1h-1zM25 27h1v1h-1zM25 28h1v1h-1zM21 30h1v1h-1zM23 32h1v1h-1zM13 34h1v1h-1zM22 34h1v1h-1zM11 35h1v1h-1zM32 35h1v1h-1zM22 36h1v1h-1zM8 37h1v1h-1zM6 38h1v1h-1zM5 39h1v1h-1zM16 39h1v1h-1zM20 40h2v1h-2zM5 41h1v1h-1zM10 41h1v1h-1zM22 41h1v1h-1zM27 41h1v1h-1zM5 42h1v1h-1zM10 42h1v1h-1zM22 42h1v1h-1zM27 42h1v1h-1z" fill="#d5dce5"/><path d="M10 0h1v1h-1zM10 1h1v1h-1zM8 2h1v1h-1zM11 2h1v1h-1zM14 3h1v1h-1zM10 4h1v1h-1zM14 4h1v1h-1zM21 4h1v1h-1zM3 5h1v1h-1zM10 5h1v1h-1zM16 6h1v1h-1zM24 6h1v1h-1zM2 7h1v1h-1zM19 7h1v1h-1zM17 9h1v1h-1zM19 9h1v1h-1zM10 10h1v1h-1zM14 10h1v1h-1zM21 12h1v1h-1zM12 13h1v1h-1zM15 14h1v1h-1zM11 15h1v1h-1zM15 15h1v1h-1zM22 15h1v1h-1zM12 16h1v1h-1zM18 16h2v1h-2zM22 16h2v1h-2zM3 17h1v1h-1zM0 18h2v1h-2zM4 18h1v1h-1zM6 18h1v1h-1zM9 18h2v1h-2zM13 18h1v1h-1zM3 19h1v1h-1zM7 19h1v1h-1zM10 19h1v1h-1zM23 20h1v1h-1zM33 22h1v1h-1zM21 24h1v1h-1zM21 25h1v1h-1zM19 26h1v1h-1zM20 28h1v1h-1zM22 30h1v1h-1zM9 31h1v1h-1zM24 31h1v1h-1zM21 32h1v1h-1zM23 33h1v1h-1zM8 35h1v1h-1zM10 36h1v1h-1zM10 37h1v1h-1zM19 37h1v1h-1zM7 38h1v1h-1zM13 38h1v1h-1zM19 38h1v1h-1zM14 39h1v1h-1zM0 40h2v1h-2zM10 40h1v1h-1zM3 41h1v1h-1zM6 41h1v1h-1zM8 41h1v1h-1zM17 41h2v1h-2zM3 42h1v1h-1zM6 42h1v1h-1zM8 42h1v1h-1zM17 42h2v1h-2z" fill="#d6dce4"/><path d="M13 5h1v1h-1zM24 5h1v1h-1zM20 6h1v1h-1zM14 7h1v1h-1zM16 10h1v1h-1zM22 10h1v1h-1zM13 12h1v1h-1zM16 12h1v1h-1zM10 13h1v1h-1zM21 13h2v1h-2zM3 14h1v1h-1zM9 15h1v1h-1zM13 15h1v1h-1zM16 15h2v1h-2zM20 15h1v1h-1zM0 16h2v1h-2zM4 17h1v1h-1zM7 17h1v1h-1zM12 17h3v1h-3zM20 17h1v1h-1zM22 17h1v1h-1zM12 18h1v1h-1zM21 18h2v1h-2zM16 19h1v1h-1zM17 23h1v1h-1zM19 23h1v1h-1zM31 23h1v1h-1zM4 24h1v1h-1zM30 24h1v1h-1zM9 25h1v1h-1zM17 26h1v1h-1zM20 26h2v1h-2zM13 28h1v1h-1zM22 29h1v1h-1zM19 30h1v1h-1zM18 31h1v1h-1zM25 31h1v1h-1zM12 32h1v1h-1zM4 33h1v1h-1zM11 34h1v1h-1zM15 34h1v1h-1zM20 34h1v1h-1zM13 35h1v1h-1zM18 35h1v1h-1zM21 35h1v1h-1zM0 36h2v1h-2zM5 36h1v1h-1zM8 36h2v1h-2zM21 36h1v1h-1zM17 37h1v1h-1zM3 38h1v1h-1zM5 38h1v1h-1zM8 38h3v1h-3zM14 38h1v1h-1zM16 38h1v1h-1zM18 38h1v1h-1zM2 39h1v1h-1zM12 39h2v1h-2zM15 39h1v1h-1zM17 39h2v1h-2zM23 39h1v1h-1zM13 40h3v1h-3zM17 40h1v1h-1zM0 41h2v1h-2zM7 41h1v1h-1zM9 41h1v1h-1zM11 41h1v1h-1zM16 41h1v1h-1zM21 41h1v1h-1zM0 42h2v1h-2zM7 42h1v1h-1zM9 42h1v1h-1zM11 42h1v1h-1zM16 42h1v1h-1zM21 42h1v1h-1z" fill="#d7dce2"/><path d="M19 8h1v1h-1zM18 11h1v1h-1zM14 13h1v1h-1zM16 13h3v1h-3zM12 15h1v1h-1zM9 17h2v1h-2zM7 18h1v1h-1zM0 19h3v1h-3zM4 19h2v1h-2zM12 19h1v1h-1zM18 19h1v1h-1zM23 22h1v1h-1zM14 24h1v1h-1zM27 26h1v1h-1zM18 27h1v1h-1zM10 28h1v1h-1zM20 29h1v1h-1zM6 30h1v1h-1zM13 30h1v1h-1zM17 30h1v1h-1zM5 31h1v1h-1zM14 31h1v1h-1zM0 32h3v1h-3zM4 32h1v1h-1zM17 32h1v1h-1zM20 32h1v1h-1zM5 33h1v1h-1zM12 33h1v1h-1zM17 33h1v1h-1zM19 34h1v1h-1zM0 35h3v1h-3zM4 35h1v1h-1zM6 35h1v1h-1zM10 35h1v1h-1zM16 35h1v1h-1zM19 35h1v1h-1zM2 36h1v1h-1zM7 36h1v1h-1zM11 36h1v1h-1zM14 36h2v1h-2zM19 36h1v1h-1zM2 37h2v1h-2zM5 37h1v1h-1zM9 37h1v1h-1zM12 37h1v1h-1zM20 37h1v1h-1zM2 38h1v1h-1zM4 38h1v1h-1zM12 38h1v1h-1zM15 38h1v1h-1zM17 38h1v1h-1zM20 38h1v1h-1zM4 39h1v1h-1zM6 39h2v1h-2zM9 39h1v1h-1zM19 39h1v1h-1zM21 39h1v1h-1zM2 40h2v1h-2zM6 40h1v1h-1zM9 40h1v1h-1zM11 40h1v1h-1zM18 40h1v1h-1zM2 41h1v1h-1zM4 41h1v1h-1zM15 41h1v1h-1zM2 42h1v1h-1zM4 42h1v1h-1zM15 42h1v1h-1z" fill="#d9dce1"/><path d="M17 7h1v1h-1zM22 14h1v1h-1zM15 18h1v1h-1zM8 19h1v1h-1zM17 19h1v1h-1zM20 19h2v1h-2zM7 23h1v1h-1zM22 23h1v1h-1zM3 24h1v1h-1zM0 25h2v1h-2zM9 27h1v1h-1zM17 27h1v1h-1zM4 28h1v1h-1zM11 28h1v1h-1zM18 28h2v1h-2zM21 28h2v1h-2zM3 29h1v1h-1zM6 29h1v1h-1zM13 29h1v1h-1zM15 29h1v1h-1zM18 29h2v1h-2zM5 30h1v1h-1zM8 30h1v1h-1zM10 30h1v1h-1zM12 30h1v1h-1zM3 31h1v1h-1zM12 31h2v1h-2zM16 31h2v1h-2zM19 31h1v1h-1zM21 31h1v1h-1zM3 32h1v1h-1zM5 32h1v1h-1zM7 32h1v1h-1zM9 32h1v1h-1zM16 32h1v1h-1zM18 32h2v1h-2zM2 33h1v1h-1zM6 33h1v1h-1zM9 33h1v1h-1zM14 33h3v1h-3zM18 33h1v1h-1zM3 34h1v1h-1zM5 34h1v1h-1zM3 35h1v1h-1zM7 35h1v1h-1zM14 35h1v1h-1zM17 36h2v1h-2zM20 36h1v1h-1zM11 37h1v1h-1zM13 37h1v1h-1zM16 37h1v1h-1zM18 37h1v1h-1zM0 38h2v1h-2zM11 38h1v1h-1zM0 39h2v1h-2zM8 39h1v1h-1zM10 39h1v1h-1zM5 40h1v1h-1zM7 40h2v1h-2zM12 40h1v1h-1zM19 40h1v1h-1zM12 41h2v1h-2zM12 42h2v1h-2z" fill="#dadcdf"/><path d="M14 14h1v1h-1zM19 15h1v1h-1zM17 18h1v1h-1zM19 18h1v1h-1zM11 19h1v1h-1zM13 19h1v1h-1zM8 22h1v1h-1zM8 25h1v1h-1zM19 25h1v1h-1zM3 26h1v1h-1zM5 26h1v1h-1zM8 26h1v1h-1zM2 27h2v1h-2zM14 27h1v1h-1zM19 27h1v1h-1zM21 27h1v1h-1zM3 28h1v1h-1zM5 28h1v1h-1zM12 28h1v1h-1zM14 28h2v1h-2zM4 29h1v1h-1zM11 29h1v1h-1zM17 29h1v1h-1zM4 30h1v1h-1zM7 30h1v1h-1zM20 30h1v1h-1zM6 31h2v1h-2zM15 31h1v1h-1zM14 32h1v1h-1zM3 33h1v1h-1zM7 33h2v1h-2zM11 33h1v1h-1zM13 33h1v1h-1zM19 33h1v1h-1zM0 34h2v1h-2zM4 34h1v1h-1zM7 34h3v1h-3zM12 34h1v1h-1zM18 34h1v1h-1zM9 35h1v1h-1zM12 35h1v1h-1zM17 35h1v1h-1zM3 36h2v1h-2zM6 36h1v1h-1zM12 36h1v1h-1zM6 37h2v1h-2zM11 39h1v1h-1zM4 40h1v1h-1zM16 40h1v1h-1z" fill="#dcdcde"/><path d="M15 17h1v1h-1zM6 19h1v1h-1zM19 19h1v1h-1zM0 20h2v1h-2zM3 20h1v1h-1zM6 20h1v1h-1zM9 20h2v1h-2zM11 22h1v1h-1zM19 22h1v1h-1zM8 23h1v1h-1zM12 23h1v1h-1zM21 23h1v1h-1zM2 24h1v1h-1zM6 24h1v1h-1zM8 24h2v1h-2zM11 24h1v1h-1zM16 24h1v1h-1zM19 24h1v1h-1zM17 25h1v1h-1zM4 26h1v1h-1zM18 26h1v1h-1zM0 27h2v1h-2zM4 27h1v1h-1zM6 27h1v1h-1zM11 27h1v1h-1zM2 28h1v1h-1zM6 28h1v1h-1zM16 28h1v1h-1zM0 29h2v1h-2zM0 30h2v1h-2zM3 30h1v1h-1zM16 30h1v1h-1zM4 31h1v1h-1zM11 31h1v1h-1zM20 31h1v1h-1zM6 32h1v1h-1zM8 32h1v1h-1zM10 32h1v1h-1zM13 32h1v1h-1zM15 32h1v1h-1zM0 33h2v1h-2zM10 33h1v1h-1zM2 34h1v1h-1zM10 34h1v1h-1zM17 34h1v1h-1zM5 35h1v1h-1zM13 36h1v1h-1zM0 37h2v1h-2zM4 37h1v1h-1zM14 37h2v1h-2zM3 39h1v1h-1zM20 41h1v1h-1zM20 42h1v1h-1z" fill="#dddcdc"/><path d="M18 18h1v1h-1zM19 20h1v1h-1zM0 22h3v1h-3zM3 23h1v1h-1zM5 23h2v1h-2zM18 23h1v1h-1zM10 24h1v1h-1zM17 24h1v1h-1zM10 25h1v1h-1zM12 25h1v1h-1zM16 25h1v1h-1zM2 26h1v1h-1zM7 26h1v1h-1zM11 26h1v1h-1zM16 26h1v1h-1zM7 27h2v1h-2zM12 27h1v1h-1zM15 27h1v1h-1zM20 27h1v1h-1zM7 28h1v1h-1zM9 28h1v1h-1zM17 28h1v1h-1zM12 29h1v1h-1zM2 30h1v1h-1zM11 30h1v1h-1zM14 30h2v1h-2zM0 31h2v1h-2zM11 32h1v1h-1zM14 34h1v1h-1zM16 36h1v1h-1z" fill="#dedbda"/><path d="M16 18h1v1h-1zM14 19h1v1h-1zM4 20h1v1h-1zM8 20h1v1h-1zM17 20h1v1h-1zM0 21h2v1h-2zM2 23h1v1h-1zM10 23h1v1h-1zM5 24h1v1h-1zM7 24h1v1h-1zM2 25h5v1h-5zM11 25h1v1h-1zM13 25h1v1h-1zM15 25h1v1h-1zM18 25h1v1h-1zM20 25h1v1h-1zM10 26h1v1h-1zM14 26h1v1h-1zM5 27h1v1h-1zM8 28h1v1h-1zM7 29h1v1h-1zM10 29h1v1h-1zM9 30h1v1h-1zM2 31h1v1h-1zM10 31h1v1h-1zM6 34h1v1h-1zM16 34h1v1h-1zM15 35h1v1h-1z" fill="#dfdbd8"/><path d="M2 20h1v1h-1zM2 21h1v1h-1zM5 21h1v1h-1zM7 21h1v1h-1zM17 21h1v1h-1zM3 22h2v1h-2zM9 22h1v1h-1zM4 23h1v1h-1zM20 23h1v1h-1zM0 24h2v1h-2zM18 24h1v1h-1zM7 25h1v1h-1zM6 26h1v1h-1zM12 26h2v1h-2zM15 26h1v1h-1zM10 27h1v1h-1zM0 28h2v1h-2zM5 29h1v1h-1zM8 29h1v1h-1zM14 29h1v1h-1zM18 30h1v1h-1zM8 31h1v1h-1z" fill="#e1dad7"/><path d="M16 16h1v1h-1zM5 20h1v1h-1zM7 20h1v1h-1zM16 20h1v1h-1zM3 21h1v1h-1zM6 21h1v1h-1zM8 21h1v1h-1zM5 22h1v1h-1zM7 22h1v1h-1zM16 22h1v1h-1zM9 23h1v1h-1zM11 23h1v1h-1zM13 23h1v1h-1zM14 25h1v1h-1zM0 26h2v1h-2zM16 27h1v1h-1zM2 29h1v1h-1zM16 29h1v1h-1z" fill="#e2dad5"/><path d="M11 20h1v1h-1zM15 20h1v1h-1zM22 20h1v1h-1zM18 21h1v1h-1zM6 22h1v1h-1zM15 23h1v1h-1zM12 24h2v1h-2zM15 24h1v1h-1zM9 29h1v1h-1z" fill="#e3d9d3"/><path d="M13 20h2v1h-2zM9 21h1v1h-1zM19 21h1v1h-1zM10 22h1v1h-1zM15 22h1v1h-1zM17 22h1v1h-1z" fill="#e4d8d1"/><path d="M4 21h1v1h-1zM10 21h1v1h-1zM18 22h1v1h-1zM14 23h1v1h-1zM16 23h1v1h-1z" fill="#e5d7d0"/><path d="M12 20h1v1h-1zM15 21h1v1h-1z" fill="#e7d7ce"/><path d="M13 21h1v1h-1zM16 21h1v1h-1zM13 22h2v1h-2zM22 22h1v1h-1z" fill="#e8d6cd"/><path d="M18 20h1v1h-1zM11 21h1v1h-1z" fill="#e9d5cb"/><path d="M14 21h1v1h-1z" fill="#ead4c9"/><path d="M12 21h1v1h-1z" fill="#ebd3c7"/><path d="M12 22h1v1h-1z" fill="#ebd2c5"/><path d="M22 21h1v1h-1z" fill="#ecd1c3"/><path d="M20 22h1v1h-1z" fill="#edd0c2"/><path d="M20 20h1v1h-1z" fill="#efcdbc"/><path d="M21 20h1v1h-1z" fill="#f1cbb8"/><path d="M21 22h1v1h-1z" fill="#f2c7b2"/><path d="M20 21h1v1h-1z" fill="#f2c4ae"/><path d="M21 21h1v1h-1z" fill="#f3a98c"/></g></g>
<rect x="944" y="1424.7" width="236.2" height="236.2" fill="none" stroke="#000" stroke-width="1.7"/>
<g clip-path="url(#hc8)"><g transform="translate(1185.54 1418.94) scale(5.76098)" filter="url(#hb5)"><rect width="43" height="43" fill="#dddcdc"/><path d="M41 15h2v1h-2z" fill="#a7c1e5"/><path d="M35 5h1v1h-1z" fill="#a8c2e5"/><path d="M41 2h2v1h-2z" fill="#aac3e6"/><path d="M28 0h1v1h-1zM41 0h2v1h-2zM28 1h1v1h-1zM41 1h2v1h-2zM33 7h1v1h-1z" fill="#acc5e6"/><path d="M34 6h1v1h-1zM40 6h1v1h-1zM37 12h1v1h-1z" fill="#aec6e7"/><path d="M36 2h1v1h-1zM40 4h1v1h-1zM39 5h1v1h-1zM41 8h2v1h-2zM41 10h2v1h-2z" fill="#b0c8e8"/><path d="M39 2h1v1h-1zM41 3h2v1h-2zM39 6h1v1h-1zM38 7h1v1h-1zM39 16h1v1h-1zM39 20h1v1h-1z" fill="#b2c9e8"/><path d="M31 0h1v1h-1zM35 0h1v1h-1zM31 1h1v1h-1zM35 1h1v1h-1zM36 3h1v1h-1zM40 3h1v1h-1zM41 6h2v1h-2zM39 7h1v1h-1zM35 9h1v1h-1zM36 10h1v1h-1zM32 11h1v1h-1zM37 11h1v1h-1zM40 12h1v1h-1zM38 14h1v1h-1zM36 15h1v1h-1z" fill="#b4cae9"/><path d="M37 0h1v1h-1zM39 0h1v1h-1zM37 1h1v1h-1zM39 1h1v1h-1zM33 4h1v1h-1zM34 7h1v1h-1zM41 9h2v1h-2zM32 10h1v1h-1zM28 11h1v1h-1zM29 16h1v1h-1z" fill="#b6ccea"/><path d="M33 0h1v1h-1zM33 1h1v1h-1zM35 3h1v1h-1zM37 4h1v1h-1zM39 4h1v1h-1zM33 5h1v1h-1zM37 6h1v1h-1zM35 8h2v1h-2zM38 13h1v1h-1zM29 15h1v1h-1zM40 15h1v1h-1zM36 16h1v1h-1zM36 17h1v1h-1zM41 21h2v1h-2z" fill="#b8cdeb"/><path d="M30 0h1v1h-1zM30 1h1v1h-1zM31 2h1v1h-1zM38 2h1v1h-1zM28 3h1v1h-1zM32 3h1v1h-1zM38 3h1v1h-1zM34 5h1v1h-1zM37 5h1v1h-1zM40 5h1v1h-1zM30 7h1v1h-1zM28 9h1v1h-1zM37 9h1v1h-1zM31 10h1v1h-1zM41 12h2v1h-2zM32 17h1v1h-1zM38 17h1v1h-1zM38 18h1v1h-1z" fill="#bacfeb"/><path d="M35 2h1v1h-1zM27 3h1v1h-1zM30 3h1v1h-1zM33 3h1v1h-1zM37 3h1v1h-1zM28 4h1v1h-1zM30 4h1v1h-1zM36 4h1v1h-1zM38 5h1v1h-1zM29 8h1v1h-1zM33 8h1v1h-1zM32 9h2v1h-2zM39 9h1v1h-1zM30 10h1v1h-1zM33 10h2v1h-2zM27 13h1v1h-1zM37 13h1v1h-1zM35 14h1v1h-1zM39 14h1v1h-1zM35 15h1v1h-1zM41 16h2v1h-2zM35 18h1v1h-1z" fill="#bcd0ec"/><path d="M38 0h1v1h-1zM38 1h1v1h-1zM34 2h1v1h-1zM40 2h1v1h-1zM30 5h1v1h-1zM28 6h1v1h-1zM37 7h1v1h-1zM41 7h2v1h-2zM39 8h1v1h-1zM34 9h1v1h-1zM36 9h1v1h-1zM30 11h1v1h-1zM33 11h1v1h-1zM34 14h1v1h-1zM40 14h1v1h-1zM33 15h1v1h-1zM38 16h1v1h-1zM40 16h1v1h-1zM40 17h1v1h-1zM39 18h1v1h-1zM35 19h1v1h-1zM37 19h1v1h-1zM41 22h2v1h-2z" fill="#bed1ec"/><path d="M27 0h1v1h-1zM32 0h1v1h-1zM34 0h1v1h-1zM27 1h1v1h-1zM32 1h1v1h-1zM34 1h1v1h-1zM25 2h1v1h-1zM32 2h1v1h-1zM34 3h1v1h-1zM34 4h1v1h-1zM29 7h1v1h-1zM32 7h1v1h-1zM36 7h1v1h-1zM40 7h1v1h-1zM34 8h1v1h-1zM40 8h1v1h-1zM30 9h1v1h-1zM34 11h1v1h-1zM38 11h1v1h-1zM36 12h1v1h-1zM39 12h1v1h-1zM34 13h1v1h-1zM40 13h1v1h-1zM28 14h1v1h-1zM31 14h2v1h-2zM36 14h1v1h-1zM41 14h2v1h-2zM39 15h1v1h-1zM36 18h1v1h-1z" fill="#c0d2ec"/><path d="M25 0h1v1h-1zM25 1h1v1h-1zM33 2h1v1h-1zM39 3h1v1h-1zM29 4h1v1h-1zM29 5h1v1h-1zM36 5h1v1h-1zM41 5h2v1h-2zM36 6h1v1h-1zM27 7h1v1h-1zM28 8h1v1h-1zM29 9h1v1h-1zM40 10h1v1h-1zM29 11h1v1h-1zM31 11h1v1h-1zM36 11h1v1h-1zM40 11h3v1h-3zM31 13h2v1h-2zM41 13h2v1h-2zM34 16h1v1h-1zM33 18h2v1h-2zM37 18h1v1h-1zM34 20h1v1h-1zM36 20h1v1h-1zM38 21h1v1h-1zM31 23h1v1h-1zM34 30h1v1h-1zM35 41h1v1h-1zM35 42h1v1h-1z" fill="#c2d3ec"/><path d="M29 0h1v1h-1zM36 0h1v1h-1zM40 0h1v1h-1zM29 1h1v1h-1zM36 1h1v1h-1zM40 1h1v1h-1zM28 2h1v1h-1zM37 2h1v1h-1zM35 4h1v1h-1zM33 6h1v1h-1zM31 7h1v1h-1zM31 9h1v1h-1zM28 10h1v1h-1zM38 10h1v1h-1zM33 12h1v1h-1zM39 17h1v1h-1zM32 18h1v1h-1zM39 19h1v1h-1zM31 21h1v1h-1zM28 22h1v1h-1zM34 23h1v1h-1zM40 27h1v1h-1zM40 31h1v1h-1zM35 33h1v1h-1zM39 33h1v1h-1zM39 39h1v1h-1zM37 40h1v1h-1z" fill="#c4d4ec"/><path d="M29 2h1v1h-1zM27 4h1v1h-1zM27 6h1v1h-1zM35 6h1v1h-1zM35 7h1v1h-1zM30 8h1v1h-1zM39 10h1v1h-1zM39 11h1v1h-1zM31 12h1v1h-1zM35 12h1v1h-1zM29 14h1v1h-1zM33 14h1v1h-1zM34 15h1v1h-1zM37 15h2v1h-2zM37 16h1v1h-1zM27 17h1v1h-1zM41 17h2v1h-2zM30 18h1v1h-1zM41 18h2v1h-2zM28 19h1v1h-1zM41 19h2v1h-2zM31 20h1v1h-1zM33 21h1v1h-1zM39 23h1v1h-1zM35 24h1v1h-1zM41 27h2v1h-2zM32 30h1v1h-1zM39 31h1v1h-1zM40 34h1v1h-1zM37 36h1v1h-1zM38 38h1v1h-1zM40 40h1v1h-1zM40 41h1v1h-1zM40 42h1v1h-1z" fill="#c6d6ed"/><path d="M29 3h1v1h-1zM31 4h2v1h-2zM31 5h1v1h-1zM32 8h1v1h-1zM37 8h1v1h-1zM35 10h1v1h-1zM37 10h1v1h-1zM35 11h1v1h-1zM33 13h1v1h-1zM32 15h1v1h-1zM27 16h2v1h-2zM30 17h1v1h-1zM33 17h2v1h-2zM35 20h1v1h-1zM37 20h1v1h-1zM32 21h1v1h-1zM37 21h1v1h-1zM40 21h1v1h-1zM37 22h2v1h-2zM39 24h1v1h-1zM41 25h2v1h-2zM34 27h1v1h-1zM35 28h1v1h-1zM41 29h2v1h-2zM39 32h1v1h-1zM36 33h1v1h-1zM34 38h1v1h-1zM35 40h1v1h-1zM41 41h2v1h-2zM41 42h2v1h-2z" fill="#c8d7ed"/><path d="M27 2h1v1h-1zM38 4h1v1h-1zM41 4h2v1h-2zM26 5h1v1h-1zM26 7h1v1h-1zM26 8h1v1h-1zM31 8h1v1h-1zM26 9h1v1h-1zM40 9h1v1h-1zM29 12h1v1h-1zM32 12h1v1h-1zM34 12h1v1h-1zM28 13h1v1h-1zM27 14h1v1h-1zM37 14h1v1h-1zM30 15h1v1h-1zM32 16h1v1h-1zM29 18h1v1h-1zM32 19h1v1h-1zM39 21h1v1h-1zM31 22h1v1h-1zM35 22h1v1h-1zM38 23h1v1h-1zM38 24h1v1h-1zM40 26h1v1h-1zM33 27h1v1h-1zM30 28h1v1h-1zM38 28h1v1h-1zM34 29h1v1h-1zM38 31h1v1h-1zM35 32h1v1h-1zM38 35h1v1h-1zM36 36h1v1h-1zM41 37h2v1h-2zM31 38h1v1h-1zM41 38h2v1h-2zM34 40h1v1h-1zM39 40h1v1h-1z" fill="#cad8ed"/><path d="M26 0h1v1h-1zM26 1h1v1h-1zM31 3h1v1h-1zM26 4h1v1h-1zM28 5h1v1h-1zM38 8h1v1h-1zM27 9h1v1h-1zM28 12h1v1h-1zM30 12h1v1h-1zM29 13h2v1h-2zM33 16h1v1h-1zM35 16h1v1h-1zM40 18h1v1h-1zM26 19h1v1h-1zM30 19h1v1h-1zM36 19h1v1h-1zM38 19h1v1h-1zM40 19h1v1h-1zM27 20h1v1h-1zM40 20h1v1h-1zM30 21h1v1h-1zM34 22h1v1h-1zM35 23h1v1h-1zM37 23h1v1h-1zM37 24h1v1h-1zM32 25h1v1h-1zM37 25h1v1h-1zM39 27h1v1h-1zM39 28h1v1h-1zM39 29h1v1h-1zM41 30h2v1h-2zM29 31h1v1h-1zM37 31h1v1h-1zM36 32h2v1h-2zM40 32h1v1h-1zM41 33h2v1h-2zM41 35h2v1h-2zM39 36h2v1h-2zM39 38h2v1h-2zM30 40h1v1h-1zM36 41h1v1h-1zM38 41h1v1h-1zM36 42h1v1h-1zM38 42h1v1h-1z" fill="#ccd9ed"/><path d="M30 2h1v1h-1zM27 5h1v1h-1zM29 6h1v1h-1zM38 6h1v1h-1zM28 7h1v1h-1zM27 8h1v1h-1zM38 9h1v1h-1zM27 10h1v1h-1zM29 10h1v1h-1zM27 11h1v1h-1zM26 13h1v1h-1zM26 14h1v1h-1zM28 17h2v1h-2zM26 18h1v1h-1zM38 20h1v1h-1zM41 20h2v1h-2zM30 22h1v1h-1zM36 22h1v1h-1zM40 22h1v1h-1zM35 25h1v1h-1zM38 26h1v1h-1zM41 26h2v1h-2zM27 29h1v1h-1zM30 32h1v1h-1zM38 32h1v1h-1zM28 33h1v1h-1zM37 33h2v1h-2zM31 34h1v1h-1zM34 34h1v1h-1zM37 34h1v1h-1zM40 35h1v1h-1zM38 36h1v1h-1zM41 36h2v1h-2zM37 37h1v1h-1zM36 38h1v1h-1zM34 39h1v1h-1zM36 39h3v1h-3zM41 39h2v1h-2zM38 40h1v1h-1zM41 40h2v1h-2zM39 41h1v1h-1zM39 42h1v1h-1z" fill="#cdd9ec"/><path d="M26 3h1v1h-1zM30 6h1v1h-1zM32 6h1v1h-1zM26 11h1v1h-1zM25 12h2v1h-2zM38 12h1v1h-1zM35 13h2v1h-2zM31 16h1v1h-1zM35 17h1v1h-1zM37 17h1v1h-1zM28 18h1v1h-1zM33 19h1v1h-1zM33 20h1v1h-1zM34 21h1v1h-1zM32 22h1v1h-1zM32 23h1v1h-1zM36 24h1v1h-1zM29 25h1v1h-1zM31 25h1v1h-1zM32 26h1v1h-1zM28 29h1v1h-1zM39 30h2v1h-2zM31 31h3v1h-3zM36 31h1v1h-1zM32 32h1v1h-1zM30 33h1v1h-1zM32 34h1v1h-1zM33 35h1v1h-1zM30 37h1v1h-1zM34 37h1v1h-1zM35 38h1v1h-1zM31 39h1v1h-1zM31 41h2v1h-2zM31 42h2v1h-2z" fill="#cfdaea"/><path d="M25 8h1v1h-1zM27 12h1v1h-1zM31 15h1v1h-1zM31 17h1v1h-1zM31 18h1v1h-1zM27 19h1v1h-1zM34 19h1v1h-1zM35 21h1v1h-1zM25 22h1v1h-1zM29 22h1v1h-1zM33 22h1v1h-1zM28 23h1v1h-1zM41 23h2v1h-2zM28 24h1v1h-1zM33 24h1v1h-1zM33 25h1v1h-1zM38 25h2v1h-2zM39 26h1v1h-1zM31 27h1v1h-1zM38 27h1v1h-1zM41 28h2v1h-2zM30 29h1v1h-1zM38 29h1v1h-1zM37 30h2v1h-2zM34 31h1v1h-1zM34 32h1v1h-1zM29 34h2v1h-2zM39 34h1v1h-1zM28 35h1v1h-1zM37 35h1v1h-1zM39 35h1v1h-1zM28 36h1v1h-1zM34 36h1v1h-1zM35 37h2v1h-2zM38 37h3v1h-3zM37 38h1v1h-1zM32 40h2v1h-2zM36 40h1v1h-1zM34 41h1v1h-1zM34 42h1v1h-1z" fill="#d0dae9"/><path d="M5 5h1v1h-1zM32 5h1v1h-1zM39 13h1v1h-1zM23 15h1v1h-1zM27 15h1v1h-1zM26 16h1v1h-1zM30 16h1v1h-1zM27 18h1v1h-1zM29 19h1v1h-1zM27 21h1v1h-1zM39 22h1v1h-1zM27 23h1v1h-1zM30 23h1v1h-1zM33 23h1v1h-1zM34 24h1v1h-1zM41 24h2v1h-2zM30 25h1v1h-1zM34 25h1v1h-1zM33 26h2v1h-2zM37 26h1v1h-1zM35 27h1v1h-1zM37 27h1v1h-1zM28 28h2v1h-2zM31 28h2v1h-2zM37 28h1v1h-1zM40 28h1v1h-1zM35 30h1v1h-1zM41 31h2v1h-2zM41 32h2v1h-2zM32 33h1v1h-1zM34 33h1v1h-1zM27 34h1v1h-1zM41 34h2v1h-2zM30 35h1v1h-1zM34 35h1v1h-1zM31 36h1v1h-1zM33 36h1v1h-1zM35 36h1v1h-1zM29 37h1v1h-1zM31 37h1v1h-1zM32 38h1v1h-1zM30 39h1v1h-1zM35 39h1v1h-1zM26 41h1v1h-1zM29 41h1v1h-1zM37 41h1v1h-1zM26 42h1v1h-1zM29 42h1v1h-1zM37 42h1v1h-1z" fill="#d2dbe8"/><path d="M10 2h1v1h-1zM6 4h1v1h-1zM26 6h1v1h-1zM25 9h1v1h-1zM25 13h1v1h-1zM30 14h1v1h-1zM28 15h1v1h-1zM28 20h1v1h-1zM36 23h1v1h-1zM29 24h1v1h-1zM31 24h2v1h-2zM27 25h2v1h-2zM35 26h2v1h-2zM28 27h2v1h-2zM36 27h1v1h-1zM35 29h2v1h-2zM28 30h1v1h-1zM31 30h1v1h-1zM30 31h1v1h-1zM27 32h1v1h-1zM31 32h1v1h-1zM26 33h1v1h-1zM33 33h1v1h-1zM28 34h1v1h-1zM36 34h1v1h-1zM38 34h1v1h-1zM31 35h2v1h-2zM35 35h1v1h-1zM27 36h1v1h-1zM32 36h1v1h-1zM33 37h1v1h-1zM28 38h1v1h-1zM33 38h1v1h-1zM27 39h1v1h-1zM33 39h1v1h-1z" fill="#d3dbe7"/><path d="M6 0h1v1h-1zM6 1h1v1h-1zM6 3h1v1h-1zM22 4h1v1h-1zM25 4h1v1h-1zM31 6h1v1h-1zM3 7h1v1h-1zM2 10h1v1h-1zM25 16h1v1h-1zM26 17h1v1h-1zM30 20h1v1h-1zM32 20h1v1h-1zM28 21h1v1h-1zM27 22h1v1h-1zM40 23h1v1h-1zM36 25h1v1h-1zM28 26h1v1h-1zM34 28h1v1h-1zM33 29h1v1h-1zM40 29h1v1h-1zM30 30h1v1h-1zM36 30h1v1h-1zM26 32h1v1h-1zM28 32h1v1h-1zM33 32h1v1h-1zM31 33h1v1h-1zM40 33h1v1h-1zM35 34h1v1h-1zM29 35h1v1h-1zM36 35h1v1h-1zM28 39h1v1h-1zM40 39h1v1h-1zM27 40h1v1h-1zM29 40h1v1h-1zM27 41h1v1h-1zM27 42h1v1h-1z" fill="#d5dce5"/><path d="M0 0h2v1h-2zM20 0h1v1h-1zM0 1h2v1h-2zM20 1h1v1h-1zM22 2h1v1h-1zM3 4h1v1h-1zM19 4h1v1h-1zM24 5h1v1h-1zM8 6h1v1h-1zM3 9h1v1h-1zM25 14h1v1h-1zM26 15h1v1h-1zM29 20h1v1h-1zM29 21h1v1h-1zM29 23h1v1h-1zM30 24h1v1h-1zM40 25h1v1h-1zM27 26h1v1h-1zM32 27h1v1h-1zM33 28h1v1h-1zM27 30h1v1h-1zM33 30h1v1h-1zM27 31h1v1h-1zM35 31h1v1h-1zM29 32h1v1h-1zM25 33h1v1h-1zM29 33h1v1h-1zM33 34h1v1h-1zM27 37h1v1h-1zM27 38h1v1h-1zM29 38h2v1h-2zM29 39h1v1h-1zM32 39h1v1h-1zM30 41h1v1h-1zM30 42h1v1h-1z" fill="#d6dce4"/><path d="M24 0h1v1h-1zM24 1h1v1h-1zM7 2h1v1h-1zM11 2h1v1h-1zM9 3h1v1h-1zM5 4h1v1h-1zM22 5h1v1h-1zM24 7h2v1h-2zM0 8h2v1h-2zM13 10h1v1h-1zM25 10h1v1h-1zM2 11h1v1h-1zM25 15h1v1h-1zM24 16h1v1h-1zM24 18h1v1h-1zM25 19h1v1h-1zM25 20h1v1h-1zM25 23h2v1h-2zM26 26h1v1h-1zM31 26h1v1h-1zM30 27h1v1h-1zM36 28h1v1h-1zM37 29h1v1h-1zM25 34h1v1h-1zM25 35h1v1h-1zM25 36h1v1h-1zM29 36h2v1h-2zM28 37h1v1h-1zM26 40h1v1h-1zM28 40h1v1h-1zM28 41h1v1h-1zM33 41h1v1h-1zM28 42h1v1h-1zM33 42h1v1h-1z" fill="#d7dce2"/><path d="M4 0h1v1h-1zM4 1h1v1h-1zM2 2h1v1h-1zM15 2h1v1h-1zM24 2h1v1h-1zM8 3h1v1h-1zM2 4h1v1h-1zM4 4h1v1h-1zM13 4h1v1h-1zM24 4h1v1h-1zM20 5h1v1h-1zM0 6h2v1h-2zM25 6h1v1h-1zM16 7h2v1h-2zM3 8h1v1h-1zM22 8h1v1h-1zM5 11h1v1h-1zM3 12h1v1h-1zM17 12h1v1h-1zM24 12h1v1h-1zM10 13h1v1h-1zM2 14h1v1h-1zM22 15h1v1h-1zM25 18h1v1h-1zM31 19h1v1h-1zM36 21h1v1h-1zM26 22h1v1h-1zM26 24h2v1h-2zM40 24h1v1h-1zM26 27h1v1h-1zM26 29h1v1h-1zM29 29h1v1h-1zM31 29h1v1h-1zM26 31h1v1h-1zM28 31h1v1h-1zM26 34h1v1h-1zM26 35h2v1h-2zM26 36h1v1h-1zM26 38h1v1h-1z" fill="#d9dce1"/><path d="M5 0h1v1h-1zM7 0h1v1h-1zM9 0h1v1h-1zM5 1h1v1h-1zM7 1h1v1h-1zM9 1h1v1h-1zM0 2h2v1h-2zM3 2h1v1h-1zM7 3h1v1h-1zM24 3h1v1h-1zM0 4h2v1h-2zM8 4h1v1h-1zM12 4h1v1h-1zM6 5h1v1h-1zM8 5h1v1h-1zM10 5h1v1h-1zM19 5h1v1h-1zM25 5h1v1h-1zM0 7h2v1h-2zM18 7h1v1h-1zM23 7h1v1h-1zM14 8h1v1h-1zM21 8h1v1h-1zM2 9h1v1h-1zM5 10h1v1h-1zM11 10h1v1h-1zM8 12h1v1h-1zM22 12h1v1h-1zM15 13h1v1h-1zM17 14h1v1h-1zM23 14h1v1h-1zM2 15h1v1h-1zM4 15h1v1h-1zM2 16h1v1h-1zM26 21h1v1h-1zM29 26h2v1h-2zM25 27h1v1h-1zM24 33h1v1h-1zM27 33h1v1h-1zM26 37h1v1h-1zM32 37h1v1h-1zM26 39h1v1h-1zM31 40h1v1h-1z" fill="#dadcdf"/><path d="M10 0h1v1h-1zM13 0h1v1h-1zM10 1h1v1h-1zM13 1h1v1h-1zM8 2h1v1h-1zM14 2h1v1h-1zM18 2h1v1h-1zM23 2h1v1h-1zM26 2h1v1h-1zM11 4h1v1h-1zM17 4h1v1h-1zM7 5h1v1h-1zM17 5h1v1h-1zM3 6h1v1h-1zM24 6h1v1h-1zM17 8h1v1h-1zM23 8h1v1h-1zM4 9h1v1h-1zM20 9h1v1h-1zM22 9h1v1h-1zM24 9h1v1h-1zM8 10h2v1h-2zM23 10h1v1h-1zM4 11h1v1h-1zM10 11h1v1h-1zM0 12h3v1h-3zM7 14h1v1h-1zM6 15h1v1h-1zM12 15h1v1h-1zM24 17h1v1h-1zM26 20h1v1h-1zM25 26h1v1h-1zM32 29h1v1h-1zM25 30h1v1h-1zM25 32h1v1h-1zM24 41h2v1h-2zM24 42h2v1h-2z" fill="#dcdcde"/><path d="M9 2h1v1h-1zM16 3h2v1h-2zM21 3h1v1h-1zM7 4h1v1h-1zM11 5h1v1h-1zM16 5h1v1h-1zM18 5h1v1h-1zM21 5h1v1h-1zM2 6h1v1h-1zM6 6h2v1h-2zM14 6h1v1h-1zM17 6h1v1h-1zM19 6h1v1h-1zM2 7h1v1h-1zM7 7h1v1h-1zM9 7h1v1h-1zM6 8h1v1h-1zM11 8h1v1h-1zM8 9h2v1h-2zM14 9h2v1h-2zM19 9h1v1h-1zM23 9h1v1h-1zM0 10h2v1h-2zM10 10h1v1h-1zM22 10h1v1h-1zM6 11h1v1h-1zM9 11h1v1h-1zM16 11h1v1h-1zM20 11h1v1h-1zM24 11h1v1h-1zM10 12h2v1h-2zM13 12h2v1h-2zM23 12h1v1h-1zM0 13h2v1h-2zM4 13h1v1h-1zM3 14h1v1h-1zM12 14h1v1h-1zM15 14h1v1h-1zM19 14h1v1h-1zM22 14h1v1h-1zM5 15h1v1h-1zM7 15h3v1h-3zM11 15h1v1h-1zM6 16h1v1h-1zM9 16h1v1h-1zM5 17h1v1h-1zM17 17h1v1h-1zM20 17h1v1h-1zM0 18h2v1h-2zM7 18h1v1h-1zM11 18h1v1h-1zM25 25h1v1h-1zM25 29h1v1h-1zM29 30h1v1h-1zM24 37h1v1h-1zM23 40h1v1h-1z" fill="#dedbda"/><path d="M3 0h1v1h-1zM11 0h1v1h-1zM3 1h1v1h-1zM11 1h1v1h-1zM4 2h1v1h-1zM17 2h1v1h-1zM21 2h1v1h-1zM2 3h4v1h-4zM10 3h1v1h-1zM15 3h1v1h-1zM20 4h2v1h-2zM2 5h1v1h-1zM23 5h1v1h-1zM9 6h1v1h-1zM11 6h1v1h-1zM20 6h2v1h-2zM5 7h1v1h-1zM21 7h1v1h-1zM2 8h1v1h-1zM13 8h1v1h-1zM11 9h2v1h-2zM17 9h1v1h-1zM7 10h1v1h-1zM15 10h3v1h-3zM0 11h2v1h-2zM3 11h1v1h-1zM12 11h1v1h-1zM15 11h1v1h-1zM25 11h1v1h-1zM21 12h1v1h-1zM2 13h1v1h-1zM8 13h1v1h-1zM23 13h1v1h-1zM8 14h1v1h-1zM11 14h1v1h-1zM0 15h2v1h-2zM24 15h1v1h-1zM7 16h1v1h-1zM17 16h1v1h-1zM21 16h1v1h-1zM10 17h1v1h-1zM23 19h2v1h-2zM24 20h1v1h-1zM24 23h1v1h-1zM25 28h1v1h-1zM23 29h1v1h-1zM24 36h1v1h-1zM25 37h1v1h-1zM24 38h1v1h-1zM24 40h1v1h-1z" fill="#dfdbd8"/><path d="M8 0h1v1h-1zM14 0h1v1h-1zM8 1h1v1h-1zM14 1h1v1h-1zM5 2h1v1h-1zM19 2h1v1h-1zM13 3h1v1h-1zM18 3h1v1h-1zM23 3h1v1h-1zM3 5h1v1h-1zM12 5h1v1h-1zM5 6h1v1h-1zM13 6h1v1h-1zM23 6h1v1h-1zM14 7h2v1h-2zM4 8h1v1h-1zM18 8h1v1h-1zM13 9h1v1h-1zM18 9h1v1h-1zM21 9h1v1h-1zM8 11h1v1h-1zM13 11h1v1h-1zM17 11h1v1h-1zM21 11h3v1h-3zM6 12h2v1h-2zM3 13h1v1h-1zM5 13h1v1h-1zM12 13h1v1h-1zM14 13h1v1h-1zM17 13h1v1h-1zM24 13h1v1h-1zM5 14h1v1h-1zM20 14h1v1h-1zM3 15h1v1h-1zM13 15h1v1h-1zM4 16h1v1h-1zM12 16h2v1h-2zM15 16h2v1h-2zM18 16h1v1h-1zM23 16h1v1h-1zM2 17h2v1h-2zM8 17h1v1h-1zM18 17h1v1h-1zM2 18h1v1h-1zM10 18h1v1h-1zM18 18h2v1h-2zM10 19h1v1h-1zM24 22h1v1h-1zM24 26h1v1h-1zM26 30h1v1h-1zM23 39h1v1h-1z" fill="#e1dad7"/><path d="M19 0h1v1h-1zM19 1h1v1h-1zM0 3h2v1h-2zM12 3h1v1h-1zM9 4h1v1h-1zM16 4h1v1h-1zM18 4h1v1h-1zM15 5h1v1h-1zM12 6h1v1h-1zM15 6h1v1h-1zM6 7h1v1h-1zM11 7h1v1h-1zM13 7h1v1h-1zM12 8h1v1h-1zM6 9h1v1h-1zM4 10h1v1h-1zM21 10h1v1h-1zM18 11h1v1h-1zM4 12h1v1h-1zM12 12h1v1h-1zM15 12h1v1h-1zM18 12h1v1h-1zM7 13h1v1h-1zM11 13h1v1h-1zM19 13h1v1h-1zM0 14h2v1h-2zM13 14h1v1h-1zM16 14h1v1h-1zM3 16h1v1h-1zM11 16h1v1h-1zM14 16h1v1h-1zM20 16h1v1h-1zM6 17h1v1h-1zM15 17h1v1h-1zM23 17h1v1h-1zM5 18h1v1h-1zM8 18h2v1h-2zM21 18h1v1h-1zM23 18h1v1h-1zM11 19h2v1h-2zM25 21h1v1h-1zM24 28h1v1h-1zM24 29h1v1h-1zM24 30h1v1h-1zM24 31h1v1h-1zM23 34h1v1h-1zM24 39h1v1h-1zM23 41h1v1h-1zM23 42h1v1h-1z" fill="#e2dad5"/><path d="M15 0h1v1h-1zM17 0h2v1h-2zM21 0h2v1h-2zM15 1h1v1h-1zM17 1h2v1h-2zM21 1h2v1h-2zM11 3h1v1h-1zM14 3h1v1h-1zM22 3h1v1h-1zM10 4h1v1h-1zM15 4h1v1h-1zM16 6h1v1h-1zM19 8h1v1h-1zM5 9h1v1h-1zM10 9h1v1h-1zM3 10h1v1h-1zM6 10h1v1h-1zM14 10h1v1h-1zM18 10h2v1h-2zM19 11h1v1h-1zM19 12h2v1h-2zM16 13h1v1h-1zM15 15h1v1h-1zM8 16h1v1h-1zM22 16h1v1h-1zM11 17h2v1h-2zM21 17h1v1h-1zM3 18h1v1h-1zM12 18h1v1h-1zM16 18h1v1h-1zM0 19h2v1h-2zM24 24h1v1h-1zM23 26h1v1h-1zM23 27h2v1h-2zM22 29h1v1h-1zM23 30h1v1h-1zM23 37h1v1h-1z" fill="#e3d9d3"/><path d="M20 3h1v1h-1zM14 4h1v1h-1zM8 7h1v1h-1zM19 7h1v1h-1zM16 9h1v1h-1zM24 10h1v1h-1zM7 11h1v1h-1zM14 11h1v1h-1zM21 13h1v1h-1zM14 14h1v1h-1zM14 15h1v1h-1zM19 15h2v1h-2zM4 17h1v1h-1zM13 17h2v1h-2zM4 18h1v1h-1zM6 18h1v1h-1zM13 18h1v1h-1zM23 25h1v1h-1zM24 34h1v1h-1zM22 35h2v1h-2zM23 36h1v1h-1z" fill="#e4d8d1"/><path d="M12 0h1v1h-1zM12 1h1v1h-1zM16 2h1v1h-1zM19 3h1v1h-1zM22 6h1v1h-1zM20 7h1v1h-1zM24 8h1v1h-1zM13 13h1v1h-1zM19 16h1v1h-1zM0 17h2v1h-2zM25 17h1v1h-1zM14 18h1v1h-1zM17 18h1v1h-1zM20 18h1v1h-1zM5 19h2v1h-2zM8 19h2v1h-2zM22 27h1v1h-1zM23 31h1v1h-1zM24 32h1v1h-1zM23 33h1v1h-1zM23 38h1v1h-1z" fill="#e5d7d0"/><path d="M18 14h1v1h-1zM19 17h1v1h-1zM22 18h1v1h-1zM4 19h1v1h-1zM7 19h1v1h-1zM9 20h1v1h-1zM9 34h1v1h-1zM3 41h3v1h-3zM22 41h1v1h-1zM3 42h3v1h-3zM22 42h1v1h-1z" fill="#e7d7ce"/><path d="M22 7h1v1h-1zM8 8h1v1h-1zM21 15h1v1h-1zM15 18h1v1h-1zM18 19h1v1h-1zM23 24h1v1h-1zM25 24h1v1h-1zM24 25h1v1h-1zM23 28h1v1h-1zM22 32h2v1h-2zM13 34h1v1h-1zM21 34h1v1h-1zM19 35h1v1h-1zM15 36h1v1h-1zM21 37h1v1h-1zM21 38h1v1h-1zM0 39h2v1h-2zM13 39h1v1h-1zM17 39h1v1h-1zM20 39h1v1h-1zM12 40h1v1h-1zM6 41h1v1h-1zM18 41h2v1h-2zM6 42h1v1h-1zM18 42h2v1h-2z" fill="#e8d6cd"/><path d="M20 2h1v1h-1zM23 4h1v1h-1zM18 13h1v1h-1zM2 19h1v1h-1zM13 19h1v1h-1zM15 19h1v1h-1zM10 20h1v1h-1zM22 25h1v1h-1zM19 27h1v1h-1zM10 28h1v1h-1zM6 31h1v1h-1zM22 31h1v1h-1zM8 33h1v1h-1zM22 33h1v1h-1zM3 34h1v1h-1zM3 35h1v1h-1zM20 36h1v1h-1zM5 37h1v1h-1zM7 37h1v1h-1zM10 37h1v1h-1zM12 37h1v1h-1zM18 37h2v1h-2zM2 38h3v1h-3zM14 38h1v1h-1zM17 38h1v1h-1zM19 38h1v1h-1zM7 39h1v1h-1zM0 40h2v1h-2zM3 40h1v1h-1zM6 40h1v1h-1zM8 40h1v1h-1zM10 40h1v1h-1zM13 40h1v1h-1zM20 40h3v1h-3zM0 41h3v1h-3zM8 41h1v1h-1zM11 41h1v1h-1zM15 41h1v1h-1zM17 41h1v1h-1zM0 42h3v1h-3zM8 42h1v1h-1zM11 42h1v1h-1zM15 42h1v1h-1zM17 42h1v1h-1z" fill="#e9d5cb"/><path d="M20 13h1v1h-1zM16 17h1v1h-1zM3 19h1v1h-1zM17 19h1v1h-1zM19 19h1v1h-1zM23 23h1v1h-1zM22 24h1v1h-1zM22 26h1v1h-1zM2 28h1v1h-1zM17 28h1v1h-1zM22 28h1v1h-1zM22 30h1v1h-1zM21 32h1v1h-1zM10 33h1v1h-1zM16 34h2v1h-2zM0 35h3v1h-3zM6 35h1v1h-1zM10 35h1v1h-1zM0 36h2v1h-2zM12 36h1v1h-1zM14 36h1v1h-1zM16 36h1v1h-1zM9 37h1v1h-1zM13 37h1v1h-1zM22 37h1v1h-1zM0 38h2v1h-2zM5 38h1v1h-1zM9 38h1v1h-1zM15 38h2v1h-2zM4 39h1v1h-1zM22 39h1v1h-1zM2 40h1v1h-1zM5 40h1v1h-1zM9 40h1v1h-1zM11 40h1v1h-1zM16 40h1v1h-1zM7 41h1v1h-1zM9 41h1v1h-1zM13 41h1v1h-1zM20 41h1v1h-1zM7 42h1v1h-1zM9 42h1v1h-1zM13 42h1v1h-1zM20 42h1v1h-1z" fill="#ead4c9"/><path d="M16 12h1v1h-1zM7 20h2v1h-2zM23 20h1v1h-1zM23 22h1v1h-1zM21 24h1v1h-1zM8 27h1v1h-1zM20 27h1v1h-1zM12 28h1v1h-1zM9 29h1v1h-1zM17 29h1v1h-1zM10 30h1v1h-1zM18 30h1v1h-1zM11 31h1v1h-1zM17 31h1v1h-1zM4 32h1v1h-1zM13 32h1v1h-1zM0 33h2v1h-2zM12 33h1v1h-1zM17 33h1v1h-1zM21 33h1v1h-1zM0 34h2v1h-2zM5 34h1v1h-1zM20 34h1v1h-1zM22 34h1v1h-1zM7 35h1v1h-1zM9 35h1v1h-1zM14 35h1v1h-1zM2 36h2v1h-2zM6 36h1v1h-1zM10 36h2v1h-2zM2 37h2v1h-2zM16 37h1v1h-1zM6 38h2v1h-2zM20 38h1v1h-1zM2 39h1v1h-1zM5 39h2v1h-2zM9 39h3v1h-3zM14 39h1v1h-1zM21 39h1v1h-1zM4 40h1v1h-1zM7 40h1v1h-1zM12 41h1v1h-1zM21 41h1v1h-1zM12 42h1v1h-1zM21 42h1v1h-1z" fill="#ebd3c7"/><path d="M0 20h3v1h-3zM11 20h2v1h-2zM9 25h1v1h-1zM2 27h1v1h-1zM7 27h1v1h-1zM9 27h1v1h-1zM0 28h2v1h-2zM5 28h1v1h-1zM11 28h1v1h-1zM6 29h1v1h-1zM8 29h1v1h-1zM11 29h1v1h-1zM16 29h1v1h-1zM3 30h1v1h-1zM6 30h1v1h-1zM15 30h1v1h-1zM0 31h3v1h-3zM4 31h1v1h-1zM21 31h1v1h-1zM0 32h2v1h-2zM7 32h1v1h-1zM17 32h2v1h-2zM18 33h1v1h-1zM2 34h1v1h-1zM4 34h1v1h-1zM8 34h1v1h-1zM18 34h1v1h-1zM5 35h1v1h-1zM8 35h1v1h-1zM13 35h1v1h-1zM15 35h1v1h-1zM18 35h1v1h-1zM20 35h2v1h-2zM4 36h1v1h-1zM7 36h2v1h-2zM17 36h2v1h-2zM21 36h2v1h-2zM0 37h2v1h-2zM4 37h1v1h-1zM6 37h1v1h-1zM11 37h1v1h-1zM14 37h1v1h-1zM20 37h1v1h-1zM10 38h2v1h-2zM22 38h1v1h-1zM3 39h1v1h-1zM12 39h1v1h-1zM14 40h1v1h-1zM18 40h2v1h-2zM10 41h1v1h-1zM16 41h1v1h-1zM10 42h1v1h-1zM16 42h1v1h-1z" fill="#ebd2c5"/><path d="M14 19h1v1h-1zM21 19h1v1h-1zM4 20h1v1h-1zM6 20h1v1h-1zM18 20h1v1h-1zM12 21h1v1h-1zM15 24h1v1h-1zM18 24h1v1h-1zM2 25h1v1h-1zM12 25h1v1h-1zM17 25h1v1h-1zM21 25h1v1h-1zM14 26h1v1h-1zM17 26h1v1h-1zM11 27h1v1h-1zM4 28h1v1h-1zM21 28h1v1h-1zM12 29h1v1h-1zM15 29h1v1h-1zM4 30h1v1h-1zM7 30h3v1h-3zM14 30h1v1h-1zM12 31h1v1h-1zM14 31h1v1h-1zM2 32h2v1h-2zM5 32h1v1h-1zM19 32h2v1h-2zM2 33h1v1h-1zM5 33h3v1h-3zM9 33h1v1h-1zM15 33h2v1h-2zM19 33h2v1h-2zM6 34h1v1h-1zM11 34h1v1h-1zM19 34h1v1h-1zM4 35h1v1h-1zM12 35h1v1h-1zM16 35h2v1h-2zM9 36h1v1h-1zM13 36h1v1h-1zM8 37h1v1h-1zM15 37h1v1h-1zM17 37h1v1h-1zM13 38h1v1h-1zM8 39h1v1h-1zM16 39h1v1h-1zM19 39h1v1h-1zM15 40h1v1h-1zM17 40h1v1h-1zM14 41h1v1h-1zM14 42h1v1h-1z" fill="#ecd1c3"/><path d="M22 19h1v1h-1zM5 20h1v1h-1zM8 21h1v1h-1zM0 23h2v1h-2zM22 23h1v1h-1zM0 24h2v1h-2zM6 24h3v1h-3zM12 24h1v1h-1zM3 25h1v1h-1zM8 25h1v1h-1zM20 25h1v1h-1zM15 26h2v1h-2zM19 26h1v1h-1zM3 27h2v1h-2zM12 27h1v1h-1zM16 27h2v1h-2zM8 28h1v1h-1zM15 28h2v1h-2zM0 29h2v1h-2zM4 29h2v1h-2zM7 29h1v1h-1zM14 29h1v1h-1zM18 29h3v1h-3zM13 30h1v1h-1zM21 30h1v1h-1zM5 31h1v1h-1zM9 31h1v1h-1zM15 31h1v1h-1zM9 32h2v1h-2zM12 32h1v1h-1zM14 33h1v1h-1zM7 34h1v1h-1zM10 34h1v1h-1zM12 34h1v1h-1zM14 34h1v1h-1zM11 35h1v1h-1zM5 36h1v1h-1zM19 36h1v1h-1zM8 38h1v1h-1zM12 38h1v1h-1zM15 39h1v1h-1z" fill="#edd0c2"/><path d="M16 19h1v1h-1zM20 19h1v1h-1zM19 20h1v1h-1zM9 21h1v1h-1zM10 23h2v1h-2zM10 24h1v1h-1zM20 24h1v1h-1zM7 25h1v1h-1zM10 25h1v1h-1zM13 25h1v1h-1zM15 25h2v1h-2zM18 25h1v1h-1zM0 26h2v1h-2zM3 26h1v1h-1zM6 26h1v1h-1zM9 26h1v1h-1zM18 27h1v1h-1zM3 28h1v1h-1zM9 28h1v1h-1zM0 30h3v1h-3zM12 30h1v1h-1zM19 30h2v1h-2zM3 31h1v1h-1zM16 31h1v1h-1zM19 31h2v1h-2zM8 32h1v1h-1zM11 32h1v1h-1zM14 32h1v1h-1zM3 33h2v1h-2zM11 33h1v1h-1zM15 34h1v1h-1zM18 39h1v1h-1z" fill="#eecfc0"/><path d="M13 20h1v1h-1zM0 21h2v1h-2zM11 21h1v1h-1zM23 21h1v1h-1zM6 23h2v1h-2zM9 24h1v1h-1zM11 24h1v1h-1zM0 25h2v1h-2zM11 25h1v1h-1zM19 25h1v1h-1zM4 26h1v1h-1zM7 26h1v1h-1zM10 26h1v1h-1zM13 26h1v1h-1zM18 26h1v1h-1zM21 26h1v1h-1zM13 27h1v1h-1zM15 27h1v1h-1zM21 27h1v1h-1zM6 28h2v1h-2zM2 29h2v1h-2zM21 29h1v1h-1zM5 30h1v1h-1zM11 30h1v1h-1zM7 31h2v1h-2zM10 31h1v1h-1zM13 31h1v1h-1zM18 31h1v1h-1zM13 33h1v1h-1zM18 38h1v1h-1z" fill="#efcebe"/><path d="M3 20h1v1h-1zM5 21h1v1h-1zM10 21h1v1h-1zM17 21h1v1h-1zM0 22h2v1h-2zM6 22h1v1h-1zM2 24h3v1h-3zM5 25h1v1h-1zM14 25h1v1h-1zM11 26h2v1h-2zM0 27h2v1h-2zM5 27h2v1h-2zM14 27h1v1h-1zM13 28h2v1h-2zM18 28h2v1h-2zM10 29h1v1h-1zM6 32h1v1h-1zM16 32h1v1h-1z" fill="#efcdbc"/><path d="M2 21h1v1h-1zM7 21h1v1h-1zM7 22h1v1h-1zM9 22h2v1h-2zM8 23h2v1h-2zM4 25h1v1h-1zM5 26h1v1h-1zM20 26h1v1h-1zM20 28h1v1h-1zM13 29h1v1h-1zM16 30h2v1h-2zM15 32h1v1h-1z" fill="#f0ccba"/><path d="M18 21h1v1h-1zM5 22h1v1h-1zM12 22h1v1h-1zM12 23h1v1h-1zM14 24h1v1h-1zM6 25h1v1h-1z" fill="#f1cbb8"/><path d="M3 21h1v1h-1zM6 21h1v1h-1zM4 22h1v1h-1zM8 22h1v1h-1zM11 22h1v1h-1zM13 22h1v1h-1zM17 22h1v1h-1zM13 23h2v1h-2zM16 23h2v1h-2zM17 24h1v1h-1zM2 26h1v1h-1zM8 26h1v1h-1zM10 27h1v1h-1z" fill="#f1cab6"/><path d="M14 20h1v1h-1zM17 20h1v1h-1zM18 22h2v1h-2zM2 23h1v1h-1zM4 23h1v1h-1zM13 24h1v1h-1zM19 24h1v1h-1z" fill="#f2c8b4"/><path d="M15 20h1v1h-1zM16 21h1v1h-1zM2 22h1v1h-1zM15 23h1v1h-1zM18 23h1v1h-1zM20 23h1v1h-1zM16 24h1v1h-1z" fill="#f2c7b2"/><path d="M13 21h1v1h-1zM3 22h1v1h-1zM16 22h1v1h-1zM3 23h1v1h-1zM5 23h1v1h-1zM19 23h1v1h-1zM5 24h1v1h-1z" fill="#f2c6b0"/><path d="M16 20h1v1h-1zM4 21h1v1h-1zM14 21h1v1h-1z" fill="#f2c4ae"/><path d="M21 23h1v1h-1z" fill="#f3c3ad"/><path d="M15 21h1v1h-1zM19 21h1v1h-1zM14 22h2v1h-2z" fill="#f3c2ab"/><path d="M22 20h1v1h-1z" fill="#f4bca3"/><path d="M22 22h1v1h-1z" fill="#f4b99f"/><path d="M20 20h1v1h-1z" fill="#f4b196"/><path d="M21 20h1v1h-1z" fill="#f4b094"/><path d="M20 22h1v1h-1z" fill="#f4ac90"/><path d="M22 21h1v1h-1z" fill="#f3a98c"/><path d="M21 22h1v1h-1z" fill="#f2a588"/><path d="M20 21h1v1h-1z" fill="#f2a185"/><path d="M21 21h1v1h-1z" fill="#ef9679"/></g></g>
<rect x="1191.3" y="1424.7" width="236.2" height="236.2" fill="none" stroke="#000" stroke-width="1.7"/>
<g clip-path="url(#hc9)"><g transform="translate(938.24 1667.84) scale(5.76098)" filter="url(#hb5)"><rect width="43" height="43" fill="#c8d7ed"/><path d="M35 8h1v1h-1z" fill="#aac3e6"/><path d="M30 0h1v1h-1zM32 0h1v1h-1zM30 1h1v1h-1zM32 1h1v1h-1zM33 2h1v1h-1zM38 2h1v1h-1zM35 3h1v1h-1zM41 13h2v1h-2z" fill="#aec6e7"/><path d="M30 2h1v1h-1z" fill="#b0c8e8"/><path d="M40 0h1v1h-1zM40 1h1v1h-1zM36 5h1v1h-1zM40 6h1v1h-1zM40 11h1v1h-1z" fill="#b2c9e8"/><path d="M35 0h1v1h-1zM38 0h1v1h-1zM35 1h1v1h-1zM38 1h1v1h-1zM35 2h1v1h-1zM32 4h1v1h-1zM38 5h1v1h-1zM29 6h1v1h-1zM30 7h1v1h-1zM35 7h1v1h-1zM40 7h1v1h-1zM29 8h1v1h-1zM36 10h1v1h-1zM40 13h1v1h-1zM38 16h1v1h-1z" fill="#b4cae9"/><path d="M33 0h2v1h-2zM33 1h2v1h-2zM39 2h1v1h-1zM41 2h2v1h-2zM32 3h1v1h-1zM35 6h2v1h-2zM33 10h1v1h-1zM40 10h1v1h-1zM41 15h2v1h-2zM41 19h2v1h-2zM41 36h2v1h-2z" fill="#b6ccea"/><path d="M39 0h1v1h-1zM39 1h1v1h-1zM37 2h1v1h-1zM31 3h1v1h-1zM37 3h1v1h-1zM29 4h1v1h-1zM31 4h1v1h-1zM23 5h1v1h-1zM35 5h1v1h-1zM28 6h1v1h-1zM38 6h2v1h-2zM36 7h1v1h-1zM38 7h1v1h-1zM39 10h1v1h-1zM35 11h1v1h-1zM41 14h2v1h-2zM37 15h1v1h-1zM24 16h1v1h-1zM40 16h1v1h-1zM39 17h1v1h-1zM34 19h1v1h-1z" fill="#b8cdeb"/><path d="M36 2h1v1h-1zM30 3h1v1h-1zM33 4h1v1h-1zM41 4h2v1h-2zM33 5h1v1h-1zM30 6h1v1h-1zM34 7h1v1h-1zM34 9h2v1h-2zM29 10h1v1h-1zM41 10h2v1h-2zM30 11h1v1h-1zM36 15h1v1h-1zM40 15h1v1h-1zM32 16h1v1h-1zM39 16h1v1h-1zM39 19h1v1h-1zM38 23h1v1h-1zM37 25h1v1h-1zM41 30h2v1h-2zM41 32h2v1h-2z" fill="#bacfeb"/><path d="M7 2h1v1h-1zM28 2h1v1h-1zM34 2h1v1h-1zM34 3h1v1h-1zM26 4h1v1h-1zM35 4h1v1h-1zM39 4h2v1h-2zM34 5h1v1h-1zM41 5h2v1h-2zM25 6h1v1h-1zM25 8h1v1h-1zM40 8h1v1h-1zM37 9h1v1h-1zM28 11h1v1h-1zM35 12h1v1h-1zM25 13h1v1h-1zM29 16h1v1h-1zM34 17h1v1h-1zM35 18h1v1h-1zM41 18h2v1h-2zM35 24h1v1h-1zM36 26h1v1h-1zM41 39h2v1h-2z" fill="#bcd0ec"/><path d="M0 0h2v1h-2zM0 1h2v1h-2zM27 2h1v1h-1zM26 3h1v1h-1zM38 4h1v1h-1zM30 5h1v1h-1zM37 6h1v1h-1zM37 8h1v1h-1zM41 8h2v1h-2zM39 9h1v1h-1zM41 9h2v1h-2zM37 11h3v1h-3zM36 12h1v1h-1zM35 14h1v1h-1zM38 14h1v1h-1zM34 15h1v1h-1zM41 17h2v1h-2zM30 18h2v1h-2zM40 18h1v1h-1zM26 21h1v1h-1zM36 25h1v1h-1zM38 31h1v1h-1zM40 34h1v1h-1zM35 35h1v1h-1zM40 36h1v1h-1zM36 37h1v1h-1zM41 37h2v1h-2zM34 40h1v1h-1zM35 41h1v1h-1zM35 42h1v1h-1z" fill="#bed1ec"/><path d="M8 0h1v1h-1zM24 0h1v1h-1zM27 0h1v1h-1zM29 0h1v1h-1zM41 0h2v1h-2zM8 1h1v1h-1zM24 1h1v1h-1zM27 1h1v1h-1zM29 1h1v1h-1zM41 1h2v1h-2zM23 2h2v1h-2zM27 3h1v1h-1zM34 4h1v1h-1zM25 5h1v1h-1zM8 7h1v1h-1zM28 7h1v1h-1zM31 7h1v1h-1zM33 7h1v1h-1zM41 7h2v1h-2zM19 8h1v1h-1zM32 8h1v1h-1zM25 9h1v1h-1zM32 9h2v1h-2zM36 9h1v1h-1zM25 10h1v1h-1zM27 10h2v1h-2zM34 10h1v1h-1zM33 11h1v1h-1zM41 11h2v1h-2zM33 12h2v1h-2zM32 13h1v1h-1zM27 14h1v1h-1zM26 15h1v1h-1zM29 15h1v1h-1zM35 16h1v1h-1zM27 17h1v1h-1zM32 17h1v1h-1zM35 19h1v1h-1zM37 19h1v1h-1zM36 20h1v1h-1zM40 20h3v1h-3zM40 21h1v1h-1zM38 24h1v1h-1zM40 26h1v1h-1zM32 28h1v1h-1zM41 29h2v1h-2zM35 31h1v1h-1zM25 32h1v1h-1zM31 41h1v1h-1zM31 42h1v1h-1z" fill="#c0d2ec"/><path d="M9 0h1v1h-1zM31 0h1v1h-1zM9 1h1v1h-1zM31 1h1v1h-1zM0 2h2v1h-2zM29 2h1v1h-1zM8 3h1v1h-1zM23 3h2v1h-2zM36 3h1v1h-1zM39 3h1v1h-1zM24 4h1v1h-1zM30 4h1v1h-1zM28 5h1v1h-1zM37 5h1v1h-1zM39 5h1v1h-1zM21 6h1v1h-1zM23 6h1v1h-1zM33 6h1v1h-1zM29 7h1v1h-1zM32 7h1v1h-1zM36 8h1v1h-1zM20 9h1v1h-1zM34 11h1v1h-1zM36 11h1v1h-1zM31 12h1v1h-1zM22 14h1v1h-1zM33 14h1v1h-1zM40 14h1v1h-1zM0 15h2v1h-2zM25 15h1v1h-1zM32 15h1v1h-1zM41 16h2v1h-2zM31 17h1v1h-1zM37 17h1v1h-1zM30 19h1v1h-1zM32 20h2v1h-2zM32 24h1v1h-1zM27 26h1v1h-1zM34 26h1v1h-1zM38 26h1v1h-1zM35 27h1v1h-1zM41 27h2v1h-2zM40 28h1v1h-1zM32 30h1v1h-1zM39 30h1v1h-1zM29 32h1v1h-1zM39 32h1v1h-1zM33 33h1v1h-1zM37 35h2v1h-2zM39 36h1v1h-1zM35 37h1v1h-1zM38 37h1v1h-1zM41 40h2v1h-2zM39 41h1v1h-1zM39 42h1v1h-1z" fill="#c2d3ec"/><path d="M6 0h1v1h-1zM28 0h1v1h-1zM6 1h1v1h-1zM28 1h1v1h-1zM18 2h1v1h-1zM31 2h1v1h-1zM7 3h1v1h-1zM17 3h1v1h-1zM28 3h2v1h-2zM33 3h1v1h-1zM38 3h1v1h-1zM41 3h2v1h-2zM12 4h1v1h-1zM6 5h1v1h-1zM14 5h1v1h-1zM29 5h1v1h-1zM40 5h1v1h-1zM8 6h1v1h-1zM27 6h1v1h-1zM32 6h1v1h-1zM24 7h2v1h-2zM37 7h1v1h-1zM0 8h2v1h-2zM26 8h1v1h-1zM38 8h2v1h-2zM29 9h1v1h-1zM31 9h1v1h-1zM14 10h1v1h-1zM24 10h1v1h-1zM37 10h1v1h-1zM25 11h1v1h-1zM27 12h1v1h-1zM38 12h1v1h-1zM41 12h2v1h-2zM22 13h1v1h-1zM24 13h1v1h-1zM35 13h1v1h-1zM37 13h1v1h-1zM39 13h1v1h-1zM4 14h1v1h-1zM16 14h1v1h-1zM39 14h1v1h-1zM39 15h1v1h-1zM26 16h1v1h-1zM30 17h1v1h-1zM36 17h1v1h-1zM29 18h1v1h-1zM38 19h1v1h-1zM40 19h1v1h-1zM27 22h1v1h-1zM41 22h2v1h-2zM34 23h2v1h-2zM40 23h1v1h-1zM41 24h2v1h-2zM37 26h1v1h-1zM39 26h1v1h-1zM28 30h1v1h-1zM37 31h1v1h-1zM30 32h1v1h-1zM37 32h1v1h-1zM39 33h1v1h-1zM36 34h2v1h-2zM40 35h1v1h-1zM32 36h1v1h-1zM35 36h1v1h-1zM26 37h1v1h-1zM31 37h1v1h-1zM37 38h1v1h-1zM38 39h1v1h-1z" fill="#c4d4ec"/><path d="M4 0h1v1h-1zM12 0h1v1h-1zM4 1h1v1h-1zM12 1h1v1h-1zM25 2h1v1h-1zM0 3h2v1h-2zM25 3h1v1h-1zM3 4h1v1h-1zM5 4h1v1h-1zM8 4h1v1h-1zM13 4h1v1h-1zM15 4h1v1h-1zM16 5h1v1h-1zM31 5h1v1h-1zM31 6h1v1h-1zM41 6h2v1h-2zM10 8h1v1h-1zM24 9h1v1h-1zM26 9h1v1h-1zM38 9h1v1h-1zM40 9h1v1h-1zM10 10h1v1h-1zM30 10h1v1h-1zM38 10h1v1h-1zM22 11h1v1h-1zM11 12h1v1h-1zM40 12h1v1h-1zM6 13h1v1h-1zM29 13h3v1h-3zM38 13h1v1h-1zM28 14h1v1h-1zM32 14h1v1h-1zM38 15h1v1h-1zM36 16h1v1h-1zM19 17h1v1h-1zM40 17h1v1h-1zM33 18h2v1h-2zM39 18h1v1h-1zM33 19h1v1h-1zM24 20h1v1h-1zM27 20h1v1h-1zM37 21h1v1h-1zM28 22h1v1h-1zM39 23h1v1h-1zM39 24h1v1h-1zM41 25h2v1h-2zM27 27h1v1h-1zM33 27h1v1h-1zM38 27h1v1h-1zM29 30h2v1h-2zM26 33h1v1h-1zM35 33h1v1h-1zM40 33h1v1h-1zM28 34h1v1h-1zM39 34h1v1h-1zM28 35h1v1h-1zM41 35h2v1h-2zM32 38h2v1h-2zM40 38h1v1h-1zM34 39h2v1h-2zM37 39h1v1h-1zM36 40h1v1h-1zM33 41h1v1h-1zM38 41h1v1h-1zM33 42h1v1h-1zM38 42h1v1h-1z" fill="#c6d6ed"/><path d="M3 0h1v1h-1zM5 0h1v1h-1zM22 0h2v1h-2zM3 1h1v1h-1zM5 1h1v1h-1zM22 1h2v1h-2zM13 2h1v1h-1zM4 3h1v1h-1zM10 3h1v1h-1zM13 3h1v1h-1zM11 4h1v1h-1zM0 5h3v1h-3zM12 5h2v1h-2zM18 5h2v1h-2zM21 5h1v1h-1zM0 6h3v1h-3zM17 7h1v1h-1zM19 7h2v1h-2zM7 8h1v1h-1zM9 8h1v1h-1zM23 8h2v1h-2zM28 8h1v1h-1zM3 9h1v1h-1zM5 9h1v1h-1zM9 9h1v1h-1zM18 9h1v1h-1zM3 10h2v1h-2zM18 10h1v1h-1zM21 10h2v1h-2zM5 11h1v1h-1zM16 11h2v1h-2zM23 11h1v1h-1zM32 11h1v1h-1zM24 12h1v1h-1zM4 13h1v1h-1zM17 13h1v1h-1zM26 13h1v1h-1zM3 14h1v1h-1zM5 14h1v1h-1zM9 14h1v1h-1zM20 14h1v1h-1zM31 14h1v1h-1zM36 14h2v1h-2zM24 15h1v1h-1zM27 15h1v1h-1zM30 15h1v1h-1zM2 16h1v1h-1zM8 16h1v1h-1zM28 16h1v1h-1zM34 16h1v1h-1zM2 17h1v1h-1zM21 17h2v1h-2zM24 17h1v1h-1zM33 17h1v1h-1zM25 18h1v1h-1zM28 18h1v1h-1zM38 18h1v1h-1zM32 19h1v1h-1zM37 20h1v1h-1zM31 21h1v1h-1zM35 21h1v1h-1zM39 21h1v1h-1zM24 22h1v1h-1zM34 22h3v1h-3zM33 23h1v1h-1zM28 24h1v1h-1zM34 28h1v1h-1zM38 28h2v1h-2zM28 29h2v1h-2zM32 31h1v1h-1zM36 31h1v1h-1zM32 35h1v1h-1zM31 36h1v1h-1zM37 36h1v1h-1zM27 37h2v1h-2zM37 37h1v1h-1zM39 37h2v1h-2zM26 38h1v1h-1zM26 39h1v1h-1zM39 39h1v1h-1zM31 40h1v1h-1zM39 40h1v1h-1zM30 41h1v1h-1zM32 41h1v1h-1zM37 41h1v1h-1zM30 42h1v1h-1zM32 42h1v1h-1zM37 42h1v1h-1z" fill="#cad8ed"/><path d="M11 0h1v1h-1zM15 0h1v1h-1zM17 0h3v1h-3zM25 0h1v1h-1zM11 1h1v1h-1zM15 1h1v1h-1zM17 1h3v1h-3zM25 1h1v1h-1zM3 2h1v1h-1zM10 2h1v1h-1zM20 2h3v1h-3zM5 3h1v1h-1zM4 4h1v1h-1zM10 4h1v1h-1zM16 4h1v1h-1zM28 4h1v1h-1zM37 4h1v1h-1zM9 6h1v1h-1zM11 6h1v1h-1zM15 6h1v1h-1zM20 6h1v1h-1zM22 6h1v1h-1zM2 7h1v1h-1zM22 7h2v1h-2zM17 8h1v1h-1zM21 8h1v1h-1zM27 8h1v1h-1zM33 8h2v1h-2zM19 9h1v1h-1zM5 10h1v1h-1zM8 10h1v1h-1zM17 10h1v1h-1zM20 10h1v1h-1zM23 10h1v1h-1zM0 11h3v1h-3zM24 11h1v1h-1zM29 11h1v1h-1zM31 11h1v1h-1zM0 12h2v1h-2zM4 12h1v1h-1zM37 12h1v1h-1zM0 13h3v1h-3zM5 13h1v1h-1zM27 13h2v1h-2zM36 13h1v1h-1zM10 14h1v1h-1zM26 14h1v1h-1zM13 15h1v1h-1zM7 16h1v1h-1zM23 16h1v1h-1zM27 16h1v1h-1zM0 17h2v1h-2zM4 17h1v1h-1zM25 17h2v1h-2zM26 18h1v1h-1zM32 18h1v1h-1zM28 19h2v1h-2zM36 19h1v1h-1zM36 21h1v1h-1zM30 22h2v1h-2zM37 22h1v1h-1zM24 23h2v1h-2zM36 23h1v1h-1zM27 24h1v1h-1zM40 24h1v1h-1zM33 25h1v1h-1zM28 26h1v1h-1zM39 27h2v1h-2zM27 28h1v1h-1zM37 28h1v1h-1zM33 29h1v1h-1zM34 30h1v1h-1zM24 32h1v1h-1zM31 32h3v1h-3zM25 33h1v1h-1zM34 33h1v1h-1zM37 33h1v1h-1zM27 34h1v1h-1zM36 35h1v1h-1zM30 36h1v1h-1zM33 36h1v1h-1zM38 36h1v1h-1zM41 38h2v1h-2zM36 39h1v1h-1zM27 40h1v1h-1zM23 41h1v1h-1zM25 41h1v1h-1zM34 41h1v1h-1zM36 41h1v1h-1zM23 42h1v1h-1zM25 42h1v1h-1zM34 42h1v1h-1zM36 42h1v1h-1z" fill="#ccd9ed"/><path d="M7 0h1v1h-1zM10 0h1v1h-1zM21 0h1v1h-1zM7 1h1v1h-1zM10 1h1v1h-1zM21 1h1v1h-1zM2 2h1v1h-1zM9 2h1v1h-1zM11 2h1v1h-1zM16 2h1v1h-1zM3 3h1v1h-1zM9 3h1v1h-1zM20 3h1v1h-1zM0 4h2v1h-2zM6 4h1v1h-1zM17 4h1v1h-1zM22 4h1v1h-1zM4 5h1v1h-1zM7 5h1v1h-1zM13 6h1v1h-1zM16 6h1v1h-1zM19 6h1v1h-1zM4 7h2v1h-2zM9 7h2v1h-2zM15 7h1v1h-1zM27 7h1v1h-1zM2 8h1v1h-1zM18 8h1v1h-1zM2 9h1v1h-1zM4 9h1v1h-1zM21 9h1v1h-1zM23 9h1v1h-1zM28 9h1v1h-1zM12 10h1v1h-1zM14 11h1v1h-1zM20 11h1v1h-1zM27 11h1v1h-1zM3 12h1v1h-1zM5 12h1v1h-1zM30 12h1v1h-1zM39 12h1v1h-1zM6 14h1v1h-1zM12 14h1v1h-1zM21 14h1v1h-1zM34 14h1v1h-1zM5 15h1v1h-1zM14 15h1v1h-1zM21 15h1v1h-1zM23 15h1v1h-1zM10 16h1v1h-1zM30 16h1v1h-1zM37 16h1v1h-1zM27 18h1v1h-1zM31 19h1v1h-1zM28 20h1v1h-1zM34 20h1v1h-1zM27 21h1v1h-1zM32 21h1v1h-1zM34 21h1v1h-1zM32 22h1v1h-1zM30 24h1v1h-1zM30 25h1v1h-1zM26 26h1v1h-1zM31 26h3v1h-3zM31 27h1v1h-1zM24 28h1v1h-1zM36 28h1v1h-1zM41 28h2v1h-2zM31 29h2v1h-2zM35 29h1v1h-1zM35 30h1v1h-1zM26 31h1v1h-1zM28 33h1v1h-1zM31 33h1v1h-1zM38 33h1v1h-1zM24 34h1v1h-1zM30 34h2v1h-2zM35 34h1v1h-1zM29 35h1v1h-1zM24 36h1v1h-1zM36 36h1v1h-1zM22 37h1v1h-1zM30 37h1v1h-1zM34 37h1v1h-1zM28 38h1v1h-1zM31 38h1v1h-1zM38 38h1v1h-1zM21 39h1v1h-1zM25 39h1v1h-1zM40 39h1v1h-1zM24 40h1v1h-1zM29 40h1v1h-1zM21 41h2v1h-2zM26 41h2v1h-2zM21 42h2v1h-2zM26 42h2v1h-2z" fill="#cdd9ec"/><path d="M17 2h1v1h-1zM32 2h1v1h-1zM12 3h1v1h-1zM14 3h1v1h-1zM14 4h1v1h-1zM9 5h1v1h-1zM17 5h1v1h-1zM3 6h2v1h-2zM10 6h1v1h-1zM14 6h1v1h-1zM18 6h1v1h-1zM26 6h1v1h-1zM3 7h1v1h-1zM21 7h1v1h-1zM6 8h1v1h-1zM13 8h1v1h-1zM8 9h1v1h-1zM16 9h1v1h-1zM30 9h1v1h-1zM3 11h2v1h-2zM15 11h1v1h-1zM26 11h1v1h-1zM9 12h1v1h-1zM17 12h1v1h-1zM21 12h1v1h-1zM25 12h1v1h-1zM7 13h2v1h-2zM34 13h1v1h-1zM0 14h2v1h-2zM7 14h1v1h-1zM18 14h1v1h-1zM4 15h1v1h-1zM6 15h1v1h-1zM8 15h1v1h-1zM11 15h1v1h-1zM16 15h1v1h-1zM0 16h2v1h-2zM14 16h1v1h-1zM21 16h1v1h-1zM25 16h1v1h-1zM6 17h1v1h-1zM8 17h1v1h-1zM17 17h1v1h-1zM38 17h1v1h-1zM7 18h1v1h-1zM20 18h1v1h-1zM7 19h1v1h-1zM22 19h2v1h-2zM27 19h1v1h-1zM35 20h1v1h-1zM38 21h1v1h-1zM25 22h1v1h-1zM39 22h1v1h-1zM28 23h1v1h-1zM22 24h1v1h-1zM33 24h1v1h-1zM24 25h1v1h-1zM29 25h1v1h-1zM34 25h1v1h-1zM41 26h2v1h-2zM22 27h1v1h-1zM25 27h1v1h-1zM29 27h1v1h-1zM20 28h1v1h-1zM28 28h1v1h-1zM30 28h2v1h-2zM14 29h1v1h-1zM21 29h1v1h-1zM25 29h1v1h-1zM25 30h3v1h-3zM38 30h1v1h-1zM22 31h1v1h-1zM25 31h1v1h-1zM28 31h1v1h-1zM30 31h1v1h-1zM34 31h1v1h-1zM39 31h1v1h-1zM23 32h1v1h-1zM26 32h1v1h-1zM28 32h1v1h-1zM34 32h2v1h-2zM29 33h1v1h-1zM36 33h1v1h-1zM23 34h1v1h-1zM33 34h1v1h-1zM41 34h2v1h-2zM27 35h1v1h-1zM30 35h1v1h-1zM23 36h1v1h-1zM26 36h2v1h-2zM29 36h1v1h-1zM29 37h1v1h-1zM32 37h1v1h-1zM24 38h1v1h-1zM27 39h1v1h-1zM30 39h3v1h-3zM2 40h1v1h-1zM23 40h1v1h-1zM25 40h1v1h-1zM40 40h1v1h-1zM24 41h1v1h-1zM24 42h1v1h-1z" fill="#cfdaea"/><path d="M2 0h1v1h-1zM13 0h1v1h-1zM20 0h1v1h-1zM37 0h1v1h-1zM2 1h1v1h-1zM13 1h1v1h-1zM20 1h1v1h-1zM37 1h1v1h-1zM4 2h1v1h-1zM6 2h1v1h-1zM16 3h1v1h-1zM21 3h1v1h-1zM20 4h1v1h-1zM23 4h1v1h-1zM5 5h1v1h-1zM20 5h1v1h-1zM17 6h1v1h-1zM0 7h2v1h-2zM7 7h1v1h-1zM16 7h1v1h-1zM39 7h1v1h-1zM3 8h1v1h-1zM11 8h1v1h-1zM14 8h1v1h-1zM20 8h1v1h-1zM10 9h2v1h-2zM22 9h1v1h-1zM6 10h2v1h-2zM32 10h1v1h-1zM7 11h1v1h-1zM12 11h1v1h-1zM19 11h1v1h-1zM6 12h1v1h-1zM12 12h1v1h-1zM22 12h1v1h-1zM3 13h1v1h-1zM9 13h2v1h-2zM14 13h1v1h-1zM15 14h1v1h-1zM9 15h2v1h-2zM12 15h1v1h-1zM17 15h1v1h-1zM3 16h1v1h-1zM6 16h1v1h-1zM9 16h1v1h-1zM17 16h1v1h-1zM19 16h2v1h-2zM13 18h2v1h-2zM23 18h1v1h-1zM5 19h1v1h-1zM41 21h2v1h-2zM33 22h1v1h-1zM38 22h1v1h-1zM27 23h1v1h-1zM32 23h1v1h-1zM23 24h3v1h-3zM25 25h1v1h-1zM27 25h2v1h-2zM21 26h1v1h-1zM24 26h1v1h-1zM30 26h1v1h-1zM36 27h1v1h-1zM25 28h1v1h-1zM29 28h1v1h-1zM36 29h1v1h-1zM19 30h1v1h-1zM2 31h1v1h-1zM29 31h1v1h-1zM41 31h2v1h-2zM20 33h2v1h-2zM24 33h1v1h-1zM27 33h1v1h-1zM29 34h1v1h-1zM25 35h1v1h-1zM22 36h1v1h-1zM23 37h1v1h-1zM22 38h1v1h-1zM29 38h1v1h-1zM28 39h2v1h-2zM30 40h1v1h-1zM32 40h2v1h-2z" fill="#d0dae9"/><path d="M14 0h1v1h-1zM14 1h1v1h-1zM2 3h1v1h-1zM19 3h1v1h-1zM18 4h1v1h-1zM25 4h1v1h-1zM24 5h1v1h-1zM5 6h1v1h-1zM11 7h2v1h-2zM22 8h1v1h-1zM7 9h1v1h-1zM13 10h1v1h-1zM15 10h1v1h-1zM10 11h1v1h-1zM7 12h1v1h-1zM16 12h1v1h-1zM20 12h1v1h-1zM23 12h1v1h-1zM8 14h1v1h-1zM13 14h1v1h-1zM29 14h1v1h-1zM18 15h2v1h-2zM22 15h1v1h-1zM12 16h1v1h-1zM16 16h1v1h-1zM10 17h1v1h-1zM12 17h3v1h-3zM23 17h1v1h-1zM35 17h1v1h-1zM2 18h1v1h-1zM4 18h3v1h-3zM36 18h1v1h-1zM6 19h1v1h-1zM9 19h2v1h-2zM19 19h1v1h-1zM26 20h1v1h-1zM28 21h1v1h-1zM29 22h1v1h-1zM40 22h1v1h-1zM22 23h1v1h-1zM29 23h1v1h-1zM0 24h2v1h-2zM21 24h1v1h-1zM31 24h1v1h-1zM23 26h1v1h-1zM25 26h1v1h-1zM24 27h1v1h-1zM30 27h1v1h-1zM34 27h1v1h-1zM23 28h1v1h-1zM12 29h1v1h-1zM26 29h1v1h-1zM37 29h1v1h-1zM18 31h1v1h-1zM24 31h1v1h-1zM27 31h1v1h-1zM33 31h1v1h-1zM40 31h1v1h-1zM3 34h1v1h-1zM8 34h1v1h-1zM12 34h1v1h-1zM25 34h1v1h-1zM23 35h1v1h-1zM34 36h1v1h-1zM2 37h1v1h-1zM24 37h2v1h-2zM20 39h1v1h-1zM23 39h1v1h-1zM7 40h1v1h-1zM22 40h1v1h-1zM28 40h1v1h-1zM29 41h1v1h-1zM29 42h1v1h-1z" fill="#d2dbe8"/><path d="M16 0h1v1h-1zM16 1h1v1h-1zM5 2h1v1h-1zM8 2h1v1h-1zM26 2h1v1h-1zM15 3h1v1h-1zM18 3h1v1h-1zM22 5h1v1h-1zM6 6h1v1h-1zM6 7h1v1h-1zM4 8h2v1h-2zM12 8h1v1h-1zM16 8h1v1h-1zM0 9h2v1h-2zM6 9h1v1h-1zM13 9h2v1h-2zM6 11h1v1h-1zM9 11h1v1h-1zM13 11h1v1h-1zM18 11h1v1h-1zM2 12h1v1h-1zM13 12h1v1h-1zM15 12h1v1h-1zM12 13h2v1h-2zM21 13h1v1h-1zM14 14h1v1h-1zM17 14h1v1h-1zM25 14h1v1h-1zM2 15h1v1h-1zM7 15h1v1h-1zM4 16h1v1h-1zM5 17h1v1h-1zM9 17h1v1h-1zM11 17h1v1h-1zM3 18h1v1h-1zM9 18h1v1h-1zM12 18h1v1h-1zM19 18h1v1h-1zM21 18h1v1h-1zM3 19h2v1h-2zM14 19h1v1h-1zM17 19h1v1h-1zM20 19h1v1h-1zM24 19h1v1h-1zM0 20h2v1h-2zM30 21h1v1h-1zM33 21h1v1h-1zM26 22h1v1h-1zM23 23h1v1h-1zM26 23h1v1h-1zM13 24h1v1h-1zM21 25h1v1h-1zM20 27h2v1h-2zM23 29h1v1h-1zM27 29h1v1h-1zM30 29h1v1h-1zM8 31h1v1h-1zM11 31h1v1h-1zM23 31h1v1h-1zM6 32h1v1h-1zM11 32h1v1h-1zM20 32h2v1h-2zM40 32h1v1h-1zM11 33h1v1h-1zM22 33h2v1h-2zM20 34h1v1h-1zM34 34h1v1h-1zM21 36h1v1h-1zM12 37h1v1h-1zM21 37h1v1h-1zM2 38h1v1h-1zM21 38h1v1h-1zM27 38h1v1h-1zM30 38h1v1h-1zM14 39h1v1h-1zM3 40h1v1h-1zM20 40h1v1h-1zM0 41h2v1h-2zM6 41h1v1h-1zM0 42h2v1h-2zM6 42h1v1h-1z" fill="#d3dbe7"/><path d="M14 2h2v1h-2zM6 3h1v1h-1zM11 3h1v1h-1zM9 4h1v1h-1zM19 4h1v1h-1zM3 5h1v1h-1zM11 5h1v1h-1zM15 5h1v1h-1zM7 6h1v1h-1zM13 7h1v1h-1zM26 7h1v1h-1zM17 9h1v1h-1zM2 10h1v1h-1zM16 10h1v1h-1zM10 12h1v1h-1zM18 12h1v1h-1zM26 12h1v1h-1zM11 13h1v1h-1zM19 13h1v1h-1zM23 13h1v1h-1zM20 15h1v1h-1zM15 16h1v1h-1zM18 16h1v1h-1zM7 17h1v1h-1zM18 17h1v1h-1zM0 18h2v1h-2zM24 18h1v1h-1zM8 19h1v1h-1zM12 19h1v1h-1zM21 19h1v1h-1zM11 20h1v1h-1zM23 21h1v1h-1zM23 22h1v1h-1zM9 23h1v1h-1zM6 24h1v1h-1zM29 24h1v1h-1zM34 24h1v1h-1zM26 25h1v1h-1zM0 26h2v1h-2zM3 26h1v1h-1zM10 26h1v1h-1zM15 27h1v1h-1zM19 27h1v1h-1zM23 27h1v1h-1zM32 27h1v1h-1zM19 28h1v1h-1zM21 28h2v1h-2zM33 28h1v1h-1zM4 29h1v1h-1zM11 29h1v1h-1zM20 29h1v1h-1zM24 29h1v1h-1zM38 29h1v1h-1zM16 30h1v1h-1zM23 30h2v1h-2zM31 30h1v1h-1zM36 30h1v1h-1zM7 31h1v1h-1zM19 31h2v1h-2zM8 32h1v1h-1zM17 32h1v1h-1zM19 33h1v1h-1zM22 34h1v1h-1zM4 35h1v1h-1zM16 35h1v1h-1zM24 35h1v1h-1zM39 35h1v1h-1zM7 36h1v1h-1zM11 36h1v1h-1zM14 36h1v1h-1zM18 36h1v1h-1zM25 36h1v1h-1zM20 37h1v1h-1zM5 38h2v1h-2zM14 38h1v1h-1zM16 38h1v1h-1zM19 38h1v1h-1zM0 39h2v1h-2zM4 39h1v1h-1zM7 39h2v1h-2zM19 39h1v1h-1zM22 39h1v1h-1zM4 40h2v1h-2zM10 40h2v1h-2zM15 40h1v1h-1zM17 40h1v1h-1zM2 41h4v1h-4zM9 41h1v1h-1zM11 41h1v1h-1zM14 41h1v1h-1zM19 41h2v1h-2zM2 42h4v1h-4zM9 42h1v1h-1zM11 42h1v1h-1zM14 42h1v1h-1zM19 42h2v1h-2z" fill="#d5dce5"/><path d="M8 5h1v1h-1zM10 5h1v1h-1zM12 6h1v1h-1zM8 8h1v1h-1zM11 10h1v1h-1zM19 10h1v1h-1zM11 11h1v1h-1zM14 12h1v1h-1zM19 12h1v1h-1zM11 16h1v1h-1zM13 16h1v1h-1zM20 17h1v1h-1zM16 18h1v1h-1zM22 18h1v1h-1zM0 19h3v1h-3zM13 19h1v1h-1zM15 19h1v1h-1zM18 20h1v1h-1zM23 20h1v1h-1zM11 21h1v1h-1zM15 22h1v1h-1zM31 23h1v1h-1zM10 24h1v1h-1zM12 25h1v1h-1zM2 26h1v1h-1zM5 26h1v1h-1zM11 27h1v1h-1zM16 27h1v1h-1zM0 28h2v1h-2zM5 28h1v1h-1zM16 28h2v1h-2zM0 29h2v1h-2zM15 29h1v1h-1zM0 30h2v1h-2zM13 30h1v1h-1zM37 30h1v1h-1zM0 31h2v1h-2zM14 31h1v1h-1zM3 32h2v1h-2zM22 32h1v1h-1zM2 33h1v1h-1zM4 33h2v1h-2zM8 33h1v1h-1zM2 34h1v1h-1zM7 34h1v1h-1zM9 34h1v1h-1zM5 35h1v1h-1zM13 35h1v1h-1zM20 35h1v1h-1zM26 35h1v1h-1zM31 35h1v1h-1zM0 36h3v1h-3zM13 36h1v1h-1zM3 37h1v1h-1zM14 37h1v1h-1zM17 37h1v1h-1zM0 38h2v1h-2zM8 38h1v1h-1zM12 38h1v1h-1zM18 38h1v1h-1zM23 38h1v1h-1zM2 39h1v1h-1zM5 39h2v1h-2zM11 39h1v1h-1zM8 40h1v1h-1zM14 40h1v1h-1zM18 40h1v1h-1zM21 40h1v1h-1zM16 41h1v1h-1zM18 41h1v1h-1zM16 42h1v1h-1zM18 42h1v1h-1z" fill="#d6dce4"/><path d="M18 7h1v1h-1zM12 9h1v1h-1zM20 13h1v1h-1zM19 14h1v1h-1zM15 17h1v1h-1zM17 18h1v1h-1zM25 20h1v1h-1zM7 22h2v1h-2zM2 23h1v1h-1zM5 23h1v1h-1zM7 23h1v1h-1zM12 23h1v1h-1zM14 23h2v1h-2zM17 23h1v1h-1zM4 24h1v1h-1zM11 24h2v1h-2zM20 24h1v1h-1zM3 25h3v1h-3zM10 25h1v1h-1zM7 26h2v1h-2zM11 26h1v1h-1zM17 26h1v1h-1zM2 27h1v1h-1zM14 27h1v1h-1zM17 27h1v1h-1zM8 28h1v1h-1zM18 28h1v1h-1zM2 29h1v1h-1zM6 29h1v1h-1zM8 29h2v1h-2zM4 30h1v1h-1zM6 30h1v1h-1zM11 30h1v1h-1zM20 30h1v1h-1zM4 31h1v1h-1zM13 31h1v1h-1zM16 31h2v1h-2zM21 31h1v1h-1zM0 32h3v1h-3zM12 32h1v1h-1zM18 32h2v1h-2zM0 33h2v1h-2zM7 33h1v1h-1zM9 33h2v1h-2zM12 33h1v1h-1zM6 34h1v1h-1zM13 34h4v1h-4zM21 34h1v1h-1zM26 34h1v1h-1zM2 35h2v1h-2zM6 35h2v1h-2zM21 35h2v1h-2zM8 36h1v1h-1zM16 36h1v1h-1zM19 36h1v1h-1zM0 37h2v1h-2zM4 37h5v1h-5zM16 37h1v1h-1zM18 37h1v1h-1zM9 38h1v1h-1zM11 38h1v1h-1zM13 38h1v1h-1zM20 38h1v1h-1zM3 39h1v1h-1zM10 39h1v1h-1zM13 39h1v1h-1zM15 39h1v1h-1zM13 40h1v1h-1zM16 40h1v1h-1zM8 41h1v1h-1zM10 41h1v1h-1zM12 41h2v1h-2zM15 41h1v1h-1zM8 42h1v1h-1zM10 42h1v1h-1zM12 42h2v1h-2zM15 42h1v1h-1z" fill="#d7dce2"/><path d="M12 2h1v1h-1zM18 19h1v1h-1zM5 20h1v1h-1zM15 20h1v1h-1zM2 21h1v1h-1zM0 22h2v1h-2zM3 23h1v1h-1zM19 23h3v1h-3zM5 24h1v1h-1zM8 24h1v1h-1zM14 24h1v1h-1zM16 24h1v1h-1zM18 24h1v1h-1zM26 24h1v1h-1zM2 25h1v1h-1zM14 25h3v1h-3zM20 25h1v1h-1zM32 25h1v1h-1zM14 26h2v1h-2zM18 26h1v1h-1zM20 26h1v1h-1zM22 26h1v1h-1zM5 27h1v1h-1zM10 27h1v1h-1zM11 28h1v1h-1zM10 29h1v1h-1zM3 30h1v1h-1zM10 30h1v1h-1zM17 30h1v1h-1zM5 31h2v1h-2zM10 31h1v1h-1zM5 32h1v1h-1zM15 32h2v1h-2zM3 33h1v1h-1zM13 33h2v1h-2zM5 34h1v1h-1zM19 34h1v1h-1zM8 35h4v1h-4zM14 35h2v1h-2zM19 35h1v1h-1zM4 36h3v1h-3zM9 36h2v1h-2zM17 36h1v1h-1zM20 36h1v1h-1zM9 37h3v1h-3zM3 38h1v1h-1zM7 38h1v1h-1zM10 38h1v1h-1zM15 38h1v1h-1zM18 39h1v1h-1zM0 40h2v1h-2zM12 40h1v1h-1zM17 41h1v1h-1zM17 42h1v1h-1z" fill="#d9dce1"/><path d="M8 18h1v1h-1zM10 18h1v1h-1zM15 18h1v1h-1zM18 18h1v1h-1zM3 20h1v1h-1zM9 20h1v1h-1zM19 20h1v1h-1zM8 21h2v1h-2zM25 21h1v1h-1zM5 22h1v1h-1zM18 22h2v1h-2zM22 22h1v1h-1zM4 23h1v1h-1zM8 23h1v1h-1zM10 23h2v1h-2zM16 23h1v1h-1zM2 24h1v1h-1zM15 24h1v1h-1zM6 25h1v1h-1zM17 25h1v1h-1zM23 25h1v1h-1zM12 26h1v1h-1zM16 26h1v1h-1zM19 26h1v1h-1zM4 27h1v1h-1zM6 27h2v1h-2zM12 27h1v1h-1zM18 27h1v1h-1zM3 28h2v1h-2zM7 28h1v1h-1zM10 28h1v1h-1zM13 28h1v1h-1zM3 29h1v1h-1zM7 29h1v1h-1zM17 29h1v1h-1zM19 29h1v1h-1zM5 30h1v1h-1zM9 30h1v1h-1zM12 30h1v1h-1zM22 30h1v1h-1zM3 31h1v1h-1zM13 32h1v1h-1zM0 34h2v1h-2zM4 34h1v1h-1zM10 34h1v1h-1zM18 34h1v1h-1zM12 35h1v1h-1zM17 35h2v1h-2zM13 37h1v1h-1zM15 37h1v1h-1zM4 38h1v1h-1zM17 38h1v1h-1zM12 39h1v1h-1zM16 39h1v1h-1zM6 40h1v1h-1zM9 40h1v1h-1zM7 41h1v1h-1zM7 42h1v1h-1z" fill="#dadcdf"/><path d="M8 12h1v1h-1zM16 13h1v1h-1zM16 17h1v1h-1zM11 18h1v1h-1zM2 20h1v1h-1zM8 20h1v1h-1zM10 20h1v1h-1zM17 20h1v1h-1zM4 21h1v1h-1zM14 21h1v1h-1zM9 22h1v1h-1zM16 22h2v1h-2zM0 23h2v1h-2zM6 23h1v1h-1zM18 23h1v1h-1zM7 24h1v1h-1zM13 25h1v1h-1zM18 25h2v1h-2zM22 25h1v1h-1zM4 26h1v1h-1zM6 26h1v1h-1zM9 26h1v1h-1zM13 26h1v1h-1zM3 27h1v1h-1zM8 27h2v1h-2zM13 27h1v1h-1zM2 28h1v1h-1zM5 29h1v1h-1zM13 29h1v1h-1zM16 29h1v1h-1zM18 29h1v1h-1zM2 30h1v1h-1zM7 30h2v1h-2zM14 30h1v1h-1zM18 30h1v1h-1zM21 30h1v1h-1zM15 31h1v1h-1zM7 32h1v1h-1zM9 32h1v1h-1zM6 33h1v1h-1zM16 33h1v1h-1zM17 34h1v1h-1zM0 35h2v1h-2zM3 36h1v1h-1zM17 39h1v1h-1zM19 40h1v1h-1z" fill="#dcdcde"/><path d="M11 19h1v1h-1zM16 19h1v1h-1zM4 20h1v1h-1zM7 20h1v1h-1zM14 20h1v1h-1zM16 20h1v1h-1zM10 21h1v1h-1zM17 21h1v1h-1zM19 21h1v1h-1zM3 22h1v1h-1zM14 22h1v1h-1zM3 24h1v1h-1zM0 25h2v1h-2zM7 25h3v1h-3zM6 28h1v1h-1zM9 28h1v1h-1zM15 28h1v1h-1zM22 29h1v1h-1zM9 31h1v1h-1zM12 31h1v1h-1zM10 32h1v1h-1zM14 32h1v1h-1zM15 33h1v1h-1zM17 33h1v1h-1zM11 34h1v1h-1zM12 36h1v1h-1zM15 36h1v1h-1zM19 37h1v1h-1zM9 39h1v1h-1z" fill="#dddcdc"/><path d="M15 15h1v1h-1zM12 20h1v1h-1zM0 21h2v1h-2zM6 21h1v1h-1zM16 21h1v1h-1zM18 21h1v1h-1zM4 22h1v1h-1zM6 22h1v1h-1zM11 22h1v1h-1zM13 23h1v1h-1zM9 24h1v1h-1zM17 24h1v1h-1zM19 24h1v1h-1z" fill="#dedbda"/><path d="M6 20h1v1h-1zM13 20h1v1h-1zM7 21h1v1h-1zM12 21h1v1h-1zM2 22h1v1h-1zM10 22h1v1h-1zM11 25h1v1h-1zM0 27h2v1h-2zM12 28h1v1h-1zM14 28h1v1h-1zM15 30h1v1h-1zM18 33h1v1h-1z" fill="#dfdbd8"/><path d="M3 21h1v1h-1zM13 21h1v1h-1zM13 22h1v1h-1z" fill="#e1dad7"/><path d="M15 21h1v1h-1zM12 22h1v1h-1z" fill="#e2dad5"/><path d="M5 21h1v1h-1z" fill="#e3d9d3"/><path d="M20 20h1v1h-1zM22 20h1v1h-1z" fill="#e4d8d1"/><path d="M20 22h2v1h-2z" fill="#ebd3c7"/><path d="M22 21h1v1h-1z" fill="#efcdbc"/><path d="M21 20h1v1h-1z" fill="#f0ccba"/><path d="M20 21h1v1h-1z" fill="#f1cbb8"/><path d="M21 21h1v1h-1z" fill="#f4ae92"/></g></g>
<rect x="944" y="1673.6" width="236.2" height="236.2" fill="none" stroke="#000" stroke-width="1.7"/>
<g clip-path="url(#hc10)"><g transform="translate(1185.54 1667.84) scale(5.76098)" filter="url(#hb5)"><rect width="43" height="43" fill="#ccd9ed"/><path d="M38 0h1v1h-1zM38 1h1v1h-1z" fill="#9ab6e2"/><path d="M41 15h2v1h-2z" fill="#a0bce3"/><path d="M35 3h1v1h-1z" fill="#a2bee4"/><path d="M37 3h1v1h-1zM41 4h2v1h-2zM38 7h1v1h-1zM40 9h1v1h-1z" fill="#a4bee4"/><path d="M31 0h1v1h-1zM36 0h1v1h-1zM31 1h1v1h-1zM36 1h1v1h-1zM29 3h1v1h-1zM41 17h2v1h-2z" fill="#a5bfe4"/><path d="M36 4h1v1h-1zM37 5h1v1h-1zM34 7h1v1h-1zM39 7h1v1h-1zM37 8h1v1h-1zM38 9h2v1h-2zM41 9h2v1h-2zM40 15h1v1h-1z" fill="#a6c0e4"/><path d="M28 0h1v1h-1zM35 0h1v1h-1zM39 0h4v1h-4zM28 1h1v1h-1zM35 1h1v1h-1zM39 1h4v1h-4zM33 3h1v1h-1zM41 3h2v1h-2zM39 6h1v1h-1zM37 9h1v1h-1zM33 10h1v1h-1zM41 12h2v1h-2zM37 17h1v1h-1z" fill="#a7c1e5"/><path d="M34 0h1v1h-1zM34 1h1v1h-1zM40 4h1v1h-1zM34 5h1v1h-1zM36 5h1v1h-1zM41 8h2v1h-2zM29 13h1v1h-1z" fill="#a8c2e5"/><path d="M37 0h1v1h-1zM37 1h1v1h-1zM35 2h1v1h-1zM31 3h1v1h-1zM38 4h1v1h-1zM32 5h1v1h-1zM37 6h1v1h-1zM40 7h1v1h-1zM31 8h1v1h-1zM36 8h1v1h-1zM39 8h1v1h-1zM36 10h3v1h-3zM28 12h1v1h-1zM38 12h1v1h-1zM34 14h1v1h-1zM41 16h2v1h-2zM41 23h2v1h-2z" fill="#aac3e6"/><path d="M27 0h1v1h-1zM27 1h1v1h-1zM27 2h1v1h-1zM39 2h1v1h-1zM41 2h2v1h-2zM28 3h1v1h-1zM39 3h1v1h-1zM35 4h1v1h-1zM26 5h1v1h-1zM34 6h1v1h-1zM38 6h1v1h-1zM40 6h1v1h-1zM37 7h1v1h-1zM32 11h1v1h-1zM37 11h1v1h-1zM39 12h1v1h-1z" fill="#acc5e6"/><path d="M32 0h1v1h-1zM32 1h1v1h-1zM31 2h1v1h-1zM36 2h1v1h-1zM25 3h1v1h-1zM25 4h1v1h-1zM29 4h1v1h-1zM31 4h1v1h-1zM31 5h1v1h-1zM29 6h1v1h-1zM31 6h1v1h-1zM32 7h1v1h-1zM38 8h1v1h-1zM25 9h1v1h-1zM31 9h1v1h-1zM30 10h1v1h-1zM39 10h1v1h-1zM41 10h2v1h-2zM26 13h1v1h-1zM35 13h1v1h-1zM37 13h1v1h-1zM41 13h2v1h-2zM36 17h1v1h-1zM38 18h1v1h-1zM30 19h1v1h-1zM38 20h1v1h-1z" fill="#aec6e7"/><path d="M24 0h1v1h-1zM24 1h1v1h-1zM37 2h1v1h-1zM30 3h1v1h-1zM30 4h1v1h-1zM32 4h1v1h-1zM39 4h1v1h-1zM30 5h1v1h-1zM40 5h1v1h-1zM35 6h1v1h-1zM26 8h2v1h-2zM28 9h1v1h-1zM40 11h1v1h-1zM31 12h1v1h-1zM34 12h1v1h-1zM36 12h1v1h-1zM40 12h1v1h-1zM35 14h1v1h-1zM34 16h1v1h-1zM40 19h1v1h-1zM41 20h2v1h-2zM40 21h1v1h-1zM36 26h1v1h-1z" fill="#b0c8e8"/><path d="M25 0h1v1h-1zM29 0h1v1h-1zM25 1h1v1h-1zM29 1h1v1h-1zM30 2h1v1h-1zM34 2h1v1h-1zM40 2h1v1h-1zM33 5h1v1h-1zM25 6h1v1h-1zM27 6h1v1h-1zM32 6h1v1h-1zM36 6h1v1h-1zM30 9h1v1h-1zM36 9h1v1h-1zM33 13h1v1h-1zM38 13h1v1h-1zM36 14h1v1h-1zM41 14h2v1h-2zM32 15h1v1h-1zM36 15h2v1h-2zM39 16h2v1h-2zM31 17h1v1h-1zM31 18h1v1h-1zM30 23h1v1h-1zM36 35h1v1h-1z" fill="#b2c9e8"/><path d="M7 0h1v1h-1zM30 0h1v1h-1zM7 1h1v1h-1zM30 1h1v1h-1zM25 2h1v1h-1zM28 2h1v1h-1zM38 2h1v1h-1zM34 3h1v1h-1zM39 5h1v1h-1zM33 7h1v1h-1zM41 7h2v1h-2zM33 8h2v1h-2zM32 9h1v1h-1zM40 10h1v1h-1zM38 11h2v1h-2zM41 11h2v1h-2zM39 13h2v1h-2zM39 14h2v1h-2zM29 16h1v1h-1zM33 17h2v1h-2zM33 20h1v1h-1zM37 26h1v1h-1zM40 34h1v1h-1z" fill="#b4cae9"/><path d="M33 0h1v1h-1zM33 1h1v1h-1zM26 2h1v1h-1zM24 3h1v1h-1zM32 3h1v1h-1zM36 3h1v1h-1zM38 3h1v1h-1zM26 4h1v1h-1zM28 4h1v1h-1zM28 5h2v1h-2zM27 7h1v1h-1zM35 7h1v1h-1zM28 8h1v1h-1zM32 8h1v1h-1zM26 9h1v1h-1zM34 10h1v1h-1zM25 11h1v1h-1zM27 11h1v1h-1zM37 12h1v1h-1zM31 13h1v1h-1zM26 14h1v1h-1zM30 14h1v1h-1zM38 16h1v1h-1zM35 17h1v1h-1zM40 17h1v1h-1zM40 18h1v1h-1zM35 20h1v1h-1zM39 24h1v1h-1zM41 24h2v1h-2zM40 30h1v1h-1zM41 32h2v1h-2zM37 34h1v1h-1zM37 40h1v1h-1z" fill="#b6ccea"/><path d="M22 0h1v1h-1zM22 1h1v1h-1zM22 2h1v1h-1zM24 2h1v1h-1zM32 2h1v1h-1zM13 3h1v1h-1zM26 3h1v1h-1zM27 5h1v1h-1zM23 6h1v1h-1zM28 6h1v1h-1zM30 6h1v1h-1zM29 8h1v1h-1zM35 8h1v1h-1zM40 8h1v1h-1zM6 9h1v1h-1zM33 9h1v1h-1zM24 10h1v1h-1zM27 10h2v1h-2zM24 11h1v1h-1zM29 11h1v1h-1zM27 12h1v1h-1zM30 12h1v1h-1zM37 14h1v1h-1zM34 15h1v1h-1zM26 16h1v1h-1zM31 16h1v1h-1zM33 16h1v1h-1zM36 16h1v1h-1zM29 18h1v1h-1zM41 19h2v1h-2zM37 21h1v1h-1zM37 22h1v1h-1zM37 24h1v1h-1zM40 24h1v1h-1zM39 27h1v1h-1zM32 38h1v1h-1zM39 39h1v1h-1zM38 41h1v1h-1zM38 42h1v1h-1z" fill="#b8cdeb"/><path d="M21 0h1v1h-1zM26 0h1v1h-1zM21 1h1v1h-1zM26 1h1v1h-1zM33 2h1v1h-1zM22 3h1v1h-1zM19 4h1v1h-1zM24 5h2v1h-2zM41 5h2v1h-2zM26 6h1v1h-1zM23 7h1v1h-1zM28 7h1v1h-1zM31 7h1v1h-1zM23 8h3v1h-3zM13 10h1v1h-1zM31 10h2v1h-2zM30 11h1v1h-1zM32 12h1v1h-1zM36 13h1v1h-1zM29 14h1v1h-1zM29 15h1v1h-1zM32 17h1v1h-1zM39 17h1v1h-1zM33 18h1v1h-1zM35 18h2v1h-2zM39 18h1v1h-1zM41 18h2v1h-2zM33 19h2v1h-2zM38 19h1v1h-1zM34 21h1v1h-1zM36 22h1v1h-1zM39 22h1v1h-1zM37 23h1v1h-1zM41 25h2v1h-2zM40 27h1v1h-1zM31 28h1v1h-1zM39 32h1v1h-1zM39 37h1v1h-1zM39 40h1v1h-1z" fill="#bacfeb"/><path d="M23 2h1v1h-1zM0 3h2v1h-2zM27 4h1v1h-1zM37 4h1v1h-1zM38 5h1v1h-1zM41 6h2v1h-2zM30 7h1v1h-1zM3 9h1v1h-1zM21 9h1v1h-1zM35 9h1v1h-1zM26 10h1v1h-1zM29 12h1v1h-1zM35 12h1v1h-1zM23 13h1v1h-1zM30 13h1v1h-1zM34 13h1v1h-1zM26 15h1v1h-1zM31 15h1v1h-1zM35 15h1v1h-1zM38 15h1v1h-1zM25 16h1v1h-1zM37 16h1v1h-1zM24 18h2v1h-2zM30 18h1v1h-1zM32 19h1v1h-1zM39 19h1v1h-1zM34 20h1v1h-1zM39 20h1v1h-1zM32 21h1v1h-1zM30 22h1v1h-1zM34 23h1v1h-1zM33 24h1v1h-1zM38 25h1v1h-1zM33 35h1v1h-1zM40 37h1v1h-1zM38 38h1v1h-1zM32 39h1v1h-1zM38 40h1v1h-1zM40 41h1v1h-1zM40 42h1v1h-1z" fill="#bcd0ec"/><path d="M21 2h1v1h-1zM23 4h1v1h-1zM24 6h1v1h-1zM26 7h1v1h-1zM24 9h1v1h-1zM27 9h1v1h-1zM29 9h1v1h-1zM28 11h1v1h-1zM31 11h1v1h-1zM25 12h1v1h-1zM33 12h1v1h-1zM25 13h1v1h-1zM32 13h1v1h-1zM27 14h1v1h-1zM30 15h1v1h-1zM28 16h1v1h-1zM32 16h1v1h-1zM30 17h1v1h-1zM26 19h1v1h-1zM35 19h1v1h-1zM40 20h1v1h-1zM36 21h1v1h-1zM38 22h1v1h-1zM35 23h1v1h-1zM38 24h1v1h-1zM29 26h1v1h-1zM41 26h2v1h-2zM40 29h1v1h-1zM36 32h1v1h-1zM35 38h1v1h-1zM38 39h1v1h-1zM35 40h1v1h-1zM34 41h1v1h-1zM37 41h1v1h-1zM34 42h1v1h-1zM37 42h1v1h-1z" fill="#bed1ec"/><path d="M11 0h1v1h-1zM11 1h1v1h-1zM8 3h2v1h-2zM18 5h1v1h-1zM35 5h1v1h-1zM5 6h1v1h-1zM33 6h1v1h-1zM25 7h1v1h-1zM36 7h1v1h-1zM5 10h1v1h-1zM22 10h1v1h-1zM18 11h1v1h-1zM26 11h1v1h-1zM33 11h1v1h-1zM27 13h1v1h-1zM33 14h1v1h-1zM25 15h1v1h-1zM20 16h1v1h-1zM35 16h1v1h-1zM28 17h1v1h-1zM26 18h1v1h-1zM34 18h1v1h-1zM23 19h1v1h-1zM37 19h1v1h-1zM25 20h1v1h-1zM36 20h2v1h-2zM31 21h1v1h-1zM33 21h1v1h-1zM41 21h2v1h-2zM27 23h1v1h-1zM29 23h1v1h-1zM33 25h1v1h-1zM26 26h1v1h-1zM38 26h1v1h-1zM35 27h2v1h-2zM36 28h1v1h-1zM41 28h2v1h-2zM34 29h1v1h-1zM39 29h1v1h-1zM41 30h2v1h-2zM34 31h1v1h-1zM25 33h1v1h-1zM39 33h1v1h-1zM32 34h1v1h-1zM36 34h1v1h-1zM38 35h1v1h-1zM28 36h1v1h-1zM40 36h1v1h-1zM27 37h1v1h-1zM30 37h1v1h-1zM33 37h1v1h-1zM37 37h1v1h-1zM30 38h1v1h-1zM40 40h1v1h-1z" fill="#c0d2ec"/><path d="M9 0h1v1h-1zM9 1h1v1h-1zM20 2h1v1h-1zM21 3h1v1h-1zM40 3h1v1h-1zM3 4h1v1h-1zM16 4h1v1h-1zM24 4h1v1h-1zM34 4h1v1h-1zM29 7h1v1h-1zM2 8h1v1h-1zM13 8h1v1h-1zM22 9h1v1h-1zM34 9h1v1h-1zM29 10h1v1h-1zM35 10h1v1h-1zM35 11h2v1h-2zM22 12h1v1h-1zM4 13h1v1h-1zM25 14h1v1h-1zM28 14h1v1h-1zM32 14h1v1h-1zM33 15h1v1h-1zM24 16h1v1h-1zM30 16h1v1h-1zM31 19h1v1h-1zM32 20h1v1h-1zM29 21h1v1h-1zM39 21h1v1h-1zM28 22h1v1h-1zM31 22h2v1h-2zM35 22h1v1h-1zM41 22h2v1h-2zM27 24h2v1h-2zM31 24h1v1h-1zM36 24h1v1h-1zM39 25h1v1h-1zM30 26h1v1h-1zM32 26h1v1h-1zM34 26h1v1h-1zM39 26h2v1h-2zM30 28h1v1h-1zM36 29h1v1h-1zM29 30h1v1h-1zM38 30h1v1h-1zM37 31h1v1h-1zM35 33h1v1h-1zM35 34h1v1h-1zM39 35h1v1h-1zM29 36h1v1h-1zM33 36h1v1h-1zM36 37h1v1h-1zM27 39h1v1h-1zM29 39h1v1h-1zM33 40h1v1h-1zM36 40h1v1h-1zM36 41h1v1h-1zM36 42h1v1h-1z" fill="#c2d3ec"/><path d="M3 0h1v1h-1zM3 1h1v1h-1zM0 2h2v1h-2zM23 3h1v1h-1zM20 4h1v1h-1zM10 5h1v1h-1zM12 5h1v1h-1zM8 6h1v1h-1zM15 6h1v1h-1zM17 6h1v1h-1zM24 7h1v1h-1zM30 8h1v1h-1zM14 12h1v1h-1zM22 13h1v1h-1zM39 15h1v1h-1zM21 16h1v1h-1zM24 17h1v1h-1zM32 18h1v1h-1zM27 19h1v1h-1zM29 19h1v1h-1zM24 20h1v1h-1zM29 20h1v1h-1zM25 21h1v1h-1zM38 21h1v1h-1zM26 22h1v1h-1zM31 23h3v1h-3zM39 23h2v1h-2zM29 24h1v1h-1zM34 24h1v1h-1zM36 25h1v1h-1zM31 26h1v1h-1zM32 27h1v1h-1zM41 27h2v1h-2zM35 28h1v1h-1zM40 28h1v1h-1zM32 29h1v1h-1zM38 29h1v1h-1zM38 31h1v1h-1zM33 32h1v1h-1zM37 32h2v1h-2zM26 33h1v1h-1zM34 33h1v1h-1zM37 33h2v1h-2zM41 33h2v1h-2zM30 34h1v1h-1zM33 34h1v1h-1zM31 35h1v1h-1zM41 35h2v1h-2zM31 36h1v1h-1zM38 36h2v1h-2zM28 37h1v1h-1zM31 37h1v1h-1zM34 37h1v1h-1zM37 38h1v1h-1zM28 39h1v1h-1zM30 39h1v1h-1zM34 40h1v1h-1zM28 41h3v1h-3zM28 42h3v1h-3z" fill="#c4d4ec"/><path d="M10 0h1v1h-1zM10 1h1v1h-1zM11 2h1v1h-1zM29 2h1v1h-1zM3 3h1v1h-1zM3 5h1v1h-1zM9 5h1v1h-1zM15 5h1v1h-1zM23 5h1v1h-1zM7 6h1v1h-1zM22 7h1v1h-1zM20 8h1v1h-1zM10 9h1v1h-1zM8 10h1v1h-1zM20 11h1v1h-1zM34 11h1v1h-1zM12 12h1v1h-1zM24 12h1v1h-1zM26 12h1v1h-1zM17 13h1v1h-1zM24 14h1v1h-1zM22 15h1v1h-1zM4 16h1v1h-1zM10 17h1v1h-1zM27 17h1v1h-1zM38 17h1v1h-1zM37 18h1v1h-1zM36 19h1v1h-1zM31 20h1v1h-1zM27 21h1v1h-1zM33 22h1v1h-1zM25 24h1v1h-1zM35 24h1v1h-1zM29 25h1v1h-1zM34 25h2v1h-2zM28 26h1v1h-1zM38 27h1v1h-1zM33 28h1v1h-1zM26 29h1v1h-1zM33 30h1v1h-1zM31 31h1v1h-1zM33 31h1v1h-1zM36 31h1v1h-1zM40 31h1v1h-1zM40 33h1v1h-1zM41 34h2v1h-2zM26 35h1v1h-1zM37 35h1v1h-1zM25 36h1v1h-1zM34 36h1v1h-1zM32 37h1v1h-1zM35 37h1v1h-1zM41 37h2v1h-2zM29 38h1v1h-1zM36 38h1v1h-1zM40 39h1v1h-1zM26 40h3v1h-3zM27 41h1v1h-1zM33 41h1v1h-1zM27 42h1v1h-1zM33 42h1v1h-1z" fill="#c6d6ed"/><path d="M4 0h1v1h-1zM8 0h1v1h-1zM13 0h3v1h-3zM4 1h1v1h-1zM8 1h1v1h-1zM13 1h3v1h-3zM5 2h1v1h-1zM19 2h1v1h-1zM16 3h1v1h-1zM21 4h1v1h-1zM9 6h1v1h-1zM19 6h1v1h-1zM5 7h1v1h-1zM13 7h1v1h-1zM6 8h1v1h-1zM12 8h1v1h-1zM14 8h1v1h-1zM18 8h1v1h-1zM22 8h1v1h-1zM7 9h1v1h-1zM21 10h1v1h-1zM25 10h1v1h-1zM0 12h2v1h-2zM21 12h1v1h-1zM3 13h1v1h-1zM28 13h1v1h-1zM6 14h3v1h-3zM31 14h1v1h-1zM38 14h1v1h-1zM27 15h2v1h-2zM5 16h1v1h-1zM19 16h1v1h-1zM27 16h1v1h-1zM23 17h1v1h-1zM20 18h1v1h-1zM23 18h1v1h-1zM27 18h1v1h-1zM30 20h1v1h-1zM26 21h1v1h-1zM29 22h1v1h-1zM40 22h1v1h-1zM27 26h1v1h-1zM33 26h1v1h-1zM25 27h1v1h-1zM29 27h1v1h-1zM37 27h1v1h-1zM29 29h1v1h-1zM27 30h2v1h-2zM31 30h1v1h-1zM41 31h2v1h-2zM26 32h2v1h-2zM33 33h1v1h-1zM26 34h1v1h-1zM39 34h1v1h-1zM29 35h1v1h-1zM35 35h1v1h-1zM40 35h1v1h-1zM24 36h1v1h-1zM26 36h1v1h-1zM35 36h2v1h-2zM26 39h1v1h-1zM41 39h2v1h-2zM30 40h2v1h-2zM31 41h1v1h-1zM41 41h2v1h-2zM31 42h1v1h-1zM41 42h2v1h-2z" fill="#c8d7ed"/><path d="M5 0h1v1h-1zM18 0h1v1h-1zM5 1h1v1h-1zM18 1h1v1h-1zM8 2h1v1h-1zM2 3h1v1h-1zM6 3h1v1h-1zM18 3h1v1h-1zM27 3h1v1h-1zM7 4h1v1h-1zM11 4h1v1h-1zM5 5h3v1h-3zM0 6h2v1h-2zM13 6h1v1h-1zM7 7h2v1h-2zM12 7h1v1h-1zM14 7h1v1h-1zM17 7h1v1h-1zM3 8h1v1h-1zM2 9h1v1h-1zM18 9h1v1h-1zM0 10h2v1h-2zM8 12h1v1h-1zM0 13h2v1h-2zM9 13h2v1h-2zM21 13h1v1h-1zM5 14h1v1h-1zM2 15h1v1h-1zM23 15h1v1h-1zM17 16h1v1h-1zM23 16h1v1h-1zM26 17h1v1h-1zM29 17h1v1h-1zM27 20h2v1h-2zM30 21h1v1h-1zM35 21h1v1h-1zM25 22h1v1h-1zM24 23h1v1h-1zM26 23h1v1h-1zM36 23h1v1h-1zM38 23h1v1h-1zM26 25h1v1h-1zM37 25h1v1h-1zM35 26h1v1h-1zM30 27h1v1h-1zM34 27h1v1h-1zM24 28h1v1h-1zM26 28h1v1h-1zM37 28h1v1h-1zM41 29h2v1h-2zM26 30h1v1h-1zM27 31h1v1h-1zM22 32h1v1h-1zM35 32h1v1h-1zM24 33h1v1h-1zM30 33h1v1h-1zM34 34h1v1h-1zM38 34h1v1h-1zM30 35h1v1h-1zM32 35h1v1h-1zM30 36h1v1h-1zM29 37h1v1h-1zM38 37h1v1h-1zM27 38h1v1h-1zM31 38h1v1h-1zM33 38h1v1h-1zM40 38h3v1h-3zM25 39h1v1h-1zM33 39h1v1h-1zM36 39h1v1h-1zM22 41h1v1h-1zM25 41h1v1h-1zM22 42h1v1h-1zM25 42h1v1h-1z" fill="#cad8ed"/><path d="M6 2h1v1h-1zM0 4h2v1h-2zM9 4h1v1h-1zM17 4h1v1h-1zM2 5h1v1h-1zM21 5h1v1h-1zM20 6h1v1h-1zM2 7h1v1h-1zM4 7h1v1h-1zM6 7h1v1h-1zM20 7h1v1h-1zM7 8h1v1h-1zM10 8h1v1h-1zM21 8h1v1h-1zM5 9h1v1h-1zM9 9h1v1h-1zM23 9h1v1h-1zM2 10h1v1h-1zM17 10h1v1h-1zM0 11h2v1h-2zM5 11h1v1h-1zM21 11h2v1h-2zM11 13h1v1h-1zM23 14h1v1h-1zM5 15h1v1h-1zM12 15h1v1h-1zM24 15h1v1h-1zM0 16h2v1h-2zM11 17h1v1h-1zM21 18h1v1h-1zM28 19h1v1h-1zM28 21h1v1h-1zM23 22h1v1h-1zM24 24h1v1h-1zM30 24h1v1h-1zM30 25h2v1h-2zM25 28h1v1h-1zM28 28h1v1h-1zM38 28h1v1h-1zM24 29h2v1h-2zM31 29h1v1h-1zM37 29h1v1h-1zM35 30h1v1h-1zM37 30h1v1h-1zM25 31h1v1h-1zM39 31h1v1h-1zM29 33h1v1h-1zM25 34h1v1h-1zM23 35h2v1h-2zM24 37h1v1h-1zM23 38h1v1h-1zM26 38h1v1h-1zM28 38h1v1h-1zM32 40h1v1h-1zM41 40h2v1h-2zM23 41h1v1h-1zM23 42h1v1h-1z" fill="#cdd9ec"/><path d="M0 0h2v1h-2zM16 0h2v1h-2zM19 0h1v1h-1zM0 1h2v1h-2zM16 1h2v1h-2zM19 1h1v1h-1zM3 2h1v1h-1zM13 2h1v1h-1zM4 3h2v1h-2zM15 3h1v1h-1zM12 4h1v1h-1zM22 5h1v1h-1zM11 6h1v1h-1zM14 6h1v1h-1zM21 6h1v1h-1zM3 7h1v1h-1zM10 7h1v1h-1zM5 8h1v1h-1zM12 9h1v1h-1zM19 9h1v1h-1zM7 10h1v1h-1zM2 11h1v1h-1zM10 11h1v1h-1zM19 11h1v1h-1zM10 12h1v1h-1zM23 12h1v1h-1zM7 13h1v1h-1zM12 14h1v1h-1zM16 14h1v1h-1zM0 15h2v1h-2zM3 15h1v1h-1zM6 15h1v1h-1zM10 15h1v1h-1zM19 15h1v1h-1zM22 16h1v1h-1zM4 17h1v1h-1zM7 17h1v1h-1zM5 18h1v1h-1zM0 19h2v1h-2zM26 20h1v1h-1zM24 21h1v1h-1zM24 22h1v1h-1zM34 22h1v1h-1zM24 25h1v1h-1zM24 27h1v1h-1zM28 27h1v1h-1zM35 29h1v1h-1zM22 30h1v1h-1zM24 30h1v1h-1zM32 30h1v1h-1zM29 31h1v1h-1zM23 32h2v1h-2zM28 32h1v1h-1zM31 32h1v1h-1zM23 33h1v1h-1zM28 33h1v1h-1zM31 33h1v1h-1zM27 34h1v1h-1zM32 36h1v1h-1zM22 39h1v1h-1zM37 39h1v1h-1zM24 41h1v1h-1zM39 41h1v1h-1zM24 42h1v1h-1zM39 42h1v1h-1z" fill="#cfdaea"/><path d="M12 0h1v1h-1zM20 0h1v1h-1zM12 1h1v1h-1zM20 1h1v1h-1zM4 2h1v1h-1zM12 2h1v1h-1zM15 2h1v1h-1zM11 3h1v1h-1zM19 3h2v1h-2zM4 4h1v1h-1zM16 5h1v1h-1zM18 6h1v1h-1zM4 8h1v1h-1zM8 8h1v1h-1zM11 8h1v1h-1zM19 8h1v1h-1zM3 11h1v1h-1zM12 11h1v1h-1zM4 12h1v1h-1zM6 12h1v1h-1zM17 12h1v1h-1zM5 13h2v1h-2zM16 13h1v1h-1zM19 13h2v1h-2zM2 14h1v1h-1zM4 14h1v1h-1zM22 14h1v1h-1zM9 15h1v1h-1zM14 15h1v1h-1zM18 15h1v1h-1zM9 16h1v1h-1zM3 17h1v1h-1zM13 17h2v1h-2zM0 18h2v1h-2zM7 18h1v1h-1zM11 18h1v1h-1zM2 19h1v1h-1zM23 23h1v1h-1zM25 25h1v1h-1zM27 25h1v1h-1zM32 25h1v1h-1zM33 27h1v1h-1zM23 29h1v1h-1zM28 29h1v1h-1zM30 30h1v1h-1zM34 32h1v1h-1zM27 35h1v1h-1zM27 36h1v1h-1zM22 37h1v1h-1zM26 37h1v1h-1zM24 38h1v1h-1zM24 39h1v1h-1z" fill="#d0dae9"/><path d="M6 0h1v1h-1zM6 1h1v1h-1zM9 2h2v1h-2zM16 2h1v1h-1zM10 3h1v1h-1zM12 3h1v1h-1zM6 4h1v1h-1zM22 4h1v1h-1zM0 5h2v1h-2zM14 5h1v1h-1zM2 6h1v1h-1zM4 6h1v1h-1zM11 7h1v1h-1zM13 9h1v1h-1zM3 10h1v1h-1zM6 10h1v1h-1zM4 11h1v1h-1zM16 11h1v1h-1zM15 12h1v1h-1zM4 15h1v1h-1zM3 16h1v1h-1zM6 16h1v1h-1zM6 17h1v1h-1zM15 17h1v1h-1zM18 17h1v1h-1zM12 18h1v1h-1zM22 18h1v1h-1zM25 19h1v1h-1zM9 20h1v1h-1zM25 23h1v1h-1zM22 24h1v1h-1zM20 25h1v1h-1zM28 25h1v1h-1zM27 27h1v1h-1zM20 28h1v1h-1zM23 28h1v1h-1zM27 29h1v1h-1zM24 31h1v1h-1zM26 31h1v1h-1zM32 31h1v1h-1zM21 33h1v1h-1zM27 33h1v1h-1zM22 34h2v1h-2zM29 34h1v1h-1zM25 35h1v1h-1zM22 36h2v1h-2zM25 38h1v1h-1zM22 40h1v1h-1zM24 40h2v1h-2z" fill="#d2dbe8"/><path d="M14 2h1v1h-1zM10 4h1v1h-1zM11 5h1v1h-1zM20 5h1v1h-1zM12 6h1v1h-1zM16 8h1v1h-1zM0 9h2v1h-2zM14 9h1v1h-1zM20 9h1v1h-1zM4 10h1v1h-1zM9 10h1v1h-1zM12 10h1v1h-1zM15 10h2v1h-2zM18 10h2v1h-2zM23 11h1v1h-1zM2 13h1v1h-1zM13 13h1v1h-1zM9 14h2v1h-2zM15 14h1v1h-1zM18 14h1v1h-1zM20 14h2v1h-2zM13 15h1v1h-1zM8 16h1v1h-1zM11 16h1v1h-1zM15 16h1v1h-1zM5 17h1v1h-1zM9 17h1v1h-1zM4 18h1v1h-1zM9 18h2v1h-2zM14 18h1v1h-1zM18 18h1v1h-1zM4 19h1v1h-1zM14 23h1v1h-1zM32 24h1v1h-1zM21 25h1v1h-1zM22 26h3v1h-3zM29 28h1v1h-1zM32 28h1v1h-1zM20 30h1v1h-1zM22 31h2v1h-2zM25 32h1v1h-1zM21 34h1v1h-1zM20 35h1v1h-1zM21 37h1v1h-1zM25 37h1v1h-1zM19 38h1v1h-1zM22 38h1v1h-1zM39 38h1v1h-1z" fill="#d3dbe7"/><path d="M7 3h1v1h-1zM2 4h1v1h-1zM16 6h1v1h-1zM9 7h1v1h-1zM15 7h1v1h-1zM15 8h1v1h-1zM11 10h1v1h-1zM20 10h1v1h-1zM7 11h2v1h-2zM15 11h1v1h-1zM2 12h1v1h-1zM9 12h1v1h-1zM19 12h1v1h-1zM14 13h1v1h-1zM12 17h1v1h-1zM21 17h1v1h-1zM13 18h1v1h-1zM17 18h1v1h-1zM28 18h1v1h-1zM3 19h1v1h-1zM10 19h1v1h-1zM21 23h1v1h-1zM21 24h1v1h-1zM21 26h1v1h-1zM25 26h1v1h-1zM26 27h1v1h-1zM34 28h1v1h-1zM29 32h1v1h-1zM20 34h1v1h-1zM18 36h1v1h-1zM21 36h1v1h-1zM0 37h2v1h-2zM20 37h1v1h-1zM2 38h1v1h-1zM21 39h1v1h-1zM21 40h1v1h-1zM10 41h1v1h-1zM14 41h1v1h-1zM18 41h1v1h-1zM10 42h1v1h-1zM14 42h1v1h-1zM18 42h1v1h-1z" fill="#d5dce5"/><path d="M23 0h1v1h-1zM23 1h1v1h-1zM2 2h1v1h-1zM13 5h1v1h-1zM17 5h1v1h-1zM19 7h1v1h-1zM21 7h1v1h-1zM11 9h1v1h-1zM15 9h1v1h-1zM14 10h1v1h-1zM16 12h1v1h-1zM12 13h1v1h-1zM3 14h1v1h-1zM11 14h1v1h-1zM14 14h1v1h-1zM17 14h1v1h-1zM20 15h1v1h-1zM14 16h1v1h-1zM19 17h1v1h-1zM25 17h1v1h-1zM2 18h2v1h-2zM6 18h1v1h-1zM15 18h1v1h-1zM12 19h1v1h-1zM17 19h2v1h-2zM22 19h1v1h-1zM24 19h1v1h-1zM3 20h1v1h-1zM7 22h2v1h-2zM12 23h1v1h-1zM23 27h1v1h-1zM19 28h1v1h-1zM23 30h1v1h-1zM39 30h1v1h-1zM8 31h1v1h-1zM17 32h1v1h-1zM19 32h1v1h-1zM15 35h1v1h-1zM4 36h1v1h-1zM10 36h1v1h-1zM20 36h1v1h-1zM23 37h1v1h-1zM0 38h2v1h-2zM4 38h1v1h-1zM20 38h1v1h-1zM17 40h1v1h-1zM20 40h1v1h-1zM3 41h1v1h-1zM5 41h1v1h-1zM7 41h1v1h-1zM12 41h1v1h-1zM3 42h1v1h-1zM5 42h1v1h-1zM7 42h1v1h-1zM12 42h1v1h-1z" fill="#d6dce4"/><path d="M14 3h1v1h-1zM15 4h1v1h-1zM16 7h1v1h-1zM9 11h1v1h-1zM11 11h1v1h-1zM13 11h1v1h-1zM5 12h1v1h-1zM13 14h1v1h-1zM11 15h1v1h-1zM16 15h2v1h-2zM2 16h1v1h-1zM12 16h1v1h-1zM2 17h1v1h-1zM17 17h1v1h-1zM20 17h1v1h-1zM16 18h1v1h-1zM19 18h1v1h-1zM7 19h1v1h-1zM9 19h1v1h-1zM11 19h1v1h-1zM19 19h1v1h-1zM0 20h2v1h-2zM2 21h1v1h-1zM11 21h1v1h-1zM22 23h1v1h-1zM28 23h1v1h-1zM2 24h1v1h-1zM12 24h1v1h-1zM19 25h1v1h-1zM21 27h2v1h-2zM22 28h1v1h-1zM18 29h2v1h-2zM12 32h1v1h-1zM3 33h1v1h-1zM6 33h1v1h-1zM22 33h1v1h-1zM0 34h2v1h-2zM3 34h1v1h-1zM8 34h1v1h-1zM18 34h1v1h-1zM6 35h1v1h-1zM9 35h1v1h-1zM19 35h1v1h-1zM21 35h2v1h-2zM5 36h1v1h-1zM2 37h1v1h-1zM4 37h1v1h-1zM8 37h1v1h-1zM15 37h1v1h-1zM11 38h1v1h-1zM21 38h1v1h-1zM5 39h1v1h-1zM7 39h2v1h-2zM17 39h1v1h-1zM0 40h3v1h-3zM0 41h3v1h-3zM6 41h1v1h-1zM20 41h2v1h-2zM0 42h3v1h-3zM6 42h1v1h-1zM20 42h2v1h-2z" fill="#d7dce2"/><path d="M15 13h1v1h-1zM7 15h1v1h-1zM10 16h1v1h-1zM16 16h1v1h-1zM8 17h1v1h-1zM8 18h1v1h-1zM16 19h1v1h-1zM21 19h1v1h-1zM7 20h1v1h-1zM23 20h1v1h-1zM3 21h1v1h-1zM15 21h1v1h-1zM5 22h1v1h-1zM0 23h2v1h-2zM19 23h1v1h-1zM7 24h1v1h-1zM23 24h1v1h-1zM26 24h1v1h-1zM23 25h1v1h-1zM20 27h1v1h-1zM5 28h1v1h-1zM12 28h1v1h-1zM21 28h1v1h-1zM27 28h1v1h-1zM3 29h1v1h-1zM4 30h1v1h-1zM20 31h1v1h-1zM6 32h1v1h-1zM20 32h1v1h-1zM8 33h1v1h-1zM19 33h1v1h-1zM9 34h1v1h-1zM19 34h1v1h-1zM6 36h2v1h-2zM11 37h1v1h-1zM19 37h1v1h-1zM4 39h1v1h-1zM10 39h1v1h-1zM14 39h2v1h-2zM3 40h1v1h-1zM7 40h1v1h-1zM11 40h1v1h-1zM18 40h1v1h-1zM13 41h1v1h-1zM17 41h1v1h-1zM19 41h1v1h-1zM13 42h1v1h-1zM17 42h1v1h-1zM19 42h1v1h-1z" fill="#d9dce1"/><path d="M14 4h1v1h-1zM17 8h1v1h-1zM18 13h1v1h-1zM15 15h1v1h-1zM6 19h1v1h-1zM8 19h1v1h-1zM14 19h1v1h-1zM10 20h2v1h-2zM16 20h3v1h-3zM8 21h2v1h-2zM17 21h1v1h-1zM23 21h1v1h-1zM13 22h1v1h-1zM3 23h1v1h-1zM8 23h1v1h-1zM6 24h1v1h-1zM10 24h1v1h-1zM20 24h1v1h-1zM9 25h1v1h-1zM14 25h1v1h-1zM18 25h1v1h-1zM2 27h1v1h-1zM9 27h1v1h-1zM0 28h2v1h-2zM6 28h1v1h-1zM2 29h1v1h-1zM6 29h1v1h-1zM20 29h2v1h-2zM10 30h1v1h-1zM18 30h1v1h-1zM0 31h2v1h-2zM11 31h1v1h-1zM15 32h1v1h-1zM21 32h1v1h-1zM4 33h1v1h-1zM7 33h1v1h-1zM10 33h1v1h-1zM12 33h1v1h-1zM4 34h1v1h-1zM14 34h1v1h-1zM2 35h1v1h-1zM14 35h1v1h-1zM0 36h2v1h-2zM3 36h1v1h-1zM9 36h1v1h-1zM14 36h3v1h-3zM19 36h1v1h-1zM3 37h1v1h-1zM3 38h1v1h-1zM5 38h1v1h-1zM8 38h2v1h-2zM16 38h2v1h-2zM0 39h2v1h-2zM3 39h1v1h-1zM6 39h1v1h-1zM9 39h1v1h-1zM11 39h1v1h-1zM18 39h3v1h-3zM13 40h1v1h-1zM16 40h1v1h-1zM19 40h1v1h-1zM4 41h1v1h-1zM8 41h2v1h-2zM11 41h1v1h-1zM4 42h1v1h-1zM8 42h2v1h-2zM11 42h1v1h-1z" fill="#dadcdf"/><path d="M19 5h1v1h-1zM16 9h1v1h-1zM19 14h1v1h-1zM16 17h1v1h-1zM13 19h1v1h-1zM6 20h1v1h-1zM13 20h1v1h-1zM10 21h1v1h-1zM10 22h1v1h-1zM6 23h1v1h-1zM13 23h1v1h-1zM13 24h1v1h-1zM17 24h1v1h-1zM0 25h2v1h-2zM17 25h1v1h-1zM2 26h1v1h-1zM7 26h1v1h-1zM17 26h1v1h-1zM19 26h2v1h-2zM18 27h1v1h-1zM2 28h1v1h-1zM11 28h1v1h-1zM10 29h1v1h-1zM16 29h1v1h-1zM0 30h3v1h-3zM8 30h1v1h-1zM16 30h1v1h-1zM19 30h1v1h-1zM3 31h1v1h-1zM14 31h1v1h-1zM2 32h3v1h-3zM7 32h1v1h-1zM0 33h2v1h-2zM9 33h1v1h-1zM16 34h1v1h-1zM3 35h1v1h-1zM7 35h2v1h-2zM11 35h1v1h-1zM13 35h1v1h-1zM16 35h1v1h-1zM18 35h1v1h-1zM2 36h1v1h-1zM8 36h1v1h-1zM13 36h1v1h-1zM6 37h2v1h-2zM9 37h1v1h-1zM12 37h1v1h-1zM14 37h1v1h-1zM6 38h1v1h-1zM10 38h1v1h-1zM12 38h3v1h-3zM2 39h1v1h-1zM4 40h2v1h-2zM8 40h2v1h-2zM15 40h1v1h-1z" fill="#dcdcde"/><path d="M18 12h1v1h-1zM18 16h1v1h-1zM20 19h1v1h-1zM5 20h1v1h-1zM8 20h1v1h-1zM15 20h1v1h-1zM4 21h1v1h-1zM7 21h1v1h-1zM11 22h1v1h-1zM5 23h1v1h-1zM11 23h1v1h-1zM20 23h1v1h-1zM0 24h2v1h-2zM8 24h1v1h-1zM14 24h3v1h-3zM2 25h1v1h-1zM22 25h1v1h-1zM5 26h1v1h-1zM8 26h1v1h-1zM13 26h1v1h-1zM15 26h2v1h-2zM4 27h1v1h-1zM12 27h1v1h-1zM15 27h1v1h-1zM8 28h1v1h-1zM18 28h1v1h-1zM7 29h3v1h-3zM6 30h1v1h-1zM13 30h2v1h-2zM4 31h1v1h-1zM6 31h1v1h-1zM9 31h2v1h-2zM12 31h1v1h-1zM17 31h1v1h-1zM19 31h1v1h-1zM5 32h1v1h-1zM10 32h1v1h-1zM2 33h1v1h-1zM5 33h1v1h-1zM11 33h1v1h-1zM14 33h2v1h-2zM18 33h1v1h-1zM5 34h3v1h-3zM13 34h1v1h-1zM15 34h1v1h-1zM0 35h2v1h-2zM5 35h1v1h-1zM12 35h1v1h-1zM17 35h1v1h-1zM17 36h1v1h-1zM5 37h1v1h-1zM13 37h1v1h-1zM7 38h1v1h-1zM15 38h1v1h-1zM18 38h1v1h-1zM12 39h1v1h-1zM6 40h1v1h-1zM10 40h1v1h-1zM14 40h1v1h-1zM15 41h1v1h-1zM15 42h1v1h-1z" fill="#dddcdc"/><path d="M17 9h1v1h-1zM5 19h1v1h-1zM15 19h1v1h-1zM2 20h1v1h-1zM4 20h1v1h-1zM6 21h1v1h-1zM2 22h3v1h-3zM6 22h1v1h-1zM19 22h1v1h-1zM2 23h1v1h-1zM9 23h1v1h-1zM4 24h1v1h-1zM9 24h1v1h-1zM11 24h1v1h-1zM3 25h1v1h-1zM5 25h1v1h-1zM7 25h1v1h-1zM13 25h1v1h-1zM16 25h1v1h-1zM4 26h1v1h-1zM10 26h3v1h-3zM8 27h1v1h-1zM19 27h1v1h-1zM7 28h1v1h-1zM10 28h1v1h-1zM15 28h2v1h-2zM13 29h1v1h-1zM15 29h1v1h-1zM5 30h1v1h-1zM15 30h1v1h-1zM21 30h1v1h-1zM5 31h1v1h-1zM0 32h2v1h-2zM9 32h1v1h-1zM18 32h1v1h-1zM17 33h1v1h-1zM2 34h1v1h-1zM10 34h1v1h-1zM12 34h1v1h-1zM12 36h1v1h-1zM13 39h1v1h-1zM12 40h1v1h-1z" fill="#dedbda"/><path d="M19 20h1v1h-1zM0 21h2v1h-2zM5 21h1v1h-1zM9 22h1v1h-1zM12 22h1v1h-1zM14 22h1v1h-1zM7 23h1v1h-1zM19 24h1v1h-1zM4 25h1v1h-1zM10 25h1v1h-1zM6 26h1v1h-1zM14 26h1v1h-1zM18 26h1v1h-1zM0 27h2v1h-2zM7 27h1v1h-1zM11 27h1v1h-1zM3 28h2v1h-2zM9 28h1v1h-1zM13 28h2v1h-2zM17 28h1v1h-1zM11 29h2v1h-2zM17 29h1v1h-1zM3 30h1v1h-1zM12 30h1v1h-1zM16 31h1v1h-1zM18 31h1v1h-1zM21 31h1v1h-1zM11 32h1v1h-1zM13 32h2v1h-2zM16 32h1v1h-1zM16 33h1v1h-1zM20 33h1v1h-1zM17 34h1v1h-1zM4 35h1v1h-1zM11 36h1v1h-1zM16 39h1v1h-1zM16 41h1v1h-1zM16 42h1v1h-1z" fill="#dfdbd8"/><path d="M12 20h1v1h-1zM14 20h1v1h-1zM14 21h1v1h-1zM19 21h1v1h-1zM15 22h1v1h-1zM4 23h1v1h-1zM17 23h2v1h-2zM3 24h1v1h-1zM6 25h1v1h-1zM15 25h1v1h-1zM0 26h2v1h-2zM3 26h1v1h-1zM9 26h1v1h-1zM3 27h1v1h-1zM5 27h2v1h-2zM10 27h1v1h-1zM13 27h1v1h-1zM0 29h2v1h-2zM5 29h1v1h-1zM9 30h1v1h-1zM11 30h1v1h-1zM15 31h1v1h-1zM13 33h1v1h-1zM10 35h1v1h-1zM16 37h2v1h-2z" fill="#e1dad7"/><path d="M12 21h2v1h-2zM0 22h2v1h-2zM17 22h1v1h-1zM16 23h1v1h-1zM5 24h1v1h-1zM14 27h1v1h-1zM17 27h1v1h-1zM4 29h1v1h-1zM17 30h1v1h-1zM7 31h1v1h-1zM13 31h1v1h-1zM11 34h1v1h-1zM10 37h1v1h-1z" fill="#e2dad5"/><path d="M22 22h1v1h-1zM11 25h2v1h-2zM16 27h1v1h-1zM2 31h1v1h-1zM8 32h1v1h-1z" fill="#e3d9d3"/><path d="M22 20h1v1h-1zM16 21h1v1h-1zM16 22h1v1h-1zM10 23h1v1h-1zM15 23h1v1h-1zM8 25h1v1h-1zM14 29h1v1h-1zM18 37h1v1h-1z" fill="#e4d8d1"/><path d="M18 21h1v1h-1zM18 22h1v1h-1zM7 30h1v1h-1z" fill="#e5d7d0"/><path d="M18 24h1v1h-1z" fill="#e7d7ce"/><path d="M20 20h1v1h-1z" fill="#e9d5cb"/><path d="M20 22h1v1h-1z" fill="#edd0c2"/><path d="M21 20h1v1h-1zM21 22h1v1h-1z" fill="#efcebe"/><path d="M22 21h1v1h-1z" fill="#f0ccba"/><path d="M20 21h1v1h-1z" fill="#f4bfa7"/><path d="M21 21h1v1h-1z" fill="#f19c7f"/></g></g>
<rect x="1191.3" y="1673.6" width="236.2" height="236.2" fill="none" stroke="#000" stroke-width="1.7"/>
<text x="1061.5" y="1392" font-size="25" text-anchor="middle">non-sig. (increased NN)</text>
<text x="1061.5" y="1416.6" font-size="25" text-anchor="middle">n=1874</text>
<text x="1308.8" y="1392" font-size="25" text-anchor="middle">increased</text>
<text x="1308.8" y="1416.6" font-size="25" text-anchor="middle">n=1855</text>
<text x="934.5" y="1541.9" font-size="25" text-anchor="middle" transform="rotate(-90 934.5 1541.9)">DMSO 90min</text>
<text x="934.5" y="1792.7" font-size="25" text-anchor="middle" transform="rotate(-90 934.5 1792.7)">dTAG 90min</text>
<line x1="946.9" y1="1909.7" x2="946.9" y2="1919.4" stroke="#000" stroke-width="1.4"/>
<line x1="1061.4" y1="1909.7" x2="1061.4" y2="1919.4" stroke="#000" stroke-width="1.4"/>
<line x1="1176.8" y1="1909.7" x2="1176.8" y2="1919.4" stroke="#000" stroke-width="1.4"/>
<text x="947.2" y="1936.7" font-size="20.8" text-anchor="middle">-100kb</text>
<text x="1176.8" y="1936.7" font-size="20.8" text-anchor="middle">100kb</text>
<text x="1062" y="1960.5" font-size="20.8" text-anchor="middle" font-weight="bold">distance from TE-P</text>
<text x="1062" y="1980.8" font-size="20.8" text-anchor="middle" font-weight="bold">contact center</text>
<rect x="1191.5" y="1948.5" width="235.7" height="23.2" fill="url(#cb)" stroke="#000" stroke-width="1.2"/>
<line x1="1191.5" y1="1971.7" x2="1191.5" y2="1981.5" stroke="#000" stroke-width="1.3"/>
<text x="1191.5" y="2000.2" font-size="20.8" text-anchor="middle">−1.0</text>
<line x1="1250.42" y1="1971.7" x2="1250.42" y2="1981.5" stroke="#000" stroke-width="1.3"/>
<text x="1250.42" y="2000.2" font-size="20.8" text-anchor="middle">−0.5</text>
<line x1="1309.35" y1="1971.7" x2="1309.35" y2="1981.5" stroke="#000" stroke-width="1.3"/>
<text x="1309.35" y="2000.2" font-size="20.8" text-anchor="middle">0.0</text>
<line x1="1368.28" y1="1971.7" x2="1368.28" y2="1981.5" stroke="#000" stroke-width="1.3"/>
<text x="1368.28" y="2000.2" font-size="20.8" text-anchor="middle">0.5</text>
<line x1="1427.2" y1="1971.7" x2="1427.2" y2="1981.5" stroke="#000" stroke-width="1.3"/>
<text x="1427.2" y="2000.2" font-size="20.8" text-anchor="middle">1.0</text>
<text x="1309.2" y="1937.3" font-size="23" text-anchor="middle">log<tspan dy="8.74" font-size="13.8">2</tspan><tspan dy="-8.74">obs/exp</tspan></text>
<text x="3" y="28" font-size="41" font-weight="bold">a</text>
<text x="4" y="765" font-size="41" font-weight="bold">b</text>
<text x="345" y="763.7" font-size="41" font-weight="bold">c</text>
<text x="723" y="765.8" font-size="41" font-weight="bold">d</text>
<text x="345" y="1586.3" font-size="41" font-weight="bold">e</text>
</svg>
</body></html>
